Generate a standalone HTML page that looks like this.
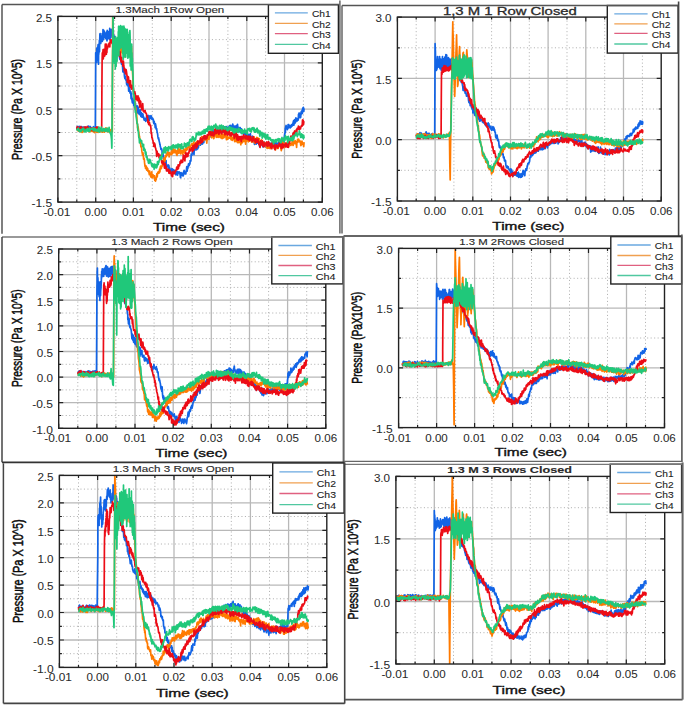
<!DOCTYPE html><html><head><meta charset="utf-8"><style>html,body{margin:0;padding:0;background:#fff;}svg{display:block;}</style></head><body>
<svg width="685" height="706" viewBox="0 0 685 706">
<rect width="685" height="706" fill="#fff"/>
<line x1="76.8" y1="16.4" x2="76.8" y2="202.1" stroke="#b4b4b4" stroke-width="1" stroke-dasharray="1.1,2.4"/><line x1="95.7" y1="16.4" x2="95.7" y2="202.1" stroke="#b8b8b8" stroke-width="1.3"/><line x1="114.6" y1="16.4" x2="114.6" y2="202.1" stroke="#b4b4b4" stroke-width="1" stroke-dasharray="1.1,2.4"/><line x1="133.4" y1="16.4" x2="133.4" y2="202.1" stroke="#b8b8b8" stroke-width="1.3"/><line x1="152.3" y1="16.4" x2="152.3" y2="202.1" stroke="#b4b4b4" stroke-width="1" stroke-dasharray="1.1,2.4"/><line x1="171.2" y1="16.4" x2="171.2" y2="202.1" stroke="#b8b8b8" stroke-width="1.3"/><line x1="190.1" y1="16.4" x2="190.1" y2="202.1" stroke="#b4b4b4" stroke-width="1" stroke-dasharray="1.1,2.4"/><line x1="209.0" y1="16.4" x2="209.0" y2="202.1" stroke="#b8b8b8" stroke-width="1.3"/><line x1="227.9" y1="16.4" x2="227.9" y2="202.1" stroke="#b4b4b4" stroke-width="1" stroke-dasharray="1.1,2.4"/><line x1="246.8" y1="16.4" x2="246.8" y2="202.1" stroke="#b8b8b8" stroke-width="1.3"/><line x1="265.6" y1="16.4" x2="265.6" y2="202.1" stroke="#b4b4b4" stroke-width="1" stroke-dasharray="1.1,2.4"/><line x1="284.5" y1="16.4" x2="284.5" y2="202.1" stroke="#b8b8b8" stroke-width="1.3"/><line x1="303.4" y1="16.4" x2="303.4" y2="202.1" stroke="#b4b4b4" stroke-width="1" stroke-dasharray="1.1,2.4"/><line x1="57.9" y1="178.9" x2="322.3" y2="178.9" stroke="#b4b4b4" stroke-width="1" stroke-dasharray="1.1,2.4"/><line x1="57.9" y1="155.7" x2="322.3" y2="155.7" stroke="#b8b8b8" stroke-width="1.3"/><line x1="57.9" y1="132.5" x2="322.3" y2="132.5" stroke="#b4b4b4" stroke-width="1" stroke-dasharray="1.1,2.4"/><line x1="57.9" y1="109.2" x2="322.3" y2="109.2" stroke="#b8b8b8" stroke-width="1.3"/><line x1="57.9" y1="86.0" x2="322.3" y2="86.0" stroke="#b4b4b4" stroke-width="1" stroke-dasharray="1.1,2.4"/><line x1="57.9" y1="62.8" x2="322.3" y2="62.8" stroke="#b8b8b8" stroke-width="1.3"/><line x1="57.9" y1="39.6" x2="322.3" y2="39.6" stroke="#b4b4b4" stroke-width="1" stroke-dasharray="1.1,2.4"/>
<clipPath id="cTL"><rect x="57.9" y="16.9" width="264.4" height="185.2"/></clipPath>
<g fill="none" stroke-width="1.7" stroke-linejoin="round" clip-path="url(#cTL)">
<path d="M76.8,127.6 77.1,128.7 77.5,126.6 77.8,126.8 78.1,126.5 78.5,127.7 78.8,128.1 79.2,127.0 79.5,130.1 79.8,126.4 80.2,127.7 80.5,127.9 80.9,126.9 81.2,127.4 81.5,126.7 81.9,129.0 82.2,127.4 82.6,128.7 82.9,127.1 83.2,130.1 83.6,127.5 83.9,127.3 84.3,127.1 84.6,129.3 84.9,127.8 85.3,127.7 85.6,127.7 86.0,129.0 86.3,127.6 86.6,128.2 87.0,127.5 87.3,127.9 87.7,126.5 88.0,127.6 88.3,127.8 88.7,126.0 89.0,127.8 89.4,127.8 89.7,129.3 90.0,128.4 90.4,126.7 90.7,128.3 91.1,128.0 91.4,128.2 91.7,130.7 92.1,129.6 92.4,128.1 92.8,128.7 93.1,127.5 93.4,126.7 93.8,129.5 94.1,128.9 94.5,128.7 94.8,127.4 95.1,127.0 95.3,129.5 95.5,92.7 95.7,52.8 95.8,59.0 96.0,57.3 96.1,54.7 96.2,55.6 96.4,54.8 96.5,59.8 96.6,62.5 96.7,48.5 96.8,48.2 96.9,57.9 97.0,48.0 97.1,55.4 97.3,53.7 97.4,50.0 97.5,60.5 97.7,54.9 97.8,54.4 97.9,46.7 98.1,44.6 98.2,50.7 98.3,45.1 98.5,64.2 98.6,52.3 98.7,52.1 98.7,54.7 98.9,52.1 99.0,51.6 99.1,46.3 99.3,42.8 99.4,40.3 99.5,51.8 99.7,40.0 99.8,38.1 99.9,34.1 100.1,33.6 100.2,38.1 100.2,35.4 100.3,40.7 100.4,42.7 100.6,40.8 100.7,43.5 100.8,43.1 101.0,40.0 101.1,39.0 101.2,41.2 101.4,38.3 101.5,38.7 101.6,37.6 101.8,35.8 101.9,41.0 102.0,37.8 102.2,33.6 102.3,41.4 102.4,38.2 102.6,33.5 102.7,34.6 102.8,37.8 103.0,29.5 103.1,31.5 103.2,33.2 103.4,34.9 103.5,39.7 103.6,33.8 103.8,30.4 103.9,37.0 104.0,32.0 104.2,31.2 104.3,31.4 104.4,36.1 104.5,35.8 104.7,35.1 104.8,37.5 104.9,36.7 105.1,37.6 105.2,35.3 105.3,33.6 105.5,36.7 105.6,34.6 105.7,38.4 105.9,32.8 106.0,35.4 106.1,35.1 106.3,39.3 106.4,35.6 106.5,31.9 106.7,40.1 106.8,37.8 106.9,38.1 107.0,40.9 107.1,40.0 107.2,30.4 107.3,35.8 107.5,39.0 107.6,33.7 107.7,32.4 107.9,37.2 108.0,35.6 108.1,37.7 108.2,38.4 108.4,36.9 108.5,31.6 108.6,34.0 108.8,35.5 108.9,32.3 109.0,35.0 109.2,31.5 109.3,38.9 109.4,35.3 109.6,39.1 109.7,28.4 109.8,36.1 110.0,32.4 110.1,39.7 110.2,31.3 110.4,37.8 110.5,36.5 110.6,34.3 110.8,36.2 110.9,29.7 111.0,37.4 111.2,32.6 111.3,30.1 111.4,30.8 111.6,34.2 111.7,34.1 111.8,29.4 112.0,32.5 112.1,32.1 112.2,34.7 112.3,33.0 112.5,35.5 112.6,35.9 112.7,30.4 112.7,36.0 112.9,34.4 113.0,35.8 113.1,39.5 113.3,31.6 113.4,35.3 113.5,38.4 113.7,40.4 113.8,38.7 113.9,42.8 114.1,43.5 114.2,39.8 114.3,40.5 114.5,36.2 114.6,40.4 114.7,41.0 114.9,43.0 115.0,43.1 115.1,39.0 115.3,42.7 115.4,46.0 115.5,47.6 115.7,48.5 115.8,42.6 115.9,43.8 116.0,44.7 116.2,45.8 116.3,45.4 116.4,46.3 116.8,47.0 117.1,49.1 117.5,48.8 117.8,51.4 118.1,50.7 118.5,48.7 118.8,50.1 119.2,54.6 119.5,57.2 119.8,59.2 120.2,59.6 120.2,58.5 120.5,55.8 120.9,59.8 121.2,60.6 121.5,64.2 121.9,62.9 122.2,62.7 122.6,67.2 122.9,71.9 123.2,67.7 123.6,72.1 123.9,71.2 124.3,73.4 124.4,75.7 124.6,77.1 124.9,78.7 125.3,76.2 125.6,78.2 126.0,80.3 126.3,79.9 126.6,84.3 127.0,83.6 127.3,85.7 127.7,83.0 128.0,82.1 128.3,83.7 128.7,91.2 128.9,88.5 129.0,90.4 129.4,85.0 129.7,87.0 130.0,93.0 130.4,93.2 130.7,91.6 131.1,98.8 131.4,93.1 131.7,97.6 132.1,100.8 132.4,102.8 132.7,102.3 132.8,98.6 133.1,102.6 133.4,99.7 133.8,105.4 134.1,100.3 134.5,105.3 134.8,107.6 135.1,103.3 135.3,104.1 135.5,103.3 135.8,109.7 136.2,107.7 136.5,109.1 136.8,111.9 137.2,105.8 137.5,106.6 137.9,113.2 138.2,107.1 138.5,110.1 138.9,110.9 139.2,114.4 139.6,113.3 139.9,111.0 140.2,109.8 140.6,115.6 140.9,116.5 141.0,116.5 141.3,112.6 141.6,113.5 141.9,117.1 142.3,114.6 142.6,113.8 143.0,114.3 143.3,117.6 143.6,116.9 144.0,119.4 144.3,120.1 144.7,119.6 145.0,118.4 145.3,119.3 145.7,121.4 146.0,118.9 146.4,119.0 146.7,115.7 146.7,116.6 147.0,116.1 147.4,120.6 147.7,119.4 148.1,115.3 148.4,116.9 148.7,120.1 149.1,119.2 149.4,120.1 149.8,115.9 150.1,116.4 150.4,118.1 150.8,116.7 151.1,115.7 151.5,118.0 151.6,116.8 151.8,119.2 152.1,119.5 152.5,118.0 152.8,118.9 153.2,119.0 153.5,120.8 153.8,123.7 154.2,121.4 154.5,123.3 154.9,123.9 155.2,127.7 155.5,123.9 155.9,126.2 156.1,127.9 156.2,129.2 156.6,128.4 156.9,130.6 157.2,132.3 157.6,134.0 157.9,136.7 158.3,138.8 158.6,137.7 158.9,140.0 159.3,141.6 159.6,142.7 159.9,145.0 160.0,144.0 160.3,146.5 160.6,147.1 161.0,149.5 161.3,149.1 161.7,148.9 162.0,150.4 162.3,156.4 162.7,156.4 163.0,153.5 163.4,158.6 163.7,156.9 164.0,161.9 164.4,159.8 164.7,159.8 165.1,160.5 165.4,160.8 165.7,163.7 166.1,160.6 166.4,167.1 166.8,165.8 167.1,165.5 167.4,166.4 167.8,166.8 168.1,164.9 168.5,168.3 168.8,165.3 169.1,167.2 169.5,171.9 169.7,170.2 169.8,168.0 170.2,170.3 170.5,172.7 170.8,171.0 171.2,171.6 171.5,171.0 171.9,168.7 172.2,171.9 172.5,173.6 172.9,169.3 173.2,169.9 173.6,169.8 173.9,173.5 174.2,171.7 174.6,171.3 174.9,170.4 175.3,171.8 175.6,172.2 175.7,173.0 175.9,174.9 176.3,171.8 176.6,171.3 177.0,172.5 177.3,171.5 177.6,175.2 178.0,172.5 178.3,172.9 178.7,172.0 179.0,172.6 179.3,172.0 179.7,173.7 180.0,173.5 180.4,177.5 180.7,177.7 181.0,172.5 181.4,174.9 181.7,173.7 182.1,173.2 182.4,175.4 182.7,175.7 183.1,175.9 183.4,175.1 183.7,171.6 183.8,171.8 184.1,170.4 184.4,171.8 184.8,173.8 185.1,173.9 185.5,173.2 185.8,173.9 186.1,171.4 186.5,169.2 186.7,167.2 186.8,166.6 187.2,171.1 187.5,167.4 187.8,168.6 188.2,166.0 188.5,163.8 188.9,164.1 189.2,165.6 189.5,163.2 189.9,164.0 190.2,160.7 190.6,161.4 190.9,160.7 191.2,154.6 191.6,154.1 191.6,154.5 191.9,155.2 192.3,152.6 192.6,150.9 192.9,152.6 193.3,152.7 193.6,152.2 194.0,154.6 194.3,148.8 194.6,148.4 195.0,147.6 195.3,148.0 195.7,149.9 196.0,148.9 196.3,148.4 196.7,149.7 197.0,148.7 197.4,146.4 197.7,144.8 197.7,148.9 198.0,144.3 198.4,147.7 198.7,144.2 199.1,144.5 199.4,144.2 199.7,142.7 200.1,144.3 200.4,145.1 200.8,140.2 201.1,143.6 201.4,144.1 201.8,143.5 202.1,143.1 202.5,144.0 202.8,138.0 203.1,138.5 203.5,139.1 203.8,142.6 204.2,137.1 204.5,136.8 204.8,136.2 205.2,137.9 205.2,138.9 205.5,136.4 205.9,136.8 206.2,140.0 206.5,140.8 206.9,138.8 207.2,139.4 207.6,139.0 207.9,136.8 208.2,135.3 208.6,135.6 208.9,135.1 209.3,135.6 209.6,136.2 209.9,133.7 210.3,135.8 210.6,136.7 210.9,132.4 211.3,135.6 211.6,135.6 212.0,132.7 212.3,132.9 212.6,132.7 213.0,130.5 213.3,131.9 213.7,131.3 214.0,132.0 214.3,132.5 214.7,131.7 215.0,134.2 215.4,134.6 215.4,131.4 215.7,134.5 216.0,129.9 216.4,132.1 216.7,130.4 217.1,132.2 217.4,134.2 217.7,134.9 218.1,134.2 218.4,131.4 218.8,133.2 219.1,130.1 219.4,132.5 219.8,131.3 220.1,131.9 220.5,127.5 220.8,131.6 221.1,132.5 221.5,132.5 221.8,128.2 222.2,129.5 222.5,127.3 222.8,132.3 223.2,130.0 223.5,126.6 223.9,128.7 224.2,129.3 224.5,126.9 224.9,131.5 225.2,127.1 225.6,129.2 225.9,129.0 226.2,129.1 226.6,126.5 226.9,129.0 227.3,127.4 227.6,130.1 227.9,129.2 228.3,127.5 228.6,128.2 229.0,126.6 229.3,128.8 229.6,125.5 230.0,129.6 230.3,129.9 230.7,125.3 231.0,126.6 231.3,129.7 231.7,128.6 232.0,126.1 232.4,128.9 232.7,124.0 233.0,125.2 233.4,127.5 233.7,126.0 234.1,127.9 234.4,129.8 234.7,126.5 235.1,125.9 235.4,130.4 235.8,130.5 236.1,129.9 236.4,130.1 236.8,125.4 237.1,129.2 237.5,124.3 237.8,127.3 238.1,130.2 238.1,127.0 238.5,131.5 238.8,129.9 239.2,127.7 239.5,128.7 239.8,131.8 240.2,127.7 240.5,130.2 240.9,131.7 241.2,132.9 241.5,128.8 241.9,131.4 242.2,131.7 242.6,132.8 242.9,130.9 243.2,134.1 243.6,134.0 243.9,134.2 244.3,130.9 244.6,133.7 244.9,133.7 245.3,133.9 245.6,134.5 246.0,132.2 246.3,136.7 246.6,133.6 247.0,138.1 247.3,135.4 247.5,133.4 247.7,137.4 248.0,135.1 248.3,137.3 248.7,137.6 249.0,134.7 249.4,137.5 249.7,136.5 250.0,135.4 250.4,133.7 250.7,139.7 251.1,138.3 251.4,140.6 251.7,140.9 252.1,137.0 252.4,136.2 252.8,138.7 253.1,138.1 253.4,141.6 253.8,141.9 254.1,141.3 254.5,144.4 254.8,142.9 255.1,142.4 255.5,140.0 255.8,141.5 256.2,144.1 256.5,142.0 256.8,142.9 257.0,143.2 257.2,143.2 257.5,142.9 257.9,141.8 258.2,143.4 258.5,142.6 258.9,144.5 259.2,143.0 259.6,146.6 259.9,142.5 260.2,141.9 260.6,142.5 260.9,143.0 261.3,144.2 261.6,142.7 261.9,143.5 262.3,145.6 262.6,145.2 263.0,147.0 263.3,146.2 263.6,146.1 264.0,141.9 264.3,145.8 264.7,143.3 265.0,146.0 265.3,146.7 265.7,144.7 266.0,143.0 266.4,147.4 266.4,147.0 266.7,143.8 267.0,145.6 267.4,147.5 267.7,144.3 268.1,147.8 268.4,147.7 268.7,147.9 269.1,143.6 269.4,143.3 269.8,142.9 270.1,144.3 270.4,143.6 270.8,144.0 271.1,143.6 271.5,143.6 271.8,146.1 272.1,143.7 272.5,144.5 272.8,145.9 273.2,146.5 273.5,143.0 273.8,142.8 274.2,145.2 274.5,142.4 274.9,144.3 275.2,144.3 275.5,142.5 275.8,141.9 275.9,145.7 276.2,141.3 276.6,143.5 276.9,143.3 277.2,144.7 277.6,143.7 277.9,145.6 278.3,143.5 278.6,142.1 278.9,140.6 279.3,140.6 279.6,141.5 280.0,142.3 280.3,140.9 280.6,144.3 281.0,142.2 281.3,140.2 281.7,142.8 282.0,139.5 282.3,141.1 282.7,142.8 283.0,143.9 283.4,144.5 283.7,142.1 284.0,144.5 284.2,140.0 284.4,136.4 284.7,134.3 285.1,132.5 285.3,128.0 285.4,132.3 285.7,126.6 286.1,125.5 286.4,127.8 286.8,127.3 287.1,127.3 287.4,129.6 287.8,128.2 288.1,124.6 288.5,128.0 288.8,124.6 289.1,127.0 289.5,125.8 289.8,127.5 290.2,127.9 290.5,125.6 290.8,126.6 291.2,127.0 291.5,124.8 291.9,125.2 292.2,126.0 292.5,123.8 292.8,125.3 292.9,123.8 293.2,122.2 293.6,120.7 293.9,125.1 294.2,121.4 294.6,119.6 294.9,123.4 295.3,121.3 295.6,122.2 295.9,117.8 296.3,119.7 296.6,120.4 297.0,121.0 297.3,120.0 297.6,118.7 298.0,120.3 298.3,119.3 298.5,114.4 298.7,116.5 299.0,113.2 299.3,116.0 299.7,113.4 300.0,117.8 300.4,115.7 300.7,117.3 301.0,113.0 301.4,111.3 301.7,113.8 302.1,110.0 302.4,113.3 302.7,108.1 303.1,108.6 303.4,107.3 303.8,111.5 304.1,108.5" stroke="#1264e6"/>
<path d="M76.8,130.3 77.1,130.1 77.5,129.9 77.8,128.8 78.1,130.9 78.5,131.1 78.8,130.2 79.2,129.6 79.5,127.8 79.8,129.3 80.2,130.1 80.5,129.7 80.9,132.0 81.2,129.8 81.5,128.8 81.9,131.3 82.2,132.5 82.6,131.6 82.9,130.2 83.2,131.5 83.6,129.6 83.9,129.1 84.3,128.5 84.6,130.0 84.9,130.4 85.3,128.5 85.6,128.9 86.0,129.3 86.3,129.4 86.6,128.6 87.0,129.0 87.3,129.0 87.7,129.8 88.0,129.3 88.3,130.1 88.7,129.4 89.0,131.8 89.4,131.2 89.7,131.6 90.0,129.9 90.4,131.4 90.7,129.2 91.1,129.4 91.4,128.8 91.7,131.5 92.1,131.5 92.4,128.9 92.8,128.4 93.1,128.4 93.4,131.7 93.8,130.5 94.1,128.2 94.5,132.7 94.8,130.1 95.1,131.7 95.5,130.9 95.8,131.0 96.2,130.1 96.5,132.1 96.8,132.2 97.2,130.5 97.5,129.4 97.9,132.4 98.2,131.6 98.5,131.8 98.9,129.1 99.2,129.7 99.6,130.9 99.9,128.6 100.2,129.3 100.6,131.2 100.9,130.3 101.3,130.2 101.6,132.0 101.9,130.1 102.3,131.7 102.6,132.2 103.0,130.1 103.3,129.7 103.6,129.4 104.0,130.3 104.3,132.2 104.7,130.4 105.0,128.8 105.3,128.7 105.7,128.0 106.0,130.0 106.4,131.4 106.7,129.4 107.0,128.4 107.4,129.2 107.7,130.8 108.1,131.1 108.4,131.8 108.7,131.5 109.1,131.0 109.4,130.6 109.8,132.1 110.1,129.6 110.4,131.3 110.8,131.8 111.1,130.9 111.5,131.9 111.8,128.9 112.1,131.2 112.3,131.7 112.5,73.4 112.7,14.9 112.8,26.4 113.0,33.1 113.1,25.8 113.2,31.4 113.3,37.9 113.5,38.0 113.6,50.0 113.7,54.8 113.8,45.3 113.9,51.3 114.0,50.1 114.1,51.0 114.3,44.2 114.4,55.3 114.5,47.5 114.7,51.7 114.8,44.7 114.9,53.2 115.1,41.6 115.2,49.5 115.3,48.0 115.5,42.1 115.6,42.2 115.7,44.4 115.9,41.7 116.0,48.7 116.1,49.4 116.3,50.0 116.4,45.5 116.5,45.2 116.7,44.8 116.8,46.6 116.9,49.2 117.1,47.0 117.2,42.4 117.3,54.2 117.4,51.1 117.6,43.7 117.7,40.1 117.8,47.4 118.0,41.5 118.1,53.1 118.2,51.9 118.3,44.4 118.4,45.8 118.5,48.0 118.6,43.9 118.8,40.5 118.9,38.6 119.0,49.2 119.2,45.7 119.3,53.5 119.4,51.8 119.6,51.5 119.7,53.6 119.8,52.7 120.0,43.5 120.1,42.2 120.2,50.6 120.4,52.3 120.5,50.9 120.6,55.9 120.8,52.9 120.9,49.0 121.0,44.4 121.1,44.1 121.3,50.9 121.4,52.1 121.5,49.6 121.7,47.6 121.8,51.0 121.9,41.0 122.1,40.3 122.2,46.7 122.3,43.2 122.5,43.7 122.6,39.6 122.7,40.4 122.9,50.7 123.0,51.0 123.1,49.2 123.3,50.9 123.4,51.2 123.5,52.2 123.7,41.2 123.8,39.8 123.9,41.9 124.0,47.2 124.1,47.0 124.2,55.0 124.3,45.4 124.5,54.0 124.6,46.2 124.7,50.6 124.8,45.7 125.0,56.8 125.1,43.2 125.2,50.5 125.4,43.1 125.5,50.1 125.6,48.6 125.8,51.7 125.9,41.9 126.0,51.5 126.2,44.5 126.3,49.7 126.4,48.0 126.6,48.0 126.7,52.8 126.8,47.5 127.0,45.0 127.1,42.8 127.2,43.2 127.4,44.2 127.5,50.2 127.6,49.2 127.8,54.3 127.9,52.4 128.0,46.6 128.2,46.1 128.3,47.2 128.4,44.7 128.6,50.5 128.7,45.7 128.8,46.2 128.9,51.6 129.1,54.3 129.2,51.0 129.3,43.3 129.5,44.8 129.6,52.5 129.7,44.7 129.7,52.6 129.9,55.2 130.0,49.8 130.1,56.0 130.3,53.9 130.4,57.2 130.5,55.8 130.7,58.3 130.8,48.8 130.9,53.2 131.1,52.5 131.2,48.9 131.3,55.3 131.5,46.3 131.6,62.2 131.6,48.0 131.7,57.5 131.9,52.7 132.0,62.8 132.1,67.3 132.3,70.8 132.4,70.3 132.7,75.3 133.1,87.5 133.4,89.0 133.7,93.3 134.1,94.6 134.4,99.2 134.8,98.9 135.1,105.2 135.4,109.1 135.8,107.8 136.1,113.6 136.5,113.3 136.8,116.7 137.1,123.9 137.5,124.0 137.6,127.9 137.8,125.9 138.2,127.6 138.5,130.0 138.8,132.5 139.2,135.4 139.5,136.2 139.9,140.1 140.2,141.7 140.5,142.3 140.9,146.8 141.2,146.1 141.6,148.1 141.8,150.8 141.9,151.4 142.2,152.7 142.6,155.3 142.9,152.7 143.3,155.1 143.6,159.2 143.9,158.1 144.3,159.2 144.6,162.9 145.0,166.5 145.3,165.4 145.5,168.1 145.6,168.5 146.0,166.6 146.3,166.2 146.7,170.1 147.0,167.5 147.3,170.4 147.7,168.7 148.0,171.5 148.4,170.6 148.7,170.9 149.0,172.8 149.4,174.7 149.7,171.0 150.1,174.9 150.4,173.8 150.7,176.9 151.1,173.0 151.4,177.1 151.6,177.0 151.8,171.9 152.1,177.9 152.4,175.0 152.8,176.0 153.1,174.8 153.5,175.6 153.8,176.1 154.1,178.1 154.5,175.9 154.8,180.5 155.2,178.0 155.4,180.2 155.5,181.1 155.8,177.9 156.2,179.7 156.5,176.6 156.9,173.7 157.2,177.0 157.5,174.3 157.9,172.1 158.2,172.4 158.6,173.0 158.9,171.4 159.1,173.0 159.2,172.8 159.6,169.1 159.9,171.8 160.3,167.3 160.6,166.3 160.9,166.0 161.3,168.7 161.6,166.6 162.0,166.4 162.3,165.8 162.6,161.2 163.0,164.4 163.3,161.2 163.3,163.3 163.7,161.0 164.0,157.9 164.3,158.8 164.7,160.5 165.0,161.1 165.4,156.1 165.7,155.5 166.0,156.9 166.4,156.1 166.7,153.3 167.1,155.4 167.4,151.9 167.4,153.9 167.7,153.5 168.1,154.2 168.4,153.7 168.8,152.4 169.1,156.9 169.4,153.8 169.8,153.0 170.1,153.6 170.5,154.3 170.8,154.4 171.1,154.8 171.5,150.9 171.8,151.8 172.2,153.8 172.5,150.6 172.8,149.5 173.1,152.4 173.2,148.5 173.5,151.2 173.9,152.9 174.2,152.3 174.5,151.0 174.9,149.7 175.2,152.3 175.6,150.2 175.9,150.6 176.2,153.8 176.6,151.2 176.9,155.5 177.3,153.0 177.6,151.1 177.9,149.7 178.3,150.4 178.6,147.5 178.8,153.4 179.0,150.5 179.3,151.3 179.6,150.6 180.0,149.4 180.3,149.7 180.7,154.0 181.0,152.4 181.3,152.2 181.7,151.5 182.0,150.5 182.4,151.6 182.7,154.2 183.0,150.6 183.4,152.4 183.7,148.7 184.1,150.4 184.4,150.1 184.7,153.1 184.8,152.4 185.1,149.7 185.4,151.9 185.8,150.4 186.1,147.7 186.4,150.2 186.8,148.6 187.1,149.6 187.5,149.6 187.8,147.1 188.1,147.5 188.5,146.6 188.8,143.2 189.2,147.7 189.5,146.7 189.8,146.6 190.1,150.2 190.2,148.1 190.5,146.2 190.9,145.9 191.2,144.5 191.5,144.4 191.9,143.6 192.2,143.7 192.6,145.9 192.9,144.3 193.2,143.5 193.6,144.7 193.9,141.9 194.3,145.8 194.6,144.4 194.9,144.1 195.3,143.7 195.6,144.2 196.0,142.9 196.3,145.5 196.6,141.5 197.0,142.6 197.3,142.0 197.7,144.0 198.0,142.5 198.3,141.8 198.7,142.5 199.0,144.5 199.4,143.7 199.7,142.9 200.0,143.9 200.4,142.0 200.7,140.5 201.1,140.0 201.4,139.3 201.7,136.5 202.1,140.8 202.4,141.0 202.8,141.1 203.1,137.4 203.4,138.6 203.8,139.9 204.1,139.9 204.5,139.4 204.8,139.8 205.1,137.5 205.5,138.0 205.8,138.9 206.2,137.0 206.5,139.2 206.8,143.1 207.2,135.5 207.5,139.4 207.9,136.1 208.2,137.4 208.5,138.6 208.9,136.1 209.0,139.5 209.2,137.5 209.6,135.1 209.9,136.0 210.2,135.1 210.6,134.9 210.9,135.0 211.3,134.2 211.6,137.8 211.9,133.7 212.3,134.6 212.6,135.7 213.0,133.8 213.3,136.8 213.6,138.6 214.0,138.2 214.3,133.6 214.7,133.3 215.0,134.9 215.3,133.8 215.7,134.9 216.0,136.4 216.4,137.3 216.7,134.2 217.0,137.0 217.4,133.9 217.7,135.2 218.1,137.4 218.4,135.1 218.7,135.3 219.1,137.0 219.2,136.2 219.4,133.4 219.8,134.7 220.1,134.8 220.4,137.7 220.8,135.0 221.1,137.8 221.5,134.5 221.8,134.5 222.1,138.6 222.5,135.1 222.8,136.1 223.2,134.2 223.5,138.0 223.8,136.4 224.2,137.4 224.5,136.2 224.8,136.6 225.2,133.7 225.5,136.5 225.9,134.8 226.2,138.3 226.5,139.7 226.9,135.5 227.2,135.8 227.6,139.4 227.9,137.4 227.9,138.5 228.2,138.0 228.6,138.4 228.9,137.2 229.3,138.2 229.6,138.1 229.9,137.4 230.3,135.9 230.6,134.9 231.0,139.6 231.3,137.0 231.6,140.0 232.0,137.2 232.3,140.3 232.7,138.7 233.0,138.1 233.3,139.4 233.7,136.7 234.0,136.9 234.4,140.0 234.7,141.7 235.0,138.9 235.4,137.9 235.7,141.3 236.1,139.9 236.4,140.8 236.7,139.0 237.1,141.8 237.4,142.4 237.8,141.2 238.1,139.9 238.1,142.7 238.4,141.5 238.8,138.6 239.1,139.8 239.5,142.5 239.8,138.6 240.1,139.5 240.5,141.3 240.8,144.8 241.2,140.8 241.5,139.9 241.8,143.2 242.2,140.8 242.5,142.3 242.9,140.3 243.2,139.2 243.5,139.5 243.9,141.3 244.2,140.4 244.6,138.7 244.9,141.7 245.2,137.7 245.6,144.1 245.9,140.5 246.3,141.2 246.6,137.8 246.8,137.2 246.9,140.6 247.3,136.9 247.6,139.6 248.0,137.8 248.3,141.8 248.6,140.0 249.0,139.3 249.3,141.2 249.7,138.2 250.0,137.4 250.3,140.7 250.7,139.0 251.0,137.3 251.4,139.1 251.7,142.1 252.0,141.9 252.4,140.8 252.7,139.1 253.1,139.0 253.4,141.9 253.7,139.4 254.1,136.9 254.4,138.9 254.8,139.3 255.1,143.5 255.4,142.0 255.8,139.1 256.1,140.4 256.5,140.0 256.8,137.3 257.1,140.7 257.5,139.3 257.8,137.9 258.1,139.5 258.2,142.2 258.5,142.5 258.8,140.9 259.2,138.5 259.5,142.1 259.9,141.4 260.2,144.6 260.5,142.5 260.9,142.4 261.2,141.3 261.6,139.9 261.9,142.6 262.2,141.2 262.6,144.7 262.9,143.0 263.3,144.5 263.6,142.1 263.9,145.3 264.3,143.1 264.6,144.8 265.0,142.5 265.3,143.2 265.6,143.8 266.0,144.4 266.3,147.8 266.4,144.3 266.7,146.3 267.0,147.0 267.3,145.4 267.7,148.3 268.0,145.8 268.4,144.2 268.7,144.2 269.0,146.9 269.4,148.4 269.7,144.5 270.1,144.7 270.4,144.5 270.7,148.6 271.1,146.1 271.4,146.0 271.8,146.1 272.1,146.8 272.4,145.2 272.8,145.3 273.1,146.4 273.5,147.9 273.8,146.7 274.1,147.5 274.5,145.0 274.8,147.0 275.2,147.1 275.5,149.9 275.8,146.9 276.2,146.1 276.5,145.9 276.9,147.7 277.2,146.8 277.5,148.5 277.9,146.7 278.2,148.4 278.6,144.5 278.9,146.3 279.2,144.7 279.6,146.0 279.9,146.4 280.3,144.3 280.6,147.0 280.9,148.8 281.3,150.6 281.6,147.1 282.0,147.1 282.3,146.0 282.6,143.3 283.0,141.7 283.3,147.1 283.7,147.4 284.0,143.1 284.3,147.6 284.5,144.2 284.7,144.6 285.0,144.9 285.4,144.2 285.7,143.2 286.0,146.4 286.4,145.4 286.7,143.4 287.1,142.9 287.4,145.3 287.7,144.8 288.1,143.6 288.4,147.2 288.8,146.6 289.1,142.4 289.4,143.8 289.8,143.3 290.1,144.5 290.5,143.9 290.8,145.5 291.1,145.1 291.5,143.0 291.8,144.5 292.2,141.2 292.5,144.8 292.8,142.9 293.2,145.5 293.5,141.6 293.9,141.2 294.0,143.2 294.2,143.4 294.5,141.3 294.9,143.7 295.2,140.7 295.6,141.4 295.9,142.7 296.2,142.9 296.6,147.5 296.9,142.4 297.3,140.8 297.6,139.4 297.9,142.1 298.3,139.0 298.6,139.0 299.0,140.6 299.3,140.3 299.6,141.9 300.0,141.5 300.3,141.1 300.7,145.0 301.0,145.6 301.3,144.0 301.7,141.5 302.0,141.2 302.4,143.7 302.7,144.3 303.0,143.9 303.4,145.0 303.4,143.9 303.7,146.6 304.1,142.1" stroke="#ff7a00"/>
<path d="M76.8,129.3 77.1,126.8 77.5,129.4 77.8,128.7 78.1,128.1 78.5,127.2 78.8,129.0 79.2,130.3 79.5,129.5 79.8,129.5 80.2,127.5 80.5,128.2 80.9,126.6 81.2,128.2 81.5,128.6 81.9,129.1 82.2,129.3 82.6,129.3 82.9,127.5 83.2,129.5 83.6,129.2 83.9,127.3 84.3,129.2 84.6,127.3 84.9,127.3 85.3,126.8 85.6,127.5 86.0,128.6 86.3,129.9 86.6,129.1 87.0,127.2 87.3,126.5 87.7,128.2 88.0,128.4 88.3,129.3 88.7,127.6 89.0,129.0 89.4,130.3 89.7,130.0 90.0,129.1 90.4,128.2 90.7,129.5 91.1,129.9 91.4,128.2 91.7,128.9 92.1,129.8 92.4,130.3 92.8,128.5 93.1,129.5 93.4,130.6 93.8,130.8 94.1,129.1 94.5,128.6 94.8,129.5 95.1,129.0 95.5,127.9 95.8,129.3 96.2,127.7 96.5,129.2 96.8,126.9 97.2,127.4 97.5,127.6 97.9,127.2 98.2,127.7 98.5,129.9 98.9,127.5 99.2,129.9 99.6,129.9 99.9,128.7 100.2,129.1 100.6,129.1 100.9,129.6 101.3,128.3 101.6,127.5 101.7,126.8 101.9,87.9 102.1,61.4 102.3,52.9 102.4,58.4 102.5,57.9 102.7,54.8 102.8,58.5 102.9,51.8 103.1,49.5 103.2,57.9 103.2,53.1 103.3,59.0 103.5,51.2 103.6,50.9 103.7,52.4 103.9,51.4 104.0,49.3 104.1,52.6 104.3,56.3 104.4,52.9 104.5,51.7 104.7,50.5 104.8,56.0 104.9,55.0 105.1,53.5 105.2,46.3 105.3,44.0 105.5,47.2 105.6,51.3 105.7,53.6 105.9,46.8 106.0,46.3 106.1,49.4 106.2,44.0 106.4,54.3 106.5,48.7 106.6,51.6 106.8,46.0 106.9,52.4 107.0,47.3 107.0,48.9 107.4,48.8 107.7,46.4 108.1,46.4 108.4,44.2 108.7,46.6 109.1,44.2 109.4,42.8 109.8,46.9 110.1,42.4 110.4,39.9 110.8,40.4 111.1,40.2 111.5,41.7 111.8,42.4 112.1,43.4 112.5,39.3 112.8,44.3 113.2,42.5 113.5,41.8 113.8,45.6 114.2,41.4 114.5,41.1 114.6,43.6 114.9,46.0 115.2,41.0 115.5,45.0 115.9,44.6 116.2,46.1 116.6,42.7 116.9,46.6 117.2,50.4 117.6,49.6 117.9,47.4 118.3,53.8 118.3,48.7 118.6,52.4 118.9,52.7 119.3,53.6 119.6,56.7 120.0,51.9 120.3,55.2 120.6,57.6 121.0,61.5 121.3,62.0 121.7,57.7 122.0,62.5 122.3,61.2 122.7,63.2 122.9,66.2 123.0,62.3 123.4,61.1 123.7,65.5 124.0,67.1 124.4,71.0 124.7,68.4 125.1,70.3 125.4,73.7 125.7,74.0 126.1,69.6 126.4,71.2 126.8,73.9 127.0,76.4 127.1,75.7 127.4,82.4 127.8,80.6 128.1,76.7 128.5,77.1 128.8,82.5 129.1,83.6 129.5,80.6 129.8,86.3 130.2,81.8 130.5,80.7 130.8,87.5 131.2,85.0 131.5,89.2 131.9,87.1 132.2,86.5 132.3,85.7 132.5,86.0 132.9,88.5 133.2,87.1 133.6,91.8 133.9,91.4 134.2,92.4 134.6,94.0 134.9,91.9 135.3,96.7 135.3,93.7 135.6,99.2 135.9,96.8 136.3,96.0 136.6,96.0 137.0,99.8 137.3,100.7 137.6,98.1 138.0,95.8 138.3,100.4 138.7,97.4 139.0,103.2 139.3,98.8 139.7,107.1 140.0,105.8 140.2,100.9 140.4,104.1 140.7,101.4 141.0,106.9 141.4,105.6 141.7,109.9 142.1,108.3 142.4,108.9 142.7,103.6 143.1,110.1 143.4,111.3 143.8,110.7 144.1,112.0 144.4,111.6 144.8,110.6 145.1,110.4 145.5,113.0 145.8,113.0 146.1,113.1 146.5,114.1 146.8,116.4 147.2,117.5 147.5,116.4 147.8,122.4 148.2,119.7 148.5,123.8 148.9,124.7 149.2,122.0 149.5,122.6 149.7,124.8 149.9,124.2 150.2,125.8 150.6,125.4 150.9,128.1 151.2,133.6 151.6,133.1 151.9,137.9 152.3,137.9 152.6,140.0 152.9,140.3 153.3,143.3 153.6,142.5 153.8,146.5 154.0,145.4 154.3,145.2 154.6,143.4 155.0,144.7 155.3,147.5 155.7,148.3 156.0,150.2 156.3,150.6 156.7,156.4 157.0,151.0 157.4,152.8 157.6,154.3 157.7,155.3 158.0,155.0 158.4,155.6 158.7,153.9 159.1,157.8 159.4,157.4 159.7,158.6 160.1,155.0 160.4,158.7 160.8,158.7 161.1,157.5 161.4,159.4 161.8,162.8 162.1,162.1 162.5,162.3 162.8,161.2 163.1,164.5 163.5,163.0 163.7,162.9 163.8,162.3 164.2,166.2 164.5,168.1 164.8,166.9 165.2,163.5 165.5,167.0 165.9,168.7 166.2,166.7 166.5,170.9 166.9,170.6 167.2,171.1 167.6,169.1 167.9,169.7 168.2,170.6 168.6,169.5 168.9,173.2 169.3,172.8 169.6,172.6 169.7,173.5 169.9,170.4 170.3,172.6 170.6,172.1 170.9,171.8 171.3,174.7 171.6,175.9 172.0,173.3 172.3,173.8 172.6,176.7 172.7,175.5 173.0,171.3 173.3,173.8 173.7,172.5 174.0,173.5 174.3,173.4 174.7,173.7 175.0,171.2 175.4,170.6 175.7,171.4 176.0,170.0 176.4,169.5 176.7,167.1 177.1,168.2 177.4,169.5 177.6,168.2 177.7,169.2 178.1,164.9 178.4,168.6 178.8,165.2 179.1,165.5 179.4,165.9 179.8,164.6 180.1,161.7 180.5,163.1 180.8,161.8 181.1,160.0 181.5,160.9 181.8,162.7 182.2,161.8 182.5,162.3 182.8,161.7 183.2,156.1 183.5,155.0 183.7,158.4 183.9,155.3 184.2,159.2 184.5,158.5 184.9,160.9 185.2,156.3 185.6,155.4 185.9,152.6 186.2,154.6 186.6,156.9 186.9,153.8 187.3,155.7 187.6,153.4 187.9,156.3 188.3,152.5 188.6,153.8 189.0,152.6 189.3,150.2 189.3,150.3 189.6,149.1 190.0,149.7 190.3,150.9 190.7,149.4 191.0,149.1 191.3,149.5 191.7,147.5 192.0,148.8 192.4,151.7 192.7,148.2 193.0,145.7 193.4,147.4 193.7,150.2 194.1,148.1 194.4,144.8 194.7,145.5 195.1,146.1 195.4,144.4 195.8,143.0 196.1,148.3 196.4,144.0 196.8,143.6 197.1,146.9 197.5,146.3 197.7,142.2 197.8,140.9 198.1,141.4 198.5,143.6 198.8,141.2 199.2,142.7 199.5,141.9 199.8,142.4 200.2,139.1 200.5,137.9 200.9,143.2 201.2,138.7 201.5,139.2 201.9,141.7 202.2,142.2 202.6,141.2 202.9,138.5 203.2,136.6 203.6,138.1 203.9,137.6 204.3,135.6 204.6,136.0 204.9,139.2 205.3,135.8 205.6,139.0 206.0,136.7 206.3,138.9 206.6,138.2 207.0,138.2 207.3,134.5 207.7,135.1 208.0,135.4 208.3,135.1 208.7,133.7 209.0,131.7 209.0,131.8 209.4,132.6 209.7,133.7 210.0,134.7 210.4,131.3 210.7,134.8 211.1,135.3 211.4,132.1 211.7,133.1 212.1,130.2 212.4,135.4 212.8,132.1 213.1,133.9 213.4,133.7 213.8,136.0 214.1,134.6 214.5,134.1 214.8,129.4 215.1,130.1 215.5,133.7 215.8,126.8 216.2,130.6 216.5,130.0 216.8,133.4 217.2,131.1 217.5,130.4 217.9,129.4 218.2,132.0 218.5,131.3 218.9,134.5 219.2,131.5 219.2,131.2 219.6,129.9 219.9,132.8 220.2,130.2 220.6,132.8 220.9,128.9 221.3,133.2 221.6,133.1 221.9,134.0 222.3,127.8 222.6,130.3 223.0,131.5 223.3,128.3 223.6,130.2 224.0,132.5 224.3,129.6 224.7,133.3 225.0,134.8 225.3,129.3 225.7,133.7 226.0,133.5 226.4,127.9 226.7,129.9 227.0,134.4 227.4,133.0 227.7,135.1 227.9,131.2 228.1,132.8 228.4,133.2 228.7,134.5 229.1,130.6 229.4,131.0 229.8,135.0 230.1,135.5 230.4,134.8 230.8,133.1 231.1,136.0 231.5,135.2 231.8,132.7 232.1,134.7 232.5,133.8 232.8,134.4 233.2,134.9 233.5,132.4 233.8,132.0 234.2,138.3 234.5,133.4 234.9,132.6 235.2,132.7 235.5,134.5 235.9,136.8 236.2,131.9 236.6,138.6 236.9,138.3 237.2,140.0 237.6,134.8 237.9,139.7 238.1,137.0 238.3,140.1 238.6,136.5 238.9,139.9 239.3,137.1 239.6,136.7 240.0,139.2 240.3,136.7 240.6,137.7 241.0,140.2 241.3,141.7 241.7,136.3 242.0,136.6 242.3,136.4 242.7,137.0 243.0,138.9 243.4,137.0 243.7,134.8 244.0,136.8 244.4,136.6 244.7,136.2 245.1,138.6 245.4,138.3 245.7,136.6 246.1,135.6 246.4,138.9 246.8,138.4 247.1,136.3 247.4,136.3 247.8,139.5 248.1,137.1 248.5,137.6 248.8,136.1 249.1,140.0 249.5,140.6 249.8,140.1 250.2,139.8 250.5,136.3 250.8,137.2 251.2,139.8 251.5,138.1 251.9,140.0 252.2,141.7 252.5,140.7 252.9,139.3 253.2,136.5 253.6,138.4 253.9,139.6 254.2,140.8 254.6,139.2 254.9,139.7 255.3,142.4 255.6,142.7 255.9,138.5 256.3,140.2 256.6,140.8 257.0,142.5 257.3,142.0 257.6,139.5 258.0,138.8 258.3,142.7 258.7,143.1 259.0,144.6 259.3,142.1 259.7,144.5 260.0,147.5 260.4,145.3 260.7,140.7 261.0,144.5 261.4,142.1 261.7,143.4 262.1,145.0 262.4,140.8 262.7,146.0 263.1,142.4 263.4,144.1 263.8,146.9 264.1,142.7 264.4,146.2 264.8,143.5 265.1,144.4 265.5,143.6 265.8,144.2 266.1,144.5 266.4,145.5 266.5,142.2 266.8,142.0 267.2,146.1 267.5,145.6 267.8,146.3 268.2,142.1 268.5,141.6 268.9,142.5 269.2,145.3 269.5,144.5 269.9,144.1 270.2,145.2 270.6,147.6 270.9,145.2 271.2,143.3 271.6,143.4 271.9,148.8 272.3,142.4 272.6,145.8 272.9,146.5 273.3,145.0 273.6,144.5 274.0,144.2 274.3,146.3 274.6,148.8 275.0,149.7 275.3,149.2 275.7,146.3 275.8,147.7 276.0,145.2 276.3,144.9 276.7,146.0 277.0,145.3 277.4,145.7 277.7,147.8 278.0,147.1 278.4,146.1 278.7,145.4 279.1,144.1 279.4,143.1 279.7,142.4 280.1,146.1 280.4,145.5 280.8,144.7 281.1,148.1 281.4,147.1 281.8,148.6 282.1,143.6 282.5,146.8 282.8,145.4 283.1,147.7 283.5,144.4 283.8,144.7 284.2,144.3 284.5,144.9 284.8,146.0 285.2,144.2 285.5,147.0 285.9,143.2 286.2,145.3 286.5,143.6 286.9,144.1 287.2,147.2 287.6,144.1 287.9,145.9 288.2,146.0 288.3,147.5 288.6,145.1 288.9,142.2 289.2,141.5 289.6,143.5 289.9,138.8 290.3,138.3 290.6,140.4 290.9,136.2 291.3,136.4 291.6,139.5 292.0,136.2 292.3,135.8 292.6,138.1 293.0,133.4 293.3,137.7 293.7,132.5 294.0,134.5 294.0,135.7 294.3,131.6 294.7,130.9 295.0,134.7 295.4,132.3 295.7,131.7 296.0,132.2 296.4,129.6 296.7,133.1 297.1,128.3 297.4,128.8 297.7,128.9 298.1,129.0 298.4,126.0 298.8,129.4 299.1,126.7 299.4,129.3 299.6,128.9 299.8,128.2 300.1,127.7 300.5,128.9 300.8,127.0 301.1,126.4 301.5,125.5 301.8,126.3 302.2,125.9 302.5,120.1 302.8,119.8 303.2,120.4 303.4,122.5 303.5,124.7 303.9,121.1" stroke="#ec0c16"/>
<path d="M76.8,130.6 77.1,129.2 77.5,129.0 77.8,129.8 78.1,129.4 78.5,128.2 78.8,130.9 79.2,131.1 79.5,131.3 79.8,130.5 80.2,130.3 80.5,129.8 80.9,131.6 81.2,130.9 81.5,130.9 81.9,129.0 82.2,129.7 82.6,128.5 82.9,128.8 83.2,128.2 83.6,129.7 83.9,128.9 84.3,131.8 84.6,130.0 84.9,131.6 85.3,130.3 85.6,131.9 86.0,129.5 86.3,130.8 86.6,130.1 87.0,130.9 87.3,128.5 87.7,130.3 88.0,129.5 88.3,131.4 88.7,128.8 89.0,129.3 89.4,128.1 89.7,131.5 90.0,130.5 90.4,129.6 90.7,129.1 91.1,129.4 91.4,129.2 91.7,129.0 92.1,128.4 92.4,128.3 92.8,129.7 93.1,129.0 93.4,130.7 93.8,128.9 94.1,128.3 94.5,129.6 94.8,128.7 95.1,131.0 95.5,130.4 95.8,129.0 96.2,129.6 96.5,130.6 96.8,130.5 97.2,131.4 97.5,130.5 97.9,129.1 98.2,131.4 98.5,131.7 98.9,127.2 99.2,128.7 99.6,132.1 99.9,130.7 100.2,129.7 100.6,129.4 100.9,129.3 101.3,127.2 101.6,129.3 101.9,130.9 102.3,131.4 102.6,129.0 103.0,130.3 103.3,130.0 103.6,128.6 104.0,128.5 104.3,131.1 104.7,131.0 105.0,130.6 105.3,128.9 105.7,131.3 106.0,129.8 106.4,129.6 106.7,129.7 107.0,130.5 107.0,128.0 107.4,131.2 107.7,131.2 108.1,131.6 108.4,131.5 108.7,129.7 109.1,127.3 109.4,131.6 109.8,131.5 110.1,133.2 110.4,133.1 110.8,134.6 111.1,135.8 111.5,139.4 111.8,148.2 111.9,145.3 112.1,110.1 112.5,63.5 112.7,49.7 112.8,50.7 113.0,14.2 113.1,26.9 113.2,45.7 113.3,37.7 113.5,46.4 113.6,55.6 113.7,46.2 113.9,53.7 114.0,45.7 114.1,40.5 114.2,62.0 114.3,39.4 114.4,63.5 114.5,62.6 114.7,41.2 114.8,60.6 114.9,63.6 115.1,47.6 115.2,44.3 115.3,68.9 115.5,36.5 115.6,46.6 115.7,40.7 115.9,63.9 116.0,57.3 116.1,66.2 116.1,56.7 116.3,61.2 116.4,60.8 116.5,42.9 116.7,59.0 116.8,57.1 116.9,55.7 117.1,61.4 117.2,38.2 117.3,46.7 117.4,37.7 117.6,53.5 117.7,42.1 117.8,37.3 118.0,44.5 118.1,45.1 118.2,44.3 118.3,31.7 118.4,55.3 118.5,54.2 118.6,26.4 118.8,33.6 118.9,55.5 119.0,26.3 119.2,46.7 119.3,32.0 119.4,29.2 119.6,49.1 119.7,43.8 119.8,40.7 120.0,29.5 120.1,44.4 120.2,41.7 120.4,47.3 120.5,43.2 120.6,25.7 120.8,47.8 120.9,26.3 121.0,29.9 121.1,32.9 121.3,29.0 121.4,45.5 121.5,45.8 121.7,30.2 121.8,46.4 121.9,46.0 122.1,39.4 122.2,28.3 122.3,26.3 122.5,33.4 122.6,53.0 122.7,53.5 122.9,42.2 123.0,41.5 123.1,57.4 123.3,59.3 123.4,38.8 123.5,48.0 123.7,53.4 123.8,31.1 123.9,26.0 124.0,43.9 124.1,30.1 124.2,29.5 124.3,27.7 124.5,29.1 124.6,50.8 124.7,56.0 124.8,31.9 125.0,56.6 125.1,57.1 125.2,29.8 125.4,30.7 125.5,54.4 125.6,29.1 125.8,56.9 125.9,47.1 126.0,49.8 126.2,40.8 126.3,43.3 126.4,49.6 126.6,30.9 126.7,40.0 126.8,35.1 127.0,53.2 127.1,35.8 127.2,29.3 127.4,41.2 127.5,51.3 127.6,47.6 127.8,45.7 127.9,58.2 128.0,55.1 128.2,56.9 128.3,34.9 128.4,45.7 128.6,46.0 128.7,42.0 128.8,35.2 128.9,42.5 129.1,57.0 129.2,37.2 129.3,32.5 129.5,37.8 129.6,31.3 129.7,45.9 129.7,31.1 129.9,30.5 130.0,32.7 130.1,36.8 130.3,66.0 130.4,49.3 130.5,54.7 130.7,52.0 130.8,59.0 130.9,58.7 131.1,69.9 131.2,52.9 131.3,62.9 131.5,56.5 131.6,45.9 131.7,44.2 131.9,67.2 132.0,52.9 132.1,59.4 132.3,58.4 132.3,61.2 132.4,62.6 132.7,69.4 133.1,78.1 133.4,89.4 133.4,94.1 133.7,94.6 134.1,95.0 134.4,100.1 134.8,101.2 135.1,109.0 135.4,112.4 135.8,111.1 136.1,116.4 136.5,118.8 136.8,121.5 137.1,123.6 137.5,123.9 137.8,130.2 138.2,130.8 138.5,133.3 138.8,137.3 139.2,138.6 139.5,143.0 139.5,138.6 139.9,139.1 140.2,139.9 140.5,140.6 140.9,140.2 141.2,141.3 141.6,140.7 141.9,143.7 142.2,143.7 142.6,146.4 142.9,144.4 143.3,147.4 143.6,144.4 143.6,149.7 143.9,150.4 144.3,148.1 144.6,150.6 145.0,149.5 145.3,153.7 145.6,154.2 146.0,152.2 146.3,157.3 146.7,157.3 147.0,156.3 147.3,159.9 147.7,158.6 147.8,159.6 148.0,159.8 148.4,162.8 148.7,163.3 149.0,163.4 149.4,161.5 149.7,159.3 150.1,161.9 150.4,160.0 150.7,162.6 151.1,162.8 151.4,164.4 151.8,166.1 152.1,163.6 152.4,166.7 152.8,166.5 153.1,166.2 153.5,164.3 153.8,167.7 153.8,165.1 154.1,169.3 154.5,164.0 154.8,167.3 155.2,167.7 155.5,166.5 155.8,164.5 156.2,165.5 156.5,167.8 156.9,167.0 157.2,165.6 157.5,161.5 157.6,165.0 157.9,162.5 158.2,164.5 158.6,161.9 158.9,162.5 159.2,160.2 159.6,160.0 159.9,158.3 160.3,156.7 160.6,156.6 160.9,156.4 161.3,159.3 161.6,158.2 162.0,154.4 162.3,153.4 162.6,153.0 163.0,153.1 163.3,151.1 163.7,151.4 164.0,147.8 164.3,151.1 164.7,152.7 165.0,148.8 165.4,146.9 165.7,152.9 166.0,147.8 166.4,150.2 166.7,148.2 167.1,149.4 167.4,147.7 167.7,150.5 168.1,147.9 168.4,151.0 168.8,146.7 169.1,148.8 169.4,147.8 169.7,148.4 169.8,147.9 170.1,147.8 170.5,147.0 170.8,146.9 171.1,149.3 171.5,146.2 171.8,149.5 172.2,145.8 172.5,145.4 172.8,145.2 173.2,147.6 173.5,144.9 173.9,147.7 174.2,146.8 174.5,146.0 174.9,148.0 175.2,145.5 175.6,148.0 175.9,145.6 176.2,145.0 176.6,147.2 176.9,146.5 177.3,146.5 177.6,145.3 177.6,148.7 177.9,144.2 178.3,146.8 178.6,144.3 179.0,145.8 179.3,145.7 179.6,146.8 180.0,144.5 180.3,147.6 180.7,148.3 181.0,144.6 181.3,148.8 181.7,143.8 182.0,145.9 182.4,147.7 182.7,147.8 183.0,148.7 183.4,147.6 183.7,146.9 184.1,145.7 184.4,143.0 184.7,146.0 185.1,144.6 185.4,143.9 185.6,146.8 185.8,147.1 186.1,144.6 186.4,143.9 186.8,146.4 187.1,143.1 187.5,144.9 187.8,142.8 188.1,143.9 188.5,144.2 188.8,145.6 189.2,141.7 189.5,142.9 189.8,139.5 190.2,140.3 190.5,139.2 190.9,140.4 191.2,139.9 191.5,141.3 191.9,141.7 192.2,137.1 192.6,139.6 192.9,136.7 193.2,136.9 193.5,138.7 193.6,138.5 193.9,138.0 194.3,140.9 194.6,140.9 194.9,139.1 195.3,139.3 195.6,139.7 196.0,136.5 196.3,133.0 196.6,135.8 197.0,133.6 197.3,133.7 197.7,134.2 198.0,133.2 198.3,132.1 198.7,134.8 199.0,132.5 199.4,132.5 199.5,132.3 199.7,134.0 200.0,134.8 200.4,132.9 200.7,132.5 201.1,134.6 201.4,132.5 201.7,132.2 202.1,132.4 202.4,131.0 202.8,133.8 203.1,133.6 203.4,131.7 203.8,133.4 204.1,129.6 204.5,130.3 204.8,130.5 205.1,133.4 205.5,129.5 205.8,131.5 206.2,130.2 206.5,128.8 206.8,128.9 207.2,129.1 207.5,131.3 207.9,127.7 208.2,126.4 208.5,126.6 208.9,129.5 209.0,128.7 209.2,126.2 209.6,128.0 209.9,127.4 210.2,129.8 210.6,126.8 210.9,130.0 211.3,126.1 211.6,127.0 211.9,130.7 212.3,127.2 212.6,128.0 213.0,126.5 213.3,129.4 213.6,125.9 214.0,125.3 214.3,125.9 214.7,126.6 215.0,126.2 215.3,127.7 215.7,124.2 216.0,127.4 216.4,125.4 216.7,128.9 217.0,127.1 217.4,126.7 217.7,127.8 218.1,128.8 218.4,128.6 218.7,127.1 219.1,128.9 219.2,128.4 219.4,125.7 219.8,125.3 220.1,126.4 220.4,127.0 220.8,128.4 221.1,127.9 221.5,125.0 221.8,129.7 222.1,127.1 222.5,126.6 222.8,128.0 223.2,125.8 223.5,126.7 223.8,127.5 224.2,129.1 224.5,129.1 224.8,127.2 225.2,126.7 225.5,127.2 225.9,128.1 226.2,127.3 226.5,129.9 226.9,128.5 227.2,128.2 227.6,129.8 227.9,130.7 227.9,130.1 228.2,129.7 228.6,129.0 228.9,127.8 229.3,126.7 229.6,126.8 229.9,129.5 230.3,130.1 230.6,128.0 231.0,127.5 231.3,130.3 231.6,128.0 232.0,130.1 232.3,128.9 232.7,131.5 233.0,128.1 233.3,129.8 233.7,132.9 234.0,132.6 234.4,131.1 234.7,128.8 235.0,132.7 235.4,129.0 235.7,131.5 236.1,129.4 236.4,130.1 236.7,129.1 237.1,132.2 237.4,131.8 237.8,132.5 238.1,132.4 238.1,130.3 238.4,129.1 238.8,128.2 239.1,129.2 239.5,130.3 239.8,129.3 240.1,131.7 240.5,130.5 240.8,130.0 241.2,132.1 241.5,133.6 241.8,133.4 242.2,129.6 242.5,132.8 242.9,131.6 243.2,132.5 243.5,133.0 243.9,130.7 244.2,130.7 244.6,129.1 244.9,132.5 245.2,130.3 245.6,132.0 245.9,131.2 246.3,133.3 246.6,131.2 246.8,130.4 246.9,130.5 247.3,134.1 247.6,129.9 248.0,128.6 248.3,129.0 248.6,129.0 249.0,129.4 249.3,130.0 249.7,128.3 250.0,131.4 250.3,130.3 250.7,129.5 251.0,129.3 251.4,131.8 251.7,128.2 252.0,128.1 252.4,127.8 252.7,129.2 253.1,127.6 253.4,128.7 253.7,130.3 254.1,131.0 254.3,128.0 254.4,131.9 254.8,132.1 255.1,129.6 255.4,131.7 255.8,132.2 256.1,130.1 256.5,130.8 256.8,128.7 257.1,128.2 257.5,131.6 257.8,132.9 258.2,130.1 258.5,130.3 258.8,130.8 259.2,131.5 259.5,133.8 259.9,136.1 260.2,131.0 260.5,133.9 260.9,134.5 261.2,132.8 261.6,135.2 261.9,132.7 261.9,132.4 262.2,138.1 262.6,135.3 262.9,134.4 263.3,133.2 263.6,136.6 263.9,136.5 264.3,134.4 264.6,133.9 265.0,137.8 265.3,136.9 265.6,134.2 266.0,139.2 266.3,135.4 266.7,135.3 267.0,136.4 267.3,137.6 267.7,134.5 268.0,139.2 268.4,137.3 268.7,139.6 269.0,137.5 269.4,137.6 269.4,138.7 269.7,137.6 270.1,137.9 270.4,138.1 270.7,140.5 271.1,140.4 271.4,140.6 271.8,139.8 272.1,142.0 272.4,139.9 272.8,140.3 273.1,139.7 273.5,143.8 273.8,141.5 274.1,140.8 274.5,142.1 274.8,140.1 275.2,141.5 275.5,139.7 275.8,140.3 276.2,142.1 276.5,140.5 276.9,141.0 277.0,139.3 277.2,140.4 277.5,139.7 277.9,140.1 278.2,138.6 278.6,140.3 278.9,141.3 279.2,140.3 279.6,138.9 279.9,141.6 280.3,141.3 280.6,142.6 280.9,142.4 281.3,142.2 281.6,138.4 282.0,137.5 282.3,139.9 282.6,138.7 283.0,140.0 283.3,141.0 283.7,138.0 284.0,141.7 284.3,140.1 284.5,140.0 284.7,138.9 285.0,140.3 285.4,135.5 285.7,138.2 286.0,138.7 286.4,138.1 286.7,138.9 287.1,136.8 287.4,140.5 287.7,142.6 288.1,141.1 288.4,136.4 288.8,138.8 289.1,139.4 289.4,140.4 289.8,139.3 290.1,140.0 290.5,137.9 290.8,139.4 291.1,140.5 291.5,140.1 291.8,139.9 292.1,136.8 292.2,139.9 292.5,140.6 292.8,136.1 293.2,140.0 293.5,139.5 293.9,138.7 294.2,135.1 294.5,136.6 294.9,135.6 295.2,135.4 295.6,134.3 295.9,133.0 296.2,134.8 296.6,132.7 296.9,134.7 297.3,136.6 297.6,134.7 297.9,134.6 298.3,134.3 298.6,133.8 299.0,134.7 299.3,130.9 299.6,131.7 300.0,133.2 300.3,134.1 300.7,137.5 301.0,135.6 301.3,133.8 301.7,134.3 302.0,134.4 302.4,137.6 302.7,134.8 303.0,137.1 303.4,138.6 303.4,136.7 303.7,135.3 304.1,138.4" stroke="#20c87a"/>
</g>
<path d="M57.9,202.1v-4.5M57.9,16.4v4.5M76.8,202.1v-2.5M76.8,16.4v2.5M95.7,202.1v-4.5M95.7,16.4v4.5M114.6,202.1v-2.5M114.6,16.4v2.5M133.4,202.1v-4.5M133.4,16.4v4.5M152.3,202.1v-2.5M152.3,16.4v2.5M171.2,202.1v-4.5M171.2,16.4v4.5M190.1,202.1v-2.5M190.1,16.4v2.5M209.0,202.1v-4.5M209.0,16.4v4.5M227.9,202.1v-2.5M227.9,16.4v2.5M246.8,202.1v-4.5M246.8,16.4v4.5M265.6,202.1v-2.5M265.6,16.4v2.5M284.5,202.1v-4.5M284.5,16.4v4.5M303.4,202.1v-2.5M303.4,16.4v2.5M322.3,202.1v-4.5M322.3,16.4v4.5M57.9,202.1h4.5M322.3,202.1h-4.5M57.9,178.9h2.5M322.3,178.9h-2.5M57.9,155.7h4.5M322.3,155.7h-4.5M57.9,132.5h2.5M322.3,132.5h-2.5M57.9,109.2h4.5M322.3,109.2h-4.5M57.9,86.0h2.5M322.3,86.0h-2.5M57.9,62.8h4.5M322.3,62.8h-4.5M57.9,39.6h2.5M322.3,39.6h-2.5M57.9,16.4h4.5M322.3,16.4h-4.5" stroke="#222" stroke-width="1.2" fill="none"/>
<rect x="57.9" y="16.4" width="264.4" height="185.7" fill="none" stroke="#222" stroke-width="1.4"/>
<g font-family='"Liberation Sans", sans-serif' font-size="10.2" fill="#2a2a2a" stroke="#2a2a2a" stroke-width="0.05"><text x="35.9" y="21.7" textLength="16.2" lengthAdjust="spacingAndGlyphs">2.5</text><text x="35.9" y="68.1" textLength="16.2" lengthAdjust="spacingAndGlyphs">1.5</text><text x="35.9" y="114.5" textLength="16.2" lengthAdjust="spacingAndGlyphs">0.5</text><text x="31.4" y="161.0" textLength="20.7" lengthAdjust="spacingAndGlyphs">-0.5</text><text x="31.4" y="207.4" textLength="20.7" lengthAdjust="spacingAndGlyphs">-1.5</text><text x="43.4" y="216.1" textLength="27.0" lengthAdjust="spacingAndGlyphs">-0.01</text><text x="84.4" y="216.1" textLength="22.5" lengthAdjust="spacingAndGlyphs">0.00</text><text x="122.2" y="216.1" textLength="22.5" lengthAdjust="spacingAndGlyphs">0.01</text><text x="160.0" y="216.1" textLength="22.5" lengthAdjust="spacingAndGlyphs">0.02</text><text x="197.7" y="216.1" textLength="22.5" lengthAdjust="spacingAndGlyphs">0.03</text><text x="235.5" y="216.1" textLength="22.5" lengthAdjust="spacingAndGlyphs">0.04</text><text x="273.3" y="216.1" textLength="22.5" lengthAdjust="spacingAndGlyphs">0.05</text><text x="311.1" y="216.1" textLength="22.5" lengthAdjust="spacingAndGlyphs">0.06</text></g>
<text x="115.6" y="12.7" font-family='"Liberation Sans", sans-serif' font-size="8.4"  fill="#2a2a2a" stroke="#2a2a2a" stroke-width="0.12" textLength="108.7" lengthAdjust="spacingAndGlyphs">1.3Mach 1Row Open</text>
<text transform="translate(21.9,109.4) rotate(-90)" x="-50.5" y="0" font-family='"Liberation Sans", sans-serif' font-size="14.5" fill="#0a0a0a" stroke="#0a0a0a" stroke-width="0.5" textLength="101.0" lengthAdjust="spacingAndGlyphs">Pressure (Pa X 10^5)</text>
<text x="152.9" y="230.8" font-family='"Liberation Sans", sans-serif' font-size="10.8" fill="#111" stroke="#111" stroke-width="0.35" textLength="72.1" lengthAdjust="spacingAndGlyphs">Time (sec)</text>
<rect x="268.4" y="4.7" width="70.0" height="48.6" fill="#fff" stroke="#222" stroke-width="1.4"/>
<line x1="274.9" y1="12.8" x2="307.8" y2="12.8" stroke="#6aa8e0" stroke-width="1.3"/>
<text x="311.9" y="17.2" font-family='"Liberation Sans", sans-serif' font-size="9.6" fill="#222" stroke="#222" stroke-width="0.1" textLength="18.8" lengthAdjust="spacingAndGlyphs">Ch1</text>
<line x1="274.9" y1="23.3" x2="307.8" y2="23.3" stroke="#f0a050" stroke-width="1.3"/>
<text x="311.9" y="27.7" font-family='"Liberation Sans", sans-serif' font-size="9.6" fill="#222" stroke="#222" stroke-width="0.1" textLength="18.8" lengthAdjust="spacingAndGlyphs">Ch2</text>
<line x1="274.9" y1="33.7" x2="307.8" y2="33.7" stroke="#e06080" stroke-width="1.3"/>
<text x="311.9" y="38.1" font-family='"Liberation Sans", sans-serif' font-size="9.6" fill="#222" stroke="#222" stroke-width="0.1" textLength="18.8" lengthAdjust="spacingAndGlyphs">Ch3</text>
<line x1="274.9" y1="44.3" x2="307.8" y2="44.3" stroke="#50c8a0" stroke-width="1.3"/>
<text x="311.9" y="48.7" font-family='"Liberation Sans", sans-serif' font-size="9.6" fill="#222" stroke="#222" stroke-width="0.1" textLength="18.8" lengthAdjust="spacingAndGlyphs">Ch4</text>
<line x1="416.2" y1="17.1" x2="416.2" y2="201.0" stroke="#b4b4b4" stroke-width="1" stroke-dasharray="1.1,2.4"/><line x1="435.1" y1="17.1" x2="435.1" y2="201.0" stroke="#b8b8b8" stroke-width="1.3"/><line x1="453.9" y1="17.1" x2="453.9" y2="201.0" stroke="#b4b4b4" stroke-width="1" stroke-dasharray="1.1,2.4"/><line x1="472.8" y1="17.1" x2="472.8" y2="201.0" stroke="#b8b8b8" stroke-width="1.3"/><line x1="491.6" y1="17.1" x2="491.6" y2="201.0" stroke="#b4b4b4" stroke-width="1" stroke-dasharray="1.1,2.4"/><line x1="510.5" y1="17.1" x2="510.5" y2="201.0" stroke="#b8b8b8" stroke-width="1.3"/><line x1="529.3" y1="17.1" x2="529.3" y2="201.0" stroke="#b4b4b4" stroke-width="1" stroke-dasharray="1.1,2.4"/><line x1="548.1" y1="17.1" x2="548.1" y2="201.0" stroke="#b8b8b8" stroke-width="1.3"/><line x1="567.0" y1="17.1" x2="567.0" y2="201.0" stroke="#b4b4b4" stroke-width="1" stroke-dasharray="1.1,2.4"/><line x1="585.8" y1="17.1" x2="585.8" y2="201.0" stroke="#b8b8b8" stroke-width="1.3"/><line x1="604.7" y1="17.1" x2="604.7" y2="201.0" stroke="#b4b4b4" stroke-width="1" stroke-dasharray="1.1,2.4"/><line x1="623.5" y1="17.1" x2="623.5" y2="201.0" stroke="#b8b8b8" stroke-width="1.3"/><line x1="642.4" y1="17.1" x2="642.4" y2="201.0" stroke="#b4b4b4" stroke-width="1" stroke-dasharray="1.1,2.4"/><line x1="397.4" y1="170.3" x2="661.2" y2="170.3" stroke="#b4b4b4" stroke-width="1" stroke-dasharray="1.1,2.4"/><line x1="397.4" y1="139.7" x2="661.2" y2="139.7" stroke="#b8b8b8" stroke-width="1.3"/><line x1="397.4" y1="109.0" x2="661.2" y2="109.0" stroke="#b4b4b4" stroke-width="1" stroke-dasharray="1.1,2.4"/><line x1="397.4" y1="78.4" x2="661.2" y2="78.4" stroke="#b8b8b8" stroke-width="1.3"/><line x1="397.4" y1="47.8" x2="661.2" y2="47.8" stroke="#b4b4b4" stroke-width="1" stroke-dasharray="1.1,2.4"/>
<clipPath id="cTR"><rect x="397.4" y="17.6" width="263.8" height="183.4"/></clipPath>
<g fill="none" stroke-width="1.7" stroke-linejoin="round" clip-path="url(#cTR)">
<path d="M416.2,135.7 416.6,134.6 416.9,136.6 417.3,134.9 417.6,134.2 417.9,133.9 418.3,134.5 418.6,136.0 419.0,135.1 419.3,133.5 419.6,134.9 420.0,132.7 420.3,133.7 420.7,134.7 421.0,134.6 421.3,133.1 421.7,134.2 422.0,135.9 422.3,135.4 422.7,135.1 423.0,136.2 423.4,136.5 423.7,134.1 424.0,135.1 424.4,135.2 424.7,134.1 425.1,133.6 425.4,135.0 425.7,132.8 426.1,131.8 426.4,134.7 426.8,133.3 427.1,133.6 427.4,133.7 427.8,135.2 428.1,133.4 428.5,135.4 428.8,133.9 429.1,133.3 429.5,134.5 429.8,135.8 430.1,134.7 430.5,135.5 430.8,135.3 431.2,134.2 431.5,134.2 431.8,135.7 432.2,135.2 432.5,133.6 432.9,136.0 433.2,134.8 433.5,136.6 433.9,134.9 434.2,136.7 434.6,133.5 434.7,136.2 434.9,90.6 435.1,43.7 435.2,47.4 435.4,50.8 435.5,55.7 435.6,58.3 435.8,61.7 435.9,60.3 436.0,67.9 436.2,70.4 436.2,68.5 436.3,69.9 436.4,70.5 436.6,66.4 436.7,65.2 436.8,69.6 437.0,66.8 437.1,63.3 437.2,68.3 437.3,61.5 437.5,56.6 437.6,65.9 437.7,65.6 437.9,64.4 438.0,64.8 438.1,65.2 438.3,62.2 438.4,59.6 438.5,65.4 438.7,67.0 438.8,67.1 438.9,62.3 438.9,60.2 439.1,62.6 439.2,59.8 439.3,65.1 439.5,56.5 439.6,56.7 439.7,62.9 439.9,64.9 440.0,68.8 440.1,65.5 440.2,63.5 440.4,58.8 440.5,59.6 440.6,62.7 440.8,64.7 440.9,62.5 441.0,66.0 441.2,63.2 441.3,70.6 441.4,59.7 441.6,61.5 441.7,62.7 441.8,64.5 442.0,63.7 442.1,65.9 442.2,64.5 442.4,58.7 442.5,56.6 442.6,64.0 442.8,58.4 442.9,67.7 443.0,60.5 443.2,63.7 443.3,69.8 443.4,62.9 443.5,60.7 443.7,59.6 443.8,66.3 443.9,62.5 444.1,58.6 444.2,64.7 444.3,64.0 444.5,65.7 444.6,61.0 444.7,59.7 444.9,57.1 445.0,61.3 445.1,63.9 445.3,64.4 445.4,56.5 445.5,66.5 445.7,66.0 445.8,58.8 445.9,54.5 446.1,62.0 446.2,65.5 446.3,59.4 446.4,55.5 446.6,60.2 446.7,55.1 446.8,67.2 447.0,60.0 447.1,60.2 447.2,68.1 447.4,58.6 447.5,67.1 447.6,67.8 447.8,67.5 447.9,60.1 448.0,64.5 448.2,66.3 448.3,65.5 448.4,57.5 448.6,58.6 448.7,62.4 448.8,62.5 449.0,66.3 449.1,61.8 449.2,60.9 449.3,63.6 449.5,64.3 449.6,59.2 449.7,63.6 449.9,60.3 450.0,59.9 450.1,60.0 450.3,62.4 450.4,61.1 450.5,68.6 450.7,62.4 450.8,65.2 450.9,61.9 451.1,59.0 451.2,59.5 451.3,66.6 451.5,60.2 451.6,60.1 451.7,58.6 451.9,59.4 452.0,64.2 452.1,58.8 452.3,59.0 452.4,63.6 452.5,66.8 452.6,66.3 452.8,70.1 452.8,65.0 452.9,64.2 453.3,60.8 453.6,64.5 453.9,61.5 454.3,64.6 454.6,65.6 454.9,64.1 455.3,66.3 455.6,65.1 456.0,67.4 456.3,69.0 456.6,70.0 457.0,67.9 457.3,68.0 457.7,70.7 458.0,72.6 458.3,74.6 458.7,72.1 459.0,73.4 459.2,77.7 459.4,73.4 459.7,79.1 460.0,80.7 460.4,77.1 460.7,80.3 461.1,81.5 461.4,82.4 461.7,82.3 462.1,81.8 462.4,84.7 462.7,86.0 463.1,90.3 463.4,89.0 463.8,88.3 464.1,90.6 464.4,86.3 464.8,89.8 465.1,93.2 465.2,89.4 465.5,93.5 465.8,92.3 466.1,93.5 466.5,96.2 466.8,95.0 467.2,95.3 467.5,94.9 467.8,95.5 468.2,96.1 468.5,100.0 468.9,102.4 469.2,101.3 469.5,103.0 469.9,99.7 470.2,105.7 470.5,99.8 470.9,103.9 471.2,105.0 471.6,108.0 471.9,106.4 472.2,109.2 472.6,108.6 472.8,110.9 472.9,112.9 473.3,106.4 473.6,108.7 473.9,111.3 474.3,111.3 474.6,115.0 475.0,115.5 475.3,111.5 475.6,110.5 476.0,112.2 476.3,113.3 476.7,117.0 477.0,115.9 477.3,114.0 477.7,119.2 478.0,116.0 478.3,114.3 478.7,117.8 479.0,117.8 479.4,120.3 479.7,121.2 480.0,121.1 480.3,120.7 480.4,120.4 480.7,118.8 481.1,120.0 481.4,120.1 481.7,120.3 482.1,119.5 482.4,122.0 482.8,122.1 483.1,120.0 483.4,122.9 483.8,120.2 484.1,121.9 484.5,123.1 484.8,123.4 485.1,124.6 485.5,124.8 485.8,125.8 486.1,124.8 486.5,125.3 486.8,123.7 487.2,124.7 487.5,125.2 487.8,126.2 488.2,122.9 488.2,126.1 488.5,123.8 488.9,123.9 489.2,127.3 489.5,126.1 489.9,126.1 490.2,127.4 490.6,128.9 490.9,126.4 491.2,128.7 491.6,130.4 491.9,128.9 492.3,130.0 492.6,129.7 492.9,126.6 493.3,127.6 493.6,127.2 493.9,130.3 494.0,128.0 494.3,129.7 494.6,129.7 495.0,132.4 495.3,132.2 495.6,136.8 496.0,137.6 496.3,138.2 496.7,137.3 497.0,135.0 497.3,136.9 497.7,140.6 498.0,139.2 498.4,140.7 498.7,141.4 499.0,144.8 499.4,147.4 499.7,145.7 500.1,147.7 500.4,148.2 500.7,147.6 501.1,150.8 501.4,152.0 501.8,153.6 501.8,151.9 502.1,154.4 502.4,153.2 502.8,154.6 503.1,154.1 503.4,157.8 503.8,157.8 504.1,157.0 504.5,160.9 504.8,161.1 505.1,160.1 505.5,160.5 505.8,164.7 506.2,166.4 506.5,167.5 506.8,167.0 507.2,167.9 507.4,166.0 507.5,166.9 507.9,167.8 508.2,166.7 508.5,169.0 508.9,168.9 509.2,170.0 509.6,169.3 509.9,169.8 510.2,171.5 510.6,173.0 510.9,168.9 511.2,172.8 511.6,169.7 511.9,170.7 512.3,172.6 512.6,172.0 512.9,173.8 513.3,175.8 513.5,172.7 513.6,175.1 514.0,174.6 514.3,175.2 514.6,174.5 515.0,174.4 515.3,174.0 515.7,172.9 516.0,175.3 516.3,174.3 516.7,172.5 517.0,176.2 517.4,176.3 517.7,175.4 518.0,173.7 518.4,172.2 518.7,177.4 519.0,174.9 519.4,176.5 519.7,175.8 520.1,173.9 520.4,177.5 520.7,177.5 521.0,175.4 521.1,176.0 521.4,177.2 521.8,173.8 522.1,173.3 522.4,176.4 522.8,172.0 523.1,170.3 523.5,171.4 523.8,173.1 524.1,174.7 524.5,173.5 524.8,173.8 524.8,175.7 525.2,170.7 525.5,171.0 525.8,168.8 526.2,170.5 526.5,169.5 526.9,169.0 527.2,165.8 527.5,165.9 527.9,163.3 528.2,163.9 528.5,162.9 528.9,163.1 529.2,162.5 529.6,161.3 529.9,157.8 530.2,156.5 530.6,155.5 530.8,157.4 530.9,156.3 531.3,154.3 531.6,153.8 531.9,154.5 532.3,155.6 532.6,154.1 533.0,154.8 533.3,153.3 533.6,152.2 534.0,152.8 534.3,151.9 534.7,153.3 535.0,153.1 535.3,152.5 535.7,150.3 536.0,152.6 536.3,151.0 536.7,151.3 537.0,150.5 537.4,148.5 537.7,148.3 538.0,150.6 538.4,151.1 538.7,150.2 539.1,149.0 539.4,148.3 539.7,147.0 540.1,147.9 540.4,149.6 540.6,148.2 540.8,148.4 541.1,148.8 541.4,148.2 541.8,146.4 542.1,149.9 542.5,147.3 542.8,148.6 543.1,149.5 543.5,148.1 543.8,148.5 544.1,148.7 544.5,148.4 544.8,145.9 545.2,148.6 545.5,145.3 545.8,145.8 546.2,145.0 546.5,144.2 546.9,146.5 547.2,145.7 547.5,147.8 547.9,145.2 548.2,144.3 548.6,144.0 548.9,144.7 549.2,145.1 549.6,142.9 549.9,144.6 550.3,143.9 550.6,141.9 550.9,141.8 551.3,141.1 551.6,140.7 551.9,143.6 551.9,141.2 552.3,139.7 552.6,141.8 553.0,143.0 553.3,140.7 553.6,141.6 554.0,143.5 554.3,143.0 554.7,140.3 555.0,140.6 555.3,142.0 555.7,143.1 556.0,139.6 556.4,139.4 556.7,140.0 557.0,139.2 557.4,139.4 557.7,139.5 558.1,143.9 558.4,141.5 558.7,141.7 559.1,142.0 559.4,142.3 559.8,139.8 560.1,141.0 560.4,139.5 560.8,137.5 561.1,138.3 561.4,137.6 561.8,140.3 562.1,138.5 562.5,137.4 562.8,137.3 563.1,136.6 563.5,138.3 563.8,137.6 564.2,138.5 564.5,136.0 564.8,137.1 565.2,137.6 565.5,138.9 565.9,134.8 566.2,133.7 566.5,138.1 566.9,137.0 567.2,136.9 567.4,137.8 567.6,137.9 567.9,137.1 568.2,137.2 568.6,139.3 568.9,138.3 569.2,136.4 569.6,139.5 569.9,135.6 570.3,140.1 570.6,139.3 570.9,137.6 571.3,139.3 571.6,137.5 572.0,137.8 572.3,139.2 572.6,140.8 573.0,139.5 573.3,138.3 573.7,138.2 574.0,140.0 574.3,137.1 574.7,140.4 575.0,139.2 575.4,140.8 575.7,141.9 576.0,139.9 576.4,140.7 576.7,140.0 577.0,139.9 577.4,142.3 577.7,140.5 578.1,139.7 578.4,141.0 578.7,141.2 579.0,140.8 579.1,141.6 579.4,141.0 579.8,142.6 580.1,141.1 580.4,140.0 580.8,143.0 581.1,142.0 581.5,138.6 581.8,140.4 582.1,143.1 582.5,143.2 582.8,144.9 583.2,144.8 583.5,143.7 583.8,146.1 584.2,142.4 584.5,143.2 584.8,143.1 585.2,142.5 585.5,142.9 585.9,146.1 586.2,143.8 586.5,146.7 586.9,146.2 587.2,144.6 587.6,148.4 587.9,145.0 588.2,146.6 588.6,148.0 588.9,147.5 589.3,146.7 589.6,146.3 589.9,145.7 590.3,149.1 590.6,150.1 590.7,152.2 591.0,146.4 591.3,146.8 591.6,148.4 592.0,151.2 592.3,149.3 592.6,149.3 593.0,147.4 593.3,149.8 593.7,148.3 594.0,151.1 594.3,149.3 594.7,150.9 595.0,150.5 595.4,151.3 595.7,150.5 596.0,149.0 596.4,147.5 596.7,148.5 597.1,148.6 597.4,148.6 597.7,152.2 598.1,146.8 598.4,150.2 598.8,153.3 599.1,152.2 599.4,151.6 599.8,152.8 600.1,151.6 600.5,147.1 600.8,152.5 601.1,151.1 601.5,149.6 601.8,151.4 602.1,153.3 602.5,153.9 602.8,150.3 603.2,151.8 603.5,153.9 603.8,151.2 604.2,151.1 604.5,153.1 604.9,153.5 605.2,154.7 605.5,152.7 605.9,151.2 606.2,151.8 606.2,154.0 606.6,154.3 606.9,151.3 607.2,153.3 607.6,150.5 607.9,153.5 608.3,153.9 608.6,152.9 608.9,150.9 609.3,155.0 609.6,149.4 609.9,152.6 610.3,153.4 610.6,152.0 611.0,150.3 611.3,149.9 611.6,151.9 612.0,151.5 612.3,149.9 612.7,152.0 613.0,149.7 613.3,150.8 613.7,150.0 614.0,150.5 614.4,150.1 614.7,152.6 615.0,151.2 615.4,148.0 615.7,151.8 616.1,149.5 616.4,149.7 616.7,148.2 617.1,147.1 617.4,147.2 617.7,148.7 618.1,151.0 618.4,149.7 618.8,146.3 619.1,149.5 619.4,150.7 619.7,147.9 619.8,148.3 620.1,146.4 620.5,146.4 620.8,148.8 621.1,148.7 621.5,144.0 621.8,145.9 622.2,143.8 622.5,145.5 622.8,143.6 623.2,145.5 623.5,143.6 623.9,142.8 624.2,142.2 624.5,139.0 624.9,141.9 625.2,142.1 625.4,142.7 625.5,139.3 625.9,137.9 626.2,136.5 626.6,137.5 626.9,138.4 627.2,135.7 627.6,135.7 627.9,136.6 628.3,135.9 628.6,135.6 628.9,136.1 629.3,135.4 629.6,136.5 630.0,134.4 630.3,133.7 630.6,134.2 631.0,133.3 631.3,135.4 631.7,135.2 632.0,133.3 632.3,133.4 632.7,133.0 633.0,132.3 633.3,129.4 633.4,131.4 633.7,131.4 634.0,131.8 634.4,129.7 634.7,128.4 635.0,129.4 635.4,129.5 635.7,127.2 636.1,128.9 636.4,128.4 636.7,128.1 637.1,127.2 637.4,127.4 637.8,128.3 638.1,124.4 638.4,125.2 638.8,126.4 639.1,122.7 639.5,122.6 639.8,125.0 640.1,120.9 640.5,121.9 640.8,122.1 641.2,121.5 641.5,124.1 641.6,121.7 641.8,122.1 642.2,121.4 642.5,124.2 642.8,121.3" stroke="#1264e6"/>
<path d="M416.2,136.0 416.6,134.5 416.9,135.7 417.3,133.9 417.6,134.2 417.9,134.0 418.3,136.5 418.6,134.4 419.0,134.6 419.3,134.6 419.6,136.7 420.0,135.0 420.3,133.9 420.7,136.0 421.0,136.8 421.3,136.0 421.7,135.4 422.0,136.6 422.3,134.9 422.7,136.8 423.0,133.8 423.4,135.5 423.7,136.3 424.0,135.8 424.4,134.4 424.7,135.3 425.1,133.5 425.4,136.7 425.7,136.4 426.1,135.9 426.4,136.7 426.8,135.9 427.1,134.6 427.4,137.3 427.8,135.2 428.1,135.9 428.5,135.3 428.8,136.8 429.1,137.2 429.5,134.5 429.8,137.0 430.1,135.9 430.5,135.7 430.8,137.4 431.2,138.4 431.5,136.4 431.8,135.2 432.2,137.5 432.5,133.7 432.9,134.6 433.2,134.7 433.5,135.6 433.9,134.4 434.2,135.9 434.6,136.9 434.9,134.4 435.2,136.4 435.6,135.0 435.9,134.2 436.3,136.7 436.6,135.6 436.9,135.5 437.3,136.9 437.6,135.7 437.9,136.3 438.3,134.7 438.6,133.8 439.0,136.2 439.3,134.1 439.6,135.6 440.0,134.0 440.3,134.7 440.7,136.4 441.0,135.1 441.3,137.0 441.7,135.6 442.0,136.7 442.4,136.5 442.7,136.6 443.0,135.9 443.4,137.8 443.7,135.3 444.1,134.7 444.4,134.8 444.7,135.5 445.1,136.6 445.4,136.2 445.8,136.9 446.1,136.5 446.4,134.7 446.8,135.0 447.1,135.2 447.4,134.3 447.8,134.3 448.1,135.9 448.5,133.8 448.8,135.3 449.1,133.4 449.4,132.4 449.5,138.6 449.8,163.6 450.2,180.0 450.5,151.8 450.8,128.6 450.9,119.1 451.2,107.9 451.5,86.0 451.9,73.3 452.2,55.1 452.5,37.8 452.8,21.8 452.9,30.8 453.2,37.1 453.6,56.6 453.9,65.3 454.2,80.7 454.6,95.1 454.7,96.5 454.9,91.5 455.2,79.7 455.6,67.9 455.9,55.2 456.3,44.8 456.6,34.8 456.6,37.0 456.9,48.9 457.3,68.8 457.6,86.4 457.7,85.9 458.0,84.0 458.3,74.3 458.6,65.2 459.0,59.4 459.3,51.4 459.6,46.5 459.7,50.1 460.0,58.3 460.3,67.5 460.7,80.5 460.7,79.1 461.0,74.9 461.4,69.7 461.7,71.6 462.0,69.7 462.4,59.2 462.7,59.7 463.0,53.2 463.4,52.3 463.4,54.8 463.7,55.6 464.1,61.6 464.4,63.5 464.7,70.5 465.1,74.0 465.2,71.2 465.4,71.9 465.8,64.3 466.1,60.9 466.4,57.5 466.7,51.9 466.8,49.8 467.1,54.3 467.5,58.0 467.8,65.1 468.1,69.4 468.5,73.5 468.6,77.4 468.8,73.6 469.2,74.0 469.5,71.7 469.8,68.9 470.2,67.0 470.5,63.2 470.8,65.2 471.2,60.0 471.5,60.2 471.6,61.7 471.9,62.5 472.2,66.7 472.5,73.3 472.9,76.5 473.2,81.9 473.6,86.6 473.9,92.0 474.2,94.8 474.6,102.4 474.7,101.3 474.9,103.6 475.3,105.1 475.6,109.7 475.9,109.7 476.3,113.0 476.6,117.3 477.0,118.9 477.3,120.3 477.6,122.5 478.0,127.3 478.3,125.6 478.4,128.2 478.7,130.6 479.0,132.3 479.3,134.3 479.7,136.0 480.0,139.9 480.3,141.6 480.7,144.3 481.0,144.1 481.4,145.6 481.7,147.8 482.0,151.3 482.4,154.3 482.6,155.9 482.7,154.2 483.1,154.5 483.4,153.5 483.7,153.2 484.1,158.1 484.4,155.3 484.8,157.3 485.1,157.8 485.4,158.1 485.8,162.1 486.1,160.1 486.5,160.5 486.8,162.6 487.1,163.2 487.5,163.6 487.8,162.8 488.1,164.6 488.2,167.7 488.5,165.2 488.8,168.6 489.2,165.7 489.5,169.4 489.8,167.5 490.2,168.5 490.5,168.0 490.9,170.5 491.2,170.0 491.5,173.9 491.9,172.9 492.0,171.0 492.2,172.9 492.6,169.6 492.9,171.0 493.2,172.0 493.6,168.7 493.9,168.3 494.3,166.7 494.6,164.9 494.9,165.6 495.3,164.6 495.4,165.1 495.6,162.8 495.9,162.6 496.3,163.1 496.6,162.0 497.0,162.6 497.3,163.8 497.6,163.4 498.0,159.2 498.3,161.0 498.7,158.1 499.0,159.4 499.3,156.7 499.7,156.7 500.0,156.1 500.4,154.4 500.7,155.5 501.0,154.6 501.4,151.6 501.7,152.4 501.8,152.7 502.1,152.1 502.4,150.2 502.7,149.6 503.1,152.0 503.4,148.4 503.7,149.6 504.1,149.1 504.4,149.3 504.8,148.4 505.1,145.6 505.4,143.6 505.6,145.7 505.8,145.0 506.1,146.2 506.5,144.2 506.8,143.9 507.1,146.1 507.5,144.1 507.8,147.0 508.2,144.9 508.5,145.3 508.8,146.7 509.2,148.0 509.5,147.3 509.9,147.5 510.2,145.5 510.5,147.6 510.9,146.1 511.2,148.9 511.6,148.1 511.9,146.2 512.2,145.0 512.6,148.5 512.9,148.9 513.2,145.4 513.6,146.3 513.9,146.4 514.3,146.5 514.6,147.9 514.9,146.6 515.3,147.4 515.6,145.9 516.0,148.2 516.3,147.0 516.6,148.5 517.0,146.5 517.3,148.6 517.7,145.9 518.0,146.1 518.3,147.9 518.7,145.1 519.0,147.1 519.4,147.8 519.7,145.9 520.0,147.4 520.4,145.0 520.7,144.2 521.0,146.2 521.4,149.0 521.7,148.3 522.1,146.7 522.4,146.4 522.7,145.7 523.1,145.0 523.4,147.3 523.8,146.4 524.1,147.9 524.4,143.9 524.8,145.0 525.1,145.1 525.5,146.0 525.8,145.7 526.1,146.0 526.5,148.0 526.8,146.2 527.2,146.2 527.5,147.6 527.8,146.5 528.2,147.1 528.5,145.4 528.8,147.0 529.2,146.5 529.5,148.1 529.9,145.9 530.2,146.3 530.5,145.5 530.8,146.6 530.9,145.5 531.2,144.3 531.6,146.3 531.9,145.6 532.2,146.5 532.6,144.7 532.9,146.6 533.3,145.3 533.6,146.7 533.9,144.3 534.3,144.8 534.6,144.6 535.0,143.6 535.3,140.1 535.6,142.2 536.0,141.6 536.3,140.6 536.6,136.9 537.0,141.2 537.3,137.8 537.7,138.3 538.0,141.8 538.3,138.7 538.7,139.4 539.0,140.2 539.4,137.6 539.7,137.0 540.0,136.7 540.4,139.3 540.7,137.8 541.0,137.0 541.1,137.2 541.4,137.3 541.7,136.9 542.1,135.6 542.4,136.0 542.8,137.1 543.1,135.7 543.4,135.1 543.8,134.3 544.1,135.7 544.4,136.1 544.8,135.6 545.1,135.2 545.5,134.1 545.8,135.8 546.1,133.8 546.5,136.7 546.8,135.9 547.2,133.9 547.5,135.8 547.8,137.5 548.2,135.4 548.5,137.2 548.9,134.6 549.2,135.7 549.5,132.1 549.9,132.1 550.2,135.1 550.6,135.8 550.9,134.8 551.2,132.9 551.6,136.0 551.9,131.7 552.3,133.6 552.6,136.7 552.9,132.8 553.3,132.9 553.6,135.3 553.9,134.6 554.3,136.2 554.6,134.7 555.0,133.4 555.3,135.5 555.6,134.0 556.0,132.3 556.3,134.8 556.7,132.9 557.0,136.2 557.3,135.6 557.7,135.9 558.0,134.9 558.4,134.0 558.7,132.5 559.0,133.9 559.4,131.7 559.7,131.8 560.1,134.2 560.4,132.8 560.7,133.8 561.1,133.2 561.4,135.2 561.7,133.2 562.1,133.6 562.4,134.7 562.8,136.9 563.1,134.6 563.4,134.8 563.8,133.6 564.1,133.6 564.5,135.6 564.8,139.1 565.1,137.0 565.5,134.2 565.8,134.8 566.2,134.4 566.5,136.4 566.8,136.0 567.2,136.7 567.4,136.1 567.5,136.7 567.9,135.3 568.2,137.6 568.5,134.8 568.9,134.8 569.2,136.6 569.5,137.7 569.9,134.6 570.2,138.9 570.6,137.7 570.9,134.4 571.2,136.2 571.6,135.7 571.9,135.2 572.3,138.3 572.6,135.6 572.9,134.6 573.3,135.8 573.6,134.4 574.0,135.2 574.3,137.9 574.6,135.2 575.0,133.7 575.3,135.4 575.7,134.1 576.0,137.4 576.3,137.1 576.7,137.0 577.0,135.6 577.3,139.5 577.7,135.6 578.0,135.4 578.4,136.4 578.7,136.1 579.0,135.0 579.4,138.1 579.7,135.0 580.1,137.7 580.4,139.6 580.7,135.3 581.1,134.7 581.4,136.2 581.8,139.5 582.1,139.1 582.4,135.3 582.8,134.6 582.8,136.0 583.1,138.1 583.5,136.9 583.8,138.1 584.1,139.1 584.5,134.4 584.8,137.4 585.2,135.8 585.5,137.4 585.8,139.2 586.2,136.2 586.5,137.6 586.8,138.0 587.2,140.1 587.5,136.9 587.9,137.5 588.2,138.1 588.5,139.7 588.9,138.3 589.2,138.5 589.6,136.6 589.9,138.4 590.2,139.6 590.6,140.0 590.9,137.6 591.3,138.7 591.6,139.6 591.9,137.3 592.3,141.2 592.6,138.9 593.0,140.1 593.3,138.3 593.6,138.4 594.0,140.7 594.3,141.7 594.6,142.4 595.0,141.5 595.3,142.7 595.7,143.3 596.0,139.3 596.3,142.5 596.7,142.3 597.0,139.1 597.4,139.1 597.7,139.6 598.0,140.5 598.3,141.6 598.4,142.4 598.7,139.2 599.1,141.1 599.4,139.1 599.7,142.2 600.1,142.9 600.4,143.4 600.8,140.5 601.1,140.7 601.4,142.1 601.8,144.7 602.1,142.2 602.4,142.1 602.8,143.4 603.1,141.2 603.5,143.0 603.8,142.5 604.1,144.3 604.5,141.2 604.8,140.3 605.2,143.2 605.5,140.8 605.8,142.6 606.2,144.3 606.5,142.2 606.9,141.2 607.2,140.6 607.5,139.4 607.9,144.3 608.2,142.0 608.6,141.9 608.9,141.1 609.2,144.7 609.6,141.4 609.9,143.0 610.2,140.6 610.6,143.9 610.9,142.9 611.3,142.4 611.6,145.1 611.9,142.3 612.3,141.5 612.6,144.1 613.0,143.3 613.3,145.2 613.6,145.7 613.7,143.3 614.0,143.7 614.3,146.0 614.7,145.1 615.0,143.6 615.3,142.4 615.7,143.5 616.0,144.0 616.4,145.5 616.7,143.7 617.0,146.5 617.4,143.7 617.7,145.3 618.0,146.7 618.4,143.4 618.7,143.8 619.1,143.8 619.4,146.8 619.7,142.4 620.1,142.3 620.4,141.7 620.8,144.8 621.1,141.6 621.4,142.7 621.8,145.8 622.1,146.4 622.5,143.6 622.8,145.1 623.1,142.9 623.5,140.6 623.8,141.4 624.2,145.2 624.5,144.8 624.8,144.4 625.2,142.2 625.5,143.3 625.9,145.0 626.2,143.0 626.5,142.7 626.9,141.4 627.2,142.2 627.5,141.5 627.9,142.1 628.2,143.8 628.6,143.4 628.9,141.1 629.2,142.5 629.2,143.0 629.6,141.1 629.9,140.8 630.3,142.3 630.6,141.1 630.9,143.1 631.3,143.6 631.6,144.4 632.0,143.9 632.3,142.8 632.6,141.7 633.0,140.2 633.3,143.5 633.7,143.8 634.0,139.9 634.3,142.4 634.7,141.1 635.0,143.7 635.3,143.1 635.7,142.6 636.0,142.3 636.4,144.3 636.7,144.1 637.0,141.9 637.4,140.6 637.7,143.1 638.1,141.2 638.4,142.8 638.7,142.8 639.1,141.2 639.4,141.8 639.8,141.5 640.1,142.4 640.4,141.2 640.8,142.2 641.1,142.7 641.5,142.8 641.8,141.1 642.1,140.6 642.4,141.2 642.5,139.0 642.8,141.4" stroke="#ff7a00"/>
<path d="M416.2,135.3 416.6,136.5 416.9,137.0 417.3,138.5 417.6,138.5 417.9,138.5 418.3,137.8 418.6,138.3 419.0,138.3 419.3,138.0 419.6,138.5 420.0,138.6 420.3,137.9 420.7,135.3 421.0,137.7 421.3,136.2 421.7,136.3 422.0,136.3 422.3,136.7 422.7,135.7 423.0,136.6 423.4,138.5 423.7,135.8 424.0,136.9 424.4,136.2 424.7,136.4 425.1,135.6 425.4,136.0 425.7,136.6 426.1,136.8 426.4,137.8 426.8,137.6 427.1,138.3 427.4,136.1 427.8,137.0 428.1,137.3 428.5,138.5 428.8,135.9 429.1,136.0 429.5,136.6 429.8,137.3 430.1,135.5 430.5,135.7 430.8,136.7 431.2,137.1 431.5,135.7 431.8,136.0 432.2,135.7 432.5,135.7 432.9,138.1 433.2,138.3 433.5,136.8 433.9,137.7 434.2,135.9 434.6,137.1 434.9,135.9 435.2,135.5 435.6,137.3 435.9,137.5 436.3,136.1 436.6,136.3 436.9,134.7 437.3,135.6 437.6,135.8 437.9,137.4 438.3,135.8 438.6,138.3 439.0,135.6 439.3,138.3 439.6,137.2 440.0,138.2 440.3,138.1 440.7,136.5 441.0,135.4 441.1,135.2 441.3,98.2 441.5,72.0 441.7,74.0 442.0,74.2 442.4,67.9 442.7,68.7 443.0,68.5 443.4,72.1 443.7,68.2 444.1,65.6 444.4,71.4 444.7,70.2 445.1,71.2 445.4,66.5 445.8,66.0 446.1,67.0 446.4,70.6 446.8,70.3 447.1,70.4 447.4,68.1 447.8,67.6 448.1,70.6 448.5,70.9 448.8,70.1 449.1,67.1 449.5,70.5 449.8,69.7 450.2,66.3 450.5,68.6 450.8,65.8 451.2,66.7 451.5,69.1 451.9,66.8 452.0,69.7 452.2,63.8 452.5,64.7 452.9,66.2 453.2,68.9 453.6,66.1 453.9,64.2 454.2,68.8 454.6,68.1 454.9,68.1 455.2,67.2 455.6,68.1 455.9,70.8 456.3,71.3 456.6,74.0 456.9,69.2 457.3,71.5 457.3,73.6 457.6,73.5 458.0,72.2 458.3,70.6 458.6,72.5 459.0,75.6 459.3,77.0 459.7,75.6 460.0,75.6 460.3,76.3 460.7,75.8 461.0,79.6 461.4,77.5 461.7,82.3 462.0,79.8 462.4,80.2 462.7,82.3 463.0,82.5 463.0,82.4 463.4,82.4 463.7,83.9 464.1,82.9 464.4,88.2 464.7,84.7 465.1,90.4 465.4,88.2 465.8,88.3 466.1,90.3 466.4,90.5 466.8,89.6 467.1,90.5 467.5,90.3 467.8,93.7 468.1,92.1 468.5,96.5 468.8,93.9 469.2,97.2 469.5,100.4 469.8,98.9 470.2,98.4 470.5,99.1 470.8,103.6 470.9,100.8 471.2,103.2 471.5,99.8 471.9,105.1 472.2,105.7 472.5,107.5 472.9,104.5 473.2,107.0 473.6,107.4 473.9,106.2 474.2,109.5 474.6,108.7 474.9,109.4 475.3,108.7 475.6,111.6 475.9,111.6 476.3,108.0 476.6,112.6 477.0,112.2 477.3,113.6 477.6,109.7 478.0,110.8 478.3,110.1 478.4,115.6 478.7,111.4 479.0,111.2 479.3,113.5 479.7,117.3 480.0,118.4 480.3,115.9 480.7,115.4 481.0,115.4 481.4,117.7 481.7,117.0 482.0,117.1 482.4,118.9 482.7,120.6 483.1,118.5 483.4,119.9 483.7,120.9 484.1,118.5 484.4,122.2 484.5,121.6 484.8,118.6 485.1,123.8 485.4,124.8 485.8,124.3 486.1,123.1 486.5,124.9 486.8,126.0 487.1,127.3 487.5,127.7 487.8,126.8 488.1,130.1 488.2,131.6 488.5,128.6 488.8,131.1 489.2,131.4 489.5,133.9 489.8,135.0 490.2,138.0 490.5,137.3 490.9,140.5 491.2,141.4 491.5,142.9 491.9,142.5 492.0,144.1 492.2,147.4 492.6,148.1 492.9,146.6 493.2,150.5 493.6,152.0 493.9,153.2 494.3,152.4 494.6,150.9 494.9,153.3 495.3,153.9 495.6,157.3 495.9,156.3 496.3,157.7 496.6,159.4 497.0,162.1 497.3,160.6 497.6,163.2 498.0,162.4 498.0,164.0 498.3,165.3 498.7,162.8 499.0,163.9 499.3,163.8 499.7,166.1 500.0,166.4 500.4,163.3 500.7,164.1 501.0,164.3 501.4,168.4 501.7,168.8 502.1,170.1 502.4,170.1 502.7,169.2 503.1,166.9 503.4,166.0 503.7,168.9 504.1,171.6 504.4,169.4 504.8,170.3 505.1,169.4 505.4,172.8 505.6,173.7 505.8,174.4 506.1,173.1 506.5,173.3 506.8,170.3 507.1,171.3 507.5,171.4 507.8,171.3 508.2,174.4 508.5,172.7 508.8,175.8 509.2,175.3 509.5,173.8 509.9,176.7 510.2,176.1 510.5,175.0 510.9,175.2 511.2,175.1 511.6,173.6 511.9,175.2 512.2,173.4 512.6,175.4 512.7,176.6 512.9,174.2 513.2,173.5 513.6,172.7 513.9,172.6 514.3,173.5 514.6,172.0 514.9,172.9 515.3,174.5 515.6,172.0 516.0,173.1 516.3,169.9 516.6,169.5 517.0,168.0 517.2,170.2 517.3,169.9 517.7,168.7 518.0,167.2 518.3,166.8 518.7,167.3 519.0,164.6 519.4,163.8 519.7,167.5 520.0,165.8 520.4,165.7 520.7,163.1 521.0,164.6 521.4,165.4 521.7,163.8 522.1,160.5 522.4,161.6 522.7,159.4 523.1,161.8 523.4,162.0 523.8,161.8 524.1,160.2 524.4,158.9 524.8,159.2 525.1,159.4 525.5,156.8 525.8,157.4 526.1,158.6 526.5,156.7 526.8,157.0 527.2,156.1 527.5,154.7 527.8,157.2 528.2,156.2 528.5,153.9 528.8,153.1 529.2,152.5 529.5,151.7 529.9,153.8 530.2,152.6 530.5,152.7 530.9,154.3 531.2,152.6 531.6,153.2 531.9,151.9 532.2,150.9 532.6,153.2 532.9,150.7 533.3,152.0 533.6,152.3 533.9,149.2 534.3,148.4 534.6,149.0 535.0,151.3 535.3,149.7 535.6,150.9 536.0,151.0 536.3,150.8 536.5,147.8 536.6,148.1 537.0,149.8 537.3,148.2 537.7,150.6 538.0,147.9 538.3,147.5 538.7,149.1 539.0,149.0 539.4,146.9 539.7,148.5 540.0,145.7 540.4,145.3 540.7,144.3 541.1,144.7 541.4,145.1 541.7,146.2 542.1,147.0 542.4,146.9 542.8,146.6 543.1,143.2 543.4,142.4 543.8,145.7 544.1,146.6 544.4,144.0 544.8,148.2 545.1,146.6 545.5,142.8 545.8,142.7 546.1,143.7 546.5,142.2 546.8,144.9 547.2,145.3 547.5,145.0 547.8,145.2 548.2,143.4 548.5,144.2 548.9,142.6 549.2,142.7 549.5,142.3 549.9,141.9 550.2,143.4 550.6,142.7 550.9,140.8 551.2,142.6 551.6,141.2 551.9,139.1 552.3,141.4 552.6,141.2 552.9,140.1 553.3,140.9 553.6,142.2 553.9,139.4 554.3,142.8 554.6,139.7 555.0,140.3 555.3,141.6 555.6,139.8 556.0,142.1 556.3,140.0 556.7,139.0 557.0,140.9 557.3,138.9 557.7,140.8 558.0,139.2 558.4,140.2 558.7,141.4 559.0,142.0 559.4,140.6 559.7,140.6 560.1,141.2 560.4,141.1 560.7,141.0 561.1,141.4 561.4,140.2 561.7,137.1 562.1,142.0 562.4,140.8 562.8,142.5 563.1,141.0 563.4,141.7 563.8,139.0 564.1,141.5 564.5,142.1 564.8,141.9 565.1,138.7 565.5,140.3 565.8,138.7 566.2,139.3 566.5,139.1 566.8,142.3 567.0,142.2 567.2,142.1 567.5,140.7 567.9,139.2 568.2,138.5 568.5,142.8 568.9,141.1 569.2,138.9 569.5,140.7 569.9,138.7 570.2,139.5 570.6,139.6 570.9,139.5 571.2,140.9 571.6,139.4 571.9,140.5 572.3,140.4 572.6,140.2 572.9,142.1 573.3,141.3 573.6,140.7 574.0,142.5 574.3,145.3 574.6,143.9 575.0,142.1 575.3,141.7 575.7,143.7 576.0,141.9 576.3,142.1 576.7,141.3 577.0,144.3 577.3,144.5 577.7,144.4 578.0,144.7 578.4,145.9 578.7,143.4 579.0,144.3 579.4,142.9 579.7,143.0 580.1,143.9 580.4,145.9 580.7,145.7 581.1,146.3 581.4,146.0 581.8,143.1 582.1,145.9 582.4,145.5 582.8,145.3 582.8,144.8 583.1,146.5 583.5,143.3 583.8,143.7 584.1,145.3 584.5,143.1 584.8,144.4 585.2,144.3 585.5,144.8 585.8,145.4 586.2,144.1 586.5,144.0 586.8,145.8 587.2,147.5 587.5,146.8 587.9,148.0 588.2,148.9 588.5,145.5 588.9,146.3 589.2,147.5 589.6,146.0 589.9,146.5 590.2,146.9 590.6,148.0 590.9,148.8 591.3,147.5 591.6,149.3 591.9,148.0 592.3,146.0 592.6,149.3 593.0,148.2 593.3,147.9 593.6,146.1 594.0,146.7 594.3,149.9 594.6,147.8 595.0,147.0 595.3,150.7 595.7,150.4 596.0,148.1 596.3,150.7 596.7,147.4 597.0,150.0 597.4,150.6 597.7,151.7 598.0,151.1 598.3,148.8 598.4,150.8 598.7,152.1 599.1,152.6 599.4,150.2 599.7,150.4 600.1,150.3 600.4,151.0 600.8,150.7 601.1,149.1 601.4,149.9 601.8,150.9 602.1,149.2 602.4,153.4 602.8,153.4 603.1,153.0 603.5,154.0 603.8,149.9 604.1,152.6 604.5,151.9 604.8,151.9 605.2,150.4 605.5,148.7 605.8,149.6 606.2,150.3 606.5,152.5 606.9,153.1 607.2,154.8 607.5,149.9 607.9,150.5 608.2,151.8 608.6,153.3 608.9,152.0 609.2,152.6 609.6,152.7 609.9,153.2 610.2,153.2 610.6,153.4 610.9,150.4 611.3,149.9 611.6,150.4 611.9,153.0 612.2,153.5 612.3,153.0 612.6,154.4 613.0,149.9 613.3,151.8 613.6,151.0 614.0,151.0 614.3,152.3 614.7,151.0 615.0,153.1 615.3,152.9 615.7,152.6 616.0,151.9 616.4,149.2 616.7,151.0 617.0,152.5 617.4,148.4 617.7,149.4 618.0,152.9 618.4,151.0 618.7,151.3 619.1,151.0 619.4,152.7 619.7,152.1 620.1,151.4 620.4,149.0 620.8,148.5 621.1,149.7 621.4,149.1 621.8,150.9 622.1,151.0 622.5,151.2 622.8,151.0 623.1,152.0 623.5,150.7 623.8,148.5 624.2,149.8 624.5,150.7 624.8,149.5 625.2,150.3 625.5,149.4 625.9,150.9 626.2,150.2 626.5,150.4 626.9,150.9 627.2,150.8 627.5,151.2 627.9,149.7 628.2,149.8 628.6,149.7 628.9,152.0 629.2,149.3 629.2,147.7 629.6,147.1 629.9,149.7 630.3,146.6 630.6,147.9 630.9,148.0 631.3,149.3 631.6,146.2 632.0,142.2 632.3,145.9 632.6,141.4 633.0,140.7 633.3,139.5 633.7,139.2 634.0,138.9 634.3,137.5 634.7,137.1 634.8,135.6 635.0,138.3 635.3,135.3 635.7,135.6 636.0,135.3 636.4,137.2 636.7,136.9 637.0,136.7 637.4,133.1 637.7,132.6 638.1,136.7 638.4,136.5 638.7,133.2 639.1,133.7 639.4,132.7 639.8,131.1 640.1,132.6 640.4,132.1 640.8,131.9 641.1,130.7 641.5,130.0 641.8,130.8 642.1,132.2 642.4,130.1 642.5,132.7 642.8,130.4" stroke="#ec0c16"/>
<path d="M416.2,138.5 416.6,137.1 416.9,135.7 417.3,135.9 417.6,135.1 417.9,136.4 418.3,135.0 418.6,137.0 419.0,136.5 419.3,137.0 419.6,135.3 420.0,137.0 420.3,135.9 420.7,137.6 421.0,134.3 421.3,136.5 421.7,135.8 422.0,137.0 422.3,134.8 422.7,137.3 423.0,137.7 423.4,135.7 423.7,135.9 424.0,137.2 424.4,138.2 424.7,137.9 425.1,136.9 425.4,136.7 425.7,138.4 426.1,136.7 426.4,137.6 426.8,137.8 427.1,137.6 427.4,137.2 427.8,137.8 428.1,135.9 428.5,136.8 428.8,135.6 429.1,136.8 429.5,137.7 429.8,136.5 430.1,136.3 430.5,135.0 430.8,135.6 431.2,136.9 431.5,136.1 431.8,136.4 432.2,136.6 432.5,137.4 432.9,137.6 433.2,137.2 433.5,135.8 433.9,137.6 434.2,135.8 434.6,136.2 434.9,134.7 435.2,136.9 435.6,135.5 435.9,135.5 436.3,136.7 436.6,136.7 436.9,135.6 437.3,137.0 437.6,135.8 437.9,134.7 438.3,135.1 438.6,134.7 439.0,135.2 439.3,136.9 439.6,137.4 440.0,135.8 440.3,137.1 440.7,135.3 441.0,137.0 441.3,136.3 441.7,135.5 442.0,137.9 442.4,137.0 442.7,135.5 443.0,136.1 443.4,134.5 443.7,136.8 444.1,135.0 444.4,135.7 444.7,136.3 445.1,136.4 445.4,137.3 445.8,135.7 446.1,135.9 446.4,134.4 446.8,136.9 447.1,135.5 447.4,134.8 447.8,136.2 448.1,135.6 448.5,135.1 448.8,136.2 449.1,135.1 449.4,134.8 449.5,136.1 449.8,132.7 450.2,134.0 450.5,132.9 450.8,131.1 450.9,130.5 451.2,115.2 451.5,96.1 451.9,76.7 452.0,73.2 452.2,71.5 452.3,61.6 452.5,69.0 452.6,57.9 452.7,70.4 452.9,72.7 453.0,67.6 453.1,78.0 453.3,62.3 453.4,73.0 453.5,74.6 453.6,59.0 453.8,70.9 453.9,74.5 454.0,69.9 454.2,76.1 454.3,75.7 454.4,79.2 454.6,67.0 454.7,79.1 454.8,61.6 455.0,67.7 455.1,59.6 455.2,78.5 455.4,62.1 455.5,74.6 455.6,75.4 455.8,67.0 455.9,58.4 456.0,72.6 456.2,64.9 456.3,73.5 456.4,70.9 456.5,57.1 456.7,69.3 456.8,71.6 456.9,62.6 457.1,76.1 457.2,69.9 457.3,71.7 457.5,63.0 457.6,60.7 457.7,62.3 457.9,71.2 458.0,62.8 458.1,62.3 458.3,75.1 458.4,67.8 458.5,73.1 458.7,75.6 458.8,69.0 458.9,62.7 459.1,78.7 459.2,62.3 459.3,55.4 459.4,61.7 459.6,55.0 459.7,64.6 459.8,68.4 460.0,71.4 460.1,63.0 460.2,74.4 460.4,76.6 460.5,60.8 460.6,79.0 460.8,64.1 460.9,59.1 461.0,72.7 461.2,74.4 461.3,68.0 461.4,72.6 461.6,63.2 461.7,59.6 461.8,78.9 462.0,66.6 462.1,67.7 462.2,62.3 462.4,61.2 462.5,76.2 462.6,75.9 462.7,63.6 462.9,59.2 463.0,72.2 463.1,58.6 463.3,56.7 463.4,67.0 463.5,77.4 463.7,70.4 463.8,67.8 463.9,61.3 464.1,54.9 464.2,68.3 464.3,75.9 464.5,60.1 464.6,74.1 464.7,74.3 464.9,66.7 465.0,64.2 465.1,73.1 465.3,67.0 465.4,66.1 465.5,60.7 465.6,61.9 465.8,71.1 465.9,69.4 466.0,56.2 466.2,62.8 466.3,74.3 466.4,73.6 466.6,77.7 466.7,59.4 466.8,63.6 467.0,67.2 467.1,69.5 467.2,72.9 467.4,67.5 467.5,65.4 467.6,76.8 467.8,77.1 467.9,66.8 468.0,68.8 468.2,71.8 468.3,58.0 468.4,66.3 468.6,62.8 468.7,64.3 468.8,63.3 468.9,62.0 469.1,64.0 469.2,62.9 469.3,70.2 469.5,62.6 469.6,74.2 469.7,77.8 469.9,57.9 470.0,68.9 470.1,68.2 470.3,74.6 470.4,73.0 470.5,63.6 470.7,73.4 470.8,64.8 470.9,57.6 471.1,59.2 471.2,68.6 471.3,78.7 471.5,77.0 471.6,59.4 471.7,68.7 472.0,67.5 472.1,67.5 472.4,74.5 472.7,77.9 473.1,82.5 473.4,87.4 473.8,94.0 474.1,98.7 474.4,104.7 474.7,106.1 474.8,105.9 475.1,110.2 475.4,111.7 475.8,113.4 476.1,114.8 476.5,118.9 476.8,122.3 477.1,123.6 477.5,126.2 477.8,125.5 478.2,130.6 478.4,131.6 478.5,131.9 478.8,131.7 479.2,138.1 479.5,139.9 479.9,142.4 480.2,142.4 480.5,141.3 480.9,144.4 481.2,146.2 481.6,146.7 481.9,147.2 482.2,150.2 482.6,151.4 482.9,152.3 483.2,154.4 483.6,154.0 483.9,154.1 484.3,154.4 484.6,157.5 484.9,158.3 485.3,156.7 485.6,159.8 486.0,158.3 486.3,158.6 486.6,158.7 487.0,160.1 487.3,162.8 487.7,162.0 488.0,161.2 488.2,162.3 488.3,166.0 488.7,165.6 489.0,167.6 489.4,167.2 489.7,166.1 490.0,167.4 490.4,167.0 490.7,165.9 491.0,167.5 491.4,167.3 491.7,169.7 492.0,171.3 492.1,170.1 492.4,169.6 492.7,166.7 493.1,169.0 493.4,166.3 493.8,165.6 494.1,163.6 494.4,163.5 494.8,163.4 495.1,163.7 495.5,161.0 495.8,161.2 496.1,161.8 496.5,161.7 496.8,157.9 496.9,160.4 497.2,157.7 497.5,157.7 497.8,158.3 498.2,156.8 498.5,155.5 498.8,153.7 499.2,156.7 499.5,155.9 499.9,154.9 500.2,151.7 500.5,152.0 500.9,148.6 501.2,150.0 501.6,149.5 501.8,149.0 501.9,146.9 502.2,146.3 502.6,147.7 502.9,146.4 503.3,145.1 503.6,146.4 503.9,146.5 504.3,147.5 504.6,144.9 505.0,146.4 505.3,144.3 505.6,143.4 505.6,146.9 506.0,144.1 506.3,143.5 506.7,143.0 507.0,143.7 507.3,145.8 507.7,143.6 508.0,146.5 508.3,143.6 508.7,147.7 509.0,146.2 509.4,144.0 509.7,146.9 510.0,147.3 510.4,143.8 510.7,145.2 511.1,146.6 511.4,145.0 511.7,145.2 512.1,146.2 512.4,143.3 512.8,142.6 513.1,146.8 513.4,146.8 513.8,144.7 514.1,142.7 514.5,145.3 514.8,146.5 515.1,145.9 515.5,146.8 515.8,145.3 516.1,143.7 516.5,144.4 516.8,145.8 517.2,144.3 517.5,145.3 517.8,145.9 518.2,144.2 518.5,143.6 518.9,145.7 519.2,144.7 519.5,143.9 519.9,146.6 520.2,146.3 520.6,143.4 520.9,143.0 521.2,144.7 521.6,146.5 521.9,145.4 522.3,143.9 522.6,143.9 522.9,145.9 523.3,146.1 523.6,145.7 523.9,146.6 524.3,145.3 524.6,146.1 525.0,145.7 525.3,142.3 525.6,143.3 526.0,145.2 526.3,147.6 526.7,147.5 527.0,147.5 527.3,147.6 527.7,144.9 528.0,144.1 528.4,144.7 528.7,147.2 529.0,145.2 529.4,144.3 529.7,143.5 530.1,145.5 530.4,144.6 530.7,146.5 530.8,145.4 531.1,148.1 531.4,146.3 531.7,144.9 532.1,143.3 532.4,145.8 532.8,142.2 533.1,142.7 533.4,144.6 533.8,142.5 534.1,142.9 534.5,142.4 534.8,142.7 535.1,140.1 535.5,141.7 535.8,139.3 536.2,142.1 536.5,141.6 536.8,139.6 537.2,137.9 537.5,137.4 537.9,137.0 538.2,139.5 538.5,135.8 538.9,136.2 539.2,135.5 539.6,136.6 539.9,136.7 540.2,134.0 540.6,137.7 540.9,133.9 541.0,134.5 541.2,134.3 541.6,135.5 541.9,135.4 542.3,133.6 542.6,135.8 542.9,134.3 543.3,136.6 543.6,136.4 544.0,136.6 544.3,135.1 544.6,135.1 545.0,134.1 545.3,136.0 545.7,133.9 546.0,132.1 546.3,134.4 546.7,133.5 547.0,134.6 547.4,131.8 547.7,133.2 548.0,134.9 548.4,130.6 548.7,130.5 549.0,131.7 549.4,132.3 549.7,131.7 550.1,135.5 550.4,133.8 550.7,133.8 551.1,130.5 551.4,133.0 551.8,133.4 551.9,135.8 552.1,132.5 552.4,133.7 552.8,133.3 553.1,134.0 553.5,133.1 553.8,132.3 554.1,133.9 554.5,131.9 554.8,135.4 555.2,132.2 555.5,132.1 555.8,132.8 556.2,133.7 556.5,133.2 556.8,133.5 557.2,131.9 557.5,132.8 557.9,132.8 558.2,135.8 558.5,132.5 558.9,132.5 559.2,135.2 559.6,135.9 559.9,133.1 560.2,134.5 560.6,134.1 560.9,134.0 561.3,133.8 561.6,132.3 561.9,133.9 562.3,133.4 562.6,136.3 563.0,133.1 563.3,132.6 563.6,133.2 564.0,135.1 564.3,136.9 564.6,136.3 565.0,135.2 565.3,136.9 565.7,135.4 566.0,134.3 566.3,134.0 566.7,135.2 567.0,134.8 567.4,135.9 567.7,133.8 568.0,134.8 568.4,135.5 568.7,136.3 569.1,135.1 569.4,135.8 569.7,134.3 570.1,137.1 570.4,135.4 570.8,136.2 571.1,134.3 571.4,137.1 571.8,137.1 572.1,135.5 572.5,134.0 572.8,136.2 573.1,135.3 573.5,137.9 573.8,135.8 574.1,138.5 574.5,133.7 574.8,136.5 575.2,137.2 575.5,134.8 575.8,135.3 576.2,136.6 576.5,135.7 576.9,134.6 577.2,138.2 577.5,137.2 577.9,134.7 578.2,137.8 578.6,136.9 578.9,135.8 579.2,135.2 579.6,135.2 579.9,135.1 580.3,136.3 580.6,137.8 580.9,137.3 581.3,137.5 581.6,134.9 581.9,136.2 582.3,135.9 582.6,138.2 582.8,137.2 583.0,136.6 583.3,138.4 583.6,137.9 584.0,136.1 584.3,138.7 584.7,137.4 585.0,135.1 585.3,135.3 585.7,135.1 586.0,137.0 586.4,137.7 586.7,137.9 587.0,134.6 587.4,136.4 587.7,138.8 588.1,138.4 588.4,137.6 588.7,139.5 589.1,138.7 589.4,137.7 589.7,136.3 590.1,136.5 590.4,137.6 590.8,137.3 591.1,138.2 591.4,139.9 591.8,136.6 592.1,138.4 592.5,139.5 592.8,139.6 593.1,137.4 593.5,139.8 593.8,137.0 594.2,137.7 594.5,139.6 594.8,140.8 595.2,138.8 595.5,137.9 595.9,137.6 596.2,136.5 596.5,139.0 596.9,139.7 597.2,137.5 597.5,137.5 597.9,140.3 598.2,137.9 598.3,136.8 598.6,139.3 598.9,140.5 599.2,139.2 599.6,138.9 599.9,138.3 600.3,139.2 600.6,140.5 600.9,137.8 601.3,141.4 601.6,140.7 602.0,137.7 602.3,138.0 602.6,138.4 603.0,141.3 603.3,141.6 603.7,142.3 604.0,141.9 604.3,141.3 604.7,139.1 605.0,141.7 605.3,141.2 605.7,138.5 606.0,138.5 606.4,138.5 606.7,141.7 607.0,138.5 607.4,141.4 607.7,139.1 608.1,140.0 608.4,138.8 608.7,140.9 609.1,142.3 609.4,142.3 609.8,140.9 610.1,140.6 610.4,140.2 610.8,142.3 611.1,138.7 611.5,143.0 611.8,144.0 612.1,140.0 612.5,144.8 612.8,144.5 613.2,144.5 613.5,144.4 613.7,140.5 613.8,141.4 614.2,141.6 614.5,144.0 614.8,143.1 615.2,142.8 615.5,145.3 615.9,141.7 616.2,139.6 616.5,143.0 616.9,143.2 617.2,141.7 617.6,145.2 617.9,144.3 618.2,141.3 618.6,139.6 618.9,142.9 619.3,141.8 619.6,145.2 619.9,142.4 620.3,141.2 620.6,140.8 621.0,142.7 621.3,144.3 621.6,142.8 622.0,143.3 622.3,144.8 622.6,145.5 623.0,143.8 623.3,141.9 623.7,144.0 624.0,143.6 624.3,141.1 624.7,143.5 625.0,142.3 625.4,143.9 625.7,143.0 626.0,141.3 626.4,144.8 626.7,142.2 627.1,142.8 627.4,144.8 627.7,146.0 628.1,144.2 628.4,142.3 628.8,143.2 629.1,143.0 629.2,144.0 629.4,144.2 629.8,141.5 630.1,143.4 630.4,140.6 630.8,140.6 631.1,144.2 631.5,143.5 631.8,144.3 632.1,141.7 632.5,141.0 632.8,141.0 633.2,142.7 633.5,144.6 633.8,141.4 634.2,142.2 634.5,141.1 634.9,141.5 635.2,144.1 635.5,142.5 635.9,140.5 636.2,140.7 636.6,140.8 636.9,140.6 637.2,139.8 637.6,142.4 637.9,141.9 638.2,143.4 638.6,141.3 638.9,141.4 639.3,139.0 639.6,141.1 639.9,140.5 640.3,144.0 640.6,143.0 641.0,140.2 641.3,143.4 641.6,143.6 642.0,142.4 642.3,143.0 642.4,142.8 642.7,141.8 643.0,141.9" stroke="#20c87a"/>
</g>
<path d="M397.4,201.0v-4.5M397.4,17.1v4.5M416.2,201.0v-2.5M416.2,17.1v2.5M435.1,201.0v-4.5M435.1,17.1v4.5M453.9,201.0v-2.5M453.9,17.1v2.5M472.8,201.0v-4.5M472.8,17.1v4.5M491.6,201.0v-2.5M491.6,17.1v2.5M510.5,201.0v-4.5M510.5,17.1v4.5M529.3,201.0v-2.5M529.3,17.1v2.5M548.1,201.0v-4.5M548.1,17.1v4.5M567.0,201.0v-2.5M567.0,17.1v2.5M585.8,201.0v-4.5M585.8,17.1v4.5M604.7,201.0v-2.5M604.7,17.1v2.5M623.5,201.0v-4.5M623.5,17.1v4.5M642.4,201.0v-2.5M642.4,17.1v2.5M661.2,201.0v-4.5M661.2,17.1v4.5M397.4,201.0h4.5M661.2,201.0h-4.5M397.4,170.3h2.5M661.2,170.3h-2.5M397.4,139.7h4.5M661.2,139.7h-4.5M397.4,109.0h2.5M661.2,109.0h-2.5M397.4,78.4h4.5M661.2,78.4h-4.5M397.4,47.8h2.5M661.2,47.8h-2.5M397.4,17.1h4.5M661.2,17.1h-4.5" stroke="#222" stroke-width="1.2" fill="none"/>
<rect x="397.4" y="17.1" width="263.8" height="183.9" fill="none" stroke="#222" stroke-width="1.4"/>
<g font-family='"Liberation Sans", sans-serif' font-size="10.2" fill="#2a2a2a" stroke="#2a2a2a" stroke-width="0.05"><text x="375.4" y="22.4" textLength="16.2" lengthAdjust="spacingAndGlyphs">3.0</text><text x="375.4" y="83.7" textLength="16.2" lengthAdjust="spacingAndGlyphs">1.5</text><text x="375.4" y="145.0" textLength="16.2" lengthAdjust="spacingAndGlyphs">0.0</text><text x="370.9" y="206.3" textLength="20.7" lengthAdjust="spacingAndGlyphs">-1.5</text><text x="382.9" y="215.0" textLength="27.0" lengthAdjust="spacingAndGlyphs">-0.01</text><text x="423.8" y="215.0" textLength="22.5" lengthAdjust="spacingAndGlyphs">0.00</text><text x="461.5" y="215.0" textLength="22.5" lengthAdjust="spacingAndGlyphs">0.01</text><text x="499.2" y="215.0" textLength="22.5" lengthAdjust="spacingAndGlyphs">0.02</text><text x="536.9" y="215.0" textLength="22.5" lengthAdjust="spacingAndGlyphs">0.03</text><text x="574.6" y="215.0" textLength="22.5" lengthAdjust="spacingAndGlyphs">0.04</text><text x="612.3" y="215.0" textLength="22.5" lengthAdjust="spacingAndGlyphs">0.05</text><text x="650.0" y="215.0" textLength="22.5" lengthAdjust="spacingAndGlyphs">0.06</text></g>
<text x="442.9" y="15.4" font-family='"Liberation Sans", sans-serif' font-size="11.2"  fill="#2a2a2a" stroke="#2a2a2a" stroke-width="0.30" textLength="134.0" lengthAdjust="spacingAndGlyphs">1,3 M 1 Row Closed</text>
<text transform="translate(361.7,109.0) rotate(-90)" x="-49.8" y="0" font-family='"Liberation Sans", sans-serif' font-size="14.5" fill="#0a0a0a" stroke="#0a0a0a" stroke-width="0.5" textLength="99.5" lengthAdjust="spacingAndGlyphs">Pressure (Pa X 10^5)</text>
<text x="492.3" y="229.9" font-family='"Liberation Sans", sans-serif' font-size="10.8" fill="#111" stroke="#111" stroke-width="0.35" textLength="72.2" lengthAdjust="spacingAndGlyphs">Time (sec)</text>
<rect x="607.3" y="5.5" width="70.8" height="47.6" fill="#fff" stroke="#222" stroke-width="1.4"/>
<line x1="614.3" y1="13.8" x2="647.6" y2="13.8" stroke="#6aa8e0" stroke-width="1.3"/>
<text x="651.7" y="18.2" font-family='"Liberation Sans", sans-serif' font-size="9.6" fill="#222" stroke="#222" stroke-width="0.1" textLength="18.8" lengthAdjust="spacingAndGlyphs">Ch1</text>
<line x1="614.3" y1="23.9" x2="647.6" y2="23.9" stroke="#f0a050" stroke-width="1.3"/>
<text x="651.7" y="28.3" font-family='"Liberation Sans", sans-serif' font-size="9.6" fill="#222" stroke="#222" stroke-width="0.1" textLength="18.8" lengthAdjust="spacingAndGlyphs">Ch2</text>
<line x1="614.3" y1="33.4" x2="647.6" y2="33.4" stroke="#e06080" stroke-width="1.3"/>
<text x="651.7" y="37.8" font-family='"Liberation Sans", sans-serif' font-size="9.6" fill="#222" stroke="#222" stroke-width="0.1" textLength="18.8" lengthAdjust="spacingAndGlyphs">Ch3</text>
<line x1="614.3" y1="44.0" x2="647.6" y2="44.0" stroke="#50c8a0" stroke-width="1.3"/>
<text x="651.7" y="48.4" font-family='"Liberation Sans", sans-serif' font-size="9.6" fill="#222" stroke="#222" stroke-width="0.1" textLength="18.8" lengthAdjust="spacingAndGlyphs">Ch4</text>
<line x1="77.8" y1="249.0" x2="77.8" y2="428.3" stroke="#b4b4b4" stroke-width="1" stroke-dasharray="1.1,2.4"/><line x1="96.9" y1="249.0" x2="96.9" y2="428.3" stroke="#b8b8b8" stroke-width="1.3"/><line x1="115.9" y1="249.0" x2="115.9" y2="428.3" stroke="#b4b4b4" stroke-width="1" stroke-dasharray="1.1,2.4"/><line x1="135.0" y1="249.0" x2="135.0" y2="428.3" stroke="#b8b8b8" stroke-width="1.3"/><line x1="154.1" y1="249.0" x2="154.1" y2="428.3" stroke="#b4b4b4" stroke-width="1" stroke-dasharray="1.1,2.4"/><line x1="173.2" y1="249.0" x2="173.2" y2="428.3" stroke="#b8b8b8" stroke-width="1.3"/><line x1="192.2" y1="249.0" x2="192.2" y2="428.3" stroke="#b4b4b4" stroke-width="1" stroke-dasharray="1.1,2.4"/><line x1="211.3" y1="249.0" x2="211.3" y2="428.3" stroke="#b8b8b8" stroke-width="1.3"/><line x1="230.4" y1="249.0" x2="230.4" y2="428.3" stroke="#b4b4b4" stroke-width="1" stroke-dasharray="1.1,2.4"/><line x1="249.5" y1="249.0" x2="249.5" y2="428.3" stroke="#b8b8b8" stroke-width="1.3"/><line x1="268.6" y1="249.0" x2="268.6" y2="428.3" stroke="#b4b4b4" stroke-width="1" stroke-dasharray="1.1,2.4"/><line x1="287.6" y1="249.0" x2="287.6" y2="428.3" stroke="#b8b8b8" stroke-width="1.3"/><line x1="306.7" y1="249.0" x2="306.7" y2="428.3" stroke="#b4b4b4" stroke-width="1" stroke-dasharray="1.1,2.4"/><line x1="58.7" y1="415.5" x2="325.8" y2="415.5" stroke="#b4b4b4" stroke-width="1" stroke-dasharray="1.1,2.4"/><line x1="58.7" y1="402.7" x2="325.8" y2="402.7" stroke="#b8b8b8" stroke-width="1.3"/><line x1="58.7" y1="389.9" x2="325.8" y2="389.9" stroke="#b4b4b4" stroke-width="1" stroke-dasharray="1.1,2.4"/><line x1="58.7" y1="377.1" x2="325.8" y2="377.1" stroke="#b8b8b8" stroke-width="1.3"/><line x1="58.7" y1="364.3" x2="325.8" y2="364.3" stroke="#b4b4b4" stroke-width="1" stroke-dasharray="1.1,2.4"/><line x1="58.7" y1="351.5" x2="325.8" y2="351.5" stroke="#b8b8b8" stroke-width="1.3"/><line x1="58.7" y1="338.6" x2="325.8" y2="338.6" stroke="#b4b4b4" stroke-width="1" stroke-dasharray="1.1,2.4"/><line x1="58.7" y1="325.8" x2="325.8" y2="325.8" stroke="#b8b8b8" stroke-width="1.3"/><line x1="58.7" y1="313.0" x2="325.8" y2="313.0" stroke="#b4b4b4" stroke-width="1" stroke-dasharray="1.1,2.4"/><line x1="58.7" y1="300.2" x2="325.8" y2="300.2" stroke="#b8b8b8" stroke-width="1.3"/><line x1="58.7" y1="287.4" x2="325.8" y2="287.4" stroke="#b4b4b4" stroke-width="1" stroke-dasharray="1.1,2.4"/><line x1="58.7" y1="274.6" x2="325.8" y2="274.6" stroke="#b8b8b8" stroke-width="1.3"/><line x1="58.7" y1="261.8" x2="325.8" y2="261.8" stroke="#b4b4b4" stroke-width="1" stroke-dasharray="1.1,2.4"/>
<clipPath id="cML"><rect x="58.7" y="249.5" width="267.1" height="178.8"/></clipPath>
<g fill="none" stroke-width="1.7" stroke-linejoin="round" clip-path="url(#cML)">
<path d="M77.8,371.3 78.1,371.6 78.5,373.0 78.8,374.1 79.2,370.8 79.5,372.9 79.8,373.4 80.2,370.9 80.5,373.5 80.9,373.2 81.2,372.3 81.6,373.9 81.9,371.4 82.2,372.2 82.6,372.4 82.9,372.5 83.3,373.0 83.6,374.6 84.0,374.4 84.3,373.3 84.6,373.9 85.0,371.7 85.3,372.3 85.7,372.6 86.0,372.3 86.4,373.4 86.7,373.5 87.1,372.1 87.4,371.4 87.7,371.6 88.1,373.4 88.4,370.9 88.8,373.7 89.1,371.6 89.5,371.2 89.8,371.8 90.1,371.5 90.5,372.7 90.8,374.1 91.2,372.8 91.5,371.8 91.9,373.5 92.2,372.8 92.5,373.3 92.9,371.0 93.2,372.5 93.6,373.1 93.9,371.6 94.3,371.1 94.6,371.0 94.9,371.4 95.3,370.9 95.6,372.7 96.0,373.0 96.3,370.9 96.5,372.8 96.7,334.5 96.9,297.0 97.0,285.7 97.1,284.0 97.2,270.9 97.3,277.5 97.4,268.0 97.5,278.0 97.7,277.9 97.8,281.4 97.9,277.7 98.1,284.2 98.2,287.9 98.3,286.8 98.4,281.8 98.5,286.8 98.6,294.6 98.7,289.8 98.9,286.8 99.0,287.5 99.1,296.2 99.3,287.0 99.4,292.8 99.5,296.9 99.7,297.0 99.8,296.6 99.9,300.5 99.9,299.6 100.1,281.8 100.2,286.1 100.3,294.5 100.5,295.6 100.6,294.8 100.7,291.1 100.9,288.6 101.0,288.2 101.1,285.7 101.3,282.5 101.4,275.4 101.6,278.2 101.7,271.3 101.8,276.1 102.0,277.0 102.1,276.3 102.2,268.9 102.4,272.6 102.5,270.3 102.6,273.0 102.8,270.5 102.9,271.0 103.0,269.0 103.2,270.1 103.3,270.4 103.4,275.6 103.6,274.4 103.7,276.5 103.8,272.3 104.0,272.3 104.1,271.8 104.2,271.7 104.4,270.1 104.5,268.3 104.6,273.2 104.8,274.2 104.9,269.1 105.0,270.1 105.2,268.7 105.3,270.7 105.4,269.4 105.6,266.7 105.7,272.0 105.8,266.5 106.0,265.5 106.1,273.3 106.2,273.5 106.4,268.7 106.5,276.0 106.6,270.6 106.8,276.2 106.9,270.4 107.0,266.6 107.2,273.7 107.3,268.6 107.4,268.4 107.6,272.9 107.7,267.1 107.8,273.8 108.0,268.6 108.1,271.1 108.2,276.3 108.4,276.9 108.5,273.0 108.6,271.2 108.8,268.8 108.9,271.9 109.0,270.3 109.2,276.5 109.3,271.3 109.4,270.8 109.6,275.6 109.7,268.4 109.8,268.5 110.0,275.4 110.1,272.9 110.2,276.3 110.4,273.5 110.5,274.7 110.6,271.9 110.8,267.2 110.9,269.5 111.0,275.1 111.2,271.7 111.3,269.6 111.4,266.7 111.6,270.6 111.7,269.6 111.8,270.1 112.0,267.7 112.1,273.3 112.2,273.7 112.4,267.2 112.5,267.1 112.6,273.0 112.8,266.4 112.9,274.8 113.0,268.7 113.2,272.4 113.3,270.7 113.4,267.3 113.6,268.8 113.7,267.4 113.8,275.0 114.0,275.1 114.1,274.0 114.2,265.8 114.4,269.9 114.4,267.3 114.5,270.5 114.6,274.4 114.8,276.2 114.9,271.4 115.0,274.7 115.2,275.4 115.3,269.9 115.4,276.0 115.6,270.1 115.7,277.2 115.8,276.7 116.0,275.8 116.1,277.8 116.2,274.6 116.4,274.1 116.5,277.5 116.6,280.0 116.8,277.0 116.9,282.0 117.0,278.1 117.2,282.1 117.3,281.3 117.4,275.3 117.6,278.0 117.7,275.0 117.8,281.1 118.2,282.0 118.5,284.3 118.9,284.7 119.2,284.4 119.6,283.6 119.9,286.7 120.2,286.3 120.6,291.4 120.9,293.1 121.3,288.6 121.6,293.6 122.0,290.5 122.3,295.1 122.7,292.7 122.8,290.3 123.0,296.6 123.3,293.1 123.7,293.8 124.0,297.2 124.4,298.4 124.7,303.1 125.1,300.5 125.4,304.1 125.7,304.2 126.1,307.2 126.4,306.4 126.8,308.1 127.1,309.7 127.5,313.9 127.8,314.6 127.8,319.6 128.1,317.5 128.5,323.9 128.8,322.7 129.2,318.9 129.5,325.1 129.9,327.3 130.2,326.0 130.5,328.3 130.9,329.0 131.2,330.2 131.6,334.2 131.9,338.8 132.0,336.3 132.3,334.1 132.6,337.0 133.0,340.3 133.3,335.3 133.6,342.1 134.0,338.2 134.3,337.7 134.7,343.6 135.0,341.8 135.4,344.3 135.7,342.4 135.8,338.1 136.0,339.3 136.4,346.2 136.7,340.9 137.1,347.3 137.4,343.3 137.8,347.4 138.1,345.5 138.4,346.6 138.8,347.0 139.1,350.1 139.5,351.7 139.8,347.1 140.0,356.2 140.2,348.2 140.5,349.5 140.9,354.1 141.2,351.5 141.5,350.9 141.9,350.6 142.2,356.0 142.6,356.9 142.9,355.7 143.3,355.5 143.6,357.2 143.9,355.3 144.3,359.9 144.6,360.9 145.0,359.4 145.3,357.6 145.7,360.7 145.7,360.4 146.0,359.3 146.3,358.5 146.7,359.2 147.0,361.0 147.4,360.1 147.7,363.5 148.1,359.0 148.4,363.0 148.8,360.0 149.1,361.7 149.4,362.5 149.8,362.0 150.1,363.0 150.5,364.5 150.8,367.1 151.2,365.5 151.5,367.7 151.8,366.6 151.8,369.9 152.2,370.8 152.5,369.8 152.9,369.6 153.2,366.7 153.6,367.5 153.9,364.3 154.2,366.4 154.6,368.0 154.9,368.1 155.3,369.0 155.6,369.4 156.0,368.0 156.3,366.6 156.6,369.7 156.8,369.5 157.0,368.8 157.3,372.4 157.7,372.2 158.0,371.9 158.4,376.6 158.7,378.1 159.1,380.7 159.4,378.8 159.4,379.8 159.7,380.2 160.1,382.6 160.4,383.8 160.8,387.7 161.1,389.0 161.5,386.6 161.8,391.5 162.1,386.8 162.5,393.8 162.8,397.2 163.2,398.6 163.5,399.5 163.6,396.0 163.9,399.1 164.2,397.9 164.5,402.6 164.9,402.7 165.2,399.8 165.6,403.5 165.9,401.2 166.3,402.9 166.6,403.1 167.0,402.3 167.3,406.8 167.6,408.4 168.0,408.0 168.3,406.5 168.7,408.7 169.0,412.0 169.4,411.0 169.7,414.0 170.0,412.9 170.4,413.9 170.7,411.5 171.1,415.0 171.4,414.1 171.8,412.8 172.1,414.1 172.4,414.9 172.8,415.6 173.1,416.2 173.5,414.6 173.8,415.6 174.2,413.9 174.5,415.4 174.9,417.2 175.2,419.1 175.5,420.1 175.5,419.1 175.9,417.1 176.2,416.7 176.6,420.6 176.9,416.3 177.3,419.4 177.6,421.6 177.9,420.6 178.3,419.1 178.6,420.5 179.0,422.4 179.3,419.0 179.7,417.6 180.0,418.0 180.3,418.5 180.7,420.3 181.0,421.4 181.4,420.3 181.6,423.4 181.7,420.0 182.1,422.5 182.4,419.2 182.7,419.4 183.1,420.7 183.4,420.3 183.8,423.4 184.1,419.1 184.5,420.1 184.8,419.1 185.2,422.0 185.5,420.2 185.8,421.3 186.2,420.3 186.5,423.7 186.9,421.2 187.2,417.7 187.6,416.4 187.9,414.1 188.2,412.1 188.6,416.6 188.9,415.1 189.3,412.5 189.6,410.1 190.0,409.7 190.3,411.4 190.6,409.8 191.0,407.5 191.1,406.8 191.3,407.1 191.7,405.4 192.0,408.3 192.4,406.5 192.7,405.0 193.1,402.3 193.4,401.6 193.7,401.6 194.1,399.0 194.4,397.7 194.8,397.7 195.1,400.1 195.5,395.3 195.8,397.8 196.1,396.9 196.5,392.6 196.8,392.9 197.2,395.1 197.2,390.7 197.5,392.8 197.9,390.7 198.2,391.2 198.5,389.7 198.9,390.1 199.2,388.8 199.6,390.5 199.9,389.7 199.9,393.5 200.3,390.8 200.6,387.3 200.9,385.9 201.3,386.3 201.6,388.4 202.0,387.6 202.3,384.3 202.7,383.4 203.0,386.2 203.4,386.9 203.7,382.5 204.0,385.6 204.4,382.5 204.7,385.6 205.1,383.3 205.4,383.8 205.8,381.9 206.1,380.8 206.4,382.3 206.8,379.2 207.1,379.2 207.5,379.0 207.8,381.4 208.2,376.6 208.5,378.6 208.8,379.2 209.2,378.9 209.5,379.8 209.9,375.2 210.2,378.4 210.6,378.3 210.9,375.5 211.3,373.4 211.3,373.2 211.6,376.5 211.9,375.1 212.3,376.5 212.6,378.0 213.0,376.0 213.3,376.1 213.7,376.9 214.0,372.8 214.3,375.7 214.7,376.1 215.0,377.8 215.4,375.8 215.7,376.9 216.1,374.7 216.4,376.3 216.7,375.6 217.1,372.8 217.4,371.2 217.8,372.4 218.1,373.7 218.5,372.2 218.8,374.3 219.2,373.7 219.5,371.6 219.8,372.6 220.2,372.3 220.5,375.5 220.9,375.7 221.2,374.0 221.6,372.7 221.9,373.4 222.2,372.3 222.6,371.9 222.9,372.6 223.3,371.8 223.6,373.8 224.0,372.0 224.3,370.9 224.6,375.1 225.0,376.2 225.3,371.0 225.7,372.0 226.0,373.6 226.4,369.9 226.7,370.9 227.0,370.5 227.4,371.2 227.7,369.6 228.1,373.4 228.4,369.3 228.5,371.7 228.8,373.8 229.1,368.0 229.5,368.3 229.8,371.7 230.1,371.4 230.5,368.7 230.8,371.2 231.2,372.8 231.5,369.8 231.9,370.8 232.2,373.3 232.5,372.8 232.9,371.4 233.2,372.6 233.6,368.7 233.9,368.4 234.3,366.0 234.6,370.3 234.9,369.5 235.3,372.1 235.6,372.9 236.0,371.7 236.3,371.1 236.7,373.2 237.0,370.1 237.4,369.5 237.7,370.7 238.0,369.4 238.4,373.8 238.7,373.2 239.1,369.1 239.4,373.7 239.8,370.3 240.1,373.0 240.4,369.6 240.8,370.5 241.1,374.5 241.5,371.0 241.8,375.3 242.2,373.6 242.5,376.4 242.8,376.4 243.2,372.0 243.5,376.6 243.8,376.0 243.9,373.3 244.2,372.1 244.6,374.8 244.9,373.1 245.3,374.7 245.6,376.4 245.9,374.2 246.3,378.5 246.6,377.6 247.0,378.7 247.3,379.5 247.7,377.6 248.0,378.2 248.3,376.0 248.7,379.1 249.0,376.8 249.4,383.2 249.7,379.4 250.1,380.0 250.4,378.4 250.7,380.3 251.1,381.8 251.4,379.7 251.8,383.4 252.1,384.4 252.5,381.8 252.8,383.0 253.1,380.4 253.3,382.1 253.5,381.7 253.8,384.7 254.2,382.3 254.5,385.7 254.9,382.4 255.2,384.4 255.6,384.1 255.9,389.8 256.2,385.5 256.6,390.2 256.9,388.5 257.3,388.8 257.6,386.9 258.0,386.0 258.3,386.9 258.6,389.1 259.0,389.0 259.3,387.8 259.7,390.4 260.0,391.2 260.4,391.4 260.7,392.8 261.0,391.7 261.4,392.8 261.7,393.5 262.1,394.9 262.4,390.7 262.5,388.3 262.8,390.9 263.1,391.9 263.5,395.7 263.8,393.7 264.1,394.2 264.5,391.5 264.8,390.9 265.2,390.7 265.5,391.4 265.9,393.7 266.2,390.4 266.5,392.1 266.9,393.7 267.2,392.8 267.6,389.6 267.9,388.7 268.3,392.5 268.6,392.9 268.9,390.5 269.3,390.5 269.6,392.4 270.0,389.3 270.3,392.4 270.7,389.5 271.0,392.0 271.3,389.4 271.7,391.4 272.0,391.7 272.0,389.4 272.4,388.3 272.7,391.9 273.1,391.5 273.4,388.3 273.8,390.3 274.1,388.4 274.4,387.9 274.8,390.4 275.1,386.5 275.5,388.3 275.8,389.2 276.2,387.3 276.5,390.0 276.8,386.9 277.2,386.1 277.5,388.8 277.9,387.1 278.2,389.5 278.6,387.1 278.9,387.5 279.2,386.4 279.6,388.9 279.9,390.5 280.3,386.6 280.6,389.4 281.0,385.1 281.3,390.6 281.5,385.8 281.7,384.8 282.0,386.1 282.3,389.9 282.7,387.8 283.0,389.1 283.4,386.5 283.7,387.4 284.1,388.8 284.4,388.9 284.7,388.3 285.1,383.9 285.4,388.2 285.8,384.8 286.1,387.3 286.5,383.5 286.8,388.2 287.1,384.8 287.3,385.2 287.5,380.1 287.8,378.3 288.0,373.2 288.2,376.0 288.5,377.2 288.9,371.9 289.2,373.3 289.6,375.3 289.9,374.2 290.2,372.2 290.6,372.2 290.9,368.1 291.3,372.6 291.6,369.6 292.0,372.0 292.3,369.1 292.6,370.5 293.0,370.3 293.3,367.4 293.7,368.2 294.0,369.2 294.4,366.2 294.7,365.5 294.9,366.3 295.0,365.7 295.4,366.7 295.7,363.9 296.1,367.4 296.4,366.4 296.8,365.2 297.1,362.7 297.4,363.8 297.8,364.1 298.1,362.8 298.5,363.1 298.8,361.2 299.2,359.8 299.5,359.5 299.9,362.0 300.2,361.1 300.5,358.5 300.6,358.2 300.9,361.6 301.2,358.7 301.6,356.9 301.9,360.4 302.3,359.6 302.6,357.2 302.9,357.3 303.3,359.4 303.6,358.1 304.0,357.8 304.3,357.2 304.7,358.2 305.0,354.1 305.3,354.7 305.7,353.7 306.0,353.8 306.0,352.4 306.4,353.7 306.7,354.6 307.1,356.8 307.4,351.1" stroke="#1264e6"/>
<path d="M77.8,372.8 78.1,373.1 78.5,375.0 78.8,375.0 79.2,374.3 79.5,372.5 79.8,374.8 80.2,374.4 80.5,373.6 80.9,376.1 81.2,373.5 81.6,373.3 81.9,375.6 82.2,376.0 82.6,373.6 82.9,374.4 83.3,376.1 83.6,376.9 84.0,373.8 84.3,375.5 84.6,376.0 85.0,373.3 85.3,375.5 85.7,374.5 86.0,375.6 86.4,372.9 86.7,373.0 87.1,375.5 87.4,375.3 87.7,374.6 88.1,372.6 88.4,374.9 88.8,373.7 89.1,374.0 89.5,374.0 89.8,373.0 90.1,374.4 90.5,374.9 90.8,373.6 91.2,375.1 91.5,374.8 91.9,374.2 92.2,375.0 92.5,375.1 92.9,375.4 93.2,373.0 93.6,373.9 93.9,373.4 94.3,376.4 94.6,375.9 94.9,375.4 95.3,375.4 95.6,373.1 96.0,373.9 96.3,373.2 96.7,374.1 97.0,372.2 97.4,373.4 97.7,372.1 98.0,373.5 98.4,373.9 98.7,374.5 99.1,373.6 99.4,373.3 99.8,375.9 100.1,375.7 100.4,375.0 100.8,373.9 101.1,375.2 101.5,375.1 101.8,376.6 102.2,374.6 102.5,372.8 102.8,373.7 103.2,372.0 103.5,374.2 103.9,375.0 104.2,375.4 104.6,373.0 104.9,374.3 105.3,373.6 105.6,375.1 105.9,374.9 106.3,375.2 106.6,375.3 107.0,374.6 107.3,373.2 107.7,376.0 108.0,373.7 108.3,374.7 108.7,374.5 109.0,373.5 109.4,375.7 109.7,373.2 110.1,375.3 110.4,372.7 110.7,374.1 111.1,374.3 111.4,373.9 111.8,375.5 112.1,375.1 112.5,375.1 112.8,374.3 113.2,375.5 113.5,377.0 113.6,375.2 113.8,315.1 114.0,262.7 114.2,255.9 114.3,266.7 114.4,269.4 114.6,266.4 114.7,263.4 114.8,273.3 115.0,272.1 115.1,272.4 115.2,277.1 115.2,282.9 115.4,274.1 115.5,273.9 115.6,285.6 115.8,278.5 115.9,271.4 116.1,284.3 116.2,278.5 116.3,283.4 116.5,280.0 116.6,277.7 116.7,281.2 116.9,275.9 117.0,275.8 117.1,281.5 117.3,279.9 117.4,281.6 117.5,287.7 117.7,280.2 117.8,293.1 117.9,279.4 118.1,282.6 118.2,284.1 118.3,283.0 118.5,277.5 118.6,290.5 118.7,289.2 118.9,277.7 119.0,284.4 119.1,282.8 119.3,273.8 119.4,282.7 119.5,281.1 119.7,281.8 119.8,284.7 119.9,279.1 120.1,286.1 120.2,280.2 120.3,285.7 120.5,281.7 120.6,286.6 120.7,277.9 120.9,277.4 121.0,275.5 121.1,285.6 121.3,283.8 121.4,276.1 121.5,288.8 121.7,279.7 121.8,280.1 121.9,289.0 122.1,292.1 122.2,277.6 122.3,286.1 122.5,288.5 122.6,279.9 122.7,288.6 122.9,283.2 123.0,277.9 123.1,289.4 123.3,288.1 123.4,285.2 123.5,278.7 123.7,284.0 123.8,289.1 123.9,279.5 124.1,282.1 124.2,278.7 124.3,289.0 124.5,293.7 124.6,282.4 124.7,287.3 124.9,284.3 125.0,289.8 125.1,283.4 125.3,287.3 125.4,282.7 125.5,283.6 125.7,277.7 125.8,281.6 125.9,284.6 126.1,279.1 126.2,281.5 126.3,278.5 126.5,285.6 126.6,290.9 126.7,289.3 126.9,285.6 127.0,277.8 127.1,287.0 127.3,283.9 127.4,282.6 127.5,277.4 127.7,288.3 127.8,286.3 127.9,287.9 128.1,278.8 128.2,285.5 128.3,287.5 128.5,274.7 128.6,286.5 128.7,281.7 128.9,280.8 129.0,279.8 129.1,282.1 129.3,286.0 129.4,282.6 129.5,286.9 129.7,286.9 129.8,288.9 129.9,283.3 130.1,290.3 130.2,279.6 130.3,280.1 130.5,292.0 130.6,280.7 130.7,282.6 130.9,280.0 131.0,283.1 131.1,283.8 131.3,280.7 131.4,287.8 131.5,287.0 131.7,290.4 131.8,285.7 131.9,284.2 132.1,289.9 132.2,289.4 132.3,289.2 132.5,291.8 132.6,288.8 132.7,280.6 132.9,289.7 133.0,291.1 133.1,284.5 133.3,289.3 133.4,297.7 133.5,290.3 133.7,291.9 133.8,284.3 133.9,286.5 133.9,286.5 134.3,296.5 134.6,301.0 135.0,305.8 135.3,314.3 135.7,316.6 136.0,325.3 136.3,330.8 136.7,334.8 137.0,338.7 137.4,346.5 137.7,351.1 137.7,350.3 138.1,351.4 138.4,358.4 138.8,360.6 139.1,363.5 139.4,369.8 139.8,371.4 140.1,373.0 140.5,374.8 140.7,375.9 140.8,380.8 141.2,382.2 141.5,380.9 141.8,383.4 142.2,382.8 142.5,389.4 142.9,390.0 143.2,389.5 143.6,391.2 143.9,393.3 144.2,393.4 144.6,399.7 144.6,399.8 144.9,396.4 145.3,399.4 145.6,399.3 146.0,402.1 146.3,403.2 146.7,406.1 147.0,403.2 147.3,406.3 147.7,412.0 148.0,409.6 148.4,411.2 148.7,414.4 148.8,410.0 149.1,411.0 149.4,411.8 149.7,411.5 150.1,415.0 150.4,412.0 150.8,414.4 151.1,414.1 151.5,412.2 151.8,415.5 152.1,412.8 152.5,417.4 152.6,412.9 152.8,415.8 153.2,414.5 153.5,415.2 153.9,415.7 154.2,417.9 154.6,416.2 154.9,420.8 155.2,420.4 155.6,416.3 155.9,417.5 156.3,421.1 156.6,418.4 156.8,419.7 157.0,417.4 157.3,417.7 157.6,418.5 158.0,418.9 158.3,416.4 158.7,418.2 159.0,418.3 159.4,417.6 159.7,414.6 160.0,413.1 160.4,416.3 160.6,412.2 160.7,415.7 161.1,414.6 161.4,413.7 161.8,414.0 162.1,410.5 162.4,411.7 162.8,413.2 163.1,413.4 163.5,409.8 163.8,409.9 164.2,409.9 164.5,408.0 164.9,405.9 165.2,407.0 165.5,405.8 165.9,405.5 166.2,400.2 166.6,403.6 166.9,405.6 167.3,404.1 167.6,402.9 167.9,398.1 168.3,400.5 168.6,403.2 169.0,401.7 169.3,399.1 169.7,402.6 170.0,398.2 170.3,402.7 170.7,398.8 171.0,397.3 171.4,400.2 171.7,399.1 172.1,400.0 172.4,396.6 172.8,397.9 173.1,396.7 173.4,395.2 173.6,396.4 173.8,397.4 174.1,395.2 174.5,394.4 174.8,398.3 175.2,394.4 175.5,394.7 175.8,396.2 176.2,396.9 176.5,397.2 176.9,393.7 177.2,394.3 177.6,394.7 177.9,394.9 178.2,392.2 178.6,392.4 178.9,392.9 179.3,394.4 179.6,392.1 180.0,393.9 180.3,392.8 180.7,393.8 181.0,389.2 181.3,391.1 181.6,392.2 181.7,389.0 182.0,392.0 182.4,392.4 182.7,389.2 183.1,392.6 183.4,390.2 183.7,392.1 184.1,390.2 184.4,389.8 184.8,389.2 185.1,391.8 185.5,392.1 185.8,390.2 186.1,390.7 186.5,388.6 186.8,392.2 187.2,388.3 187.5,389.1 187.9,391.2 188.2,389.2 188.5,389.4 188.9,387.6 189.2,387.1 189.6,387.1 189.9,390.4 190.3,390.1 190.6,389.1 191.0,387.1 191.3,388.2 191.6,391.1 192.0,390.4 192.3,389.1 192.7,388.9 193.0,386.2 193.4,387.8 193.4,390.0 193.7,389.4 194.0,386.7 194.4,385.7 194.7,388.2 195.1,383.9 195.4,386.9 195.8,387.1 196.1,385.1 196.4,387.0 196.8,382.0 197.1,380.9 197.5,383.1 197.8,380.7 198.2,383.2 198.5,384.9 198.9,384.0 199.2,380.8 199.5,382.3 199.9,380.1 200.2,382.0 200.6,381.3 200.9,383.5 201.3,380.7 201.6,381.8 201.9,379.2 202.3,382.2 202.6,380.1 203.0,380.7 203.3,379.9 203.7,381.7 204.0,382.4 204.3,377.9 204.7,378.1 205.0,375.5 205.4,376.7 205.7,375.7 206.1,375.2 206.4,377.8 206.7,376.8 207.1,376.6 207.4,373.5 207.8,378.9 208.1,374.2 208.5,377.5 208.8,375.8 209.2,375.0 209.5,374.7 209.8,377.8 210.2,373.4 210.5,375.9 210.9,376.6 211.2,375.9 211.3,373.6 211.6,374.2 211.9,373.9 212.2,377.5 212.6,374.7 212.9,376.1 213.3,377.4 213.6,376.0 214.0,373.9 214.3,378.0 214.6,375.6 215.0,375.0 215.3,374.4 215.7,377.1 216.0,377.4 216.4,373.4 216.7,375.9 217.1,373.0 217.4,374.1 217.7,372.9 218.1,373.4 218.4,375.1 218.8,374.4 219.1,372.8 219.5,375.3 219.8,372.5 220.1,376.2 220.5,373.1 220.8,371.7 221.2,376.4 221.5,375.5 221.9,371.6 222.2,375.0 222.5,372.2 222.9,373.5 223.2,375.7 223.6,373.8 223.9,376.0 224.3,371.9 224.6,372.9 225.0,372.1 225.3,372.8 225.6,373.7 226.0,376.0 226.3,373.5 226.7,374.2 227.0,372.9 227.4,373.2 227.7,372.2 228.0,374.7 228.4,374.4 228.5,371.0 228.7,374.2 229.1,373.8 229.4,374.4 229.8,376.3 230.1,373.7 230.4,374.0 230.8,373.9 231.1,373.7 231.5,377.5 231.8,374.7 232.2,373.8 232.5,374.6 232.8,378.5 233.2,375.9 233.5,374.4 233.9,377.4 234.2,375.9 234.6,378.7 234.9,376.7 235.3,377.6 235.6,375.9 235.9,377.8 236.3,376.6 236.6,376.2 237.0,379.7 237.3,378.1 237.7,379.0 238.0,379.1 238.0,377.3 238.3,376.3 238.7,378.8 239.0,376.9 239.4,379.2 239.7,378.9 240.1,379.3 240.4,378.0 240.7,377.8 241.1,376.5 241.4,381.1 241.8,381.2 242.1,377.2 242.5,376.5 242.8,376.9 243.2,380.6 243.5,378.6 243.8,380.5 244.2,379.3 244.5,377.7 244.9,381.6 245.2,379.3 245.6,378.1 245.9,380.6 246.2,382.7 246.6,382.6 246.9,378.9 247.3,380.1 247.6,378.4 247.6,377.2 248.0,381.1 248.3,377.5 248.6,377.9 249.0,379.5 249.3,381.4 249.7,379.1 250.0,381.6 250.4,380.6 250.7,379.5 251.1,378.0 251.4,382.0 251.7,382.0 252.1,382.0 252.4,380.7 252.8,383.3 253.1,378.5 253.5,380.7 253.8,379.6 254.1,378.5 254.5,382.4 254.8,380.1 255.2,380.1 255.5,383.4 255.9,383.2 256.2,382.5 256.5,382.8 256.7,382.6 256.9,382.1 257.2,385.1 257.6,383.5 257.9,384.5 258.3,384.6 258.6,383.9 258.9,384.2 259.3,383.2 259.6,383.7 260.0,384.9 260.3,384.4 260.7,382.6 261.0,385.8 261.4,382.8 261.7,383.2 262.0,384.5 262.4,382.8 262.7,381.3 263.1,382.3 263.4,382.9 263.8,383.9 264.1,380.9 264.4,381.9 264.8,385.3 265.1,383.7 265.5,387.0 265.8,383.4 266.2,385.7 266.3,387.0 266.5,385.0 266.8,385.1 267.2,382.2 267.5,388.4 267.9,383.9 268.2,385.8 268.6,384.7 268.9,383.6 269.3,387.4 269.6,385.1 269.9,387.1 270.3,385.6 270.6,388.5 271.0,386.4 271.3,383.4 271.7,384.7 272.0,383.3 272.3,385.4 272.7,384.2 273.0,383.2 273.4,388.4 273.7,384.0 274.1,385.8 274.4,387.2 274.7,385.0 275.1,387.3 275.4,388.9 275.8,388.1 275.8,386.1 276.1,388.9 276.5,389.1 276.8,390.0 277.1,387.3 277.5,386.9 277.8,387.0 278.2,388.8 278.5,388.1 278.9,387.5 279.2,388.3 279.6,389.1 279.9,385.1 280.2,387.6 280.6,389.1 280.9,387.0 281.3,387.8 281.6,387.1 282.0,387.6 282.3,389.3 282.6,389.2 283.0,385.8 283.3,388.0 283.7,390.2 284.0,386.4 284.4,385.7 284.7,390.2 285.0,386.9 285.4,389.4 285.4,387.7 285.7,388.8 286.1,390.0 286.4,386.1 286.8,389.1 287.1,385.3 287.5,388.3 287.8,386.5 288.1,386.1 288.5,386.3 288.8,386.4 289.2,386.4 289.5,385.9 289.9,384.6 290.2,387.4 290.5,385.8 290.9,387.2 291.2,386.2 291.6,386.9 291.9,384.9 292.3,385.2 292.6,388.7 292.9,389.3 293.3,386.4 293.6,385.1 294.0,387.1 294.3,385.8 294.7,384.9 294.9,385.2 295.0,387.8 295.4,383.0 295.7,387.9 296.0,387.1 296.4,384.0 296.7,386.8 297.1,385.6 297.4,387.5 297.8,382.9 298.1,386.2 298.4,387.3 298.8,384.7 299.1,383.9 299.5,382.0 299.8,381.8 300.2,382.1 300.5,385.6 300.8,383.9 301.2,385.7 301.5,383.3 301.9,383.3 302.2,381.0 302.6,385.1 302.9,384.2 303.2,380.3 303.6,380.5 303.9,381.4 304.3,383.6 304.6,380.9 305.0,383.2 305.3,382.4 305.7,384.6 306.0,383.5 306.0,385.0 306.3,380.7 306.7,382.3 307.0,381.8 307.4,384.7" stroke="#ff7a00"/>
<path d="M77.8,372.2 78.1,373.5 78.5,373.2 78.8,374.8 79.2,371.5 79.5,371.3 79.8,374.5 80.2,371.7 80.5,372.3 80.9,370.6 81.2,372.0 81.6,372.4 81.9,374.0 82.2,374.2 82.6,372.8 82.9,373.6 83.3,375.0 83.6,371.6 84.0,372.5 84.3,372.0 84.6,374.9 85.0,373.7 85.3,374.4 85.7,373.0 86.0,372.9 86.4,374.2 86.7,372.7 87.1,371.8 87.4,375.1 87.7,375.0 88.1,371.9 88.4,372.7 88.8,375.0 89.1,373.9 89.5,373.5 89.8,375.0 90.1,374.4 90.5,374.2 90.8,372.4 91.2,372.6 91.5,375.8 91.9,372.9 92.2,372.0 92.5,375.0 92.9,372.2 93.2,374.0 93.6,375.3 93.9,372.8 94.3,372.4 94.6,372.8 94.9,374.4 95.3,374.0 95.6,373.1 96.0,372.0 96.3,372.0 96.7,372.1 97.0,374.6 97.4,371.7 97.7,373.1 98.0,374.0 98.4,374.4 98.7,374.6 99.1,372.3 99.4,372.0 99.8,374.0 100.1,374.9 100.4,373.3 100.8,374.3 101.1,374.2 101.5,374.7 101.8,372.5 102.2,374.1 102.5,374.0 102.8,373.2 103.2,373.2 103.3,373.1 103.5,331.7 103.7,297.3 103.7,284.8 103.8,288.6 103.9,288.0 104.1,282.9 104.2,290.2 104.3,287.8 104.5,286.9 104.6,290.9 104.7,293.3 104.9,286.1 105.0,290.1 105.1,294.1 105.3,288.6 105.3,294.7 105.4,291.7 105.5,294.6 105.7,289.0 105.8,294.0 105.9,291.8 106.1,293.3 106.2,295.6 106.3,295.1 106.5,302.2 106.6,303.4 106.7,295.2 106.8,297.3 106.9,293.1 107.0,293.2 107.1,301.2 107.3,289.7 107.4,295.2 107.5,286.6 107.7,286.0 107.8,289.7 107.9,282.2 108.1,292.1 108.2,285.0 108.3,285.8 108.3,287.5 108.7,287.3 109.0,284.7 109.4,287.0 109.7,287.1 110.1,280.5 110.4,280.3 110.7,285.6 111.1,284.0 111.4,276.9 111.8,279.3 112.1,279.1 112.5,280.6 112.8,279.0 112.9,274.5 113.2,276.6 113.5,276.9 113.8,274.7 114.2,281.2 114.5,279.5 114.9,279.1 115.2,282.0 115.6,283.5 115.9,284.7 116.2,286.5 116.6,281.9 116.9,286.6 117.3,282.4 117.6,281.8 117.8,288.5 118.0,284.5 118.3,287.0 118.6,286.5 119.0,288.9 119.3,287.3 119.7,286.3 120.0,284.9 120.4,287.9 120.7,291.8 121.0,293.3 121.4,292.0 121.7,296.0 122.1,294.5 122.4,295.6 122.8,295.0 123.1,294.2 123.2,296.6 123.5,294.7 123.8,294.0 124.1,295.4 124.5,293.7 124.8,298.2 125.2,303.3 125.5,301.5 125.9,304.7 126.2,305.6 126.5,306.6 126.9,309.1 127.2,307.1 127.6,307.7 127.9,309.9 128.3,309.1 128.6,306.3 128.9,307.9 129.3,307.8 129.6,311.9 129.7,314.9 130.0,313.4 130.3,317.2 130.7,318.6 131.0,317.4 131.4,318.3 131.7,316.9 132.0,318.3 132.4,324.0 132.7,319.7 133.1,326.0 133.4,328.7 133.8,330.5 134.1,330.5 134.4,330.4 134.8,329.9 135.1,334.3 135.5,334.4 135.8,331.6 135.8,336.2 136.2,336.2 136.5,334.8 136.8,331.2 137.2,337.2 137.5,339.0 137.9,336.2 138.2,338.8 138.6,336.4 138.9,334.0 139.2,336.9 139.6,339.8 139.9,338.5 140.3,340.8 140.6,345.3 141.0,338.8 141.3,343.8 141.7,345.2 141.9,347.5 142.0,344.3 142.3,343.8 142.7,342.1 143.0,343.1 143.4,348.9 143.7,347.0 144.1,349.1 144.4,347.4 144.7,347.9 145.1,351.7 145.4,349.5 145.8,353.2 146.1,354.2 146.5,351.4 146.8,352.2 147.1,353.9 147.5,352.5 147.6,351.3 147.8,354.4 148.2,356.3 148.5,355.6 148.9,359.5 149.2,357.1 149.6,357.5 149.9,361.9 150.2,364.0 150.6,366.6 150.9,363.5 151.3,365.5 151.6,369.9 151.8,369.8 152.0,370.9 152.3,370.3 152.6,372.8 153.0,374.4 153.3,376.0 153.7,374.7 154.0,377.7 154.4,378.5 154.7,382.5 155.0,380.3 155.4,386.3 155.6,383.0 155.7,385.9 156.1,387.4 156.4,389.3 156.8,391.9 157.1,392.8 157.5,394.4 157.8,397.2 158.1,399.3 158.5,397.1 158.8,404.2 159.2,401.6 159.4,404.4 159.5,406.6 159.9,406.0 160.2,405.5 160.5,408.5 160.9,408.6 161.2,405.4 161.6,404.1 161.9,409.5 162.3,410.9 162.6,408.3 162.9,407.5 163.3,409.2 163.6,411.8 164.0,407.2 164.3,411.8 164.7,411.9 165.0,410.6 165.3,412.3 165.5,413.5 165.7,413.9 166.0,411.6 166.4,411.4 166.7,412.2 167.1,414.9 167.4,412.0 167.8,412.7 168.1,414.4 168.4,415.9 168.8,416.0 169.1,419.7 169.5,418.8 169.8,414.9 170.2,416.9 170.5,417.7 170.8,416.9 171.2,416.1 171.5,418.5 171.6,423.0 171.9,421.8 172.2,419.3 172.6,420.9 172.9,423.3 173.2,420.0 173.6,420.7 173.9,425.0 174.3,421.8 174.6,424.8 175.0,421.2 175.3,422.8 175.5,422.6 175.7,421.3 176.0,425.0 176.3,422.9 176.7,419.8 177.0,423.4 177.4,419.8 177.7,420.1 178.1,420.2 178.4,417.5 178.7,420.5 179.1,415.7 179.4,414.1 179.8,417.3 180.1,414.7 180.5,411.6 180.8,415.7 181.1,411.1 181.5,412.9 181.6,410.3 181.8,410.4 182.2,413.5 182.5,411.6 182.9,407.7 183.2,408.2 183.6,409.0 183.9,408.4 184.2,406.7 184.6,405.1 184.9,405.1 185.3,408.6 185.6,403.0 186.0,403.1 186.3,402.1 186.6,406.0 187.0,402.3 187.3,405.3 187.3,405.1 187.7,401.8 188.0,399.4 188.4,399.1 188.7,403.3 189.0,402.4 189.4,400.6 189.7,400.6 190.1,401.4 190.4,400.7 190.8,395.8 191.1,399.2 191.4,401.3 191.8,398.1 192.1,396.7 192.5,400.1 192.8,397.0 193.2,394.5 193.4,396.1 193.5,396.1 193.9,396.6 194.2,392.4 194.5,395.0 194.9,394.3 195.2,392.7 195.6,391.7 195.9,395.1 196.3,394.9 196.6,390.3 196.9,390.0 197.3,392.1 197.6,387.9 198.0,388.6 198.3,388.8 198.7,385.7 199.0,390.6 199.3,387.4 199.7,385.0 199.9,388.3 200.0,386.0 200.4,389.5 200.7,387.8 201.1,387.8 201.4,386.4 201.8,384.9 202.1,383.9 202.4,383.3 202.8,388.6 203.1,385.4 203.5,383.3 203.8,382.3 204.2,387.1 204.5,384.2 204.8,387.0 205.2,385.0 205.5,384.3 205.9,382.7 206.2,385.7 206.6,382.6 206.9,385.0 207.2,379.8 207.6,384.0 207.9,379.8 208.3,381.2 208.6,382.2 209.0,384.2 209.3,379.1 209.6,378.4 210.0,380.5 210.3,380.5 210.7,379.7 211.0,377.8 211.3,380.3 211.4,380.9 211.7,377.4 212.1,379.5 212.4,377.5 212.7,381.1 213.1,377.0 213.4,375.8 213.8,379.3 214.1,378.8 214.5,379.8 214.8,378.4 215.1,379.9 215.5,380.0 215.8,377.6 216.2,375.9 216.5,376.2 216.9,378.4 217.2,375.3 217.5,376.8 217.9,373.8 218.2,378.7 218.6,380.3 218.9,377.1 219.3,376.2 219.6,379.5 220.0,378.9 220.3,376.3 220.6,378.6 221.0,378.4 221.3,377.2 221.7,378.1 222.0,375.2 222.4,374.9 222.7,377.2 223.0,379.3 223.4,380.0 223.7,375.6 224.1,375.9 224.4,375.3 224.8,377.2 225.1,376.8 225.4,380.3 225.8,377.4 226.1,378.1 226.5,375.6 226.8,375.4 227.2,377.2 227.5,379.8 227.9,379.6 228.2,378.0 228.5,378.9 228.5,375.7 228.9,381.0 229.2,379.2 229.6,377.8 229.9,379.3 230.3,376.1 230.6,377.2 230.9,380.4 231.3,376.6 231.6,375.4 232.0,379.7 232.3,375.7 232.7,378.9 233.0,378.3 233.3,376.8 233.7,379.0 234.0,380.9 234.4,380.7 234.7,377.5 235.1,379.1 235.4,383.2 235.7,380.8 236.1,377.4 236.4,379.2 236.8,376.5 237.1,379.5 237.5,380.3 237.8,380.6 238.0,376.7 238.2,378.2 238.5,380.5 238.8,376.9 239.2,380.7 239.5,377.4 239.9,375.8 240.2,376.1 240.6,377.5 240.9,378.0 241.2,380.6 241.6,380.2 241.9,382.9 242.3,379.2 242.6,378.4 243.0,377.8 243.3,382.6 243.6,379.8 244.0,381.7 244.3,379.6 244.7,383.1 245.0,379.9 245.4,383.1 245.7,383.5 246.1,383.0 246.4,381.6 246.7,379.5 247.1,383.7 247.4,383.1 247.6,385.6 247.8,384.1 248.1,380.8 248.5,383.8 248.8,386.4 249.1,383.4 249.5,383.2 249.8,382.3 250.2,384.1 250.5,382.2 250.9,383.1 251.2,385.3 251.5,381.4 251.9,385.1 252.2,381.9 252.6,384.7 252.9,382.6 253.3,386.2 253.6,385.1 254.0,387.1 254.3,385.9 254.6,386.8 255.0,388.8 255.3,386.8 255.7,388.8 256.0,388.7 256.4,390.5 256.7,387.6 256.7,386.0 257.0,386.6 257.4,387.0 257.7,388.4 258.1,386.1 258.4,389.7 258.8,386.0 259.1,386.1 259.4,388.8 259.8,390.9 260.1,387.9 260.5,390.0 260.8,389.2 261.2,392.0 261.5,387.8 261.8,390.2 262.2,390.1 262.5,389.5 262.9,393.1 263.2,388.5 263.6,392.0 263.9,393.1 264.3,388.8 264.6,391.8 264.9,391.0 265.3,392.7 265.6,393.7 266.0,391.5 266.3,390.3 266.3,391.4 266.7,390.2 267.0,388.7 267.3,390.0 267.7,392.2 268.0,388.8 268.4,392.3 268.7,393.1 269.1,392.1 269.4,390.8 269.7,391.7 270.1,393.3 270.4,391.3 270.8,391.7 271.1,391.0 271.5,391.5 271.8,392.0 272.2,393.9 272.5,392.0 272.8,390.0 273.2,390.2 273.5,392.4 273.9,392.0 274.2,391.9 274.6,392.0 274.9,392.3 275.2,389.8 275.6,390.8 275.8,392.8 275.9,394.4 276.3,390.4 276.6,393.3 277.0,389.9 277.3,391.0 277.6,390.9 278.0,394.6 278.3,393.5 278.7,395.2 279.0,391.9 279.4,393.3 279.7,392.8 280.0,392.5 280.4,392.5 280.7,392.5 281.1,390.2 281.4,390.2 281.8,390.5 282.1,393.0 282.5,392.7 282.8,392.3 283.1,391.3 283.5,394.5 283.8,391.5 284.2,393.2 284.5,393.8 284.9,394.2 285.2,392.5 285.4,392.1 285.5,391.5 285.9,394.6 286.2,393.1 286.6,395.4 286.9,390.9 287.3,394.2 287.6,389.6 287.9,394.4 288.3,391.1 288.6,394.0 289.0,389.7 289.3,393.1 289.7,389.5 290.0,393.0 290.4,390.6 290.7,388.1 291.0,389.4 291.4,392.0 291.7,390.6 292.1,388.1 292.4,392.3 292.8,388.6 293.0,392.8 293.1,390.4 293.4,390.3 293.8,391.3 294.1,388.1 294.5,389.1 294.8,385.0 295.2,388.7 295.5,384.9 295.7,383.2 295.8,383.0 296.2,385.1 296.5,379.1 296.9,380.8 297.2,375.7 297.6,376.1 297.9,373.7 298.3,376.6 298.6,372.6 298.7,369.8 298.9,374.4 299.3,371.7 299.6,369.4 300.0,370.7 300.3,370.3 300.7,373.1 301.0,370.4 301.3,369.2 301.7,366.7 302.0,367.8 302.4,366.1 302.7,368.1 303.1,368.1 303.4,365.9 303.7,365.1 304.1,368.2 304.4,362.6 304.8,366.5 305.1,363.0 305.5,365.6 305.8,360.3 306.0,365.2 306.1,362.9 306.5,360.2 306.8,360.6 307.2,359.9" stroke="#ec0c16"/>
<path d="M77.8,375.5 78.1,375.4 78.5,374.2 78.8,375.3 79.2,375.1 79.5,374.6 79.8,373.7 80.2,375.1 80.5,375.9 80.9,373.7 81.2,374.0 81.6,373.9 81.9,373.7 82.2,374.3 82.6,372.5 82.9,375.9 83.3,373.6 83.6,373.2 84.0,373.5 84.3,374.5 84.6,375.7 85.0,374.4 85.3,373.4 85.7,374.6 86.0,375.7 86.4,374.2 86.7,372.6 87.1,374.3 87.4,373.7 87.7,374.9 88.1,376.0 88.4,373.6 88.8,374.1 89.1,376.6 89.5,376.1 89.8,376.2 90.1,376.4 90.5,374.5 90.8,375.4 91.2,373.8 91.5,376.0 91.9,376.4 92.2,375.9 92.5,375.9 92.9,372.9 93.2,373.9 93.6,375.8 93.9,376.7 94.3,372.6 94.6,376.0 94.9,374.6 95.3,375.0 95.6,373.8 96.0,374.2 96.3,375.0 96.7,373.5 97.0,374.1 97.4,373.9 97.7,374.1 98.0,375.0 98.4,372.9 98.7,372.8 99.1,375.9 99.4,373.2 99.8,375.1 100.1,376.2 100.4,374.0 100.8,375.1 101.1,375.9 101.5,374.3 101.8,376.6 102.2,374.0 102.5,373.4 102.8,374.3 103.2,374.3 103.5,373.1 103.9,376.2 104.2,375.8 104.6,375.0 104.9,376.0 105.3,375.0 105.6,375.2 105.9,376.4 106.3,374.1 106.6,375.8 107.0,376.1 107.3,376.1 107.7,376.4 108.0,372.8 108.3,375.0 108.7,375.6 109.0,374.8 109.4,374.5 109.7,377.7 110.1,374.0 110.4,379.0 110.7,374.3 111.1,368.6 111.4,377.0 111.8,378.7 112.1,373.1 112.5,381.0 112.8,384.8 113.2,383.8 113.3,385.4 113.5,354.2 113.8,308.5 114.0,274.3 114.2,272.0 114.3,269.7 114.4,265.9 114.6,273.9 114.7,277.1 114.8,295.8 115.0,269.3 115.1,297.7 115.2,281.0 115.4,288.5 115.5,300.3 115.6,296.0 115.8,285.0 115.9,303.7 116.1,290.6 116.2,302.8 116.3,294.8 116.5,287.0 116.6,324.8 116.7,314.4 116.7,334.9 116.9,307.7 117.0,280.3 117.1,288.8 117.1,297.3 117.3,290.1 117.4,285.6 117.5,278.1 117.7,274.6 117.8,265.1 117.9,260.6 118.1,262.4 118.2,275.6 118.3,277.8 118.5,267.8 118.6,292.9 118.7,283.5 118.9,302.6 119.0,285.3 119.1,277.5 119.3,277.9 119.4,277.2 119.5,303.3 119.7,275.6 119.8,289.9 119.9,292.4 120.1,291.9 120.2,296.9 120.3,300.6 120.5,274.5 120.6,308.8 120.7,281.1 120.9,304.2 121.0,291.8 121.1,306.9 121.3,294.1 121.4,277.6 121.5,276.4 121.7,280.0 121.8,283.4 121.9,279.9 122.1,291.8 122.2,295.9 122.3,287.3 122.5,278.2 122.6,286.0 122.7,273.7 122.9,297.5 123.0,301.5 123.1,270.7 123.3,293.2 123.4,290.9 123.5,280.0 123.7,278.9 123.8,295.2 123.9,292.5 124.1,281.4 124.2,294.6 124.3,265.1 124.5,288.5 124.6,274.8 124.7,297.3 124.9,268.4 125.0,268.6 125.1,274.3 125.3,274.1 125.4,297.1 125.5,276.2 125.7,282.8 125.8,294.3 125.9,303.8 126.1,307.5 126.2,307.3 126.3,293.3 126.5,294.5 126.6,299.5 126.7,297.3 126.9,277.2 127.0,280.6 127.1,275.3 127.3,297.2 127.4,290.4 127.5,294.4 127.7,272.7 127.8,284.9 127.9,276.8 128.1,284.6 128.2,256.6 128.3,273.1 128.5,298.0 128.6,273.2 128.7,270.1 128.9,291.1 129.0,281.4 129.1,278.5 129.3,297.7 129.4,298.2 129.5,273.6 129.7,288.6 129.8,292.6 129.9,279.8 130.1,280.2 130.2,277.2 130.3,304.2 130.5,304.8 130.6,307.8 130.7,286.7 130.9,282.4 131.0,272.5 131.1,269.6 131.3,297.3 131.4,308.2 131.5,290.8 131.7,300.1 131.8,307.7 131.9,292.1 132.1,289.5 132.2,287.0 132.3,301.8 132.5,293.1 132.6,284.5 132.7,290.8 132.9,294.3 133.0,287.5 133.1,281.9 133.3,288.8 133.4,289.5 133.5,288.3 133.7,297.5 133.8,291.3 133.9,285.0 133.9,284.0 134.3,290.1 134.6,293.7 135.0,302.7 135.3,304.4 135.7,312.5 136.0,316.3 136.3,317.1 136.7,324.7 137.0,330.2 137.4,335.7 137.7,340.1 138.1,343.7 138.4,348.3 138.8,352.5 138.8,353.1 139.1,356.1 139.4,357.4 139.8,362.0 140.1,366.7 140.5,366.3 140.8,368.3 141.2,375.0 141.5,376.4 141.8,379.7 142.2,381.3 142.5,383.1 142.6,381.5 142.9,383.1 143.2,385.8 143.6,387.9 143.9,389.9 144.2,387.8 144.6,390.6 144.9,392.9 145.3,393.7 145.6,394.6 146.0,399.5 146.3,397.6 146.7,399.4 146.8,400.5 147.0,402.4 147.3,399.2 147.7,402.9 148.0,401.5 148.4,399.7 148.7,406.4 149.1,402.8 149.4,403.2 149.7,407.7 150.1,407.7 150.4,408.7 150.8,405.9 151.1,408.6 151.5,410.3 151.8,408.1 152.1,410.0 152.5,408.2 152.8,411.6 153.2,412.8 153.5,412.7 153.9,409.5 154.2,413.3 154.6,413.0 154.9,411.1 155.2,414.8 155.6,413.8 155.6,413.2 155.9,414.6 156.3,413.0 156.6,414.5 157.0,409.2 157.3,413.1 157.6,410.0 158.0,410.6 158.3,411.9 158.7,405.8 159.0,409.3 159.4,407.9 159.4,410.2 159.7,411.1 160.0,409.4 160.4,408.3 160.7,406.2 161.1,407.2 161.4,408.3 161.8,403.3 162.1,404.9 162.4,402.8 162.8,404.4 163.1,402.3 163.5,404.0 163.6,403.0 163.8,401.1 164.2,402.2 164.5,400.2 164.9,401.9 165.2,400.0 165.5,401.5 165.9,397.5 166.2,398.2 166.6,398.2 166.9,400.0 167.3,397.5 167.6,396.3 167.9,399.1 168.3,397.2 168.6,397.2 169.0,397.6 169.3,394.7 169.4,397.2 169.7,395.5 170.0,393.3 170.3,395.3 170.7,392.5 171.0,393.1 171.4,394.9 171.7,395.7 172.1,393.0 172.4,391.9 172.8,394.0 173.1,391.7 173.4,393.6 173.8,389.6 174.1,392.6 174.5,391.8 174.8,391.8 175.2,391.8 175.5,390.1 175.8,392.8 176.2,390.1 176.5,394.0 176.9,391.4 177.2,390.8 177.4,392.5 177.6,393.4 177.9,392.9 178.2,388.1 178.6,388.9 178.9,391.2 179.3,390.9 179.6,389.7 180.0,387.9 180.3,390.9 180.7,386.8 181.0,391.4 181.3,388.8 181.7,386.9 182.0,387.2 182.4,390.8 182.7,390.1 183.1,386.0 183.4,388.0 183.7,390.4 184.1,387.6 184.4,389.5 184.8,388.1 185.1,387.9 185.5,388.7 185.8,389.3 186.1,387.2 186.5,386.0 186.8,387.5 187.2,385.0 187.5,387.5 187.9,384.9 188.2,385.0 188.5,385.1 188.9,383.5 189.2,385.4 189.6,384.9 189.9,387.5 190.3,382.3 190.6,383.4 191.0,386.7 191.3,382.9 191.6,383.2 192.0,382.0 192.3,385.1 192.7,384.8 193.0,381.2 193.4,385.7 193.7,384.7 194.0,383.1 194.4,384.0 194.7,384.1 195.1,382.6 195.4,378.5 195.8,382.8 196.1,380.7 196.4,382.0 196.8,378.2 197.1,380.3 197.5,381.1 197.8,379.4 198.2,377.2 198.5,382.0 198.9,381.3 199.2,377.0 199.5,378.4 199.9,378.0 200.2,376.1 200.6,375.6 200.9,377.9 201.3,379.1 201.6,376.3 201.9,374.4 202.3,375.8 202.6,375.2 203.0,377.9 203.3,377.5 203.7,379.3 204.0,375.9 204.3,374.9 204.7,377.1 205.0,374.5 205.4,376.5 205.7,377.9 206.1,376.7 206.4,372.7 206.7,375.0 207.1,375.7 207.4,376.6 207.8,376.8 208.1,371.7 208.5,373.4 208.8,374.5 209.2,372.3 209.5,375.9 209.8,373.4 210.2,374.8 210.5,375.3 210.9,374.6 211.2,373.2 211.3,372.7 211.6,372.2 211.9,374.3 212.2,372.7 212.6,375.1 212.9,374.2 213.3,371.3 213.6,371.0 214.0,375.9 214.3,375.4 214.6,374.0 215.0,375.2 215.3,373.9 215.7,373.7 216.0,374.7 216.4,370.4 216.7,374.7 217.1,374.5 217.4,373.6 217.7,376.9 218.1,371.2 218.4,371.7 218.8,375.5 219.1,374.5 219.5,372.2 219.8,374.9 220.1,376.2 220.5,371.4 220.8,374.8 221.2,374.7 221.5,376.1 221.9,371.6 222.2,373.2 222.5,372.8 222.9,375.7 223.2,374.4 223.6,375.2 223.9,372.0 224.3,374.2 224.6,374.6 225.0,374.8 225.3,371.7 225.6,371.8 226.0,373.4 226.3,374.2 226.7,374.6 227.0,373.4 227.4,371.0 227.7,372.1 228.0,370.6 228.4,372.3 228.5,372.8 228.7,371.6 229.1,373.7 229.4,373.1 229.8,375.2 230.1,375.4 230.4,373.8 230.8,375.8 231.1,373.5 231.5,371.8 231.8,376.6 232.2,375.0 232.5,374.2 232.8,374.2 233.2,378.7 233.5,376.3 233.9,376.1 234.2,375.3 234.6,376.7 234.9,374.1 235.3,373.5 235.6,377.2 235.9,377.0 236.3,375.2 236.6,375.5 237.0,376.4 237.3,375.9 237.7,376.7 238.0,374.9 238.0,376.9 238.3,374.6 238.7,375.9 239.0,377.7 239.4,375.4 239.7,377.3 240.1,373.6 240.4,376.0 240.7,375.0 241.1,377.7 241.4,376.2 241.8,374.6 242.1,375.3 242.5,373.7 242.8,373.2 243.2,376.5 243.5,372.7 243.8,374.9 244.2,377.5 244.5,374.6 244.9,376.9 245.2,377.6 245.6,375.6 245.9,375.7 246.2,378.2 246.6,376.9 246.9,376.3 247.3,373.5 247.6,375.2 247.6,375.4 248.0,376.9 248.3,373.9 248.6,374.0 249.0,374.9 249.3,374.2 249.7,374.2 250.0,376.2 250.4,377.5 250.7,374.9 251.1,376.5 251.4,377.0 251.7,374.0 252.1,372.9 252.4,374.5 252.8,377.0 253.1,372.7 253.5,374.5 253.8,375.5 254.1,372.6 254.5,375.2 254.8,374.9 255.2,374.1 255.5,377.1 255.9,374.8 256.2,374.9 256.5,372.3 256.7,375.4 256.9,375.5 257.2,376.3 257.6,377.1 257.9,375.7 258.3,375.0 258.6,378.5 258.9,377.4 259.3,374.7 259.6,375.0 260.0,378.5 260.3,377.6 260.7,376.5 261.0,377.2 261.4,381.0 261.7,378.6 262.0,378.4 262.4,380.1 262.7,377.3 263.1,380.5 263.4,381.9 263.8,384.0 264.1,380.4 264.4,379.0 264.8,379.0 265.1,379.0 265.5,383.8 265.8,379.8 266.2,384.0 266.3,383.8 266.5,382.2 266.8,380.4 267.2,379.6 267.5,383.6 267.9,381.9 268.2,379.8 268.6,383.4 268.9,382.8 269.3,385.5 269.6,385.0 269.9,382.2 270.3,386.0 270.6,383.6 271.0,384.4 271.3,382.2 271.7,385.3 272.0,383.2 272.3,386.7 272.7,382.7 273.0,384.5 273.4,383.2 273.7,385.7 274.1,386.2 274.4,385.1 274.7,385.5 275.1,383.3 275.4,383.9 275.8,384.2 275.8,383.5 276.1,386.5 276.5,383.4 276.8,383.2 277.1,383.4 277.5,383.4 277.8,383.7 278.2,385.9 278.5,383.1 278.9,385.4 279.2,383.4 279.6,381.5 279.9,385.7 280.2,383.9 280.6,387.1 280.9,387.8 281.3,388.4 281.6,388.0 282.0,384.9 282.3,385.1 282.6,384.5 283.0,384.8 283.3,387.3 283.7,386.6 284.0,384.8 284.4,387.5 284.7,387.0 285.0,386.7 285.4,388.4 285.4,389.4 285.7,384.7 286.1,384.8 286.4,387.9 286.8,386.5 287.1,385.3 287.5,387.4 287.8,384.7 288.1,386.3 288.5,384.8 288.8,388.7 289.2,385.7 289.5,384.1 289.9,384.6 290.2,386.2 290.5,388.3 290.9,386.7 291.2,384.9 291.6,388.1 291.9,388.1 292.3,386.4 292.6,383.7 292.9,385.1 293.3,386.1 293.6,386.6 294.0,388.6 294.3,385.9 294.7,384.9 294.9,385.6 295.0,388.8 295.4,387.2 295.7,383.7 296.0,384.0 296.4,387.0 296.7,383.7 297.1,387.8 297.4,385.1 297.8,383.6 298.1,384.6 298.4,383.2 298.8,384.8 299.1,382.6 299.5,383.8 299.8,384.8 300.2,383.7 300.5,384.0 300.6,385.1 300.8,386.4 301.2,384.1 301.5,385.4 301.9,383.6 302.2,382.1 302.6,382.2 302.9,384.6 303.2,383.7 303.6,381.8 303.9,381.4 304.3,382.3 304.6,377.9 305.0,380.4 305.3,381.7 305.7,381.6 306.0,382.4 306.0,381.3 306.3,381.0 306.7,379.0 307.0,380.9 307.4,378.0" stroke="#20c87a"/>
</g>
<path d="M58.7,428.3v-4.5M58.7,249.0v4.5M77.8,428.3v-2.5M77.8,249.0v2.5M96.9,428.3v-4.5M96.9,249.0v4.5M115.9,428.3v-2.5M115.9,249.0v2.5M135.0,428.3v-4.5M135.0,249.0v4.5M154.1,428.3v-2.5M154.1,249.0v2.5M173.2,428.3v-4.5M173.2,249.0v4.5M192.2,428.3v-2.5M192.2,249.0v2.5M211.3,428.3v-4.5M211.3,249.0v4.5M230.4,428.3v-2.5M230.4,249.0v2.5M249.5,428.3v-4.5M249.5,249.0v4.5M268.6,428.3v-2.5M268.6,249.0v2.5M287.6,428.3v-4.5M287.6,249.0v4.5M306.7,428.3v-2.5M306.7,249.0v2.5M325.8,428.3v-4.5M325.8,249.0v4.5M58.7,428.3h4.5M325.8,428.3h-4.5M58.7,415.5h2.5M325.8,415.5h-2.5M58.7,402.7h4.5M325.8,402.7h-4.5M58.7,389.9h2.5M325.8,389.9h-2.5M58.7,377.1h4.5M325.8,377.1h-4.5M58.7,364.3h2.5M325.8,364.3h-2.5M58.7,351.5h4.5M325.8,351.5h-4.5M58.7,338.6h2.5M325.8,338.6h-2.5M58.7,325.8h4.5M325.8,325.8h-4.5M58.7,313.0h2.5M325.8,313.0h-2.5M58.7,300.2h4.5M325.8,300.2h-4.5M58.7,287.4h2.5M325.8,287.4h-2.5M58.7,274.6h4.5M325.8,274.6h-4.5M58.7,261.8h2.5M325.8,261.8h-2.5M58.7,249.0h4.5M325.8,249.0h-4.5" stroke="#222" stroke-width="1.2" fill="none"/>
<rect x="58.7" y="249.0" width="267.1" height="179.3" fill="none" stroke="#222" stroke-width="1.4"/>
<g font-family='"Liberation Sans", sans-serif' font-size="10.2" fill="#2a2a2a" stroke="#2a2a2a" stroke-width="0.05"><text x="36.7" y="254.3" textLength="16.2" lengthAdjust="spacingAndGlyphs">2.5</text><text x="36.7" y="279.9" textLength="16.2" lengthAdjust="spacingAndGlyphs">2.0</text><text x="36.7" y="305.5" textLength="16.2" lengthAdjust="spacingAndGlyphs">1.5</text><text x="36.7" y="331.1" textLength="16.2" lengthAdjust="spacingAndGlyphs">1.0</text><text x="36.7" y="356.8" textLength="16.2" lengthAdjust="spacingAndGlyphs">0.5</text><text x="36.7" y="382.4" textLength="16.2" lengthAdjust="spacingAndGlyphs">0.0</text><text x="32.2" y="408.0" textLength="20.7" lengthAdjust="spacingAndGlyphs">-0.5</text><text x="32.2" y="433.6" textLength="20.7" lengthAdjust="spacingAndGlyphs">-1.0</text><text x="44.2" y="442.3" textLength="27.0" lengthAdjust="spacingAndGlyphs">-0.01</text><text x="85.6" y="442.3" textLength="22.5" lengthAdjust="spacingAndGlyphs">0.00</text><text x="123.8" y="442.3" textLength="22.5" lengthAdjust="spacingAndGlyphs">0.01</text><text x="161.9" y="442.3" textLength="22.5" lengthAdjust="spacingAndGlyphs">0.02</text><text x="200.1" y="442.3" textLength="22.5" lengthAdjust="spacingAndGlyphs">0.03</text><text x="238.2" y="442.3" textLength="22.5" lengthAdjust="spacingAndGlyphs">0.04</text><text x="276.4" y="442.3" textLength="22.5" lengthAdjust="spacingAndGlyphs">0.05</text><text x="314.6" y="442.3" textLength="22.5" lengthAdjust="spacingAndGlyphs">0.06</text></g>
<text x="111.3" y="244.7" font-family='"Liberation Sans", sans-serif' font-size="8.4"  fill="#2a2a2a" stroke="#2a2a2a" stroke-width="0.12" textLength="121.4" lengthAdjust="spacingAndGlyphs">1.3 Mach 2 Rows Open</text>
<text transform="translate(21.5,338.2) rotate(-90)" x="-48.9" y="0" font-family='"Liberation Sans", sans-serif' font-size="14.5" fill="#0a0a0a" stroke="#0a0a0a" stroke-width="0.5" textLength="97.8" lengthAdjust="spacingAndGlyphs">Pressure (Pa X 10^5)</text>
<text x="155.3" y="456.5" font-family='"Liberation Sans", sans-serif' font-size="10.8" fill="#111" stroke="#111" stroke-width="0.35" textLength="72.2" lengthAdjust="spacingAndGlyphs">Time (sec)</text>
<rect x="271.8" y="236.8" width="71.2" height="47.1" fill="#fff" stroke="#222" stroke-width="1.4"/>
<line x1="278.4" y1="245.5" x2="311.9" y2="245.5" stroke="#6aa8e0" stroke-width="1.3"/>
<text x="315.8" y="249.9" font-family='"Liberation Sans", sans-serif' font-size="9.6" fill="#222" stroke="#222" stroke-width="0.1" textLength="19.8" lengthAdjust="spacingAndGlyphs">Ch1</text>
<line x1="278.4" y1="255.4" x2="311.9" y2="255.4" stroke="#f0a050" stroke-width="1.3"/>
<text x="315.8" y="259.8" font-family='"Liberation Sans", sans-serif' font-size="9.6" fill="#222" stroke="#222" stroke-width="0.1" textLength="19.8" lengthAdjust="spacingAndGlyphs">Ch2</text>
<line x1="278.4" y1="265.5" x2="311.9" y2="265.5" stroke="#e06080" stroke-width="1.3"/>
<text x="315.8" y="269.9" font-family='"Liberation Sans", sans-serif' font-size="9.6" fill="#222" stroke="#222" stroke-width="0.1" textLength="19.8" lengthAdjust="spacingAndGlyphs">Ch3</text>
<line x1="278.4" y1="275.7" x2="311.9" y2="275.7" stroke="#50c8a0" stroke-width="1.3"/>
<text x="315.8" y="280.1" font-family='"Liberation Sans", sans-serif' font-size="9.6" fill="#222" stroke="#222" stroke-width="0.1" textLength="19.8" lengthAdjust="spacingAndGlyphs">Ch4</text>
<line x1="417.6" y1="248.4" x2="417.6" y2="427.6" stroke="#b4b4b4" stroke-width="1" stroke-dasharray="1.1,2.4"/><line x1="436.6" y1="248.4" x2="436.6" y2="427.6" stroke="#b8b8b8" stroke-width="1.3"/><line x1="455.6" y1="248.4" x2="455.6" y2="427.6" stroke="#b4b4b4" stroke-width="1" stroke-dasharray="1.1,2.4"/><line x1="474.6" y1="248.4" x2="474.6" y2="427.6" stroke="#b8b8b8" stroke-width="1.3"/><line x1="493.6" y1="248.4" x2="493.6" y2="427.6" stroke="#b4b4b4" stroke-width="1" stroke-dasharray="1.1,2.4"/><line x1="512.6" y1="248.4" x2="512.6" y2="427.6" stroke="#b8b8b8" stroke-width="1.3"/><line x1="531.5" y1="248.4" x2="531.5" y2="427.6" stroke="#b4b4b4" stroke-width="1" stroke-dasharray="1.1,2.4"/><line x1="550.5" y1="248.4" x2="550.5" y2="427.6" stroke="#b8b8b8" stroke-width="1.3"/><line x1="569.5" y1="248.4" x2="569.5" y2="427.6" stroke="#b4b4b4" stroke-width="1" stroke-dasharray="1.1,2.4"/><line x1="588.5" y1="248.4" x2="588.5" y2="427.6" stroke="#b8b8b8" stroke-width="1.3"/><line x1="607.5" y1="248.4" x2="607.5" y2="427.6" stroke="#b4b4b4" stroke-width="1" stroke-dasharray="1.1,2.4"/><line x1="626.5" y1="248.4" x2="626.5" y2="427.6" stroke="#b8b8b8" stroke-width="1.3"/><line x1="645.5" y1="248.4" x2="645.5" y2="427.6" stroke="#b4b4b4" stroke-width="1" stroke-dasharray="1.1,2.4"/><line x1="398.6" y1="397.7" x2="664.5" y2="397.7" stroke="#b4b4b4" stroke-width="1" stroke-dasharray="1.1,2.4"/><line x1="398.6" y1="367.9" x2="664.5" y2="367.9" stroke="#b8b8b8" stroke-width="1.3"/><line x1="398.6" y1="338.0" x2="664.5" y2="338.0" stroke="#b4b4b4" stroke-width="1" stroke-dasharray="1.1,2.4"/><line x1="398.6" y1="308.1" x2="664.5" y2="308.1" stroke="#b8b8b8" stroke-width="1.3"/><line x1="398.6" y1="278.3" x2="664.5" y2="278.3" stroke="#b4b4b4" stroke-width="1" stroke-dasharray="1.1,2.4"/>
<clipPath id="cMR"><rect x="398.6" y="248.9" width="265.9" height="178.7"/></clipPath>
<g fill="none" stroke-width="1.7" stroke-linejoin="round" clip-path="url(#cMR)">
<path d="M402.4,365.0 402.7,364.3 403.1,362.2 403.4,361.3 403.8,363.0 404.1,364.0 404.4,361.6 404.8,362.6 405.1,361.7 405.5,362.7 405.8,361.9 406.2,363.9 406.5,364.5 406.8,361.9 407.2,363.5 407.5,362.1 407.9,362.0 408.2,363.0 408.6,363.4 408.9,361.2 409.2,362.8 409.6,362.1 409.9,361.5 410.3,364.6 410.6,362.6 410.9,364.3 411.3,364.9 411.6,364.1 412.0,362.9 412.3,362.2 412.7,365.5 413.0,364.0 413.3,362.6 413.7,363.0 414.0,364.0 414.4,362.7 414.7,361.7 415.0,361.8 415.4,362.1 415.7,363.7 416.1,364.4 416.4,363.1 416.8,363.8 417.1,363.0 417.4,361.4 417.8,364.7 418.1,362.5 418.5,363.4 418.8,364.8 419.2,362.5 419.5,362.3 419.8,363.9 420.2,363.1 420.5,363.8 420.9,362.6 421.2,362.1 421.5,361.6 421.9,361.0 422.2,361.7 422.6,361.3 422.9,362.7 423.3,361.6 423.6,362.2 423.9,362.8 424.3,362.6 424.6,363.0 425.0,362.7 425.3,360.4 425.6,363.1 426.0,363.5 426.3,363.1 426.7,361.9 427.0,362.2 427.4,364.1 427.7,361.9 428.0,364.4 428.4,363.3 428.7,361.3 429.1,361.8 429.4,362.6 429.7,363.1 430.1,364.1 430.4,362.2 430.8,363.7 431.1,363.5 431.5,362.6 431.8,363.2 432.1,362.2 432.5,362.2 432.8,364.2 433.2,362.1 433.5,360.9 433.9,362.9 434.2,364.2 434.5,364.1 434.9,362.2 435.2,361.4 435.6,361.6 435.9,364.3 436.2,363.9 436.2,356.5 436.6,283.7 436.9,288.3 437.1,289.0 437.2,289.0 437.3,287.5 437.5,294.8 437.6,290.3 437.7,296.5 437.9,290.6 438.0,296.0 438.1,290.3 438.3,293.6 438.4,288.5 438.5,294.2 438.7,291.7 438.8,295.3 438.9,290.9 438.9,295.7 439.1,293.7 439.2,292.9 439.3,295.0 439.5,292.3 439.6,299.3 439.7,292.7 439.9,292.9 440.0,296.5 440.1,291.1 440.3,294.6 440.4,296.8 440.5,297.8 440.7,293.1 440.8,295.6 440.9,295.0 441.0,292.6 441.2,294.5 441.3,291.8 441.4,291.3 441.6,296.3 441.7,292.7 441.8,294.2 442.0,297.4 442.1,291.7 442.2,296.2 442.4,299.1 442.5,292.9 442.6,298.9 442.8,289.7 442.9,293.9 443.0,289.3 443.2,297.8 443.3,294.7 443.4,293.6 443.6,298.5 443.7,290.6 443.8,290.6 444.0,299.3 444.1,295.9 444.2,295.2 444.4,296.5 444.5,294.8 444.6,293.2 444.8,289.7 444.9,296.1 445.0,289.3 445.2,294.8 445.3,292.0 445.4,290.0 445.6,291.8 445.7,294.8 445.8,294.9 446.0,298.5 446.1,296.7 446.2,296.1 446.4,294.4 446.5,292.9 446.6,298.4 446.8,293.8 446.9,296.3 447.0,296.5 447.2,295.1 447.3,294.5 447.4,297.5 447.6,296.7 447.7,297.8 447.8,295.7 448.0,298.2 448.1,294.1 448.2,298.0 448.4,298.4 448.5,295.4 448.6,295.9 448.8,296.4 448.9,292.4 449.0,296.3 449.2,289.7 449.3,295.9 449.4,292.7 449.6,289.7 449.7,292.5 449.8,294.3 450.0,294.4 450.1,300.4 450.2,299.0 450.4,295.7 450.5,291.6 450.6,298.7 450.8,293.5 450.9,296.0 451.0,298.1 451.2,295.8 451.3,298.7 451.4,293.2 451.6,291.5 451.7,295.5 451.8,297.5 452.0,296.0 452.1,291.2 452.2,296.5 452.3,295.2 452.5,291.4 452.6,289.2 452.7,295.8 452.9,296.1 453.0,297.6 453.1,296.8 453.3,298.8 453.4,294.9 453.5,299.3 453.7,300.3 453.8,290.3 453.9,290.6 454.1,297.3 454.2,292.3 454.3,297.4 454.4,295.8 454.5,295.4 454.8,291.3 455.2,295.4 455.5,295.1 455.8,297.4 456.2,294.6 456.5,295.4 456.9,303.1 457.2,299.0 457.6,301.5 457.9,297.8 458.2,299.4 458.6,301.1 458.9,298.5 459.3,300.0 459.6,300.8 459.9,304.0 460.3,305.8 460.6,304.4 460.9,306.2 461.0,303.9 461.3,302.7 461.7,308.0 462.0,306.5 462.3,306.3 462.7,308.4 463.0,310.3 463.4,313.1 463.7,313.3 464.0,313.5 464.4,311.5 464.7,315.8 465.1,315.0 465.4,317.3 465.8,315.5 466.1,319.1 466.4,317.1 466.8,320.9 467.0,319.9 467.1,320.0 467.5,320.6 467.8,320.7 468.2,325.3 468.5,322.5 468.8,321.8 469.2,324.6 469.5,327.0 469.9,326.0 470.2,326.2 470.5,327.9 470.9,332.3 471.2,330.8 471.6,334.0 471.9,332.9 472.3,330.0 472.6,333.2 472.9,333.5 473.3,332.5 473.6,336.6 474.0,338.6 474.3,337.3 474.6,337.5 474.6,338.4 475.0,340.1 475.3,339.4 475.7,342.0 476.0,341.1 476.4,338.6 476.7,342.8 477.0,340.9 477.4,341.0 477.7,345.8 478.1,341.7 478.4,343.1 478.7,343.0 479.1,341.2 479.4,345.9 479.8,345.7 480.1,342.8 480.5,344.3 480.8,344.4 481.1,348.0 481.5,345.3 481.8,345.5 482.2,347.0 482.5,347.9 482.9,347.7 483.2,348.8 483.5,349.1 483.9,348.6 484.2,348.8 484.6,347.7 484.9,347.8 485.2,351.5 485.6,348.7 485.9,350.2 486.3,349.7 486.6,350.8 487.0,349.5 487.3,349.7 487.6,350.3 488.0,354.3 488.3,352.0 488.7,354.5 489.0,354.2 489.3,356.0 489.7,355.3 490.0,355.5 490.1,352.4 490.4,356.1 490.7,351.5 491.1,353.3 491.4,354.3 491.7,355.5 492.1,354.0 492.4,350.8 492.8,354.3 493.1,356.1 493.5,352.8 493.8,356.7 494.1,353.6 494.5,355.9 494.8,357.2 495.2,357.9 495.5,358.4 495.8,356.7 496.2,359.1 496.5,356.6 496.9,360.8 497.2,361.3 497.6,362.9 497.9,362.0 498.2,364.3 498.6,365.7 498.9,365.1 499.3,366.3 499.6,369.6 499.9,367.1 500.0,370.2 500.3,371.6 500.6,370.9 501.0,371.1 501.3,373.5 501.7,375.8 502.0,374.4 502.3,376.4 502.7,379.4 503.0,376.3 503.4,379.2 503.7,380.9 503.8,378.5 504.0,379.7 504.4,382.4 504.7,384.2 505.1,382.4 505.4,384.1 505.8,387.1 506.1,385.1 506.4,387.0 506.8,389.0 507.1,387.6 507.5,387.5 507.8,391.1 508.2,392.9 508.5,392.8 508.8,392.7 509.2,393.9 509.5,396.8 509.9,394.5 510.2,395.2 510.5,396.5 510.9,396.6 511.2,395.7 511.6,394.1 511.9,398.0 512.3,399.5 512.6,398.5 512.9,399.9 513.3,397.7 513.6,399.6 514.0,400.7 514.3,399.4 514.6,397.8 515.0,400.3 515.3,402.9 515.6,400.8 515.7,401.0 516.0,401.0 516.4,403.4 516.7,402.8 517.0,403.0 517.4,401.3 517.7,400.7 518.1,400.1 518.4,400.4 518.7,399.2 519.1,400.7 519.4,401.4 519.8,403.6 520.1,401.5 520.5,401.3 520.8,403.4 521.1,402.8 521.5,401.5 521.8,402.5 522.2,402.4 522.5,404.2 522.9,402.3 523.2,401.9 523.5,401.6 523.9,403.8 524.2,401.6 524.6,402.9 524.9,401.1 525.2,403.2 525.6,400.6 525.9,403.5 526.3,401.4 526.6,400.9 527.0,398.7 527.0,400.6 527.3,402.4 527.6,402.4 528.0,399.4 528.3,398.2 528.7,394.3 529.0,396.4 529.3,396.2 529.7,392.1 530.0,391.5 530.4,391.0 530.7,389.0 531.1,387.7 531.4,389.2 531.7,385.6 532.1,385.2 532.4,383.3 532.8,385.0 533.1,382.1 533.1,384.6 533.4,384.6 533.8,383.7 534.1,383.5 534.5,381.4 534.8,381.7 535.2,383.5 535.5,383.2 535.8,383.5 536.2,383.4 536.5,383.1 536.9,379.8 537.2,380.9 537.6,380.0 537.9,381.3 538.2,381.5 538.6,378.2 538.9,380.8 539.3,377.9 539.6,379.5 539.9,377.7 540.3,376.3 540.6,376.0 541.0,378.7 541.3,376.8 541.7,377.8 542.0,378.7 542.3,377.4 542.7,378.2 542.9,374.6 543.0,376.8 543.4,374.6 543.7,373.9 544.0,375.9 544.4,374.0 544.7,377.5 545.1,374.6 545.4,375.4 545.8,375.5 546.1,377.1 546.4,374.5 546.8,374.0 547.1,378.8 547.5,372.7 547.8,373.3 548.1,372.1 548.5,372.3 548.8,375.2 549.2,373.5 549.5,373.2 549.9,374.4 550.2,370.2 550.5,374.9 550.9,370.5 551.2,370.9 551.6,373.0 551.9,369.8 552.3,372.0 552.6,370.8 552.9,373.1 553.3,371.0 553.6,373.3 554.0,373.1 554.3,369.2 554.3,369.9 554.6,369.8 555.0,369.2 555.3,373.4 555.7,370.9 556.0,371.0 556.4,370.1 556.7,368.9 557.0,370.2 557.4,369.8 557.7,371.8 558.1,367.7 558.4,368.8 558.7,368.9 559.1,369.3 559.4,369.4 559.8,370.1 560.1,366.7 560.5,368.2 560.8,369.3 561.1,369.8 561.5,367.7 561.8,366.9 562.2,367.4 562.5,366.3 562.9,368.3 563.2,369.0 563.5,369.1 563.9,365.8 564.2,368.2 564.6,368.7 564.9,367.5 565.2,368.6 565.6,366.7 565.9,366.9 566.3,367.4 566.6,368.1 567.0,368.0 567.3,368.1 567.6,365.4 568.0,370.0 568.3,364.9 568.7,364.4 569.0,363.9 569.3,363.1 569.7,363.1 569.9,365.7 570.0,366.0 570.4,365.7 570.7,367.6 571.1,365.5 571.4,365.0 571.7,367.1 572.1,366.7 572.4,367.2 572.8,365.7 573.1,368.0 573.4,365.0 573.8,366.9 574.1,366.0 574.5,368.8 574.8,367.3 575.2,366.5 575.5,369.1 575.8,366.5 576.2,365.4 576.5,365.3 576.9,367.1 577.2,369.3 577.6,367.9 577.9,370.7 578.2,369.4 578.6,366.8 578.9,368.2 579.3,368.6 579.6,368.0 579.9,369.7 580.3,366.9 580.6,369.4 581.0,366.9 581.3,368.1 581.7,370.7 581.7,370.1 582.0,368.7 582.3,368.2 582.7,369.7 583.0,369.2 583.4,371.6 583.7,369.9 584.0,369.1 584.4,370.8 584.7,372.8 585.1,372.0 585.4,371.1 585.8,371.1 586.1,372.2 586.4,369.7 586.8,374.2 587.1,373.6 587.5,371.7 587.8,372.4 588.1,374.9 588.5,375.7 588.8,372.9 589.2,375.5 589.5,374.2 589.9,373.1 590.2,374.3 590.5,376.3 590.9,373.4 591.2,376.7 591.6,375.7 591.9,377.3 592.3,373.8 592.6,377.6 592.9,375.5 593.3,377.8 593.5,375.2 593.6,378.5 594.0,378.1 594.3,379.6 594.6,378.0 595.0,377.2 595.3,377.2 595.7,375.1 596.0,379.3 596.4,379.3 596.7,378.7 597.0,376.5 597.4,376.1 597.7,378.6 598.1,376.2 598.4,379.9 598.7,379.9 599.1,378.2 599.4,378.8 599.8,380.0 600.1,376.7 600.5,379.4 600.8,376.6 601.1,377.1 601.5,378.6 601.8,379.7 602.2,377.6 602.5,378.9 602.8,380.0 603.2,379.6 603.5,378.3 603.9,377.2 604.2,381.0 604.6,379.0 604.9,381.2 605.2,378.0 605.6,379.0 605.9,377.7 606.3,378.5 606.6,380.4 607.0,378.8 607.3,380.1 607.6,377.5 608.0,381.6 608.3,379.4 608.7,380.7 609.0,381.3 609.0,380.0 609.3,381.5 609.7,378.3 610.0,379.9 610.4,380.7 610.7,381.1 611.1,380.9 611.4,377.3 611.7,379.4 612.1,377.5 612.4,379.3 612.8,380.5 613.1,379.0 613.4,377.1 613.8,381.4 614.1,378.7 614.5,379.6 614.8,379.8 615.2,376.4 615.5,377.8 615.8,378.6 616.2,377.7 616.5,377.2 616.9,376.4 617.2,377.1 617.5,377.2 617.9,378.7 618.2,377.3 618.6,376.5 618.9,375.4 619.3,376.9 619.6,377.8 619.9,379.0 620.3,376.1 620.6,379.5 621.0,379.3 621.3,378.9 621.7,375.6 622.0,379.2 622.3,377.4 622.7,374.8 622.7,379.0 623.0,375.7 623.4,376.4 623.7,375.3 624.0,374.6 624.4,376.7 624.7,372.9 625.1,375.5 625.4,371.7 625.8,371.1 626.1,372.2 626.4,372.2 626.8,371.3 627.1,367.5 627.5,372.0 627.8,367.9 628.1,370.5 628.4,368.4 628.5,369.5 628.8,368.6 629.2,369.0 629.5,368.2 629.9,365.9 630.2,368.0 630.5,363.9 630.9,364.3 631.2,363.6 631.6,363.8 631.9,362.0 632.3,364.7 632.6,364.6 632.9,363.3 633.3,362.5 633.6,362.3 634.0,360.9 634.3,363.5 634.6,359.6 635.0,358.4 635.3,357.5 635.7,358.3 636.0,358.4 636.4,358.8 636.4,359.1 636.7,358.1 637.0,359.8 637.4,359.4 637.7,358.9 638.1,355.4 638.4,358.5 638.7,359.3 639.1,355.7 639.4,356.3 639.8,355.7 640.1,357.9 640.5,353.9 640.8,352.6 641.1,352.3 641.5,352.4 641.8,353.6 642.2,353.8 642.5,350.9 642.8,352.5 643.2,351.1 643.5,351.8 643.9,353.2 644.2,352.2 644.6,350.0 644.7,348.5 644.9,351.6 645.2,349.8 645.6,349.6 645.9,348.6 646.3,350.0" stroke="#1264e6"/>
<path d="M402.4,363.0 402.7,364.4 403.1,363.7 403.4,365.0 403.8,364.1 404.1,364.7 404.4,364.7 404.8,362.8 405.1,363.5 405.5,363.3 405.8,365.3 406.2,363.0 406.5,364.7 406.8,365.6 407.2,364.7 407.5,364.2 407.9,362.7 408.2,363.8 408.6,365.2 408.9,362.0 409.2,364.6 409.6,362.6 409.9,364.7 410.3,364.1 410.6,365.5 410.9,364.7 411.3,363.7 411.6,362.8 412.0,364.8 412.3,363.6 412.7,364.8 413.0,362.4 413.3,362.6 413.7,362.9 414.0,364.3 414.4,364.5 414.7,364.1 415.0,366.0 415.4,365.7 415.7,364.7 416.1,365.2 416.4,364.6 416.8,365.6 417.1,363.0 417.4,365.1 417.8,364.2 418.1,364.7 418.5,364.4 418.8,363.7 419.2,365.2 419.5,364.5 419.8,362.3 420.2,364.5 420.5,362.5 420.9,364.5 421.2,363.7 421.5,364.0 421.9,363.7 422.2,362.0 422.6,363.8 422.9,364.1 423.3,363.2 423.6,364.7 423.9,362.6 424.3,364.5 424.6,364.5 425.0,362.7 425.3,365.0 425.6,362.3 426.0,364.8 426.3,362.9 426.7,365.3 427.0,365.7 427.4,365.2 427.7,363.0 428.0,364.0 428.4,363.2 428.7,363.2 429.1,363.4 429.4,364.4 429.7,363.7 430.1,363.8 430.4,366.2 430.8,364.6 431.1,364.4 431.5,364.0 431.8,365.0 432.1,363.3 432.5,363.4 432.8,365.2 433.2,365.3 433.5,363.8 433.9,365.4 434.2,365.3 434.5,366.0 434.9,364.9 435.2,363.3 435.6,364.8 435.9,365.9 436.2,364.2 436.6,365.7 436.9,364.6 437.3,363.9 437.6,364.0 438.0,363.3 438.3,365.2 438.6,363.6 439.0,365.9 439.3,363.6 439.7,364.2 440.0,365.5 440.3,363.0 440.7,365.4 441.0,365.2 441.4,363.5 441.7,362.7 442.1,363.3 442.4,363.2 442.7,362.8 443.1,363.2 443.4,365.5 443.8,363.5 444.1,363.3 444.4,363.3 444.8,365.0 445.1,364.5 445.5,364.6 445.8,362.8 446.2,362.8 446.5,363.4 446.8,364.6 447.2,364.2 447.5,363.2 447.9,363.2 448.2,364.1 448.6,362.8 448.9,362.0 449.2,363.4 449.6,364.4 449.9,364.7 450.3,364.6 450.6,362.2 450.9,364.4 451.3,362.2 451.6,361.3 452.0,359.8 452.3,361.8 452.7,364.4 453.0,363.9 453.3,366.3 453.3,366.1 453.7,389.7 454.0,419.7 454.1,424.8 454.4,367.3 454.4,361.4 454.7,317.1 455.0,273.5 455.2,248.8 455.4,260.1 455.7,270.5 456.1,284.7 456.4,300.5 456.8,311.1 457.1,327.6 457.4,319.8 457.8,311.7 458.1,297.1 458.5,287.6 458.8,273.1 459.1,263.8 459.4,257.3 459.5,260.7 459.8,281.4 460.2,294.4 460.5,308.3 460.9,317.6 460.9,324.7 461.2,316.7 461.5,303.2 461.9,294.0 462.2,287.8 462.6,279.9 462.8,277.3 462.9,281.0 463.3,292.9 463.6,304.2 463.9,315.0 464.3,326.7 464.3,325.2 464.6,317.5 465.0,311.0 465.3,307.8 465.6,300.0 466.0,291.7 466.2,286.1 466.3,290.1 466.7,292.0 467.0,303.5 467.4,310.2 467.7,316.1 467.7,313.8 468.0,313.0 468.4,305.6 468.7,304.5 469.1,297.9 469.4,297.8 469.6,293.6 469.7,291.0 470.1,300.8 470.4,303.2 470.8,309.5 471.1,311.9 471.2,313.6 471.5,306.5 471.8,299.9 472.1,299.3 472.5,295.1 472.7,289.6 472.8,291.3 473.2,294.6 473.5,299.2 473.8,303.1 474.2,308.5 474.5,311.2 474.9,317.9 475.2,318.8 475.6,320.9 475.9,325.3 476.2,328.0 476.5,329.6 476.6,330.1 476.9,335.4 477.3,338.0 477.6,340.5 478.0,339.9 478.3,345.2 478.6,344.8 479.0,349.6 479.3,350.5 479.7,354.2 480.0,357.3 480.3,358.6 480.3,358.7 480.7,359.5 481.0,360.8 481.4,364.6 481.7,363.1 482.1,368.8 482.4,367.1 482.7,372.2 483.1,370.6 483.4,374.0 483.8,376.1 484.1,378.3 484.4,381.9 484.8,380.0 485.1,381.0 485.5,381.4 485.8,381.4 486.2,384.9 486.5,383.4 486.8,385.0 487.2,385.7 487.5,388.0 487.9,388.9 488.2,388.3 488.6,391.9 488.9,391.2 489.2,391.8 489.6,393.1 489.9,391.9 490.1,393.5 490.3,391.3 490.6,391.7 490.9,392.4 491.3,396.0 491.6,395.2 492.0,396.0 492.3,399.5 492.7,401.4 493.0,399.0 493.3,400.8 493.7,403.1 493.9,403.3 494.0,402.3 494.4,399.2 494.7,400.3 495.0,398.8 495.4,398.8 495.7,399.3 496.1,397.8 496.4,398.8 496.8,395.0 497.1,395.9 497.4,395.1 497.4,397.3 497.8,396.8 498.1,393.4 498.5,393.6 498.8,390.8 499.1,393.1 499.5,389.3 499.8,389.0 500.2,386.9 500.5,387.2 500.9,386.7 501.2,388.2 501.5,385.7 501.9,382.7 502.2,382.1 502.6,381.2 502.9,381.7 503.3,384.0 503.6,380.3 503.8,381.4 503.9,379.8 504.3,379.1 504.6,377.9 505.0,377.6 505.3,379.4 505.6,378.0 506.0,376.2 506.3,377.3 506.7,375.4 507.0,374.5 507.4,376.1 507.6,375.4 507.7,373.6 508.0,375.0 508.4,374.9 508.7,375.3 509.1,373.3 509.4,373.3 509.7,374.9 510.1,375.6 510.4,379.3 510.8,375.7 511.1,374.4 511.5,377.5 511.8,373.6 512.1,376.6 512.5,372.8 512.8,373.6 513.2,375.6 513.5,373.1 513.8,375.5 514.2,374.7 514.5,374.9 514.9,373.5 515.2,373.5 515.6,374.4 515.9,375.9 516.2,375.7 516.6,376.8 516.9,377.4 517.3,376.2 517.6,374.7 518.0,374.1 518.3,372.5 518.6,372.0 519.0,373.1 519.3,374.1 519.7,373.6 520.0,375.3 520.3,376.4 520.7,373.9 521.0,373.7 521.4,377.1 521.7,374.9 522.1,375.9 522.4,375.7 522.7,374.5 523.1,374.0 523.4,376.0 523.8,373.9 524.1,375.6 524.4,375.2 524.8,375.3 525.1,373.5 525.5,372.9 525.8,375.2 526.2,376.5 526.5,373.4 526.8,376.2 527.2,373.6 527.5,376.0 527.9,375.7 528.2,373.5 528.5,373.8 528.9,377.3 529.2,372.9 529.6,375.0 529.9,375.9 530.3,372.3 530.6,374.7 530.9,372.0 531.3,372.5 531.6,373.1 532.0,372.4 532.3,374.5 532.7,375.3 533.0,371.8 533.1,372.2 533.3,374.8 533.7,373.2 534.0,371.6 534.4,372.4 534.7,373.2 535.0,373.5 535.4,372.6 535.7,370.6 536.1,372.9 536.4,373.0 536.8,369.0 537.1,369.4 537.4,370.1 537.8,371.8 538.1,366.1 538.5,367.3 538.8,368.2 539.1,366.7 539.5,366.9 539.8,367.3 540.2,367.3 540.5,366.3 540.9,368.4 541.2,367.6 541.5,368.7 541.9,364.8 542.2,364.5 542.6,363.5 542.9,365.6 543.2,366.5 543.3,363.2 543.6,361.9 543.9,362.9 544.3,365.4 544.6,364.1 545.0,363.3 545.3,365.1 545.6,365.5 546.0,362.7 546.3,362.4 546.7,364.0 547.0,365.6 547.4,364.5 547.7,362.4 548.0,365.8 548.4,364.0 548.7,363.4 549.1,364.3 549.4,362.6 549.7,361.7 550.1,365.8 550.4,362.8 550.8,365.7 551.1,364.5 551.5,362.6 551.8,364.2 552.1,360.6 552.5,362.9 552.8,364.7 553.2,364.6 553.5,360.5 553.8,363.2 554.2,364.6 554.3,362.6 554.5,361.0 554.9,361.9 555.2,361.8 555.6,363.6 555.9,362.2 556.2,363.9 556.6,363.5 556.9,364.3 557.3,361.6 557.6,363.1 558.0,365.6 558.3,363.0 558.6,360.6 559.0,361.1 559.3,360.1 559.7,363.2 560.0,360.4 560.3,363.0 560.7,360.8 561.0,361.9 561.4,362.3 561.7,361.3 562.1,363.6 562.4,364.5 562.7,365.0 563.1,364.3 563.4,363.4 563.8,362.0 564.1,364.4 564.4,364.0 564.8,363.4 565.1,365.2 565.5,361.9 565.8,363.2 566.2,362.1 566.5,363.0 566.8,361.4 567.2,362.2 567.5,360.8 567.9,363.8 568.2,364.5 568.5,361.7 568.9,363.5 569.2,363.4 569.6,363.6 569.9,364.5 570.3,364.8 570.6,365.2 570.9,363.0 571.3,362.5 571.6,365.5 572.0,364.6 572.3,362.2 572.7,364.8 573.0,363.0 573.3,361.4 573.7,364.2 574.0,362.4 574.4,361.8 574.7,365.0 575.0,366.2 575.4,365.2 575.7,363.0 576.1,361.9 576.4,365.4 576.8,367.3 577.1,362.9 577.4,362.6 577.8,363.0 578.1,362.7 578.5,364.8 578.8,364.4 579.1,363.1 579.5,364.0 579.8,364.7 580.2,365.9 580.5,363.8 580.9,363.0 581.2,363.4 581.5,365.4 581.9,365.1 582.2,364.0 582.6,364.3 582.9,365.1 583.2,365.1 583.6,365.2 583.9,366.9 584.3,362.4 584.6,366.8 585.0,363.3 585.3,364.5 585.5,364.9 585.6,366.4 586.0,367.3 586.3,366.8 586.7,364.2 587.0,364.9 587.4,366.2 587.7,364.7 588.0,363.1 588.4,365.7 588.7,365.0 589.1,363.7 589.4,367.8 589.7,367.0 590.1,365.9 590.4,366.8 590.8,365.3 591.1,364.9 591.5,365.3 591.8,366.0 592.1,368.4 592.5,367.3 592.8,366.2 593.2,367.3 593.5,366.3 593.8,368.8 594.2,366.6 594.5,366.5 594.9,368.1 595.2,368.2 595.6,366.5 595.9,366.8 596.2,368.0 596.6,369.5 596.9,369.8 597.3,367.8 597.6,369.3 597.9,370.1 598.3,369.8 598.6,366.4 599.0,369.8 599.3,367.5 599.7,367.9 600.0,367.6 600.3,369.9 600.7,366.7 601.0,369.4 601.1,369.8 601.4,369.9 601.7,368.6 602.1,371.3 602.4,365.4 602.7,371.0 603.1,370.2 603.4,369.5 603.8,369.5 604.1,367.8 604.4,372.0 604.8,369.6 605.1,368.2 605.5,368.7 605.8,371.2 606.2,369.6 606.5,368.8 606.8,372.1 607.2,369.6 607.5,369.5 607.9,369.7 608.2,369.4 608.5,370.4 608.9,371.3 609.2,370.5 609.6,371.6 609.9,370.2 610.3,370.3 610.6,368.9 610.9,370.0 611.3,370.9 611.6,372.2 612.0,369.7 612.3,372.1 612.6,370.1 613.0,371.8 613.3,369.4 613.7,372.7 614.0,371.0 614.4,371.5 614.7,372.3 615.0,371.0 615.4,372.5 615.7,371.5 616.1,370.1 616.4,370.4 616.6,374.2 616.8,369.9 617.1,371.8 617.4,369.9 617.8,372.4 618.1,372.5 618.5,370.4 618.8,374.5 619.1,374.0 619.5,374.6 619.8,373.5 620.2,372.8 620.5,374.0 620.9,373.5 621.2,372.1 621.5,372.5 621.9,372.3 622.2,370.5 622.6,371.1 622.9,370.4 623.2,372.2 623.6,374.0 623.9,374.6 624.3,373.8 624.6,374.0 625.0,371.6 625.3,371.7 625.6,372.8 626.0,370.7 626.3,372.9 626.7,372.0 627.0,373.2 627.3,373.0 627.7,373.5 628.0,369.5 628.4,372.6 628.7,371.1 629.1,369.7 629.4,369.4 629.7,369.4 630.1,373.3 630.4,372.6 630.8,369.8 631.1,370.0 631.5,370.9 631.8,372.5 632.1,370.5 632.2,373.0 632.5,372.7 632.8,371.3 633.2,369.5 633.5,369.7 633.8,371.5 634.2,370.1 634.5,370.6 634.9,371.2 635.2,370.4 635.6,372.1 635.9,371.4 636.2,368.9 636.6,368.5 636.9,368.4 637.3,371.5 637.6,370.1 637.9,371.8 638.3,370.4 638.6,370.2 639.0,368.6 639.3,370.4 639.7,371.5 640.0,367.7 640.3,368.1 640.7,371.5 641.0,372.0 641.4,368.2 641.7,370.0 642.1,370.5 642.4,367.8 642.7,368.4 643.1,366.4 643.4,368.4 643.8,371.2 644.1,368.3 644.4,369.1 644.8,370.2 645.1,368.7 645.5,370.8 645.5,371.6 645.8,367.1 646.2,370.8" stroke="#ff7a00"/>
<path d="M402.4,363.7 402.7,365.7 403.1,364.0 403.4,364.0 403.8,363.7 404.1,363.9 404.4,363.5 404.8,364.7 405.1,365.0 405.5,366.2 405.8,366.0 406.2,365.2 406.5,366.1 406.8,366.7 407.2,364.7 407.5,363.9 407.9,364.8 408.2,364.3 408.6,365.4 408.9,364.2 409.2,366.0 409.6,366.7 409.9,363.9 410.3,364.2 410.6,364.8 410.9,366.5 411.3,364.3 411.6,365.1 412.0,364.0 412.3,362.8 412.7,365.0 413.0,363.3 413.3,365.2 413.7,363.9 414.0,365.6 414.4,364.3 414.7,366.7 415.0,365.1 415.4,366.6 415.7,365.8 416.1,365.7 416.4,364.0 416.8,366.4 417.1,364.3 417.4,366.9 417.8,364.1 418.1,364.4 418.5,364.8 418.8,364.5 419.2,364.6 419.5,366.2 419.8,364.5 420.2,365.7 420.5,363.8 420.9,366.2 421.2,363.8 421.5,363.4 421.9,364.6 422.2,364.0 422.6,364.7 422.9,365.7 423.3,364.5 423.6,364.4 423.9,364.9 424.3,366.2 424.6,365.5 425.0,366.6 425.3,366.8 425.6,364.7 426.0,364.8 426.3,365.9 426.7,366.4 427.0,365.7 427.4,366.3 427.7,366.2 428.0,365.0 428.4,366.2 428.7,364.9 429.1,363.4 429.4,364.7 429.7,364.8 430.1,364.0 430.4,364.5 430.8,364.1 431.1,364.3 431.5,363.6 431.8,366.1 432.1,364.7 432.5,366.0 432.8,366.5 433.2,365.2 433.5,364.8 433.9,365.7 434.2,366.1 434.5,364.8 434.9,366.8 435.2,364.4 435.6,366.1 435.9,365.9 436.2,363.9 436.6,365.6 436.9,364.4 437.3,366.5 437.6,366.7 438.0,364.0 438.3,365.2 438.6,366.5 439.0,366.4 439.3,365.8 439.7,366.3 440.0,364.8 440.3,366.3 440.7,365.9 441.0,365.7 441.4,363.6 441.7,366.3 442.1,364.7 442.4,366.4 442.7,364.4 442.7,351.2 443.0,300.2 443.1,300.6 443.4,303.2 443.8,301.6 444.1,302.6 444.4,301.5 444.8,302.3 444.9,298.3 445.1,298.2 445.5,302.6 445.8,301.1 446.2,297.0 446.5,300.8 446.8,299.8 447.2,302.8 447.5,296.8 447.9,298.8 448.2,301.6 448.6,296.6 448.9,302.3 449.2,300.7 449.6,300.1 449.9,297.1 450.3,298.1 450.6,303.3 450.9,297.7 451.3,301.6 451.6,301.1 452.0,301.8 452.3,303.1 452.7,303.0 453.0,299.0 453.3,301.2 453.7,297.6 454.0,298.9 454.4,297.8 454.7,297.8 455.0,299.8 455.4,302.5 455.7,302.5 456.1,297.8 456.4,302.8 456.8,302.1 457.1,299.4 457.4,298.3 457.8,300.6 458.1,299.0 458.5,299.9 458.8,300.8 459.0,297.7 459.1,299.3 459.5,302.4 459.8,297.7 460.2,305.2 460.5,305.1 460.9,307.1 461.2,302.9 461.5,306.2 461.9,308.3 462.2,309.0 462.6,311.3 462.9,307.7 463.3,309.5 463.6,311.1 463.9,311.8 464.3,309.2 464.6,311.6 464.7,312.4 465.0,315.2 465.3,315.5 465.6,315.3 466.0,315.7 466.3,317.4 466.7,317.1 467.0,317.1 467.4,319.3 467.7,317.5 468.0,318.8 468.4,323.0 468.7,318.8 469.1,323.1 469.4,324.2 469.7,325.6 470.1,325.6 470.4,325.4 470.8,327.7 471.1,326.3 471.5,326.2 471.8,330.2 472.1,329.2 472.5,331.0 472.7,329.1 472.8,328.0 473.2,333.6 473.5,330.0 473.8,334.6 474.2,332.8 474.5,335.5 474.9,333.7 475.2,332.5 475.6,334.4 475.9,337.0 476.2,335.0 476.6,336.6 476.9,337.0 477.3,339.9 477.6,337.0 478.0,336.9 478.3,338.3 478.6,337.5 479.0,339.7 479.3,342.7 479.7,344.1 480.0,343.1 480.3,340.7 480.3,344.1 480.7,340.8 481.0,345.9 481.4,340.0 481.7,343.3 482.1,346.6 482.4,346.7 482.7,343.8 483.1,346.0 483.4,345.6 483.8,347.3 484.1,346.8 484.4,347.5 484.8,350.2 485.1,348.5 485.5,350.9 485.8,351.4 486.2,349.4 486.3,351.0 486.5,349.2 486.8,351.3 487.2,353.7 487.5,350.7 487.9,351.1 488.2,353.8 488.6,354.9 488.9,354.5 489.2,355.5 489.6,358.8 489.9,359.5 490.1,358.1 490.3,360.1 490.6,360.1 490.9,359.5 491.3,362.4 491.6,362.7 492.0,365.3 492.3,364.7 492.7,369.4 493.0,370.8 493.3,368.7 493.7,373.6 493.9,373.1 494.0,373.0 494.4,373.7 494.7,375.5 495.0,377.5 495.4,376.0 495.7,380.7 496.1,379.0 496.4,381.0 496.8,381.0 497.1,382.2 497.4,383.2 497.8,381.4 498.1,385.3 498.5,386.2 498.8,387.2 499.1,385.5 499.5,388.5 499.8,387.1 500.0,389.4 500.2,388.3 500.5,389.1 500.9,390.2 501.2,390.1 501.5,390.6 501.9,393.9 502.2,392.6 502.6,394.1 502.9,393.7 503.3,394.6 503.6,395.0 503.9,394.1 504.3,396.3 504.6,396.5 505.0,395.6 505.3,397.7 505.6,397.5 506.0,398.0 506.3,399.0 506.7,399.5 507.0,400.8 507.4,401.1 507.6,399.1 507.7,399.8 508.0,398.3 508.4,401.1 508.7,398.1 509.1,402.2 509.4,398.9 509.7,400.3 510.1,399.3 510.4,402.1 510.8,402.1 511.1,399.4 511.5,404.4 511.8,400.9 512.1,400.0 512.5,403.9 512.8,400.6 513.2,402.3 513.5,403.4 513.8,402.0 514.2,401.3 514.5,401.7 514.8,401.4 514.9,403.9 515.2,400.6 515.6,398.1 515.9,400.3 516.2,398.8 516.6,401.4 516.9,400.3 517.3,403.0 517.6,401.2 518.0,402.4 518.3,398.1 518.6,399.8 519.0,397.9 519.3,397.1 519.4,398.5 519.7,396.5 520.0,397.3 520.3,396.6 520.7,393.9 521.0,394.2 521.4,394.7 521.7,396.2 522.1,391.3 522.4,394.1 522.7,392.6 523.1,390.8 523.4,392.7 523.8,391.5 524.1,389.3 524.4,388.0 524.8,390.1 525.1,390.3 525.5,389.1 525.8,389.3 526.2,385.4 526.5,385.0 526.8,386.3 527.0,386.4 527.2,384.4 527.5,384.7 527.9,385.5 528.2,383.1 528.5,383.5 528.9,384.0 529.2,382.6 529.6,384.5 529.9,381.7 530.3,381.3 530.6,381.3 530.9,380.3 531.3,381.4 531.6,383.2 532.0,383.8 532.3,382.3 532.7,380.9 533.0,377.6 533.3,381.4 533.7,382.1 534.0,379.4 534.4,379.7 534.7,379.0 535.0,377.8 535.4,379.0 535.7,380.9 536.1,377.6 536.4,379.5 536.8,378.7 537.1,378.4 537.4,378.9 537.8,378.8 538.1,377.2 538.5,375.0 538.8,376.1 538.8,375.0 539.1,377.4 539.5,376.9 539.8,376.6 540.2,375.9 540.5,374.1 540.9,375.5 541.2,374.5 541.5,375.3 541.9,374.5 542.2,374.1 542.6,376.0 542.9,375.1 543.2,375.1 543.6,373.9 543.9,373.4 544.3,373.6 544.6,373.5 545.0,375.7 545.3,375.4 545.6,374.7 546.0,373.0 546.3,374.9 546.7,371.0 547.0,371.1 547.4,375.7 547.7,373.6 548.0,370.7 548.4,373.6 548.7,371.6 549.1,371.3 549.4,371.4 549.7,372.5 550.1,370.9 550.4,371.5 550.8,371.4 551.1,372.6 551.5,371.4 551.8,368.9 552.1,369.8 552.5,371.9 552.8,371.8 553.2,368.6 553.5,369.1 553.8,368.6 554.2,371.1 554.3,368.3 554.5,370.8 554.9,369.6 555.2,368.3 555.6,370.3 555.9,367.9 556.2,368.1 556.6,366.8 556.9,366.6 557.3,366.9 557.6,367.5 558.0,367.1 558.3,368.5 558.6,369.2 559.0,369.4 559.3,366.5 559.7,369.5 560.0,369.8 560.3,368.5 560.7,369.2 561.0,368.9 561.4,369.2 561.7,366.0 562.1,369.4 562.4,368.4 562.7,367.3 563.1,370.4 563.4,367.8 563.8,370.3 564.1,369.1 564.4,369.5 564.8,367.6 565.1,369.7 565.5,369.6 565.8,368.6 566.2,366.7 566.5,370.6 566.8,370.8 567.2,368.3 567.5,370.9 567.9,371.0 568.2,369.6 568.5,368.5 568.9,370.3 569.2,368.9 569.5,369.1 569.6,369.0 569.9,368.3 570.3,367.7 570.6,369.7 570.9,369.3 571.3,368.2 571.6,370.3 572.0,366.9 572.3,370.8 572.7,370.3 573.0,368.1 573.3,371.4 573.7,368.9 574.0,370.1 574.4,371.6 574.7,370.8 575.0,371.3 575.4,370.2 575.7,371.2 576.1,371.8 576.4,368.4 576.8,368.6 577.1,369.7 577.4,372.3 577.8,371.2 578.1,371.0 578.5,372.4 578.8,371.8 579.1,371.5 579.5,368.9 579.8,371.7 580.2,371.6 580.5,370.4 580.9,372.7 581.2,368.2 581.5,371.3 581.9,370.8 582.2,373.5 582.6,371.1 582.9,371.4 583.2,369.8 583.6,372.1 583.9,370.7 584.3,371.5 584.6,372.5 585.0,370.3 585.3,374.4 585.5,370.5 585.6,373.5 586.0,374.5 586.3,374.4 586.7,372.9 587.0,373.3 587.4,374.4 587.7,374.6 588.0,373.9 588.4,376.0 588.7,373.9 589.1,372.0 589.4,373.5 589.7,373.2 590.1,375.8 590.4,373.1 590.8,375.0 591.1,374.0 591.5,375.6 591.8,376.8 592.1,377.4 592.5,376.1 592.8,374.4 593.2,377.4 593.5,374.2 593.8,373.7 594.2,376.3 594.5,377.7 594.9,374.4 595.2,375.3 595.6,375.4 595.9,376.1 596.2,378.0 596.6,377.7 596.9,377.3 597.3,376.7 597.6,378.1 597.9,379.0 598.3,375.4 598.6,379.1 599.0,379.0 599.3,378.5 599.7,376.6 600.0,377.6 600.3,376.3 600.7,377.0 601.0,379.2 601.1,379.1 601.4,376.4 601.7,378.5 602.1,379.1 602.4,378.8 602.7,378.0 603.1,380.6 603.4,378.5 603.8,381.1 604.1,379.1 604.4,381.3 604.8,379.2 605.1,378.5 605.5,379.4 605.8,379.5 606.2,377.7 606.5,377.6 606.8,379.6 607.2,380.5 607.5,379.4 607.9,378.2 608.2,378.3 608.5,380.2 608.9,380.6 609.2,380.6 609.6,378.1 609.9,380.8 610.3,377.4 610.6,379.5 610.9,377.3 611.3,378.7 611.6,379.4 612.0,378.0 612.3,377.9 612.6,378.1 613.0,379.7 613.3,378.2 613.7,378.2 614.0,378.3 614.4,380.2 614.7,378.4 615.0,381.6 615.1,381.9 615.4,379.1 615.7,383.8 616.1,379.0 616.4,382.2 616.8,380.6 617.1,382.2 617.4,381.1 617.8,380.9 618.1,380.0 618.5,378.0 618.8,378.6 619.1,379.7 619.5,378.6 619.8,380.7 620.2,379.7 620.5,378.2 620.9,377.7 621.2,377.9 621.5,378.5 621.9,378.0 622.2,380.9 622.6,379.7 622.9,378.3 623.2,378.1 623.6,380.7 623.9,379.8 624.3,381.2 624.6,380.5 625.0,377.7 625.3,379.2 625.6,379.9 626.0,379.7 626.3,377.8 626.7,379.5 627.0,377.5 627.3,377.8 627.7,380.4 628.0,380.0 628.4,380.5 628.7,377.2 629.1,378.0 629.4,378.2 629.7,380.6 630.1,378.5 630.4,377.7 630.8,376.9 631.1,379.9 631.5,377.9 631.8,376.5 632.1,378.8 632.2,377.3 632.5,377.8 632.8,376.1 633.2,377.4 633.5,376.8 633.8,374.8 634.2,375.1 634.5,374.2 634.9,373.3 635.2,370.5 635.6,370.3 635.9,370.4 636.2,368.8 636.6,366.1 636.9,370.6 637.3,367.5 637.6,364.6 637.9,363.8 637.9,364.4 638.3,364.6 638.6,364.0 639.0,365.8 639.3,363.3 639.7,361.4 640.0,363.9 640.3,364.1 640.7,363.3 641.0,364.1 641.4,360.4 641.7,364.2 642.1,363.6 642.4,362.4 642.7,361.5 643.1,360.2 643.4,362.6 643.8,359.4 644.1,360.9 644.4,359.9 644.8,360.9 645.1,361.4 645.5,361.1 645.5,360.8 645.8,359.9 646.2,360.7" stroke="#ec0c16"/>
<path d="M402.4,365.3 402.7,365.3 403.1,364.8 403.4,364.4 403.8,365.7 404.1,365.7 404.4,363.4 404.8,365.5 405.1,365.0 405.5,363.1 405.8,364.2 406.2,363.6 406.5,366.3 406.8,365.0 407.2,364.5 407.5,364.1 407.9,363.9 408.2,364.2 408.6,365.6 408.9,366.2 409.2,364.0 409.6,364.1 409.9,365.5 410.3,364.0 410.6,362.6 410.9,366.8 411.3,366.9 411.6,365.0 412.0,366.7 412.3,366.6 412.7,364.3 413.0,365.4 413.3,364.8 413.7,365.2 414.0,364.3 414.4,366.8 414.7,364.7 415.0,364.8 415.4,364.7 415.7,364.7 416.1,365.8 416.4,365.2 416.8,365.4 417.1,364.9 417.4,363.5 417.8,363.8 418.1,362.9 418.5,362.8 418.8,364.8 419.2,363.1 419.5,363.3 419.8,364.7 420.2,363.8 420.5,365.7 420.9,365.6 421.2,364.7 421.5,365.8 421.9,365.3 422.2,365.6 422.6,365.9 422.9,365.4 423.3,364.2 423.6,364.2 423.9,364.0 424.3,364.5 424.6,365.6 425.0,365.7 425.3,364.3 425.6,364.8 426.0,363.2 426.3,363.5 426.7,365.0 427.0,364.2 427.4,364.2 427.7,366.3 428.0,365.9 428.4,364.2 428.7,364.6 429.1,364.7 429.4,363.6 429.7,365.7 430.1,363.9 430.4,365.0 430.8,364.6 431.1,363.4 431.5,364.0 431.8,365.7 432.1,364.6 432.5,365.8 432.8,365.7 433.2,363.4 433.5,364.9 433.9,363.6 434.2,365.4 434.5,365.2 434.9,365.5 435.2,364.6 435.6,365.3 435.9,364.9 436.2,363.9 436.6,363.3 436.9,363.7 437.3,363.7 437.6,364.9 438.0,362.3 438.3,363.4 438.6,363.0 439.0,363.7 439.3,364.6 439.7,364.8 440.0,363.2 440.3,362.6 440.7,363.4 441.0,363.4 441.4,362.7 441.7,363.1 442.1,364.6 442.4,363.0 442.7,362.3 443.1,365.1 443.4,362.9 443.8,363.3 444.1,363.2 444.4,364.4 444.8,364.2 445.1,364.8 445.5,363.5 445.8,364.3 446.2,362.9 446.5,363.4 446.8,364.0 447.2,364.1 447.5,362.6 447.9,363.0 448.2,365.5 448.6,363.4 448.9,364.7 449.2,363.4 449.6,362.3 449.9,364.0 450.3,363.3 450.6,363.5 450.9,364.7 451.0,362.6 451.3,361.8 451.6,361.2 452.0,360.7 452.3,360.8 452.5,360.2 452.7,354.5 453.0,334.9 453.3,315.8 453.7,300.5 454.0,300.7 454.2,300.2 454.3,288.8 454.4,294.9 454.6,285.3 454.7,283.8 454.8,293.5 455.0,290.3 455.1,277.9 455.2,298.1 455.4,302.6 455.5,301.2 455.6,293.1 455.7,300.3 455.9,305.8 456.0,306.4 456.1,302.6 456.3,297.3 456.4,301.5 456.5,291.3 456.7,303.3 456.8,298.4 456.9,305.6 457.1,285.9 457.2,294.7 457.3,287.8 457.5,295.7 457.6,299.3 457.7,290.1 457.9,303.6 458.0,298.8 458.1,305.9 458.3,305.5 458.4,289.2 458.5,295.4 458.7,295.6 458.8,284.8 458.9,301.1 459.1,290.9 459.2,291.8 459.3,290.2 459.5,288.7 459.6,294.7 459.7,298.5 459.9,287.0 460.0,301.5 460.1,292.6 460.3,294.2 460.4,289.6 460.5,297.8 460.7,296.3 460.8,296.1 460.9,303.9 461.1,294.0 461.2,295.5 461.3,294.5 461.5,290.5 461.6,304.1 461.7,300.9 461.9,305.2 462.0,298.1 462.1,304.9 462.3,283.7 462.4,304.7 462.5,302.6 462.7,284.1 462.8,301.9 462.9,301.1 463.1,306.4 463.2,290.1 463.3,296.1 463.5,292.9 463.6,287.0 463.7,297.1 463.9,305.8 464.0,287.8 464.1,294.6 464.3,303.6 464.4,293.2 464.5,301.3 464.7,292.9 464.8,306.8 464.9,301.1 465.1,286.8 465.2,296.2 465.3,297.8 465.5,288.1 465.6,285.2 465.7,287.7 465.9,301.4 466.0,278.9 466.1,291.4 466.3,304.8 466.4,301.2 466.5,301.6 466.7,307.9 466.8,309.6 466.9,309.0 467.1,294.9 467.2,305.2 467.3,282.6 467.4,301.3 467.6,290.5 467.7,293.7 467.8,294.5 468.0,306.5 468.1,301.7 468.2,302.7 468.4,305.9 468.5,295.5 468.6,305.1 468.8,291.4 468.9,290.4 469.0,288.0 469.2,300.4 469.3,297.6 469.4,291.4 469.6,309.5 469.7,302.1 469.8,289.8 470.0,303.6 470.1,288.6 470.2,303.9 470.4,299.2 470.5,295.0 470.6,289.9 470.8,299.3 470.9,292.1 471.0,284.7 471.2,291.7 471.3,301.3 471.4,295.6 471.6,292.5 471.7,306.7 471.8,292.7 472.0,303.6 472.1,308.6 472.2,307.8 472.4,299.1 472.5,292.8 472.6,287.7 472.8,295.8 472.9,302.9 473.0,301.4 473.2,297.1 473.3,297.2 473.4,298.3 473.8,299.6 473.8,295.6 474.1,303.4 474.5,307.8 474.8,311.6 475.1,318.1 475.5,322.0 475.8,326.5 476.2,328.6 476.5,332.5 476.5,336.6 476.9,339.1 477.2,338.2 477.5,343.7 477.9,343.2 478.2,345.7 478.6,351.1 478.9,350.6 479.2,355.3 479.6,354.9 479.9,360.4 480.3,360.2 480.6,364.9 481.0,363.9 481.3,364.6 481.6,368.4 482.0,368.9 482.3,371.9 482.7,371.8 483.0,373.8 483.3,375.2 483.7,376.3 484.0,379.8 484.4,383.2 484.4,382.2 484.7,379.1 485.1,382.8 485.4,381.7 485.7,382.5 486.1,382.5 486.4,383.4 486.8,385.3 487.1,384.2 487.4,383.7 487.8,386.4 488.1,388.8 488.5,388.0 488.8,389.3 489.2,390.7 489.5,390.8 489.8,387.6 490.1,390.1 490.2,391.9 490.5,391.5 490.9,391.2 491.2,393.2 491.6,393.5 491.9,393.6 492.2,395.4 492.6,393.2 492.9,394.5 493.3,396.4 493.6,396.2 493.9,395.0 494.3,394.5 494.6,393.7 495.0,393.9 495.3,395.1 495.7,394.5 496.0,390.5 496.3,392.3 496.7,391.4 497.0,391.7 497.4,392.0 497.7,387.5 498.0,387.4 498.4,389.1 498.7,385.7 498.9,385.8 499.1,386.0 499.4,387.7 499.8,385.0 500.1,383.0 500.4,382.7 500.8,382.6 501.1,381.8 501.5,382.1 501.8,381.8 502.1,380.1 502.5,380.2 502.8,380.0 503.2,380.1 503.5,376.5 503.8,375.0 503.9,376.4 504.2,376.6 504.5,378.0 504.9,377.7 505.2,377.0 505.6,375.4 505.9,375.3 506.3,374.2 506.6,373.3 506.9,373.2 507.3,372.8 507.6,372.4 508.0,372.0 508.3,372.5 508.6,374.5 509.0,373.6 509.3,373.8 509.7,375.6 510.0,374.4 510.4,373.6 510.7,374.3 511.0,374.4 511.4,373.5 511.7,372.4 512.1,375.3 512.4,374.9 512.7,372.3 513.1,373.9 513.4,374.9 513.8,372.7 514.1,373.5 514.5,375.7 514.8,374.8 515.1,373.3 515.5,371.7 515.8,375.5 516.2,375.6 516.5,374.2 516.8,375.9 517.2,376.0 517.5,376.4 517.9,373.5 518.2,374.1 518.6,375.0 518.9,373.9 519.2,374.2 519.6,375.5 519.9,375.5 520.3,372.1 520.6,372.1 521.0,371.7 521.3,375.0 521.6,376.0 522.0,376.4 522.3,375.7 522.7,375.7 523.0,373.3 523.3,370.2 523.7,375.0 524.0,373.2 524.4,375.0 524.7,372.9 525.1,376.4 525.4,374.5 525.7,372.7 526.1,375.0 526.4,374.2 526.8,372.3 527.1,372.6 527.4,373.8 527.8,371.2 528.1,372.2 528.5,371.2 528.8,372.3 529.2,374.6 529.5,371.8 529.8,374.9 530.2,373.2 530.5,372.8 530.9,373.1 531.2,375.1 531.5,375.1 531.9,374.6 532.2,373.0 532.6,372.8 532.9,373.2 533.1,372.8 533.3,373.6 533.6,372.1 533.9,371.9 534.3,372.5 534.6,370.8 535.0,372.4 535.3,370.6 535.7,372.9 536.0,370.3 536.3,371.5 536.7,369.6 537.0,367.6 537.4,370.4 537.7,367.2 538.0,368.1 538.4,368.0 538.7,367.4 539.1,367.1 539.4,367.9 539.8,367.6 540.1,367.5 540.4,365.4 540.8,366.7 541.1,364.1 541.5,366.5 541.8,365.0 542.1,365.9 542.5,367.0 542.8,362.7 543.2,362.5 543.3,364.8 543.5,362.0 543.9,361.6 544.2,365.6 544.5,362.4 544.9,362.3 545.2,363.0 545.6,364.2 545.9,363.0 546.3,361.5 546.6,365.2 546.9,364.5 547.3,364.9 547.6,364.9 548.0,364.9 548.3,360.9 548.6,360.3 549.0,361.5 549.3,360.7 549.7,362.0 550.0,361.0 550.4,362.8 550.7,360.8 551.0,362.1 551.4,362.2 551.7,360.4 552.1,363.7 552.4,362.3 552.7,362.7 553.1,359.6 553.4,360.5 553.8,362.4 554.1,362.2 554.3,362.3 554.5,361.4 554.8,361.0 555.1,362.9 555.5,362.3 555.8,363.3 556.2,361.7 556.5,359.8 556.8,360.9 557.2,360.7 557.5,363.1 557.9,363.2 558.2,362.2 558.6,361.0 558.9,362.7 559.2,361.8 559.6,361.3 559.9,360.1 560.3,362.6 560.6,359.8 561.0,361.2 561.3,364.1 561.6,361.7 562.0,360.3 562.3,360.8 562.7,364.5 563.0,362.4 563.3,362.0 563.7,361.0 564.0,362.5 564.4,364.3 564.7,364.0 565.1,363.5 565.4,363.5 565.7,363.6 566.1,360.9 566.4,364.7 566.8,364.0 567.1,361.4 567.4,364.6 567.8,363.1 568.1,363.1 568.5,360.7 568.8,359.7 569.2,363.7 569.5,363.1 569.8,362.6 569.9,365.3 570.2,362.6 570.5,365.5 570.9,363.3 571.2,365.2 571.5,363.9 571.9,364.0 572.2,362.2 572.6,362.0 572.9,362.3 573.3,365.0 573.6,362.2 573.9,362.3 574.3,364.2 574.6,364.0 575.0,364.7 575.3,362.9 575.7,366.6 576.0,362.9 576.3,364.9 576.7,362.0 577.0,362.4 577.4,363.1 577.7,363.9 578.0,365.6 578.4,364.5 578.7,365.9 579.1,362.7 579.4,364.4 579.8,366.2 580.1,363.9 580.4,362.8 580.8,364.5 581.1,365.0 581.5,362.4 581.8,364.2 582.1,364.1 582.5,365.7 582.8,363.4 583.2,367.1 583.5,365.2 583.9,365.9 584.2,363.8 584.5,364.9 584.9,364.2 585.2,366.2 585.5,366.3 585.6,364.6 585.9,366.1 586.2,366.7 586.6,364.6 586.9,367.0 587.3,366.9 587.6,365.3 588.0,364.5 588.3,366.4 588.6,367.0 589.0,365.5 589.3,365.5 589.7,363.6 590.0,366.5 590.4,365.6 590.7,365.1 591.0,366.4 591.4,366.3 591.7,365.8 592.1,364.7 592.4,367.4 592.7,365.1 593.1,365.9 593.4,365.9 593.8,367.7 594.1,365.0 594.5,366.2 594.8,365.1 595.1,368.6 595.5,366.1 595.8,367.9 596.2,368.7 596.5,367.3 596.8,367.3 597.2,366.2 597.5,366.0 597.9,368.5 598.2,367.9 598.6,367.3 598.9,367.2 599.2,365.4 599.6,366.2 599.9,364.6 600.3,365.0 600.6,365.0 600.9,366.6 601.1,365.8 601.3,366.4 601.6,367.7 602.0,368.7 602.3,366.4 602.7,369.3 603.0,368.5 603.3,366.8 603.7,366.9 604.0,367.4 604.4,370.2 604.7,367.1 605.1,369.4 605.4,370.0 605.7,368.8 606.1,367.8 606.4,369.5 606.8,366.1 607.1,368.0 607.4,366.8 607.8,368.3 608.1,367.4 608.5,371.5 608.8,371.3 609.2,370.8 609.5,371.3 609.8,367.9 610.2,369.6 610.5,369.0 610.9,367.9 611.2,368.1 611.5,370.0 611.9,371.7 612.2,367.8 612.6,371.8 612.9,371.8 613.3,371.9 613.6,371.9 613.9,368.0 614.3,368.8 614.6,369.3 615.0,371.8 615.3,369.4 615.7,372.6 616.0,371.1 616.3,370.2 616.6,368.4 616.7,369.8 617.0,369.7 617.4,371.7 617.7,370.1 618.0,369.6 618.4,368.4 618.7,370.9 619.1,369.1 619.4,371.2 619.8,369.4 620.1,372.0 620.4,370.4 620.8,371.2 621.1,369.4 621.5,371.7 621.8,371.2 622.1,372.2 622.5,371.4 622.8,371.1 623.2,371.9 623.5,373.0 623.9,370.2 624.2,371.6 624.5,371.0 624.9,370.6 625.2,370.2 625.6,369.7 625.9,369.8 626.2,369.3 626.6,371.5 626.9,372.4 627.3,372.9 627.6,370.7 628.0,371.2 628.3,369.7 628.6,370.3 629.0,371.8 629.3,372.3 629.7,372.6 630.0,370.4 630.4,373.0 630.7,369.3 631.0,372.2 631.4,368.8 631.7,369.4 632.1,370.8 632.2,370.5 632.4,371.7 632.7,369.3 633.1,372.8 633.4,370.0 633.8,372.2 634.1,369.1 634.5,369.7 634.8,370.1 635.1,373.0 635.5,370.3 635.8,369.8 636.2,369.2 636.5,372.8 636.8,372.1 637.2,372.6 637.5,371.3 637.9,371.2 638.2,371.8 638.6,369.8 638.9,371.9 639.2,369.0 639.6,371.3 639.9,370.5 640.3,371.9 640.6,370.6 640.9,370.8 641.3,369.1 641.6,373.5 642.0,369.5 642.3,371.7 642.7,371.3 643.0,371.6 643.3,369.9 643.7,370.6 644.0,370.5 644.4,370.2 644.7,369.5 645.1,367.8 645.4,371.0 645.5,371.3 645.7,370.0 646.1,368.3" stroke="#20c87a"/>
</g>
<path d="M398.6,427.6v-4.5M398.6,248.4v4.5M417.6,427.6v-2.5M417.6,248.4v2.5M436.6,427.6v-4.5M436.6,248.4v4.5M455.6,427.6v-2.5M455.6,248.4v2.5M474.6,427.6v-4.5M474.6,248.4v4.5M493.6,427.6v-2.5M493.6,248.4v2.5M512.6,427.6v-4.5M512.6,248.4v4.5M531.5,427.6v-2.5M531.5,248.4v2.5M550.5,427.6v-4.5M550.5,248.4v4.5M569.5,427.6v-2.5M569.5,248.4v2.5M588.5,427.6v-4.5M588.5,248.4v4.5M607.5,427.6v-2.5M607.5,248.4v2.5M626.5,427.6v-4.5M626.5,248.4v4.5M645.5,427.6v-2.5M645.5,248.4v2.5M664.5,427.6v-4.5M664.5,248.4v4.5M398.6,427.6h4.5M664.5,427.6h-4.5M398.6,397.7h2.5M664.5,397.7h-2.5M398.6,367.9h4.5M664.5,367.9h-4.5M398.6,338.0h2.5M664.5,338.0h-2.5M398.6,308.1h4.5M664.5,308.1h-4.5M398.6,278.3h2.5M664.5,278.3h-2.5M398.6,248.4h4.5M664.5,248.4h-4.5" stroke="#222" stroke-width="1.2" fill="none"/>
<rect x="398.6" y="248.4" width="265.9" height="179.2" fill="none" stroke="#222" stroke-width="1.4"/>
<g font-family='"Liberation Sans", sans-serif' font-size="10.2" fill="#2a2a2a" stroke="#2a2a2a" stroke-width="0.05"><text x="376.6" y="253.7" textLength="16.2" lengthAdjust="spacingAndGlyphs">3.0</text><text x="376.6" y="313.4" textLength="16.2" lengthAdjust="spacingAndGlyphs">1.5</text><text x="376.6" y="373.2" textLength="16.2" lengthAdjust="spacingAndGlyphs">0.0</text><text x="372.1" y="432.9" textLength="20.7" lengthAdjust="spacingAndGlyphs">-1.5</text><text x="384.1" y="441.6" textLength="27.0" lengthAdjust="spacingAndGlyphs">-0.01</text><text x="425.3" y="441.6" textLength="22.5" lengthAdjust="spacingAndGlyphs">0.00</text><text x="463.3" y="441.6" textLength="22.5" lengthAdjust="spacingAndGlyphs">0.01</text><text x="501.3" y="441.6" textLength="22.5" lengthAdjust="spacingAndGlyphs">0.02</text><text x="539.3" y="441.6" textLength="22.5" lengthAdjust="spacingAndGlyphs">0.03</text><text x="577.3" y="441.6" textLength="22.5" lengthAdjust="spacingAndGlyphs">0.04</text><text x="615.3" y="441.6" textLength="22.5" lengthAdjust="spacingAndGlyphs">0.05</text><text x="653.3" y="441.6" textLength="22.5" lengthAdjust="spacingAndGlyphs">0.06</text></g>
<text x="459.3" y="244.7" font-family='"Liberation Sans", sans-serif' font-size="8.4"  fill="#2a2a2a" stroke="#2a2a2a" stroke-width="0.12" textLength="104.7" lengthAdjust="spacingAndGlyphs">1.3 M 2Rows Closed</text>
<text transform="translate(362.0,337.8) rotate(-90)" x="-45.9" y="0" font-family='"Liberation Sans", sans-serif' font-size="14.5" fill="#0a0a0a" stroke="#0a0a0a" stroke-width="0.5" textLength="91.8" lengthAdjust="spacingAndGlyphs">Pressure (PaX10^5)</text>
<text x="494.6" y="456.0" font-family='"Liberation Sans", sans-serif' font-size="10.8" fill="#111" stroke="#111" stroke-width="0.35" textLength="72.3" lengthAdjust="spacingAndGlyphs">Time (sec)</text>
<rect x="610.8" y="236.6" width="70.8" height="47.4" fill="#fff" stroke="#222" stroke-width="1.4"/>
<line x1="617.4" y1="245.0" x2="650.7" y2="245.0" stroke="#6aa8e0" stroke-width="1.3"/>
<text x="654.8" y="249.4" font-family='"Liberation Sans", sans-serif' font-size="9.6" fill="#222" stroke="#222" stroke-width="0.1" textLength="18.5" lengthAdjust="spacingAndGlyphs">Ch1</text>
<line x1="617.4" y1="255.5" x2="650.7" y2="255.5" stroke="#f0a050" stroke-width="1.3"/>
<text x="654.8" y="259.9" font-family='"Liberation Sans", sans-serif' font-size="9.6" fill="#222" stroke="#222" stroke-width="0.1" textLength="18.5" lengthAdjust="spacingAndGlyphs">Ch2</text>
<line x1="617.4" y1="265.3" x2="650.7" y2="265.3" stroke="#e06080" stroke-width="1.3"/>
<text x="654.8" y="269.7" font-family='"Liberation Sans", sans-serif' font-size="9.6" fill="#222" stroke="#222" stroke-width="0.1" textLength="18.5" lengthAdjust="spacingAndGlyphs">Ch3</text>
<line x1="617.4" y1="275.5" x2="650.7" y2="275.5" stroke="#50c8a0" stroke-width="1.3"/>
<text x="654.8" y="279.9" font-family='"Liberation Sans", sans-serif' font-size="9.6" fill="#222" stroke="#222" stroke-width="0.1" textLength="18.5" lengthAdjust="spacingAndGlyphs">Ch4</text>
<line x1="78.5" y1="475.4" x2="78.5" y2="667.4" stroke="#b4b4b4" stroke-width="1" stroke-dasharray="1.1,2.4"/><line x1="97.6" y1="475.4" x2="97.6" y2="667.4" stroke="#b8b8b8" stroke-width="1.3"/><line x1="116.7" y1="475.4" x2="116.7" y2="667.4" stroke="#b4b4b4" stroke-width="1" stroke-dasharray="1.1,2.4"/><line x1="135.8" y1="475.4" x2="135.8" y2="667.4" stroke="#b8b8b8" stroke-width="1.3"/><line x1="154.9" y1="475.4" x2="154.9" y2="667.4" stroke="#b4b4b4" stroke-width="1" stroke-dasharray="1.1,2.4"/><line x1="174.0" y1="475.4" x2="174.0" y2="667.4" stroke="#b8b8b8" stroke-width="1.3"/><line x1="193.1" y1="475.4" x2="193.1" y2="667.4" stroke="#b4b4b4" stroke-width="1" stroke-dasharray="1.1,2.4"/><line x1="212.2" y1="475.4" x2="212.2" y2="667.4" stroke="#b8b8b8" stroke-width="1.3"/><line x1="231.3" y1="475.4" x2="231.3" y2="667.4" stroke="#b4b4b4" stroke-width="1" stroke-dasharray="1.1,2.4"/><line x1="250.4" y1="475.4" x2="250.4" y2="667.4" stroke="#b8b8b8" stroke-width="1.3"/><line x1="269.5" y1="475.4" x2="269.5" y2="667.4" stroke="#b4b4b4" stroke-width="1" stroke-dasharray="1.1,2.4"/><line x1="288.6" y1="475.4" x2="288.6" y2="667.4" stroke="#b8b8b8" stroke-width="1.3"/><line x1="307.7" y1="475.4" x2="307.7" y2="667.4" stroke="#b4b4b4" stroke-width="1" stroke-dasharray="1.1,2.4"/><line x1="59.4" y1="653.7" x2="326.8" y2="653.7" stroke="#b4b4b4" stroke-width="1" stroke-dasharray="1.1,2.4"/><line x1="59.4" y1="640.0" x2="326.8" y2="640.0" stroke="#b8b8b8" stroke-width="1.3"/><line x1="59.4" y1="626.3" x2="326.8" y2="626.3" stroke="#b4b4b4" stroke-width="1" stroke-dasharray="1.1,2.4"/><line x1="59.4" y1="612.5" x2="326.8" y2="612.5" stroke="#b8b8b8" stroke-width="1.3"/><line x1="59.4" y1="598.8" x2="326.8" y2="598.8" stroke="#b4b4b4" stroke-width="1" stroke-dasharray="1.1,2.4"/><line x1="59.4" y1="585.1" x2="326.8" y2="585.1" stroke="#b8b8b8" stroke-width="1.3"/><line x1="59.4" y1="571.4" x2="326.8" y2="571.4" stroke="#b4b4b4" stroke-width="1" stroke-dasharray="1.1,2.4"/><line x1="59.4" y1="557.7" x2="326.8" y2="557.7" stroke="#b8b8b8" stroke-width="1.3"/><line x1="59.4" y1="544.0" x2="326.8" y2="544.0" stroke="#b4b4b4" stroke-width="1" stroke-dasharray="1.1,2.4"/><line x1="59.4" y1="530.3" x2="326.8" y2="530.3" stroke="#b8b8b8" stroke-width="1.3"/><line x1="59.4" y1="516.5" x2="326.8" y2="516.5" stroke="#b4b4b4" stroke-width="1" stroke-dasharray="1.1,2.4"/><line x1="59.4" y1="502.8" x2="326.8" y2="502.8" stroke="#b8b8b8" stroke-width="1.3"/><line x1="59.4" y1="489.1" x2="326.8" y2="489.1" stroke="#b4b4b4" stroke-width="1" stroke-dasharray="1.1,2.4"/>
<clipPath id="cBL"><rect x="59.4" y="475.9" width="267.4" height="191.5"/></clipPath>
<g fill="none" stroke-width="1.7" stroke-linejoin="round" clip-path="url(#cBL)">
<path d="M78.5,606.3 78.8,606.8 79.2,605.9 79.5,605.1 79.9,606.2 80.2,606.7 80.6,607.8 80.9,608.3 81.3,608.2 81.6,606.6 81.9,606.1 82.3,607.9 82.6,606.0 83.0,607.4 83.3,608.4 83.7,607.5 84.0,608.8 84.3,607.7 84.7,607.5 85.0,607.2 85.4,608.5 85.7,606.6 86.1,605.9 86.4,605.3 86.8,605.9 87.1,607.7 87.4,608.5 87.8,606.8 88.1,606.7 88.5,605.9 88.8,606.8 89.2,606.4 89.5,605.0 89.8,605.0 90.2,609.2 90.5,605.8 90.9,608.3 91.2,606.9 91.6,605.3 91.9,606.6 92.3,606.9 92.6,605.6 92.9,607.9 93.3,605.9 93.6,606.1 94.0,606.1 94.3,607.6 94.7,608.3 95.0,605.7 95.3,605.6 95.7,605.2 96.0,608.3 96.4,607.5 96.7,607.9 97.1,608.9 97.2,606.1 97.4,586.6 97.8,554.5 97.9,521.9 98.0,516.1 98.0,522.4 98.2,518.5 98.3,515.4 98.4,521.2 98.6,519.2 98.7,514.7 98.8,521.4 99.0,525.2 99.1,525.5 99.1,518.2 99.2,519.7 99.4,517.9 99.5,508.3 99.6,511.1 99.8,508.6 99.9,503.1 100.0,513.3 100.2,507.7 100.3,501.1 100.4,502.2 100.6,497.1 100.7,505.4 100.7,503.6 100.8,506.9 101.0,514.9 101.1,506.3 101.2,518.9 101.4,515.8 101.5,514.7 101.6,515.0 101.8,526.9 101.9,522.9 102.0,523.6 102.2,518.1 102.3,523.1 102.4,523.4 102.6,524.2 102.7,523.4 102.8,517.3 103.0,518.3 103.1,520.0 103.2,512.1 103.4,511.3 103.5,507.5 103.6,508.2 103.8,509.8 103.9,507.0 104.0,504.3 104.1,501.9 104.2,500.1 104.3,503.8 104.4,506.6 104.6,500.3 104.7,501.5 104.8,499.5 105.0,507.6 105.1,509.2 105.2,502.8 105.4,504.6 105.5,509.0 105.6,510.8 105.6,506.0 105.8,510.0 105.9,508.8 106.0,506.1 106.2,505.2 106.3,506.4 106.4,499.1 106.6,500.0 106.7,496.4 106.8,496.9 107.0,495.8 107.1,499.4 107.2,493.7 107.4,489.5 107.5,492.3 107.6,492.3 107.8,495.0 107.9,490.7 108.0,490.7 108.2,488.0 108.3,492.0 108.4,490.9 108.6,490.6 108.7,491.8 108.8,491.2 109.0,495.7 109.1,496.7 109.3,493.3 109.4,495.4 109.5,495.4 109.7,494.7 109.8,494.2 109.9,497.5 110.1,497.0 110.2,489.9 110.3,494.1 110.5,499.1 110.6,499.7 110.7,498.3 110.9,498.6 111.0,502.8 111.1,498.2 111.3,501.4 111.4,501.5 111.5,501.5 111.7,497.5 111.8,499.4 111.9,497.9 112.1,497.6 112.2,493.5 112.3,496.9 112.5,500.7 112.6,497.9 112.7,492.8 112.9,495.3 113.0,496.6 113.1,484.9 113.3,490.4 113.4,488.6 113.5,493.8 113.6,493.3 113.7,496.7 113.8,490.7 113.9,494.7 114.1,497.3 114.2,490.5 114.3,499.3 114.5,491.5 114.6,492.4 114.7,501.1 114.9,500.2 115.0,497.9 115.1,501.7 115.2,496.2 115.3,493.0 115.4,502.5 115.5,497.0 115.7,495.1 115.8,498.0 115.9,497.0 116.1,503.1 116.2,496.7 116.3,496.1 116.5,504.6 116.6,503.5 116.7,498.1 116.9,502.0 117.0,507.5 117.1,502.7 117.3,501.7 117.4,506.6 117.5,503.4 117.7,504.9 117.8,506.6 117.9,504.9 118.1,508.0 118.2,506.7 118.3,510.6 118.5,502.9 118.6,507.2 119.0,506.3 119.3,513.9 119.6,517.1 120.0,517.4 120.3,517.8 120.7,519.2 121.0,518.4 121.4,522.4 121.7,525.2 122.0,521.2 122.4,524.6 122.4,531.3 122.7,530.3 123.1,529.5 123.4,530.3 123.8,537.5 124.1,533.9 124.5,539.7 124.8,535.4 125.1,540.7 125.5,537.3 125.8,540.1 126.2,541.4 126.5,545.7 126.9,545.8 127.2,543.8 127.5,551.8 127.9,548.0 128.2,554.1 128.6,550.9 128.9,556.4 129.3,555.2 129.6,557.6 130.0,560.5 130.3,563.6 130.6,563.3 130.8,562.2 131.0,560.6 131.3,560.2 131.7,564.5 132.0,566.4 132.4,566.1 132.7,569.8 133.0,570.5 133.4,571.9 133.7,571.9 134.1,570.1 134.4,572.8 134.8,568.9 135.1,573.7 135.5,571.1 135.8,571.9 136.1,574.4 136.5,574.3 136.8,578.5 137.2,573.7 137.3,578.8 137.5,579.7 137.9,576.0 138.2,581.7 138.6,583.0 138.9,584.1 139.2,585.0 139.6,585.7 139.9,581.3 140.3,585.8 140.6,588.1 141.0,585.8 141.3,588.0 141.6,588.5 142.0,589.3 142.3,588.2 142.7,591.9 143.0,589.3 143.4,591.2 143.4,592.8 143.7,593.2 144.1,593.4 144.4,594.4 144.7,591.7 145.1,593.9 145.4,596.6 145.8,592.6 146.1,591.5 146.5,592.7 146.8,596.4 147.1,597.6 147.5,596.1 147.8,593.4 148.2,597.1 148.5,597.3 148.9,591.6 149.2,594.0 149.6,595.6 149.9,596.4 150.2,594.0 150.6,597.0 150.9,595.2 151.3,596.5 151.6,597.0 151.8,598.5 152.0,598.6 152.3,601.6 152.6,600.3 153.0,598.0 153.3,601.7 153.7,600.6 154.0,601.3 154.4,602.4 154.7,599.2 155.1,600.3 155.4,600.5 155.7,603.8 156.1,602.0 156.4,603.7 156.8,602.7 157.1,602.7 157.5,603.4 157.8,604.6 158.1,605.9 158.3,606.7 158.5,606.5 158.8,605.3 159.2,610.1 159.5,608.6 159.9,608.2 160.2,609.8 160.6,611.6 160.9,616.7 161.2,615.3 161.6,616.2 161.9,618.0 162.3,616.9 162.5,619.5 162.6,619.7 163.0,620.6 163.3,620.1 163.6,626.4 164.0,626.8 164.3,629.0 164.7,627.3 165.0,633.0 165.4,632.9 165.7,633.2 166.1,632.7 166.4,636.4 166.7,640.7 167.1,637.3 167.4,638.6 167.8,642.7 168.1,640.9 168.5,640.6 168.8,642.0 169.1,644.0 169.5,643.5 169.8,646.5 170.2,647.4 170.5,646.3 170.9,647.9 171.2,646.8 171.6,645.8 171.9,651.4 172.2,647.3 172.6,652.0 172.9,652.4 172.9,654.1 173.3,650.8 173.6,653.0 174.0,654.2 174.3,656.0 174.6,653.8 175.0,654.5 175.3,656.7 175.7,658.2 176.0,658.5 176.4,655.7 176.7,658.7 177.1,658.0 177.4,658.4 177.7,657.3 178.1,660.0 178.4,657.7 178.8,661.0 179.1,658.3 179.3,657.4 179.5,662.0 179.8,661.0 180.2,659.2 180.5,658.4 180.8,656.3 181.2,660.6 181.5,657.4 181.9,656.1 182.2,656.9 182.6,656.7 182.9,656.4 183.2,660.0 183.6,656.5 183.9,657.0 184.3,657.1 184.6,656.4 185.0,660.7 185.3,658.8 185.7,660.3 186.0,658.2 186.3,658.7 186.7,657.9 187.0,658.1 187.4,656.6 187.7,656.2 187.8,658.8 188.1,658.8 188.4,655.8 188.7,654.4 189.1,652.5 189.4,654.4 189.8,654.9 190.1,654.7 190.5,653.2 190.8,653.0 191.2,650.8 191.5,648.1 191.8,645.8 192.0,646.8 192.2,650.6 192.5,648.1 192.9,644.2 193.2,644.8 193.6,644.5 193.9,644.9 194.2,643.8 194.6,645.1 194.9,639.2 195.3,641.4 195.6,639.1 196.0,636.3 196.3,635.3 196.7,638.1 197.0,633.5 197.3,638.1 197.7,632.0 198.0,633.4 198.1,633.6 198.4,632.0 198.7,631.6 199.1,630.4 199.4,629.4 199.7,629.2 200.1,630.3 200.4,629.6 200.8,625.8 201.1,627.3 201.5,628.3 201.8,626.8 202.2,625.8 202.5,624.7 202.8,626.1 203.2,626.1 203.5,624.5 203.9,623.6 204.2,626.8 204.6,621.4 204.9,620.8 205.2,626.1 205.6,621.1 205.9,622.6 206.3,622.0 206.6,620.3 207.0,618.1 207.3,618.9 207.7,621.5 208.0,618.7 208.3,619.3 208.4,618.7 208.7,619.5 209.0,616.0 209.4,617.9 209.7,616.0 210.1,619.5 210.4,617.1 210.7,615.6 211.1,614.7 211.4,618.8 211.8,615.9 212.1,618.3 212.5,614.4 212.8,616.8 213.2,617.7 213.5,612.1 213.8,613.9 214.2,614.4 214.5,615.4 214.9,613.4 215.2,614.4 215.6,615.2 215.9,609.9 216.2,611.6 216.6,610.2 216.9,609.4 217.3,614.5 217.6,610.6 218.0,610.3 218.3,612.6 218.7,611.1 219.0,613.7 219.3,612.6 219.7,611.6 220.0,612.3 220.4,611.0 220.7,610.1 221.1,610.3 221.4,610.0 221.8,609.4 222.1,607.7 222.4,606.5 222.8,607.6 223.1,608.9 223.5,609.8 223.8,606.7 224.2,605.2 224.5,608.4 224.8,607.4 224.8,607.0 225.2,608.6 225.5,608.5 225.9,604.5 226.2,605.5 226.6,606.9 226.9,605.5 227.3,607.3 227.6,604.1 227.9,604.4 228.3,604.3 228.6,606.7 229.0,604.5 229.3,607.2 229.7,605.5 230.0,607.7 230.3,607.9 230.7,603.8 231.0,605.3 231.4,606.2 231.7,603.4 232.1,603.1 232.4,604.1 232.8,603.0 233.1,601.4 233.4,606.4 233.8,607.1 234.1,604.5 234.4,604.8 234.5,606.6 234.8,603.9 235.2,603.9 235.5,604.8 235.8,606.7 236.2,607.8 236.5,607.0 236.9,609.5 237.2,605.5 237.6,605.9 237.9,604.1 238.3,603.8 238.6,611.3 238.9,607.3 239.3,608.9 239.6,609.1 240.0,604.9 240.1,608.8 240.3,609.4 240.7,609.3 241.0,608.5 241.3,606.4 241.7,609.6 242.0,610.6 242.4,611.0 242.7,610.2 243.1,609.4 243.4,611.8 243.8,613.7 244.1,614.7 244.4,615.1 244.8,611.9 245.1,615.2 245.5,612.6 245.8,612.8 246.2,611.9 246.5,618.5 246.8,613.6 247.2,614.3 247.5,617.5 247.9,616.1 248.2,617.1 248.6,619.1 248.9,615.7 249.3,619.8 249.6,620.9 249.9,619.6 250.3,617.5 250.6,618.4 251.0,620.5 251.3,618.9 251.7,621.8 252.0,622.5 252.3,622.8 252.7,624.4 253.0,620.6 253.4,620.6 253.7,624.1 254.1,623.6 254.4,624.8 254.8,626.3 255.1,624.3 255.4,625.7 255.8,625.7 256.1,624.6 256.5,625.4 256.8,627.6 257.2,625.9 257.5,626.3 257.8,623.6 258.2,625.9 258.5,627.8 258.8,627.5 258.9,627.9 259.2,628.6 259.6,625.8 259.9,627.6 260.3,626.8 260.6,629.8 260.9,628.1 261.3,625.0 261.6,627.7 262.0,627.2 262.3,627.4 262.7,629.0 263.0,627.4 263.3,629.5 263.7,630.4 264.0,631.8 264.4,631.4 264.7,630.4 265.1,629.5 265.4,629.7 265.8,627.5 266.1,628.2 266.4,632.6 266.8,630.4 267.1,629.4 267.5,629.6 267.8,630.3 268.2,629.4 268.4,633.2 268.5,627.2 268.9,635.3 269.2,630.1 269.5,633.2 269.9,630.4 270.2,629.5 270.6,628.8 270.9,633.0 271.3,631.1 271.6,629.8 271.9,630.3 272.3,629.8 272.6,630.4 273.0,627.9 273.3,632.7 273.7,630.5 274.0,631.0 274.4,627.8 274.7,631.9 275.0,630.8 275.4,631.3 275.7,629.1 276.1,633.6 276.4,626.2 276.8,627.3 277.1,629.7 277.4,626.8 277.8,630.8 277.9,630.8 278.1,627.4 278.5,630.0 278.8,628.5 279.2,629.1 279.5,627.8 279.9,626.6 280.2,629.1 280.5,627.5 280.9,628.5 281.2,624.0 281.6,629.3 281.9,629.3 282.3,625.9 282.6,624.2 282.9,628.2 283.3,627.5 283.6,623.6 284.0,625.2 284.3,624.1 284.7,628.4 285.0,626.5 285.4,628.7 285.7,627.5 286.0,628.2 286.4,626.1 286.7,624.4 287.1,625.2 287.4,624.0 287.5,629.3 287.8,621.1 288.1,609.4 288.2,608.4 288.4,610.5 288.8,605.7 289.1,607.8 289.5,609.8 289.8,607.1 290.2,605.9 290.5,605.5 290.9,605.6 291.2,604.7 291.5,603.9 291.9,606.3 292.2,603.7 292.6,602.6 292.9,603.6 293.3,602.1 293.6,601.3 293.9,603.4 294.3,606.4 294.6,600.4 295.0,602.4 295.1,601.9 295.3,603.5 295.7,598.6 296.0,600.2 296.4,600.5 296.7,600.3 297.0,598.8 297.4,600.0 297.7,599.3 298.1,599.4 298.4,596.7 298.8,599.8 299.1,595.0 299.4,597.8 299.8,593.7 300.1,596.3 300.4,594.2 300.5,594.9 300.8,593.2 301.2,593.5 301.5,596.4 301.9,591.9 302.2,595.4 302.5,594.1 302.9,589.9 303.2,592.8 303.6,594.0 303.9,587.8 304.3,591.4 304.6,593.4 304.9,591.2 305.3,592.5 305.6,587.5 306.0,588.8 306.3,588.6 306.7,589.8 306.9,587.5 307.0,588.4 307.4,585.9 307.7,588.8 308.0,589.9 308.4,586.0" stroke="#1264e6"/>
<path d="M78.5,609.6 78.8,609.0 79.2,609.9 79.5,610.5 79.9,609.8 80.2,611.8 80.6,608.8 80.9,608.9 81.3,610.8 81.6,609.0 81.9,611.1 82.3,611.9 82.6,611.5 83.0,611.7 83.3,609.4 83.7,611.0 84.0,610.0 84.3,609.5 84.7,610.4 85.0,611.1 85.4,610.9 85.7,611.4 86.1,612.4 86.4,608.9 86.8,610.5 87.1,610.7 87.4,612.4 87.8,609.8 88.1,610.3 88.5,609.8 88.8,609.7 89.2,609.5 89.5,609.8 89.8,609.7 90.2,609.2 90.5,610.8 90.9,610.6 91.2,611.5 91.6,611.0 91.9,609.9 92.3,610.0 92.6,609.4 92.9,608.3 93.3,608.9 93.6,608.7 94.0,611.0 94.3,610.7 94.7,609.4 95.0,610.2 95.3,610.9 95.7,609.7 96.0,610.4 96.4,610.0 96.7,610.1 97.1,610.7 97.4,608.5 97.8,608.6 98.1,609.8 98.4,609.0 98.8,611.4 99.1,610.3 99.5,609.9 99.8,610.6 100.2,611.7 100.5,609.3 100.8,611.0 101.2,610.9 101.5,607.8 101.9,608.0 102.2,609.0 102.6,609.4 102.9,610.1 103.3,608.7 103.6,609.2 103.9,607.2 104.3,607.8 104.6,608.8 105.0,609.7 105.3,610.7 105.7,611.3 106.0,609.4 106.3,609.5 106.7,610.6 107.0,610.0 107.4,608.5 107.7,610.8 108.1,611.1 108.4,608.6 108.8,611.7 109.1,609.3 109.4,611.0 109.8,611.5 110.1,609.4 110.5,609.3 110.8,608.5 111.2,610.1 111.5,608.9 111.8,607.8 112.2,610.6 112.5,608.5 112.9,610.2 113.2,610.7 113.6,610.1 113.9,610.2 114.3,609.7 114.4,609.8 114.6,543.2 114.8,472.9 114.9,474.6 115.1,483.2 115.2,491.8 115.3,483.6 115.5,491.5 115.6,499.7 115.7,509.2 115.9,515.8 115.9,509.3 116.0,510.3 116.1,506.1 116.3,516.2 116.4,509.5 116.5,514.6 116.7,516.1 116.8,510.6 116.9,516.9 117.1,507.6 117.2,505.3 117.3,516.7 117.5,517.2 117.6,509.1 117.8,510.1 117.9,502.7 118.0,505.0 118.2,507.4 118.3,506.8 118.4,506.2 118.6,506.9 118.7,520.1 118.8,516.1 119.0,507.0 119.1,510.9 119.2,514.8 119.4,509.3 119.5,517.1 119.6,512.1 119.8,507.7 119.9,518.5 120.0,515.5 120.2,509.2 120.3,509.5 120.4,505.9 120.5,516.2 120.6,505.4 120.7,506.8 120.8,506.7 121.0,504.2 121.1,504.0 121.2,505.0 121.4,516.8 121.5,517.3 121.6,514.9 121.8,508.3 121.9,510.2 122.0,504.5 122.2,510.3 122.3,520.4 122.4,512.5 122.6,510.1 122.7,517.6 122.8,514.3 123.0,511.8 123.1,510.8 123.2,506.1 123.4,512.0 123.5,509.3 123.6,520.7 123.8,511.4 123.9,507.9 124.0,516.2 124.2,518.7 124.3,510.9 124.4,517.9 124.6,512.6 124.7,507.8 124.8,506.2 125.0,510.1 125.1,511.5 125.2,516.0 125.4,517.2 125.5,509.0 125.6,512.7 125.8,502.9 125.9,510.4 126.0,518.3 126.2,513.6 126.2,506.5 126.3,513.4 126.4,512.0 126.6,512.2 126.7,520.0 126.8,509.7 127.0,521.5 127.1,515.9 127.2,513.9 127.4,509.1 127.5,512.4 127.6,517.7 127.8,514.3 127.9,511.9 128.0,513.6 128.2,511.9 128.3,507.7 128.4,506.4 128.6,514.6 128.7,509.5 128.8,509.5 129.0,518.8 129.1,507.8 129.2,521.4 129.4,517.4 129.5,511.8 129.6,522.4 129.8,518.4 129.9,507.9 130.1,499.4 130.2,506.8 130.3,509.8 130.5,510.6 130.6,517.9 130.7,513.9 130.9,512.8 131.0,515.3 131.1,506.7 131.3,511.6 131.4,515.3 131.5,517.0 131.7,513.7 131.8,508.7 131.9,519.5 132.0,512.2 132.1,511.0 132.2,509.8 132.3,515.1 132.5,518.8 132.6,514.5 132.7,515.0 132.9,516.5 133.0,524.9 133.1,506.3 133.3,508.8 133.4,513.8 133.5,518.0 133.7,514.4 133.8,524.3 133.9,514.4 133.9,523.3 134.1,534.0 134.2,532.9 134.3,533.2 134.5,528.3 134.6,539.4 134.7,539.4 135.1,548.2 135.4,559.4 135.8,559.9 136.1,563.4 136.4,566.0 136.8,569.2 137.1,572.3 137.5,575.6 137.8,574.8 138.2,578.7 138.5,584.6 138.9,586.2 139.2,588.3 139.5,594.0 139.9,596.0 140.2,599.2 140.6,597.5 140.9,603.3 141.3,607.1 141.5,607.8 141.6,611.3 142.0,609.9 142.3,613.8 142.6,619.3 143.0,618.1 143.3,621.1 143.7,622.5 144.0,627.2 144.4,630.4 144.6,629.3 144.7,632.7 145.0,630.9 145.4,635.6 145.7,639.5 146.1,638.1 146.4,641.3 146.8,640.8 147.1,643.1 147.5,643.1 147.6,647.3 147.8,648.7 148.1,648.9 148.5,646.8 148.8,648.1 149.2,649.4 149.5,650.1 149.9,651.4 150.2,651.1 150.5,649.8 150.9,655.4 151.2,655.6 151.6,657.3 151.8,659.2 151.9,657.0 152.3,655.0 152.6,657.3 153.0,657.7 153.3,656.6 153.6,659.9 154.0,660.2 154.3,660.9 154.7,659.5 155.0,663.7 155.4,660.6 155.7,663.4 156.0,664.4 156.4,661.9 156.7,660.9 157.1,664.5 157.2,662.9 157.4,665.3 157.8,665.2 158.1,665.6 158.5,664.4 158.8,661.2 159.1,660.8 159.5,662.6 159.8,658.9 160.2,659.9 160.5,659.9 160.9,657.0 161.2,659.5 161.4,657.3 161.5,659.3 161.9,658.0 162.2,655.4 162.6,655.9 162.9,655.3 163.3,651.1 163.6,655.0 164.0,653.9 164.3,652.5 164.6,652.1 165.0,652.6 165.3,647.5 165.7,649.1 166.0,649.1 166.4,646.5 166.7,646.3 166.7,646.8 167.0,645.2 167.4,647.0 167.7,644.6 168.1,645.6 168.4,648.8 168.8,645.1 169.1,645.5 169.5,645.8 169.8,646.4 170.1,643.3 170.5,642.4 170.8,643.6 171.2,640.6 171.5,641.1 171.9,640.9 172.2,637.8 172.5,641.0 172.9,638.0 172.9,638.3 173.2,638.8 173.6,640.5 173.9,637.5 174.3,639.2 174.6,640.9 175.0,637.0 175.3,638.7 175.6,637.0 176.0,635.2 176.3,639.0 176.7,637.5 177.0,637.0 177.4,635.4 177.7,637.7 178.0,634.2 178.4,635.1 178.7,634.2 179.1,634.4 179.4,636.2 179.8,638.3 180.1,636.9 180.5,638.5 180.8,634.9 181.1,634.6 181.3,637.3 181.5,637.9 181.8,633.0 182.2,636.2 182.5,630.5 182.9,636.4 183.2,633.9 183.6,636.2 183.9,635.6 184.2,631.1 184.6,631.9 184.9,632.0 185.3,634.3 185.6,634.7 186.0,633.1 186.3,632.6 186.6,635.2 187.0,631.4 187.3,631.0 187.7,633.7 188.0,631.7 188.4,633.6 188.7,630.0 189.1,634.6 189.4,633.4 189.7,629.9 190.1,630.0 190.4,632.8 190.8,632.4 191.1,629.5 191.5,632.7 191.8,631.7 192.1,631.8 192.5,629.1 192.8,628.9 193.2,628.7 193.5,631.6 193.9,628.6 194.2,630.3 194.6,629.6 194.9,629.1 195.2,629.5 195.6,627.2 195.9,626.8 196.3,626.8 196.6,627.2 197.0,622.8 197.3,624.2 197.6,622.1 198.0,623.9 198.3,624.6 198.7,622.4 199.0,621.6 199.2,621.4 199.4,622.8 199.7,619.5 200.1,620.9 200.4,618.4 200.7,622.3 201.1,618.1 201.4,621.3 201.8,621.2 202.1,620.5 202.5,622.3 202.8,619.3 203.1,621.6 203.5,618.4 203.8,621.1 204.2,620.4 204.5,620.2 204.9,621.5 205.2,619.9 205.6,619.8 205.9,617.9 206.2,616.1 206.6,620.7 206.9,619.8 207.3,615.7 207.6,614.9 208.0,618.9 208.3,615.7 208.4,618.4 208.6,617.9 209.0,615.7 209.3,614.3 209.7,619.0 210.0,615.1 210.4,616.8 210.7,614.9 211.1,616.9 211.4,615.1 211.7,616.3 212.1,617.0 212.4,615.8 212.8,615.7 213.1,616.2 213.5,614.6 213.8,613.4 214.1,615.3 214.5,617.9 214.8,614.8 215.2,617.3 215.5,617.3 215.9,615.2 216.2,617.2 216.6,617.1 216.9,616.9 217.2,616.7 217.6,617.8 217.9,614.2 218.3,615.6 218.6,613.5 219.0,615.6 219.3,617.2 219.6,612.9 220.0,615.0 220.3,612.7 220.7,614.8 221.0,614.9 221.4,612.3 221.7,615.5 222.1,613.9 222.4,616.5 222.7,613.1 222.9,616.2 223.1,616.1 223.4,613.1 223.8,613.3 224.1,615.1 224.5,616.7 224.8,616.8 225.1,614.0 225.5,617.9 225.8,614.7 226.2,614.0 226.5,617.8 226.9,614.0 227.2,615.3 227.6,614.7 227.9,619.0 228.2,618.3 228.6,616.1 228.9,615.5 229.3,615.9 229.6,616.0 230.0,621.2 230.3,617.2 230.7,619.6 231.0,619.6 231.3,613.4 231.7,615.7 232.0,620.9 232.4,620.4 232.7,619.9 233.1,616.7 233.4,617.8 233.7,620.0 234.1,616.0 234.4,617.5 234.4,621.2 234.8,616.9 235.1,621.7 235.5,616.4 235.8,619.4 236.2,617.2 236.5,617.3 236.8,616.8 237.2,617.6 237.5,619.4 237.9,618.6 238.2,617.6 238.6,618.0 238.9,620.9 239.2,620.6 239.6,621.2 239.9,621.9 240.3,619.7 240.6,625.9 241.0,619.8 241.3,619.9 241.7,619.5 242.0,622.0 242.3,620.3 242.7,621.1 243.0,624.0 243.4,619.9 243.7,620.0 244.1,620.4 244.4,623.0 244.7,622.1 245.1,624.3 245.4,621.5 245.8,621.0 246.1,619.1 246.5,617.7 246.8,621.5 247.2,621.7 247.5,619.0 247.8,620.9 248.2,621.6 248.5,622.4 248.9,620.7 249.2,622.0 249.6,624.0 249.9,618.3 250.2,622.9 250.6,621.4 250.9,623.7 251.3,623.7 251.6,622.3 252.0,623.0 252.3,623.6 252.7,622.3 253.0,620.7 253.3,619.7 253.7,618.7 254.0,621.1 254.4,620.3 254.7,621.1 255.1,619.4 255.4,621.4 255.7,621.6 256.1,620.1 256.4,618.5 256.8,619.1 256.9,618.4 257.1,620.8 257.5,620.6 257.8,621.3 258.2,617.8 258.5,620.3 258.8,618.3 259.2,622.1 259.5,619.7 259.9,622.6 260.2,622.7 260.6,620.8 260.9,624.1 261.2,623.3 261.6,622.6 261.9,624.4 262.3,623.9 262.6,625.1 263.0,621.7 263.3,622.1 263.7,625.5 264.0,622.8 264.3,622.1 264.7,623.3 265.0,623.3 265.4,623.9 265.7,627.5 266.1,625.7 266.4,627.5 266.4,623.1 266.7,624.8 267.1,627.0 267.4,625.1 267.8,628.6 268.1,625.8 268.5,625.9 268.8,623.6 269.2,625.6 269.5,627.3 269.8,628.0 270.2,627.3 270.5,628.2 270.9,627.5 271.2,628.3 271.6,629.2 271.9,626.2 272.3,628.9 272.6,630.0 272.9,629.8 273.3,627.0 273.6,626.0 274.0,629.8 274.3,627.6 274.7,628.4 275.0,626.5 275.3,630.5 275.7,629.4 276.0,631.0 276.0,628.7 276.4,627.7 276.7,629.6 277.1,628.2 277.4,630.1 277.8,630.0 278.1,630.6 278.4,630.0 278.8,631.5 279.1,628.3 279.5,627.7 279.8,632.2 280.2,633.3 280.5,629.3 280.8,632.8 281.2,631.3 281.5,630.1 281.9,630.4 282.2,629.4 282.6,631.0 282.9,631.3 283.3,631.0 283.6,634.1 283.6,632.0 283.9,629.6 284.3,634.2 284.6,633.1 285.0,630.3 285.3,631.3 285.7,632.8 286.0,633.1 286.3,632.5 286.7,632.0 287.0,630.2 287.4,628.2 287.7,631.1 288.1,630.3 288.4,632.1 288.8,627.9 289.1,628.5 289.4,628.1 289.8,629.7 290.1,626.7 290.5,629.9 290.8,626.4 291.2,627.9 291.3,627.2 291.5,626.4 291.8,628.6 292.2,626.4 292.5,629.1 292.9,625.4 293.2,627.9 293.6,627.7 293.9,624.2 294.3,627.2 294.6,630.4 294.9,629.7 295.3,625.2 295.6,629.7 296.0,628.9 296.3,626.7 296.7,624.2 297.0,623.0 297.3,627.1 297.7,627.0 298.0,624.7 298.4,627.3 298.5,626.6 298.7,628.0 299.1,625.8 299.4,627.4 299.8,626.5 300.1,624.2 300.4,624.2 300.8,623.5 301.1,625.6 301.5,625.5 301.8,623.7 302.2,625.8 302.4,623.7 302.5,622.2 302.8,622.8 303.2,624.0 303.5,621.8 303.9,623.7 304.2,626.7 304.6,624.9 304.9,624.1 305.3,623.5 305.6,628.6 305.9,626.3 306.3,626.1 306.6,625.4 306.9,624.5 307.0,622.7 307.3,628.7 307.7,623.9 308.0,628.0 308.3,626.7" stroke="#ff7a00"/>
<path d="M78.5,607.0 78.8,609.9 79.2,607.6 79.5,607.5 79.9,607.0 80.2,606.6 80.6,607.1 80.9,609.1 81.3,609.8 81.6,609.7 81.9,608.1 82.3,606.4 82.6,609.1 83.0,605.3 83.3,608.3 83.7,606.6 84.0,608.0 84.3,607.6 84.7,609.0 85.0,609.6 85.4,609.9 85.7,608.7 86.1,609.7 86.4,607.0 86.8,608.8 87.1,605.5 87.4,606.9 87.8,608.2 88.1,607.6 88.5,609.0 88.8,609.8 89.2,607.1 89.5,608.6 89.8,609.3 90.2,607.9 90.5,607.4 90.9,606.6 91.2,607.6 91.6,607.8 91.9,608.8 92.3,609.8 92.6,608.9 92.9,607.3 93.3,607.4 93.6,609.7 94.0,608.3 94.3,608.5 94.7,608.1 95.0,610.6 95.3,609.6 95.7,608.4 96.0,610.0 96.4,606.5 96.7,608.9 97.1,609.3 97.4,606.6 97.8,606.7 98.1,606.4 98.4,608.3 98.8,607.4 99.1,609.0 99.5,608.5 99.8,607.7 100.2,608.5 100.5,609.8 100.8,607.7 101.2,609.3 101.5,609.3 101.9,608.8 102.2,608.2 102.6,608.7 102.9,607.4 103.3,606.9 103.6,609.2 103.9,609.3 104.1,603.8 104.3,570.6 104.4,550.7 104.5,540.4 104.6,536.8 104.7,530.2 104.8,533.5 105.0,536.2 105.1,528.6 105.2,529.4 105.4,525.8 105.5,532.0 105.6,522.7 105.8,521.9 105.9,522.5 106.0,518.6 106.2,526.7 106.3,523.0 106.4,513.4 106.6,517.8 106.7,509.7 106.8,512.4 106.8,513.5 107.0,515.8 107.1,522.8 107.2,520.3 107.4,511.4 107.5,515.6 107.6,524.2 107.8,521.4 107.9,522.2 108.0,520.8 108.2,531.1 108.3,532.9 108.4,530.8 108.6,530.9 108.7,534.4 108.7,527.6 108.8,526.0 109.0,527.3 109.1,530.3 109.4,518.8 109.8,517.7 110.1,508.7 110.2,507.6 110.5,509.9 110.8,512.9 111.2,512.3 111.5,507.7 111.7,506.8 111.8,505.5 112.2,506.3 112.5,501.8 112.9,506.2 113.2,505.7 113.6,503.9 113.9,510.5 114.3,505.8 114.6,503.9 114.8,502.5 114.9,509.7 115.3,505.7 115.6,507.1 116.0,508.3 116.3,506.6 116.7,508.1 117.0,514.1 117.3,511.2 117.5,511.2 117.7,511.8 118.0,508.6 118.4,513.7 118.7,517.0 119.1,513.9 119.4,516.9 119.8,520.7 120.1,516.0 120.4,515.6 120.8,525.4 121.1,520.2 121.5,523.3 121.8,523.2 122.2,530.3 122.4,528.3 122.5,529.9 122.9,526.7 123.2,526.0 123.5,530.1 123.9,529.6 124.2,529.9 124.6,536.2 124.9,536.1 125.3,535.4 125.6,536.9 125.9,537.3 126.3,537.0 126.6,541.4 127.0,541.0 127.3,542.8 127.7,545.2 128.0,545.3 128.4,541.7 128.7,544.3 129.0,545.2 129.4,547.7 129.7,553.8 130.1,548.3 130.4,547.8 130.8,550.2 130.8,551.4 131.1,549.2 131.4,550.5 131.8,554.8 132.1,552.4 132.5,556.7 132.8,553.2 133.2,556.2 133.5,558.6 133.9,557.1 134.2,560.3 134.5,559.0 134.9,564.8 135.2,566.6 135.6,562.5 135.9,566.7 136.3,566.2 136.6,568.5 136.9,568.7 137.3,569.2 137.3,570.8 137.6,569.1 138.0,567.8 138.3,568.0 138.7,568.0 139.0,571.8 139.4,572.2 139.7,575.1 140.0,572.8 140.4,570.8 140.7,573.1 141.1,572.4 141.4,574.4 141.8,579.6 142.1,578.2 142.4,575.6 142.8,581.8 143.1,577.6 143.5,581.7 143.8,581.6 144.2,582.9 144.5,582.6 144.9,584.4 145.2,584.0 145.5,584.6 145.7,582.4 145.9,586.1 146.2,587.1 146.6,586.1 146.9,584.2 147.3,588.6 147.6,590.2 147.9,590.7 148.3,588.2 148.6,589.7 149.0,594.7 149.3,594.5 149.7,595.6 150.0,598.1 150.4,592.9 150.7,598.5 151.0,600.5 151.4,601.2 151.7,598.2 151.8,600.9 152.1,603.0 152.4,605.0 152.8,600.7 153.1,605.8 153.4,606.8 153.8,609.2 154.1,607.8 154.5,616.1 154.8,616.2 155.2,614.3 155.5,615.3 155.9,618.5 156.0,623.2 156.2,619.1 156.5,625.6 156.9,623.3 157.2,625.5 157.6,626.7 157.9,626.8 158.3,630.0 158.6,632.6 158.9,633.1 159.3,632.5 159.6,634.2 160.0,637.1 160.2,637.9 160.3,638.2 160.7,640.1 161.0,642.4 161.4,640.0 161.7,644.6 162.0,643.3 162.4,639.9 162.7,640.6 163.1,644.1 163.4,646.7 163.8,646.4 164.1,647.0 164.5,648.1 164.8,646.7 165.1,650.6 165.5,646.3 165.8,647.7 166.2,647.1 166.5,652.1 166.7,649.7 166.9,653.6 167.2,651.1 167.5,653.7 167.9,650.5 168.2,650.9 168.6,650.7 168.9,655.1 169.3,648.6 169.6,651.3 170.0,656.6 170.3,652.3 170.6,656.6 171.0,655.6 171.3,654.1 171.7,656.3 172.0,656.1 172.4,653.6 172.7,657.2 172.9,655.6 173.0,656.6 173.4,656.7 173.7,660.4 174.1,658.9 174.4,659.2 174.8,662.2 175.1,660.3 175.5,659.6 175.8,663.0 175.9,664.9 176.1,660.3 176.5,663.1 176.8,659.1 177.2,660.5 177.5,661.0 177.9,658.4 178.2,661.6 178.5,656.7 178.9,658.3 179.2,659.4 179.6,660.0 179.9,660.6 180.3,659.4 180.6,657.6 181.0,652.8 181.3,652.1 181.3,654.5 181.6,655.5 182.0,651.2 182.3,649.7 182.7,653.1 183.0,652.2 183.4,649.4 183.7,647.0 184.0,649.2 184.4,647.9 184.7,646.1 185.1,649.1 185.4,644.0 185.8,645.9 186.1,645.8 186.5,645.0 186.8,642.0 187.1,640.9 187.5,642.3 187.8,643.7 187.8,644.2 188.2,642.4 188.5,642.6 188.9,639.4 189.2,638.1 189.5,637.9 189.9,641.4 190.2,637.0 190.6,636.2 190.9,639.2 191.3,637.1 191.6,635.4 192.0,635.4 192.3,636.4 192.6,636.2 193.0,635.3 193.3,636.5 193.7,635.3 193.9,635.4 194.0,630.1 194.4,635.6 194.7,634.8 195.0,634.8 195.4,631.2 195.7,633.8 196.1,630.3 196.4,630.4 196.8,632.4 197.1,629.0 197.5,629.0 197.8,630.6 198.1,631.5 198.5,631.5 198.8,627.7 199.2,626.1 199.5,626.7 199.9,628.0 200.2,630.1 200.5,626.4 200.9,627.3 201.2,626.0 201.6,625.6 201.9,626.0 202.3,623.7 202.6,625.0 203.0,619.8 203.3,622.3 203.6,625.5 204.0,623.2 204.3,621.9 204.7,622.9 205.0,621.3 205.4,620.0 205.7,619.9 206.0,621.4 206.4,618.2 206.7,619.0 207.1,620.2 207.4,617.4 207.8,618.3 208.1,617.4 208.4,620.7 208.5,620.9 208.8,617.4 209.1,617.3 209.5,618.4 209.8,618.0 210.2,613.0 210.5,614.7 210.9,612.0 211.2,612.4 211.4,614.1 211.6,613.9 211.9,614.5 212.2,615.9 212.6,610.7 212.9,615.7 213.3,614.1 213.6,611.8 214.0,613.4 214.3,614.1 214.6,612.5 215.0,611.0 215.3,610.4 215.7,614.5 216.0,611.2 216.4,611.6 216.7,613.9 217.1,613.3 217.4,613.6 217.7,610.8 218.1,613.4 218.4,612.8 218.8,614.5 219.1,612.3 219.5,612.9 219.8,612.2 220.1,611.2 220.5,610.1 220.8,612.9 221.2,609.0 221.5,608.9 221.9,613.4 222.2,611.3 222.6,609.6 222.9,609.4 223.2,611.8 223.6,611.0 223.9,611.6 224.3,611.6 224.6,607.7 225.0,611.2 225.3,612.4 225.6,608.6 226.0,610.9 226.3,609.7 226.7,613.5 227.0,610.5 227.4,609.5 227.7,611.1 228.1,611.7 228.4,608.9 228.7,610.6 229.1,609.6 229.4,609.4 229.8,614.9 230.1,612.5 230.5,616.5 230.8,614.1 231.1,612.6 231.5,611.4 231.8,612.5 232.2,615.2 232.5,615.4 232.9,611.6 233.2,615.4 233.6,616.1 233.9,615.7 234.2,611.5 234.4,611.6 234.6,614.5 234.9,610.5 235.3,610.6 235.6,613.9 236.0,613.1 236.3,615.2 236.6,611.4 237.0,612.7 237.3,609.7 237.7,615.3 238.0,612.9 238.4,613.6 238.7,612.8 239.1,616.3 239.4,612.9 239.7,615.1 240.1,614.5 240.4,615.9 240.8,615.5 241.1,615.4 241.5,616.9 241.8,617.7 242.1,613.7 242.5,616.7 242.8,616.5 243.2,615.6 243.5,616.4 243.9,614.8 244.2,618.5 244.6,616.4 244.9,614.3 245.2,617.1 245.4,615.7 245.6,618.1 245.9,615.1 246.3,617.0 246.6,617.5 247.0,618.0 247.3,621.5 247.6,615.6 248.0,618.0 248.3,617.5 248.7,621.4 249.0,616.8 249.4,619.4 249.7,622.5 250.1,619.2 250.4,621.7 250.7,619.3 251.1,618.4 251.4,620.3 251.8,620.5 252.1,621.2 252.5,621.7 252.8,622.1 253.2,622.3 253.5,623.2 253.8,620.2 254.2,623.4 254.5,622.0 254.9,625.0 255.0,624.1 255.2,625.0 255.6,624.9 255.9,623.1 256.2,622.6 256.6,622.3 256.9,623.7 257.3,623.9 257.6,625.4 258.0,624.4 258.3,622.8 258.7,623.4 259.0,622.2 259.3,627.2 259.7,621.6 260.0,622.1 260.4,625.9 260.7,626.7 261.1,626.3 261.4,624.7 261.7,626.7 262.1,625.3 262.4,622.1 262.8,623.2 263.1,624.2 263.5,628.4 263.8,628.9 264.2,627.6 264.5,628.0 264.5,625.9 264.8,624.5 265.2,630.0 265.5,629.5 265.9,627.4 266.2,627.3 266.6,627.1 266.9,625.4 267.2,625.5 267.6,624.8 267.9,625.9 268.3,627.6 268.6,628.8 269.0,627.0 269.3,629.4 269.7,627.0 270.0,630.8 270.3,629.2 270.7,629.0 271.0,627.1 271.4,626.9 271.7,631.3 272.1,631.5 272.4,628.1 272.7,627.1 273.1,629.6 273.4,630.1 273.8,631.0 274.1,628.7 274.5,630.9 274.8,628.9 275.2,628.4 275.5,626.4 275.8,630.9 276.0,626.3 276.2,630.8 276.5,627.5 276.9,630.2 277.2,631.3 277.6,626.6 277.9,629.8 278.2,630.6 278.6,632.0 278.9,632.3 279.3,631.7 279.6,631.6 280.0,632.9 280.3,627.1 280.7,627.1 281.0,630.3 281.3,628.0 281.7,627.6 282.0,627.5 282.4,630.7 282.7,630.6 283.1,628.2 283.4,628.5 283.7,631.7 284.1,630.4 284.4,632.5 284.8,627.5 285.1,628.4 285.5,630.4 285.8,629.9 286.2,628.5 286.5,631.2 286.8,628.7 287.2,630.3 287.5,629.0 287.5,628.3 287.9,632.3 288.2,631.8 288.6,628.8 288.9,629.5 289.2,631.6 289.6,628.6 289.9,628.1 290.3,629.4 290.6,631.7 291.0,627.6 291.3,631.4 291.7,628.3 292.0,629.8 292.3,627.1 292.7,629.0 293.0,627.1 293.4,625.8 293.7,629.8 294.1,629.4 294.4,629.6 294.8,626.0 295.1,627.5 295.4,626.1 295.8,622.4 296.1,621.7 296.5,620.9 296.8,618.9 297.2,620.7 297.5,618.7 297.8,617.1 297.8,613.8 298.2,614.6 298.5,610.7 298.9,614.3 299.2,611.3 299.6,610.4 299.9,610.5 300.3,608.3 300.6,610.5 300.9,609.6 301.3,606.6 301.6,610.0 302.0,604.7 302.3,604.3 302.4,604.4 302.7,604.1 303.0,606.0 303.3,604.2 303.7,604.7 304.0,604.1 304.4,603.4 304.7,602.5 305.1,597.8 305.4,598.9 305.8,597.8 306.1,600.5 306.4,600.0 306.8,597.9 306.9,598.2 307.1,598.7 307.5,596.1 307.8,596.9 308.2,597.6" stroke="#ec0c16"/>
<path d="M78.5,611.2 78.8,611.5 79.2,611.0 79.5,608.6 79.9,609.1 80.2,609.2 80.6,608.2 80.9,609.0 81.3,608.6 81.6,610.3 81.9,608.8 82.3,609.7 82.6,609.1 83.0,607.4 83.3,611.5 83.7,609.3 84.0,609.1 84.3,608.9 84.7,610.5 85.0,611.5 85.4,609.0 85.7,609.3 86.1,609.9 86.4,608.5 86.8,610.6 87.1,608.4 87.4,608.3 87.8,609.3 88.1,610.8 88.5,610.4 88.8,608.8 89.2,609.8 89.5,610.4 89.8,610.6 90.2,608.0 90.5,610.7 90.9,609.6 91.2,610.2 91.6,611.2 91.9,609.7 92.3,608.9 92.6,608.8 92.9,610.1 93.3,609.4 93.6,610.0 94.0,609.1 94.3,610.8 94.7,611.7 95.0,609.3 95.3,610.1 95.7,610.2 96.0,610.4 96.4,608.3 96.7,609.3 97.1,609.9 97.4,610.1 97.8,610.5 98.1,609.7 98.4,608.8 98.8,609.3 99.1,609.8 99.5,611.4 99.8,609.0 100.2,609.8 100.5,611.1 100.8,609.7 101.2,609.0 101.5,609.2 101.9,608.2 102.2,608.6 102.6,611.4 102.9,608.5 103.3,610.9 103.6,609.6 103.9,610.1 104.3,607.9 104.6,608.6 105.0,609.2 105.3,609.0 105.7,609.9 106.0,609.4 106.3,609.2 106.7,610.6 107.0,611.2 107.4,611.1 107.7,607.6 108.1,609.6 108.4,611.4 108.8,608.7 109.1,611.5 109.1,608.7 109.4,610.3 109.8,608.9 110.1,611.1 110.5,609.4 110.8,612.5 111.2,613.5 111.5,615.5 111.8,611.4 112.2,611.3 112.5,612.9 112.9,612.0 113.2,613.0 113.6,617.6 113.9,625.2 114.0,627.7 114.3,587.5 114.6,535.2 114.8,501.6 114.9,501.6 115.1,506.6 115.2,495.4 115.3,500.8 115.5,502.5 115.6,515.0 115.7,527.5 115.9,507.5 116.0,531.5 116.1,519.9 116.3,532.4 116.3,538.8 116.4,509.6 116.5,529.4 116.7,515.0 116.8,544.8 116.9,549.1 117.1,522.7 117.2,532.7 117.3,535.5 117.5,525.0 117.6,518.8 117.8,530.4 117.9,505.3 118.0,517.2 118.2,504.3 118.2,515.4 118.3,510.9 118.4,525.3 118.6,528.9 118.7,501.9 118.8,512.6 119.0,508.1 119.1,514.5 119.2,511.2 119.4,501.3 119.5,509.0 119.6,510.6 119.8,492.9 119.9,497.6 120.0,496.3 120.2,499.7 120.3,495.4 120.4,511.8 120.5,520.4 120.6,497.0 120.7,512.2 120.8,520.1 121.0,503.3 121.1,521.7 121.2,519.7 121.4,491.5 121.5,510.5 121.6,515.4 121.8,525.1 121.9,502.1 122.0,519.5 122.2,518.9 122.3,508.2 122.4,518.7 122.6,498.3 122.7,524.1 122.8,492.4 123.0,523.0 123.1,509.0 123.2,502.7 123.4,514.0 123.5,485.0 123.6,512.9 123.8,502.7 123.9,490.0 124.0,513.7 124.2,491.8 124.3,502.0 124.4,495.1 124.6,494.5 124.7,518.5 124.8,507.2 125.0,505.4 125.1,505.8 125.2,504.9 125.4,518.3 125.5,512.3 125.6,490.0 125.8,504.0 125.9,504.5 126.0,503.7 126.2,504.3 126.2,504.0 126.3,520.0 126.4,517.4 126.6,503.1 126.7,526.5 126.8,522.1 127.0,494.7 127.1,511.7 127.2,518.9 127.4,505.6 127.5,517.3 127.6,498.5 127.8,510.6 127.9,505.3 128.0,500.8 128.2,509.4 128.3,508.0 128.4,517.1 128.6,517.5 128.7,510.9 128.8,509.3 129.0,507.0 129.1,488.8 129.2,510.8 129.4,519.1 129.5,506.2 129.6,513.1 129.8,516.6 129.9,499.6 130.1,501.1 130.2,526.6 130.3,522.6 130.5,498.1 130.6,505.6 130.7,511.6 130.9,526.0 131.0,513.0 131.1,517.6 131.3,511.5 131.4,491.0 131.5,507.6 131.7,520.0 131.8,523.8 131.9,514.5 132.0,527.2 132.1,513.0 132.2,501.1 132.3,532.6 132.5,526.1 132.6,507.6 132.7,535.1 132.9,533.6 133.0,504.6 133.1,507.1 133.3,521.9 133.4,504.6 133.5,525.2 133.7,526.8 133.8,538.9 133.9,536.3 134.1,537.2 134.2,536.6 134.3,516.1 134.5,534.6 134.6,522.2 134.7,525.4 134.7,529.5 135.1,537.1 135.4,551.2 135.8,564.1 135.8,561.6 136.1,566.0 136.4,569.0 136.8,572.2 137.1,569.8 137.5,572.8 137.8,575.6 138.2,579.3 138.5,583.3 138.9,586.6 139.2,588.7 139.5,588.9 139.9,594.2 140.2,596.9 140.6,597.1 140.9,598.1 141.3,604.7 141.5,601.6 141.6,601.5 142.0,606.2 142.3,609.7 142.6,613.7 143.0,612.9 143.3,616.0 143.7,616.6 144.0,619.5 144.4,625.3 144.6,626.1 144.7,622.1 145.0,623.6 145.4,627.3 145.7,622.8 146.1,624.6 146.4,628.5 146.8,625.9 147.1,624.4 147.5,627.7 147.8,627.2 148.1,629.3 148.5,627.1 148.8,630.9 148.8,629.4 149.2,631.3 149.5,634.4 149.9,633.0 150.2,636.8 150.5,635.2 150.9,636.9 151.2,641.6 151.6,640.1 151.8,641.7 151.9,643.9 152.3,639.7 152.6,642.9 153.0,641.9 153.3,643.9 153.6,642.0 154.0,644.2 154.3,644.0 154.7,645.5 155.0,646.4 155.4,646.4 155.7,645.3 156.0,645.5 156.4,648.2 156.7,649.4 157.1,647.0 157.4,647.8 157.8,650.6 158.1,648.1 158.3,650.0 158.5,647.7 158.8,649.6 159.1,650.3 159.5,651.3 159.8,649.7 160.2,651.1 160.5,651.1 160.9,646.0 161.2,649.5 161.5,646.1 161.9,647.5 162.2,645.8 162.5,647.3 162.6,643.8 162.9,645.0 163.3,641.8 163.6,642.7 164.0,640.3 164.3,639.8 164.6,640.3 165.0,636.4 165.3,637.7 165.7,636.6 166.0,633.8 166.4,634.8 166.7,631.5 166.7,632.8 167.0,634.3 167.4,634.5 167.7,634.7 168.1,635.0 168.4,635.0 168.8,633.2 169.1,633.3 169.5,629.9 169.8,632.3 170.1,633.8 170.5,631.3 170.8,631.9 171.2,631.8 171.5,631.5 171.9,632.1 172.2,627.2 172.5,628.4 172.9,631.6 172.9,631.1 173.2,628.2 173.6,626.5 173.9,627.5 174.3,629.1 174.6,630.0 175.0,626.3 175.3,632.7 175.6,627.9 176.0,626.4 176.3,629.8 176.7,626.4 177.0,624.9 177.4,628.5 177.7,629.0 178.0,625.9 178.4,624.4 178.7,627.0 179.1,623.7 179.4,624.9 179.8,626.2 180.1,622.2 180.5,625.9 180.8,623.0 181.1,624.9 181.3,622.1 181.5,624.9 181.8,626.7 182.2,623.6 182.5,627.0 182.9,626.6 183.2,626.4 183.6,625.7 183.9,623.6 184.2,626.8 184.6,622.7 184.9,626.4 185.3,625.0 185.6,627.4 186.0,623.6 186.3,622.7 186.6,625.8 187.0,621.9 187.3,621.0 187.7,624.3 188.0,623.8 188.4,624.3 188.7,621.0 189.1,625.2 189.4,621.8 189.7,622.2 189.7,625.0 190.1,622.6 190.4,620.3 190.8,621.1 191.1,619.9 191.5,620.5 191.8,621.6 192.1,622.7 192.5,621.3 192.8,619.0 193.2,620.4 193.5,622.0 193.9,617.9 194.2,621.5 194.6,621.2 194.9,620.2 195.2,617.1 195.6,619.0 195.9,619.0 196.3,615.1 196.6,615.9 197.0,615.8 197.3,613.6 197.6,613.8 198.0,615.7 198.1,613.9 198.3,617.5 198.7,613.1 199.0,612.8 199.4,616.3 199.7,612.8 200.1,613.9 200.4,613.9 200.7,614.2 201.1,613.7 201.4,614.2 201.8,614.1 202.1,612.3 202.5,611.1 202.8,615.4 203.1,615.5 203.5,612.8 203.8,610.4 204.2,612.2 204.5,610.0 204.9,611.9 205.2,613.0 205.6,609.6 205.9,613.4 206.2,612.5 206.6,609.9 206.9,611.5 207.3,612.4 207.6,610.4 208.0,612.0 208.3,610.3 208.4,613.0 208.6,609.9 209.0,610.9 209.3,613.9 209.7,608.6 210.0,612.8 210.4,612.6 210.7,608.8 211.1,610.8 211.4,609.2 211.4,611.5 211.7,609.7 212.1,607.4 212.4,609.0 212.8,606.6 213.1,610.0 213.5,610.9 213.8,606.5 214.1,608.7 214.5,610.8 214.8,610.5 215.2,609.8 215.5,606.4 215.9,608.6 216.2,606.8 216.6,611.4 216.9,607.8 217.2,607.2 217.6,606.4 217.9,606.4 218.3,609.3 218.6,607.3 219.0,610.7 219.3,606.4 219.6,609.3 220.0,608.5 220.3,607.6 220.7,609.4 221.0,607.6 221.4,606.5 221.7,609.0 222.1,608.7 222.4,606.2 222.7,609.5 223.1,610.6 223.4,609.6 223.8,607.8 224.1,605.7 224.5,609.6 224.8,607.2 225.1,608.9 225.5,608.4 225.8,604.8 226.2,606.8 226.5,604.9 226.9,606.9 227.2,607.3 227.6,605.5 227.9,609.7 228.2,606.2 228.6,609.4 228.9,609.1 229.3,610.1 229.6,608.3 230.0,608.9 230.3,608.0 230.7,607.3 231.0,608.5 231.3,610.6 231.7,610.4 232.0,608.2 232.4,609.5 232.7,608.1 233.1,603.8 233.4,606.8 233.7,606.4 234.1,605.8 234.4,609.7 234.4,608.5 234.8,610.9 235.1,608.5 235.5,609.4 235.8,609.8 236.2,606.6 236.5,607.9 236.8,610.4 237.2,611.9 237.5,607.4 237.9,606.7 238.2,611.0 238.6,608.3 238.9,608.1 239.2,611.1 239.6,611.3 239.9,608.9 240.3,607.9 240.6,607.2 241.0,607.9 241.3,611.6 241.7,608.5 242.0,611.6 242.3,611.4 242.7,609.5 243.0,609.8 243.4,607.6 243.7,610.5 244.1,609.2 244.4,611.9 244.7,608.1 245.1,611.4 245.4,608.9 245.8,608.0 246.1,610.8 246.5,607.6 246.8,612.6 247.2,609.7 247.5,608.6 247.8,609.1 248.2,609.2 248.5,608.8 248.9,608.7 249.2,608.0 249.6,610.2 249.9,611.2 250.2,607.6 250.6,611.1 250.9,609.2 251.3,609.6 251.6,610.4 252.0,610.0 252.3,610.9 252.7,609.8 253.0,607.0 253.3,608.6 253.7,607.6 254.0,608.2 254.4,608.0 254.7,609.7 255.0,606.8 255.1,608.4 255.4,608.4 255.7,611.8 256.1,607.6 256.4,609.0 256.8,607.9 257.1,611.3 257.5,611.0 257.8,613.0 258.2,609.3 258.5,610.2 258.8,608.5 259.2,613.4 259.5,611.8 259.9,609.9 260.2,609.5 260.6,611.5 260.9,613.2 261.2,609.6 261.6,612.1 261.9,610.8 262.3,610.6 262.6,610.7 263.0,614.6 263.3,613.2 263.7,611.8 264.0,611.0 264.3,613.1 264.5,613.0 264.7,614.3 265.0,614.1 265.4,612.2 265.7,616.6 266.1,611.9 266.4,616.7 266.7,616.2 267.1,615.7 267.4,615.1 267.8,611.3 268.1,614.2 268.5,616.1 268.8,614.8 269.2,615.3 269.5,614.6 269.8,615.4 270.2,615.3 270.5,616.0 270.9,619.6 271.2,619.5 271.6,615.1 271.9,616.3 272.3,620.1 272.6,616.5 272.9,618.8 273.3,619.0 273.6,617.8 274.0,617.3 274.1,617.1 274.3,618.8 274.7,619.7 275.0,618.1 275.3,617.5 275.7,621.0 276.0,621.1 276.4,621.9 276.7,622.5 277.1,618.6 277.4,622.1 277.8,618.5 278.1,622.8 278.4,620.3 278.8,620.1 279.1,622.5 279.5,621.6 279.8,622.2 280.2,621.5 280.5,624.3 280.8,620.6 281.2,621.1 281.5,623.0 281.7,625.1 281.9,620.2 282.2,623.4 282.6,621.6 282.9,620.2 283.3,622.6 283.6,620.9 283.9,625.0 284.3,624.1 284.6,620.3 285.0,624.2 285.3,621.9 285.7,623.5 286.0,624.3 286.3,624.2 286.7,624.9 287.0,620.2 287.4,624.0 287.7,620.5 288.1,622.9 288.4,622.1 288.8,622.7 289.1,623.4 289.4,621.2 289.4,622.1 289.8,621.4 290.1,621.0 290.5,619.6 290.8,621.3 291.2,620.4 291.5,620.6 291.8,624.2 292.2,623.1 292.5,620.9 292.9,620.9 293.2,621.4 293.6,621.9 293.9,619.6 294.3,618.7 294.6,622.7 294.9,620.7 295.3,621.5 295.6,621.6 296.0,619.2 296.3,622.4 296.7,622.6 297.0,620.1 297.3,618.4 297.7,619.0 298.0,619.7 298.4,618.7 298.7,618.6 299.1,619.7 299.4,615.1 299.8,618.5 300.1,618.6 300.4,617.4 300.8,615.8 301.1,614.8 301.5,612.5 301.6,617.2 301.8,613.8 302.2,612.8 302.5,615.5 302.8,614.6 303.2,617.8 303.5,615.3 303.9,616.5 304.2,614.7 304.6,614.5 304.9,618.0 305.3,614.2 305.6,617.1 305.9,616.1 306.3,616.5 306.6,618.8 306.9,620.2 307.0,618.9 307.3,621.2 307.7,620.6 308.0,621.5 308.3,619.4" stroke="#20c87a"/>
</g>
<path d="M59.4,667.4v-4.5M59.4,475.4v4.5M78.5,667.4v-2.5M78.5,475.4v2.5M97.6,667.4v-4.5M97.6,475.4v4.5M116.7,667.4v-2.5M116.7,475.4v2.5M135.8,667.4v-4.5M135.8,475.4v4.5M154.9,667.4v-2.5M154.9,475.4v2.5M174.0,667.4v-4.5M174.0,475.4v4.5M193.1,667.4v-2.5M193.1,475.4v2.5M212.2,667.4v-4.5M212.2,475.4v4.5M231.3,667.4v-2.5M231.3,475.4v2.5M250.4,667.4v-4.5M250.4,475.4v4.5M269.5,667.4v-2.5M269.5,475.4v2.5M288.6,667.4v-4.5M288.6,475.4v4.5M307.7,667.4v-2.5M307.7,475.4v2.5M326.8,667.4v-4.5M326.8,475.4v4.5M59.4,667.4h4.5M326.8,667.4h-4.5M59.4,653.7h2.5M326.8,653.7h-2.5M59.4,640.0h4.5M326.8,640.0h-4.5M59.4,626.3h2.5M326.8,626.3h-2.5M59.4,612.5h4.5M326.8,612.5h-4.5M59.4,598.8h2.5M326.8,598.8h-2.5M59.4,585.1h4.5M326.8,585.1h-4.5M59.4,571.4h2.5M326.8,571.4h-2.5M59.4,557.7h4.5M326.8,557.7h-4.5M59.4,544.0h2.5M326.8,544.0h-2.5M59.4,530.3h4.5M326.8,530.3h-4.5M59.4,516.5h2.5M326.8,516.5h-2.5M59.4,502.8h4.5M326.8,502.8h-4.5M59.4,489.1h2.5M326.8,489.1h-2.5M59.4,475.4h4.5M326.8,475.4h-4.5" stroke="#222" stroke-width="1.2" fill="none"/>
<rect x="59.4" y="475.4" width="267.4" height="192.0" fill="none" stroke="#222" stroke-width="1.4"/>
<g font-family='"Liberation Sans", sans-serif' font-size="10.2" fill="#2a2a2a" stroke="#2a2a2a" stroke-width="0.05"><text x="37.4" y="480.7" textLength="16.2" lengthAdjust="spacingAndGlyphs">2.5</text><text x="37.4" y="508.1" textLength="16.2" lengthAdjust="spacingAndGlyphs">2.0</text><text x="37.4" y="535.6" textLength="16.2" lengthAdjust="spacingAndGlyphs">1.5</text><text x="37.4" y="563.0" textLength="16.2" lengthAdjust="spacingAndGlyphs">1.0</text><text x="37.4" y="590.4" textLength="16.2" lengthAdjust="spacingAndGlyphs">0.5</text><text x="37.4" y="617.8" textLength="16.2" lengthAdjust="spacingAndGlyphs">0.0</text><text x="32.9" y="645.3" textLength="20.7" lengthAdjust="spacingAndGlyphs">-0.5</text><text x="32.9" y="672.7" textLength="20.7" lengthAdjust="spacingAndGlyphs">-1.0</text><text x="44.9" y="681.4" textLength="27.0" lengthAdjust="spacingAndGlyphs">-0.01</text><text x="86.4" y="681.4" textLength="22.5" lengthAdjust="spacingAndGlyphs">0.00</text><text x="124.6" y="681.4" textLength="22.5" lengthAdjust="spacingAndGlyphs">0.01</text><text x="162.8" y="681.4" textLength="22.5" lengthAdjust="spacingAndGlyphs">0.02</text><text x="201.0" y="681.4" textLength="22.5" lengthAdjust="spacingAndGlyphs">0.03</text><text x="239.2" y="681.4" textLength="22.5" lengthAdjust="spacingAndGlyphs">0.04</text><text x="277.4" y="681.4" textLength="22.5" lengthAdjust="spacingAndGlyphs">0.05</text><text x="315.6" y="681.4" textLength="22.5" lengthAdjust="spacingAndGlyphs">0.06</text></g>
<text x="112.7" y="472.0" font-family='"Liberation Sans", sans-serif' font-size="8.4"  fill="#2a2a2a" stroke="#2a2a2a" stroke-width="0.12" textLength="121.6" lengthAdjust="spacingAndGlyphs">1.3 Mach 3 Rows Open</text>
<text transform="translate(22.5,571.2) rotate(-90)" x="-51.9" y="0" font-family='"Liberation Sans", sans-serif' font-size="14.5" fill="#0a0a0a" stroke="#0a0a0a" stroke-width="0.5" textLength="103.7" lengthAdjust="spacingAndGlyphs">Pressure (Pa X 10^5)</text>
<text x="155.9" y="696.9" font-family='"Liberation Sans", sans-serif' font-size="10.8" fill="#111" stroke="#111" stroke-width="0.35" textLength="72.9" lengthAdjust="spacingAndGlyphs">Time (sec)</text>
<rect x="272.7" y="462.9" width="71.4" height="50.2" fill="#fff" stroke="#222" stroke-width="1.4"/>
<line x1="279.4" y1="471.8" x2="312.8" y2="471.8" stroke="#6aa8e0" stroke-width="1.3"/>
<text x="316.8" y="476.2" font-family='"Liberation Sans", sans-serif' font-size="9.6" fill="#222" stroke="#222" stroke-width="0.1" textLength="19.2" lengthAdjust="spacingAndGlyphs">Ch1</text>
<line x1="279.4" y1="482.9" x2="312.8" y2="482.9" stroke="#f0a050" stroke-width="1.3"/>
<text x="316.8" y="487.3" font-family='"Liberation Sans", sans-serif' font-size="9.6" fill="#222" stroke="#222" stroke-width="0.1" textLength="19.2" lengthAdjust="spacingAndGlyphs">Ch2</text>
<line x1="279.4" y1="493.5" x2="312.8" y2="493.5" stroke="#e06080" stroke-width="1.3"/>
<text x="316.8" y="497.9" font-family='"Liberation Sans", sans-serif' font-size="9.6" fill="#222" stroke="#222" stroke-width="0.1" textLength="19.2" lengthAdjust="spacingAndGlyphs">Ch3</text>
<line x1="279.4" y1="504.7" x2="312.8" y2="504.7" stroke="#50c8a0" stroke-width="1.3"/>
<text x="316.8" y="509.1" font-family='"Liberation Sans", sans-serif' font-size="9.6" fill="#222" stroke="#222" stroke-width="0.1" textLength="19.2" lengthAdjust="spacingAndGlyphs">Ch4</text>
<line x1="415.1" y1="476.4" x2="415.1" y2="664.0" stroke="#b4b4b4" stroke-width="1" stroke-dasharray="1.1,2.4"/><line x1="434.3" y1="476.4" x2="434.3" y2="664.0" stroke="#b8b8b8" stroke-width="1.3"/><line x1="453.5" y1="476.4" x2="453.5" y2="664.0" stroke="#b4b4b4" stroke-width="1" stroke-dasharray="1.1,2.4"/><line x1="472.7" y1="476.4" x2="472.7" y2="664.0" stroke="#b8b8b8" stroke-width="1.3"/><line x1="491.9" y1="476.4" x2="491.9" y2="664.0" stroke="#b4b4b4" stroke-width="1" stroke-dasharray="1.1,2.4"/><line x1="511.1" y1="476.4" x2="511.1" y2="664.0" stroke="#b8b8b8" stroke-width="1.3"/><line x1="530.3" y1="476.4" x2="530.3" y2="664.0" stroke="#b4b4b4" stroke-width="1" stroke-dasharray="1.1,2.4"/><line x1="549.5" y1="476.4" x2="549.5" y2="664.0" stroke="#b8b8b8" stroke-width="1.3"/><line x1="568.7" y1="476.4" x2="568.7" y2="664.0" stroke="#b4b4b4" stroke-width="1" stroke-dasharray="1.1,2.4"/><line x1="587.9" y1="476.4" x2="587.9" y2="664.0" stroke="#b8b8b8" stroke-width="1.3"/><line x1="607.1" y1="476.4" x2="607.1" y2="664.0" stroke="#b4b4b4" stroke-width="1" stroke-dasharray="1.1,2.4"/><line x1="626.3" y1="476.4" x2="626.3" y2="664.0" stroke="#b8b8b8" stroke-width="1.3"/><line x1="645.5" y1="476.4" x2="645.5" y2="664.0" stroke="#b4b4b4" stroke-width="1" stroke-dasharray="1.1,2.4"/><line x1="395.9" y1="632.7" x2="664.7" y2="632.7" stroke="#b4b4b4" stroke-width="1" stroke-dasharray="1.1,2.4"/><line x1="395.9" y1="601.5" x2="664.7" y2="601.5" stroke="#b8b8b8" stroke-width="1.3"/><line x1="395.9" y1="570.2" x2="664.7" y2="570.2" stroke="#b4b4b4" stroke-width="1" stroke-dasharray="1.1,2.4"/><line x1="395.9" y1="538.9" x2="664.7" y2="538.9" stroke="#b8b8b8" stroke-width="1.3"/><line x1="395.9" y1="507.7" x2="664.7" y2="507.7" stroke="#b4b4b4" stroke-width="1" stroke-dasharray="1.1,2.4"/>
<clipPath id="cBR"><rect x="395.9" y="476.9" width="268.8" height="187.1"/></clipPath>
<g fill="none" stroke-width="1.7" stroke-linejoin="round" clip-path="url(#cBR)">
<path d="M395.9,596.6 396.2,596.5 396.6,597.7 396.9,595.9 397.3,598.1 397.6,595.8 398.0,597.4 398.3,597.1 398.7,595.4 399.0,595.9 399.4,597.7 399.7,597.9 400.0,595.9 400.4,595.9 400.7,597.4 401.1,596.3 401.4,595.6 401.8,597.5 402.1,597.2 402.5,597.8 402.8,596.7 403.2,597.9 403.5,595.8 403.8,595.3 404.2,597.6 404.5,597.2 404.9,594.9 405.2,596.2 405.6,596.7 405.9,596.7 406.3,596.7 406.6,597.1 407.0,596.0 407.3,595.8 407.7,594.7 408.0,595.3 408.3,596.5 408.7,594.8 409.0,595.1 409.4,597.4 409.7,596.4 410.1,595.9 410.4,594.9 410.8,596.1 411.1,596.5 411.5,596.2 411.8,596.0 412.1,596.1 412.5,594.5 412.8,597.3 413.2,596.6 413.5,595.3 413.9,596.8 414.2,597.9 414.6,595.3 414.9,597.7 415.3,597.3 415.6,594.8 415.9,596.1 416.3,596.3 416.6,595.0 417.0,595.5 417.3,596.3 417.7,596.6 418.0,596.7 418.4,595.9 418.7,595.1 419.1,597.7 419.4,597.7 419.7,597.0 420.1,596.9 420.4,597.9 420.8,596.1 421.1,595.6 421.5,597.6 421.8,596.6 422.2,596.2 422.5,597.7 422.9,597.6 423.2,597.1 423.5,598.2 423.9,598.0 424.2,597.7 424.6,596.8 424.9,595.9 425.3,595.4 425.6,596.8 426.0,596.7 426.3,596.5 426.7,596.7 427.0,597.0 427.3,594.8 427.7,595.7 428.0,596.5 428.4,595.4 428.7,596.9 429.1,596.3 429.4,595.2 429.8,597.4 430.1,596.4 430.5,595.1 430.8,596.7 431.2,596.3 431.5,595.9 431.8,596.8 432.2,595.4 432.5,596.8 432.9,597.5 433.2,595.2 433.6,595.8 433.9,594.8 434.3,520.7 434.3,510.5 434.6,520.6 434.7,515.1 434.9,522.2 435.0,518.8 435.1,520.4 435.3,530.6 435.4,526.5 435.5,528.8 435.5,529.3 435.7,528.6 435.8,528.5 436.0,528.6 436.1,527.9 436.2,523.2 436.4,525.0 436.5,527.5 436.6,522.8 436.6,522.3 436.8,521.4 436.9,521.2 437.0,520.3 437.2,526.9 437.3,517.9 437.4,520.1 437.6,524.1 437.7,521.4 437.8,524.8 438.0,523.0 438.1,523.9 438.1,520.7 438.2,525.4 438.4,521.2 438.5,520.7 438.6,522.2 438.8,526.2 438.9,526.5 439.0,526.0 439.2,526.1 439.3,528.1 439.4,527.3 439.6,522.9 439.7,527.9 439.8,524.6 440.0,522.1 440.1,526.9 440.3,527.3 440.4,518.9 440.5,520.7 440.7,519.7 440.8,521.6 440.9,521.5 441.1,526.8 441.2,522.5 441.3,526.2 441.5,521.8 441.6,523.1 441.7,525.1 441.9,522.7 442.0,522.7 442.1,521.6 442.3,520.9 442.4,521.7 442.5,522.4 442.7,523.5 442.8,519.5 442.9,520.6 443.1,520.1 443.2,520.4 443.3,521.7 443.5,524.4 443.6,520.0 443.7,521.3 443.9,526.1 444.0,525.5 444.1,520.9 444.3,523.1 444.4,521.3 444.6,518.6 444.7,517.6 444.8,519.4 445.0,526.8 445.1,524.6 445.2,529.1 445.4,519.8 445.5,526.2 445.6,525.0 445.8,524.5 445.9,523.1 446.0,518.3 446.2,520.9 446.3,519.8 446.4,526.8 446.6,524.8 446.7,518.3 446.8,517.0 447.0,524.9 447.1,525.6 447.2,519.3 447.4,527.5 447.5,524.8 447.6,519.0 447.8,520.1 447.9,524.8 448.0,525.6 448.2,525.7 448.3,523.9 448.5,523.5 448.6,522.7 448.7,521.6 448.9,525.0 449.0,518.9 449.1,527.3 449.3,518.6 449.4,526.4 449.5,523.8 449.7,525.4 449.8,526.3 449.9,517.9 450.1,526.8 450.2,524.5 450.3,527.6 450.5,524.1 450.6,519.3 450.7,526.4 450.9,524.3 451.0,527.2 451.1,524.7 451.3,524.9 451.4,519.7 451.5,523.8 451.7,522.3 451.8,523.5 451.9,523.7 452.1,523.2 452.2,521.5 452.3,524.8 452.5,521.9 452.8,522.0 453.2,527.0 453.5,527.4 453.9,526.1 454.2,524.6 454.6,524.4 454.9,525.4 455.2,530.6 455.6,531.0 455.9,531.2 456.3,529.6 456.6,528.6 457.0,530.6 457.3,530.5 457.7,532.5 458.0,535.3 458.4,537.7 458.7,538.2 458.9,536.3 459.0,537.5 459.4,537.0 459.7,539.3 460.1,538.0 460.4,538.7 460.8,538.9 461.1,542.8 461.5,544.3 461.8,546.2 462.2,540.8 462.5,543.6 462.9,546.8 463.2,545.9 463.5,545.1 463.9,547.5 464.2,548.7 464.6,550.9 464.9,550.5 465.0,552.9 465.3,551.4 465.6,555.3 466.0,551.5 466.3,554.2 466.7,554.8 467.0,559.4 467.3,557.6 467.7,556.9 468.0,557.9 468.4,560.7 468.7,562.4 469.1,563.6 469.4,560.0 469.8,560.3 470.1,564.8 470.5,565.0 470.8,567.8 471.1,563.8 471.5,565.8 471.8,568.2 472.2,568.8 472.5,567.9 472.7,571.1 472.9,570.8 473.2,571.1 473.6,572.5 473.9,573.2 474.3,571.9 474.6,572.4 474.9,573.7 475.3,576.5 475.6,574.6 476.0,575.2 476.3,575.2 476.7,575.5 477.0,575.4 477.4,578.9 477.7,575.9 478.1,575.6 478.4,576.6 478.7,579.1 479.1,579.4 479.4,583.4 479.8,580.5 480.1,581.5 480.4,581.7 480.5,582.3 480.8,582.2 481.2,579.4 481.5,582.3 481.9,582.8 482.2,582.5 482.5,581.6 482.9,582.8 483.2,584.1 483.6,583.5 483.9,585.4 484.3,583.4 484.6,585.2 485.0,582.7 485.3,584.4 485.7,586.6 486.0,583.1 486.4,585.8 486.7,585.4 487.0,586.4 487.4,586.9 487.7,588.1 488.1,585.0 488.4,586.1 488.4,590.1 488.8,588.6 489.1,587.1 489.5,588.9 489.8,588.2 490.2,588.5 490.5,587.1 490.8,590.2 491.2,587.4 491.5,588.7 491.9,587.4 492.2,589.8 492.6,591.0 492.9,591.4 493.3,589.0 493.6,587.8 494.0,591.3 494.2,589.1 494.3,591.0 494.6,593.7 495.0,594.1 495.3,595.0 495.7,593.1 496.0,593.7 496.4,595.8 496.7,597.6 497.1,596.6 497.4,599.8 497.8,603.2 498.1,599.9 498.4,600.8 498.4,598.9 498.8,602.4 499.1,604.9 499.5,604.5 499.8,609.1 500.2,606.8 500.5,609.6 500.9,610.5 501.2,611.6 501.6,610.7 501.9,613.9 502.2,615.3 502.3,613.0 502.6,616.7 502.9,614.7 503.3,617.0 503.6,618.1 504.0,620.6 504.3,620.9 504.7,619.1 505.0,621.5 505.4,622.9 505.7,625.4 506.1,622.7 506.4,624.0 506.7,625.9 507.1,629.7 507.4,627.3 507.8,628.5 508.0,632.9 508.1,631.3 508.5,630.3 508.8,629.8 509.2,633.2 509.5,632.3 509.9,630.0 510.2,630.4 510.5,632.2 510.9,631.1 511.2,632.7 511.6,633.8 511.9,633.3 512.3,634.4 512.6,635.8 513.0,633.0 513.3,636.2 513.7,635.7 514.0,636.9 514.2,634.7 514.3,638.4 514.7,636.9 515.0,637.0 515.4,635.2 515.7,637.2 516.1,637.4 516.4,636.0 516.8,637.9 517.1,638.2 517.5,636.9 517.8,635.5 518.1,637.5 518.5,636.2 518.8,636.7 519.2,638.8 519.5,638.1 519.9,636.2 520.2,637.6 520.6,638.0 520.9,638.6 521.3,639.0 521.6,637.7 521.9,637.4 521.9,636.1 522.3,637.4 522.6,639.8 523.0,637.8 523.3,636.8 523.7,638.7 524.0,635.6 524.4,637.6 524.7,635.4 525.1,635.2 525.4,637.0 525.7,635.0 525.7,637.5 526.1,636.1 526.4,634.2 526.8,632.5 527.1,632.3 527.5,631.7 527.8,631.5 528.2,626.7 528.5,629.4 528.9,624.7 529.2,625.3 529.6,626.2 529.9,621.3 530.2,623.8 530.6,621.0 530.9,618.7 531.3,621.5 531.6,618.9 531.8,619.4 532.0,618.6 532.3,619.0 532.7,618.2 533.0,617.7 533.4,614.7 533.7,615.1 534.0,617.8 534.4,614.6 534.7,616.1 535.1,619.0 535.4,615.0 535.8,615.4 536.1,617.3 536.5,612.9 536.8,615.3 537.2,614.8 537.5,613.1 537.8,614.4 538.2,613.0 538.5,615.1 538.9,611.5 539.2,611.7 539.6,613.2 539.9,612.3 540.3,611.7 540.6,609.7 541.0,609.9 541.3,609.9 541.6,608.2 541.8,610.0 542.0,609.2 542.3,610.5 542.7,607.3 543.0,610.6 543.4,608.3 543.7,609.1 544.1,608.8 544.4,609.2 544.8,610.4 545.1,608.6 545.4,607.6 545.8,608.4 546.1,606.1 546.5,609.2 546.8,607.0 547.2,609.0 547.5,608.7 547.9,606.2 548.2,607.6 548.6,607.5 548.9,607.0 549.3,605.0 549.6,608.6 549.9,605.6 550.3,609.1 550.6,606.6 551.0,605.4 551.3,605.5 551.7,607.6 552.0,605.8 552.4,603.9 552.7,606.7 553.1,605.0 553.3,604.0 553.4,603.7 553.7,605.2 554.1,606.2 554.4,602.8 554.8,604.0 555.1,603.9 555.5,603.6 555.8,603.8 556.2,605.1 556.5,604.5 556.9,601.5 557.2,606.1 557.5,603.1 557.9,602.3 558.2,603.6 558.6,603.5 558.9,604.1 559.3,600.6 559.6,602.6 560.0,600.3 560.3,600.3 560.7,602.3 561.0,600.3 561.3,604.0 561.7,602.0 562.0,602.0 562.4,599.6 562.7,600.9 563.1,602.5 563.4,600.8 563.8,599.5 564.1,601.3 564.5,600.7 564.8,599.4 565.1,602.1 565.5,600.1 565.8,598.6 566.2,598.1 566.5,598.3 566.9,600.8 567.2,598.8 567.6,596.7 567.9,598.4 568.3,596.6 568.6,598.7 568.9,600.4 569.1,596.8 569.3,597.3 569.6,598.6 570.0,598.1 570.3,598.1 570.7,598.9 571.0,598.4 571.4,598.4 571.7,599.4 572.1,603.5 572.4,599.5 572.8,600.6 573.1,601.2 573.4,601.2 573.8,602.4 574.1,599.2 574.5,600.3 574.8,601.5 575.2,600.8 575.5,602.9 575.9,602.3 576.2,603.8 576.6,601.6 576.9,603.8 577.2,599.0 577.6,602.8 577.9,600.8 578.3,602.5 578.6,603.4 579.0,604.0 579.3,605.1 579.7,601.4 580.0,602.3 580.4,603.2 580.7,605.3 581.0,604.0 581.0,604.8 581.4,604.4 581.7,605.7 582.1,601.8 582.4,604.7 582.8,603.8 583.1,603.6 583.5,605.2 583.8,607.7 584.2,605.8 584.5,606.7 584.8,606.4 585.2,608.0 585.5,605.1 585.9,607.8 586.2,608.4 586.6,606.5 586.9,609.7 587.3,606.6 587.6,607.3 588.0,609.4 588.3,609.7 588.6,611.5 589.0,607.1 589.3,609.4 589.7,607.7 590.0,610.6 590.4,609.0 590.7,609.0 591.1,609.0 591.4,610.0 591.8,610.1 592.1,610.7 592.5,611.8 592.8,609.2 592.9,610.8 593.1,610.5 593.5,612.3 593.8,611.4 594.2,608.6 594.5,612.7 594.9,610.1 595.2,610.3 595.6,613.1 595.9,610.8 596.3,613.3 596.6,612.8 596.9,613.4 597.3,612.6 597.6,613.2 598.0,610.6 598.3,614.0 598.7,612.5 599.0,611.3 599.4,613.7 599.7,614.3 600.1,610.8 600.4,611.4 600.7,611.9 601.1,611.2 601.4,612.6 601.8,612.1 602.1,611.5 602.5,612.8 602.8,613.3 603.2,614.4 603.5,611.3 603.9,614.9 604.2,613.1 604.5,615.9 604.9,614.7 605.2,613.4 605.6,613.7 605.9,615.7 606.3,614.6 606.6,612.5 607.0,615.3 607.3,615.3 607.7,615.7 608.0,613.6 608.3,616.4 608.6,616.0 608.7,613.4 609.0,612.9 609.4,614.8 609.7,611.9 610.1,611.7 610.4,612.9 610.8,612.4 611.1,610.2 611.5,612.3 611.8,615.4 612.1,614.9 612.5,613.1 612.8,614.7 613.2,614.1 613.5,613.8 613.9,615.3 614.2,614.4 614.6,611.2 614.9,614.3 615.3,611.3 615.6,610.3 616.0,611.3 616.3,612.6 616.6,611.5 617.0,609.8 617.3,611.7 617.7,613.1 618.0,613.4 618.4,613.2 618.7,609.6 619.1,611.0 619.4,613.1 619.8,613.4 620.1,611.0 620.4,610.1 620.8,609.5 621.1,612.9 621.5,610.4 621.8,610.1 622.2,610.7 622.5,612.1 622.5,612.7 622.9,610.7 623.2,610.6 623.6,608.4 623.9,611.3 624.2,609.8 624.6,610.3 624.9,607.2 625.3,609.6 625.6,606.2 626.0,604.2 626.3,603.5 626.7,606.2 627.0,606.9 627.4,602.3 627.7,601.0 628.0,604.9 628.2,601.6 628.4,603.2 628.7,603.6 629.1,599.6 629.4,598.9 629.8,602.0 630.1,600.4 630.5,599.4 630.8,595.4 631.2,598.2 631.5,596.6 631.8,597.8 632.2,596.0 632.5,596.2 632.9,598.3 633.2,595.5 633.6,597.5 633.9,595.6 634.3,593.1 634.6,595.6 635.0,594.1 635.3,592.8 635.7,594.6 636.0,592.7 636.3,591.1 636.3,593.3 636.7,590.6 637.0,590.0 637.4,592.8 637.7,590.8 638.1,592.6 638.4,587.3 638.8,589.8 639.1,591.1 639.5,592.8 639.8,590.3 640.1,587.2 640.5,588.1 640.8,584.8 641.2,588.8 641.5,585.9 641.9,584.8 642.2,588.0 642.6,585.0 642.9,587.9 643.3,584.4 643.6,586.0 643.9,585.5 644.3,581.7 644.6,582.7 644.7,582.2 645.0,581.2 645.3,582.1 645.7,580.9 646.0,584.4" stroke="#1264e6"/>
<path d="M395.9,597.5 396.2,596.6 396.6,596.8 396.9,596.1 397.3,598.0 397.6,597.1 398.0,596.8 398.3,597.3 398.7,598.5 399.0,598.1 399.4,595.4 399.7,595.7 400.0,599.0 400.4,596.4 400.7,597.4 401.1,596.7 401.4,595.6 401.8,597.2 402.1,596.5 402.5,595.9 402.8,596.2 403.2,598.6 403.5,598.6 403.8,596.7 404.2,596.9 404.5,598.1 404.9,597.0 405.2,597.1 405.6,599.1 405.9,597.6 406.3,596.1 406.6,596.2 407.0,598.3 407.3,597.9 407.7,595.6 408.0,596.5 408.3,595.7 408.7,595.7 409.0,598.0 409.4,597.5 409.7,596.7 410.1,598.0 410.4,598.3 410.8,599.2 411.1,597.8 411.5,598.8 411.8,598.5 412.1,597.3 412.5,596.9 412.8,597.7 413.2,598.6 413.5,596.6 413.9,598.3 414.2,597.4 414.6,596.2 414.9,597.7 415.3,598.3 415.6,597.0 415.9,597.6 416.3,597.4 416.6,595.4 417.0,596.3 417.3,597.2 417.7,598.7 418.0,598.3 418.4,597.5 418.7,597.6 419.1,598.3 419.4,596.2 419.7,597.4 420.1,597.2 420.4,599.6 420.8,596.6 421.1,598.4 421.5,598.2 421.8,599.5 422.2,596.1 422.5,596.2 422.9,597.4 423.2,596.2 423.5,596.2 423.9,597.8 424.2,598.1 424.6,596.7 424.9,598.8 425.3,597.7 425.6,596.3 426.0,597.6 426.3,596.6 426.7,596.4 427.0,597.3 427.3,598.1 427.7,594.9 428.0,596.4 428.4,597.4 428.7,596.7 429.1,597.3 429.4,598.2 429.8,597.5 430.1,595.9 430.5,598.5 430.8,598.3 431.2,595.8 431.5,598.5 431.8,597.4 432.2,596.7 432.5,598.1 432.9,596.4 433.2,599.0 433.6,596.0 433.9,595.7 434.3,596.6 434.6,596.9 435.0,595.4 435.3,598.2 435.6,597.6 436.0,596.6 436.3,596.4 436.7,596.9 437.0,596.9 437.4,595.8 437.7,595.5 438.1,595.5 438.4,598.4 438.8,597.7 439.1,598.8 439.4,595.8 439.8,598.2 440.1,597.0 440.5,596.6 440.8,598.5 441.2,596.8 441.5,598.8 441.9,597.6 442.2,596.9 442.6,597.0 442.9,596.6 443.2,595.4 443.6,596.8 443.9,597.6 444.3,597.4 444.6,597.5 445.0,596.7 445.3,598.7 445.7,597.7 446.0,595.9 446.4,597.1 446.7,595.8 447.0,599.0 447.4,598.3 447.7,598.2 448.1,596.4 448.4,596.4 448.8,597.4 448.9,596.7 449.1,617.6 449.5,644.4 449.7,664.0 449.8,645.9 450.2,607.2 450.4,579.7 450.5,581.9 450.9,555.3 451.2,538.1 451.5,518.9 451.9,500.5 452.2,485.3 452.3,472.2 452.6,489.5 452.9,504.7 453.3,519.6 453.6,534.8 454.0,545.4 454.3,559.2 454.3,556.9 454.7,546.3 455.0,534.5 455.3,523.1 455.7,512.9 456.0,502.4 456.2,499.8 456.4,505.2 456.7,524.8 457.1,535.0 457.3,543.1 457.4,545.1 457.8,542.2 458.1,535.5 458.5,526.7 458.8,521.5 459.1,514.0 459.3,510.3 459.5,511.9 459.8,521.7 460.2,534.0 460.4,542.1 460.5,539.5 460.9,539.2 461.2,534.4 461.6,529.2 461.9,525.3 462.3,526.0 462.6,522.9 462.9,514.3 463.1,516.4 463.3,514.2 463.6,520.2 464.0,524.3 464.3,530.3 464.7,528.0 465.0,535.8 465.4,525.3 465.7,523.4 466.1,523.9 466.4,515.4 466.6,514.0 466.7,515.1 467.1,517.4 467.4,522.3 467.8,527.7 468.1,529.2 468.5,537.3 468.8,530.3 469.2,531.4 469.5,528.8 469.9,530.4 470.2,528.9 470.5,528.6 470.9,527.2 471.2,525.1 471.5,521.7 471.6,526.1 471.9,530.7 472.3,530.9 472.6,536.6 473.0,539.3 473.3,545.9 473.7,548.4 474.0,555.9 474.4,560.9 474.6,563.7 474.7,564.9 475.0,565.0 475.4,566.4 475.7,571.4 476.1,571.9 476.4,574.0 476.8,576.3 477.1,582.7 477.5,584.4 477.8,584.3 478.2,587.8 478.5,591.5 478.5,592.0 478.8,593.9 479.2,593.8 479.5,597.4 479.9,598.2 480.2,601.4 480.6,603.3 480.9,603.3 481.3,607.7 481.6,610.4 482.0,609.5 482.3,615.2 482.6,613.8 482.7,612.8 483.0,615.9 483.3,617.1 483.7,617.3 484.0,619.3 484.4,620.4 484.7,619.0 485.1,618.0 485.4,619.7 485.8,620.2 486.1,622.0 486.4,622.3 486.8,624.6 487.1,627.4 487.5,626.5 487.8,625.7 488.2,626.9 488.4,629.1 488.5,629.7 488.9,626.8 489.2,627.5 489.6,627.8 489.9,628.8 490.2,632.1 490.6,633.7 490.9,631.6 491.3,632.1 491.6,632.4 492.0,636.1 492.3,635.1 492.3,635.0 492.7,632.5 493.0,632.0 493.4,632.9 493.7,631.8 494.1,629.4 494.4,629.7 494.7,628.7 495.1,628.3 495.4,630.1 495.7,627.3 495.8,628.5 496.1,625.7 496.5,629.1 496.8,626.5 497.2,625.1 497.5,624.7 497.9,622.1 498.2,623.7 498.5,620.8 498.9,621.0 499.2,621.4 499.6,621.1 499.9,618.7 500.3,620.4 500.6,619.3 501.0,616.4 501.3,616.2 501.7,615.5 502.0,612.6 502.3,614.7 502.3,615.6 502.7,613.4 503.0,613.4 503.4,611.4 503.7,613.2 504.1,610.1 504.4,609.3 504.8,607.8 505.1,610.4 505.5,610.6 505.8,606.9 506.1,608.9 506.1,606.7 506.5,610.2 506.8,607.9 507.2,608.3 507.5,608.5 507.9,606.5 508.2,610.5 508.6,608.5 508.9,607.9 509.3,611.0 509.6,605.7 509.9,608.2 510.3,606.9 510.6,609.5 511.0,607.6 511.3,607.9 511.7,606.0 512.0,605.5 512.4,608.6 512.7,605.9 513.1,609.2 513.4,607.5 513.7,607.4 514.1,609.4 514.4,608.2 514.8,608.4 515.1,610.1 515.5,611.0 515.8,607.9 516.2,607.7 516.5,605.6 516.9,609.0 517.2,610.0 517.6,609.2 517.9,606.5 518.2,609.7 518.6,610.5 518.9,607.6 519.3,609.8 519.6,611.4 520.0,610.7 520.3,609.3 520.7,606.6 521.0,607.7 521.4,610.2 521.7,608.7 522.0,610.1 522.4,607.8 522.7,608.1 523.1,607.5 523.4,609.6 523.8,607.4 524.1,609.6 524.5,607.5 524.8,606.4 525.2,606.9 525.5,607.6 525.8,607.5 526.2,608.3 526.5,608.1 526.9,607.3 527.2,610.2 527.6,607.1 527.9,607.5 528.3,609.1 528.6,609.1 529.0,610.2 529.3,607.0 529.6,609.1 530.0,607.3 530.3,610.0 530.7,606.1 531.0,607.2 531.4,608.1 531.7,609.5 531.8,611.4 532.1,607.7 532.4,607.3 532.8,606.8 533.1,606.5 533.4,608.4 533.8,607.6 534.1,603.4 534.5,604.0 534.8,604.3 535.2,602.7 535.5,606.1 535.9,605.2 536.2,604.3 536.6,603.3 536.9,604.5 537.3,604.1 537.6,603.1 537.9,601.3 538.3,603.1 538.6,602.6 539.0,601.9 539.3,601.2 539.7,599.4 540.0,600.5 540.4,601.0 540.7,599.0 541.1,601.3 541.4,598.3 541.7,596.3 542.1,596.7 542.2,600.7 542.4,600.2 542.8,596.3 543.1,601.0 543.5,598.9 543.8,599.1 544.2,597.2 544.5,595.2 544.9,599.4 545.2,597.0 545.5,599.3 545.9,594.4 546.2,597.3 546.6,597.8 546.9,595.6 547.3,595.6 547.6,596.7 548.0,593.1 548.3,595.8 548.7,596.1 549.0,597.2 549.3,595.0 549.7,594.0 550.0,595.2 550.4,594.2 550.7,596.7 551.1,596.2 551.4,597.3 551.8,596.3 552.1,596.7 552.5,596.9 552.8,594.1 553.1,599.2 553.3,599.5 553.5,594.1 553.8,596.3 554.2,596.8 554.5,596.2 554.9,595.2 555.2,593.9 555.6,593.9 555.9,593.4 556.3,597.0 556.6,593.4 556.9,595.8 557.3,594.6 557.6,593.6 558.0,594.2 558.3,593.8 558.7,594.9 559.0,593.8 559.4,597.4 559.7,595.9 560.1,597.4 560.4,595.7 560.8,597.3 561.1,597.0 561.4,594.5 561.8,594.8 562.1,596.3 562.5,597.5 562.8,597.6 563.2,596.3 563.5,597.3 563.9,594.2 564.2,597.4 564.6,596.7 564.9,598.2 565.2,596.3 565.6,594.4 565.9,595.5 566.3,594.3 566.6,598.5 567.0,596.6 567.3,598.7 567.7,599.4 568.0,595.9 568.4,597.8 568.7,597.4 569.0,595.1 569.1,599.3 569.4,596.6 569.7,598.8 570.1,596.3 570.4,599.2 570.8,595.5 571.1,599.0 571.5,599.3 571.8,599.8 572.2,597.2 572.5,598.3 572.8,596.0 573.2,596.7 573.5,596.8 573.9,598.1 574.2,595.0 574.6,599.1 574.9,597.0 575.3,598.9 575.6,599.7 576.0,597.8 576.3,599.5 576.6,596.6 577.0,598.9 577.3,596.2 577.7,598.5 578.0,599.3 578.4,599.2 578.7,597.8 579.1,595.6 579.4,596.4 579.8,596.5 580.1,597.8 580.5,597.2 580.8,598.7 581.1,597.6 581.5,600.6 581.8,598.6 582.2,598.0 582.5,599.6 582.9,596.9 583.2,597.8 583.6,597.1 583.9,596.3 584.3,597.1 584.6,601.1 584.8,596.3 584.9,596.5 585.3,599.6 585.6,596.8 586.0,595.7 586.3,599.4 586.7,600.0 587.0,596.5 587.4,598.5 587.7,597.7 588.1,600.8 588.4,598.2 588.7,601.8 589.1,600.6 589.4,599.3 589.8,600.6 590.1,601.8 590.5,597.9 590.8,600.5 591.2,602.1 591.5,598.9 591.9,600.2 592.2,601.0 592.5,598.8 592.9,599.2 593.2,602.0 593.6,602.6 593.9,600.4 594.3,600.2 594.6,601.8 595.0,601.3 595.3,602.9 595.7,601.7 596.0,601.1 596.3,599.9 596.7,600.2 597.0,601.3 597.4,603.1 597.7,602.5 598.1,601.3 598.4,600.7 598.8,602.1 599.1,600.1 599.5,602.4 599.8,605.2 600.1,604.6 600.5,603.5 600.6,604.9 600.8,601.9 601.2,603.1 601.5,604.1 601.9,605.3 602.2,602.0 602.6,602.9 602.9,604.7 603.3,604.8 603.6,603.2 604.0,601.8 604.3,602.7 604.6,601.4 605.0,604.9 605.3,600.2 605.7,602.8 606.0,603.5 606.4,602.0 606.7,603.1 607.1,603.5 607.4,604.6 607.8,602.2 608.1,605.9 608.4,604.3 608.8,603.8 609.1,605.0 609.5,605.6 609.8,605.4 610.2,603.5 610.5,603.3 610.9,607.9 611.2,603.8 611.6,605.0 611.9,605.2 612.2,607.0 612.6,604.1 612.9,605.2 613.3,607.3 613.6,608.2 614.0,606.4 614.3,606.7 614.7,604.4 615.0,608.2 615.4,605.7 615.7,604.1 616.0,608.1 616.3,606.9 616.4,605.6 616.7,604.7 617.1,605.3 617.4,605.8 617.8,604.0 618.1,605.2 618.5,607.1 618.8,606.0 619.2,604.8 619.5,604.8 619.8,605.8 620.2,606.5 620.5,604.6 620.9,605.3 621.2,608.3 621.6,605.5 621.9,605.4 622.3,604.5 622.6,604.0 623.0,604.0 623.3,606.8 623.7,605.0 624.0,603.9 624.3,603.6 624.7,603.5 625.0,604.8 625.4,607.0 625.7,605.9 626.1,606.5 626.4,607.5 626.8,603.2 627.1,606.6 627.5,602.6 627.8,604.4 628.1,606.7 628.5,604.3 628.8,604.2 629.2,606.0 629.5,603.6 629.9,607.1 630.2,605.2 630.6,603.7 630.9,604.7 631.3,603.9 631.6,605.9 631.9,602.2 632.1,606.2 632.3,606.3 632.6,603.8 633.0,605.4 633.3,602.4 633.7,603.5 634.0,604.2 634.4,605.6 634.7,603.0 635.1,602.0 635.4,604.0 635.7,601.0 636.1,600.9 636.4,605.4 636.8,604.5 637.1,604.6 637.5,606.6 637.8,602.6 638.2,604.5 638.5,605.5 638.9,604.6 639.2,604.8 639.5,602.3 639.9,601.4 640.2,602.4 640.6,604.7 640.9,605.3 641.3,602.2 641.6,605.0 642.0,603.1 642.3,604.2 642.7,603.2 643.0,605.2 643.3,601.9 643.7,601.7 644.0,603.1 644.4,603.3 644.7,602.5 645.1,603.9 645.4,602.6 645.5,601.8 645.8,604.0 646.1,603.9" stroke="#ff7a00"/>
<path d="M395.9,597.9 396.2,598.5 396.6,598.5 396.9,600.3 397.3,598.4 397.6,598.2 398.0,597.6 398.3,598.7 398.7,598.2 399.0,600.1 399.4,598.3 399.7,597.4 400.0,598.9 400.4,597.1 400.7,600.1 401.1,598.7 401.4,598.1 401.8,598.3 402.1,598.7 402.5,598.7 402.8,597.6 403.2,598.8 403.5,598.8 403.8,600.2 404.2,600.3 404.5,598.7 404.9,600.6 405.2,598.3 405.6,600.4 405.9,599.5 406.3,596.9 406.6,597.4 407.0,596.6 407.3,598.6 407.7,599.8 408.0,599.5 408.3,597.3 408.7,598.6 409.0,598.3 409.4,598.7 409.7,596.7 410.1,596.8 410.4,597.9 410.8,598.6 411.1,599.9 411.5,599.6 411.8,599.5 412.1,597.5 412.5,597.7 412.8,599.1 413.2,598.1 413.5,599.4 413.9,598.1 414.2,598.9 414.6,597.9 414.9,598.9 415.3,597.6 415.6,600.4 415.9,599.4 416.3,598.2 416.6,598.7 417.0,597.7 417.3,597.6 417.7,598.0 418.0,599.6 418.4,596.3 418.7,599.0 419.1,597.9 419.4,599.0 419.7,599.7 420.1,597.6 420.4,597.1 420.8,598.6 421.1,597.4 421.5,598.1 421.8,599.3 422.2,598.9 422.5,597.7 422.9,597.1 423.2,598.6 423.5,597.2 423.9,598.2 424.2,596.8 424.6,596.7 424.9,598.3 425.3,598.0 425.6,598.1 426.0,597.6 426.3,599.1 426.7,597.4 427.0,598.2 427.3,598.1 427.7,599.1 428.0,599.4 428.4,599.3 428.7,599.7 429.1,599.7 429.4,597.9 429.8,598.8 430.1,599.8 430.5,597.4 430.8,600.0 431.2,599.5 431.5,596.9 431.8,599.0 432.2,598.3 432.5,597.6 432.9,598.4 433.2,598.0 433.6,598.6 433.9,598.9 434.3,597.3 434.6,596.6 435.0,597.3 435.3,597.5 435.6,598.3 436.0,600.0 436.3,597.3 436.7,598.0 437.0,597.7 437.4,597.6 437.7,597.6 438.1,597.3 438.4,598.3 438.8,598.3 439.1,599.5 439.4,600.8 439.8,597.5 440.1,599.3 440.4,596.9 440.5,592.8 440.8,534.4 441.2,531.9 441.5,529.6 441.9,529.7 442.2,535.3 442.6,531.9 442.7,532.8 442.9,532.7 443.2,529.5 443.6,527.4 443.9,527.9 444.3,529.6 444.6,530.9 445.0,531.8 445.3,530.9 445.7,526.9 446.0,531.0 446.4,526.9 446.7,531.3 447.0,529.1 447.4,531.3 447.7,533.4 448.1,530.4 448.4,527.2 448.8,530.9 449.1,527.5 449.5,526.4 449.8,527.5 450.2,529.6 450.5,529.9 450.9,529.3 451.2,529.4 451.5,528.8 451.6,528.8 451.9,525.3 452.2,531.9 452.6,528.2 452.9,530.2 453.3,530.6 453.6,529.5 454.0,527.5 454.3,533.4 454.7,526.8 455.0,527.7 455.3,529.4 455.7,531.7 456.0,531.3 456.4,529.2 456.7,531.8 457.0,533.8 457.1,533.7 457.4,531.6 457.8,531.2 458.1,531.6 458.5,535.9 458.8,536.4 459.1,534.4 459.5,534.3 459.8,538.7 460.2,535.8 460.5,537.2 460.9,537.1 461.2,541.2 461.6,538.7 461.9,543.3 462.3,539.9 462.6,543.3 462.7,544.0 462.9,545.0 463.3,544.6 463.6,545.6 464.0,547.5 464.3,546.0 464.7,548.6 465.0,551.0 465.4,548.8 465.7,551.6 466.1,551.8 466.4,551.7 466.7,554.0 467.1,556.3 467.4,554.8 467.8,554.8 468.1,559.0 468.5,556.5 468.8,559.5 469.2,557.6 469.5,561.2 469.9,562.2 470.2,563.4 470.5,561.0 470.8,560.6 470.9,564.6 471.2,561.3 471.6,561.1 471.9,566.2 472.3,564.5 472.6,562.4 473.0,564.0 473.3,568.8 473.7,564.7 474.0,569.5 474.4,570.7 474.7,568.5 475.0,567.9 475.4,569.2 475.7,572.3 476.1,572.1 476.4,570.0 476.8,571.3 477.1,571.2 477.5,571.6 477.8,575.8 478.2,573.1 478.5,577.7 478.5,573.1 478.8,573.5 479.2,573.4 479.5,578.5 479.9,578.1 480.2,576.7 480.6,575.5 480.9,576.3 481.3,577.7 481.6,579.1 482.0,581.4 482.3,580.9 482.6,582.0 483.0,583.6 483.3,578.7 483.7,583.2 484.0,583.8 484.4,582.0 484.6,584.7 484.7,583.7 485.1,583.9 485.4,586.1 485.8,585.7 486.1,589.9 486.4,587.5 486.8,589.0 487.1,588.8 487.5,592.5 487.8,591.5 488.2,589.0 488.4,592.3 488.5,591.3 488.9,592.3 489.2,592.1 489.6,596.0 489.9,598.1 490.2,599.5 490.6,598.7 490.9,599.6 491.3,604.7 491.6,606.1 492.0,605.7 492.3,607.8 492.3,607.4 492.7,609.4 493.0,611.3 493.4,612.3 493.7,610.9 494.1,610.1 494.4,611.6 494.7,613.2 495.1,612.6 495.4,613.6 495.8,616.5 496.1,619.0 496.5,617.4 496.8,620.2 497.2,621.7 497.5,623.0 497.9,621.6 498.2,625.1 498.4,625.0 498.5,623.2 498.9,623.9 499.2,626.3 499.6,624.8 499.9,626.3 500.3,628.9 500.6,625.9 501.0,629.9 501.3,630.0 501.7,629.8 502.0,630.5 502.3,628.3 502.7,631.5 503.0,628.7 503.4,631.3 503.7,629.5 504.1,632.1 504.4,630.8 504.8,634.6 505.1,630.7 505.5,634.4 505.8,634.1 506.1,633.1 506.1,634.3 506.5,633.5 506.8,635.7 507.2,632.8 507.5,633.0 507.9,635.5 508.2,635.6 508.6,633.4 508.9,635.3 509.3,637.7 509.6,638.0 509.9,638.4 510.3,638.2 510.6,634.9 511.0,637.2 511.3,638.0 511.7,636.9 512.0,635.4 512.4,638.6 512.7,638.1 513.1,636.0 513.4,639.1 513.7,638.3 514.1,635.3 514.4,636.3 514.8,636.7 515.1,634.2 515.5,637.1 515.8,635.9 516.2,632.3 516.5,631.3 516.9,635.4 517.2,633.8 517.6,634.3 517.9,630.0 518.0,630.5 518.2,632.5 518.6,629.0 518.9,629.5 519.3,630.5 519.6,627.2 520.0,631.1 520.3,629.9 520.7,626.4 521.0,627.1 521.4,628.5 521.7,628.6 522.0,627.0 522.4,627.1 522.7,626.1 523.1,623.2 523.4,623.6 523.8,623.1 524.1,624.3 524.5,620.2 524.8,622.5 525.2,622.7 525.5,621.2 525.7,622.8 525.8,619.7 526.2,621.0 526.5,619.7 526.9,619.2 527.2,619.9 527.6,621.2 527.9,618.4 528.3,620.7 528.6,616.6 529.0,618.4 529.3,616.5 529.6,617.9 530.0,615.8 530.3,616.0 530.7,618.0 531.0,618.5 531.4,615.5 531.7,616.2 532.1,614.6 532.4,613.7 532.8,613.6 533.1,613.2 533.4,613.6 533.8,612.6 534.1,615.4 534.5,609.8 534.8,612.2 535.2,615.0 535.5,616.2 535.9,614.1 536.2,611.7 536.6,613.6 536.9,609.7 537.3,608.5 537.6,612.1 537.9,610.7 538.3,608.0 538.6,607.7 539.0,608.0 539.3,612.3 539.7,611.2 540.0,610.4 540.4,607.6 540.7,609.9 541.1,607.1 541.4,607.6 541.7,607.1 542.1,609.3 542.4,605.9 542.8,606.6 543.1,606.5 543.5,609.2 543.8,608.3 544.2,608.7 544.5,604.7 544.9,608.5 545.2,608.0 545.5,607.7 545.9,606.6 546.2,607.3 546.6,606.4 546.9,604.7 547.3,606.8 547.6,607.0 548.0,605.3 548.3,605.7 548.7,607.3 549.0,604.7 549.3,604.1 549.7,607.2 550.0,603.9 550.4,605.6 550.7,603.6 551.1,603.0 551.4,605.7 551.8,605.3 552.1,605.1 552.5,603.8 552.8,604.7 553.1,601.9 553.3,602.8 553.5,602.2 553.8,604.5 554.2,602.9 554.5,601.7 554.9,602.1 555.2,600.5 555.6,602.0 555.9,601.7 556.3,601.9 556.6,601.4 556.9,600.4 557.3,599.2 557.6,602.7 558.0,600.6 558.3,601.0 558.7,600.3 559.0,600.4 559.4,601.1 559.7,603.3 560.1,601.5 560.4,599.3 560.8,602.7 561.1,601.4 561.4,598.9 561.8,600.8 562.1,603.6 562.5,602.0 562.8,603.6 563.2,601.7 563.5,602.3 563.9,605.8 564.2,602.0 564.6,600.8 564.9,601.9 565.2,600.7 565.6,603.3 565.9,603.8 566.3,603.2 566.6,603.5 567.0,601.5 567.3,600.1 567.7,602.5 568.0,601.6 568.4,603.7 568.7,603.6 569.0,601.7 569.4,601.8 569.7,602.3 570.1,602.5 570.4,600.5 570.8,602.6 571.1,599.7 571.5,602.7 571.8,602.1 572.2,603.4 572.5,602.8 572.8,603.9 573.2,601.9 573.5,601.4 573.9,603.9 574.2,601.7 574.6,601.7 574.9,602.5 575.3,605.0 575.6,603.3 576.0,603.1 576.3,603.2 576.6,603.3 577.0,603.6 577.3,605.2 577.7,603.2 578.0,603.3 578.4,603.3 578.7,604.3 579.1,605.6 579.4,603.4 579.8,605.2 580.1,604.0 580.5,602.8 580.8,603.5 581.1,606.9 581.5,604.7 581.8,602.6 582.2,607.1 582.5,605.4 582.9,608.0 583.2,607.8 583.6,607.2 583.9,605.3 584.3,605.0 584.6,605.3 584.8,605.0 584.9,607.2 585.3,605.0 585.6,605.6 586.0,607.3 586.3,607.3 586.7,606.5 587.0,607.2 587.4,606.7 587.7,606.0 588.1,607.4 588.4,610.0 588.7,609.0 589.1,608.6 589.4,607.1 589.8,606.9 590.1,610.9 590.5,607.8 590.8,611.7 591.2,608.1 591.5,607.8 591.9,610.0 592.2,608.3 592.5,609.3 592.9,611.0 593.2,608.8 593.6,608.4 593.9,609.4 594.3,610.9 594.6,611.4 595.0,609.8 595.3,608.6 595.7,611.1 596.0,611.1 596.3,610.3 596.7,609.8 597.0,612.2 597.4,611.6 597.7,610.5 598.1,611.1 598.4,613.0 598.8,612.9 599.1,613.0 599.5,610.9 599.8,611.4 600.1,611.5 600.5,611.1 600.6,612.9 600.8,612.5 601.2,612.0 601.5,611.1 601.9,612.2 602.2,614.1 602.6,610.6 602.9,613.6 603.3,611.7 603.6,615.3 604.0,612.4 604.3,613.8 604.6,611.6 605.0,612.3 605.3,614.6 605.7,614.3 606.0,611.3 606.4,612.6 606.7,615.1 607.1,615.7 607.4,613.2 607.8,613.3 608.1,615.5 608.4,612.5 608.8,615.2 609.1,612.6 609.5,612.1 609.8,611.7 610.2,612.6 610.5,612.7 610.9,615.7 611.2,612.8 611.6,614.7 611.9,614.7 612.2,616.3 612.6,614.3 612.9,616.6 613.3,615.1 613.6,617.0 614.0,616.6 614.3,616.6 614.7,615.1 614.8,613.9 615.0,613.5 615.4,615.9 615.7,613.0 616.0,612.9 616.4,613.7 616.7,615.0 617.1,614.1 617.4,614.1 617.8,613.4 618.1,613.4 618.5,616.1 618.8,616.2 619.2,612.9 619.5,614.3 619.8,615.9 620.2,613.4 620.5,615.4 620.9,613.2 621.2,613.4 621.6,614.5 621.9,616.5 622.3,615.0 622.6,615.6 623.0,613.5 623.3,614.4 623.7,614.5 624.0,613.1 624.3,612.7 624.7,610.5 625.0,613.0 625.4,612.0 625.7,610.4 626.1,615.0 626.4,613.7 626.8,612.2 627.1,614.9 627.5,611.0 627.8,615.0 628.1,611.4 628.5,613.6 628.8,612.1 629.2,613.3 629.5,612.5 629.9,612.1 630.2,612.5 630.6,613.5 630.9,613.7 631.3,611.7 631.6,614.8 631.9,612.1 632.1,610.9 632.3,613.3 632.6,609.4 633.0,608.4 633.3,608.5 633.7,606.4 634.0,608.9 634.4,605.7 634.7,605.7 635.1,606.5 635.4,605.8 635.7,602.1 636.1,603.0 636.4,599.1 636.8,600.8 637.1,599.4 637.5,600.4 637.8,599.6 638.2,596.5 638.5,599.0 638.9,597.9 639.2,597.1 639.5,594.9 639.9,599.3 640.2,595.7 640.6,596.1 640.9,595.7 641.3,595.3 641.6,597.0 642.0,596.5 642.3,595.3 642.7,593.4 643.0,592.2 643.3,594.7 643.7,595.0 644.0,594.0 644.4,592.3 644.7,594.2 645.1,594.6 645.4,592.6 645.5,593.0 645.8,595.1 646.1,592.3" stroke="#ec0c16"/>
<path d="M395.9,597.9 396.2,597.2 396.6,597.3 396.9,599.4 397.3,599.2 397.6,597.4 398.0,599.8 398.3,597.8 398.7,599.0 399.0,600.4 399.4,597.7 399.7,598.2 400.0,599.5 400.4,597.8 400.7,596.8 401.1,598.9 401.4,597.3 401.8,598.3 402.1,597.3 402.5,598.1 402.8,597.2 403.2,599.3 403.5,598.2 403.8,597.2 404.2,598.9 404.5,598.2 404.9,598.6 405.2,597.7 405.6,598.8 405.9,597.9 406.3,598.2 406.6,598.7 407.0,598.9 407.3,597.5 407.7,597.7 408.0,597.7 408.3,598.8 408.7,596.2 409.0,597.3 409.4,599.5 409.7,597.2 410.1,597.6 410.4,598.9 410.8,597.9 411.1,599.1 411.5,598.5 411.8,597.2 412.1,597.7 412.5,598.5 412.8,598.1 413.2,597.2 413.5,597.0 413.9,597.4 414.2,597.0 414.6,597.5 414.9,596.7 415.3,598.7 415.6,598.3 415.9,596.6 416.3,597.5 416.6,598.3 417.0,598.2 417.3,597.2 417.7,598.2 418.0,599.7 418.4,597.7 418.7,598.8 419.1,597.5 419.4,597.3 419.7,597.2 420.1,597.1 420.4,597.9 420.8,598.2 421.1,599.7 421.5,597.9 421.8,596.9 422.2,597.2 422.5,596.4 422.9,596.4 423.2,596.3 423.5,595.9 423.9,597.1 424.2,598.8 424.6,597.5 424.9,595.9 425.3,598.3 425.6,596.7 426.0,597.7 426.3,598.9 426.7,597.3 427.0,598.2 427.3,597.6 427.7,596.4 428.0,598.7 428.4,599.2 428.7,597.3 429.1,598.0 429.4,597.3 429.8,597.4 430.1,598.3 430.5,596.9 430.8,596.9 431.2,597.6 431.5,597.0 431.8,599.5 432.2,599.0 432.5,597.1 432.9,597.8 433.2,596.9 433.6,597.1 433.9,596.6 434.3,597.0 434.6,598.0 435.0,598.8 435.3,599.4 435.6,597.5 436.0,599.1 436.3,598.5 436.7,598.1 437.0,599.5 437.4,596.4 437.7,597.1 438.1,597.3 438.4,598.9 438.8,597.3 439.1,598.4 439.4,599.0 439.8,598.5 440.1,596.0 440.5,598.4 440.8,596.2 441.2,596.7 441.5,598.4 441.9,596.3 442.2,596.9 442.6,597.3 442.9,596.7 443.2,596.4 443.6,596.0 443.9,596.4 444.3,597.6 444.6,596.7 445.0,597.6 445.3,596.7 445.7,596.0 446.0,596.4 446.4,597.2 446.7,598.6 447.0,595.6 447.4,597.4 447.7,598.8 448.1,597.1 448.4,597.6 448.8,598.1 448.9,598.5 449.1,596.9 449.5,596.0 449.8,593.1 450.2,591.3 450.4,588.6 450.5,585.4 450.9,565.4 451.2,549.4 451.5,527.8 451.6,529.1 451.9,523.7 452.0,520.1 452.2,524.5 452.3,534.5 452.4,527.0 452.6,533.0 452.7,521.9 452.8,525.8 453.0,528.4 453.1,527.9 453.2,514.1 453.4,532.6 453.5,537.0 453.6,538.3 453.8,518.0 453.9,518.1 454.0,522.3 454.2,517.8 454.3,530.5 454.4,521.1 454.6,523.8 454.7,537.5 454.8,532.6 455.0,529.6 455.1,526.1 455.2,519.7 455.4,534.4 455.5,525.4 455.7,529.9 455.8,538.3 455.9,530.9 456.1,521.7 456.2,534.8 456.3,530.2 456.5,528.9 456.6,533.2 456.7,528.6 456.9,531.5 457.0,525.1 457.1,531.8 457.3,528.5 457.4,523.5 457.5,522.2 457.7,530.3 457.8,534.7 457.9,523.6 458.1,513.1 458.2,520.9 458.3,539.2 458.5,539.9 458.6,522.0 458.7,531.4 458.9,523.5 459.0,520.1 459.1,524.2 459.3,532.8 459.4,519.5 459.5,536.5 459.7,532.3 459.8,526.5 460.0,548.1 460.1,520.1 460.2,521.3 460.4,537.5 460.5,522.3 460.6,521.7 460.8,519.3 460.9,521.0 461.0,537.3 461.2,532.8 461.3,526.8 461.4,534.3 461.6,523.1 461.7,531.3 461.8,532.5 462.0,523.4 462.1,526.3 462.2,527.2 462.4,512.2 462.5,520.8 462.6,533.1 462.8,518.8 462.9,532.7 463.0,534.0 463.2,527.7 463.3,525.1 463.4,518.1 463.6,533.2 463.7,539.4 463.8,521.6 464.0,526.3 464.1,527.8 464.3,525.2 464.4,543.4 464.5,535.3 464.7,526.8 464.8,522.0 464.9,536.6 465.1,532.7 465.2,539.1 465.3,524.7 465.5,528.6 465.6,531.3 465.7,525.8 465.9,537.8 466.0,519.2 466.1,519.1 466.3,532.1 466.4,531.4 466.5,527.7 466.7,520.4 466.8,532.6 466.9,521.7 467.1,519.6 467.2,519.9 467.3,540.5 467.5,530.5 467.6,525.4 467.7,517.8 467.9,516.8 468.0,518.7 468.1,536.7 468.3,534.9 468.4,526.4 468.6,533.0 468.7,519.4 468.8,518.3 469.0,525.6 469.1,520.5 469.2,527.3 469.4,537.3 469.5,527.4 469.6,518.3 469.8,531.6 469.9,531.6 470.0,522.5 470.2,517.3 470.3,530.9 470.4,525.3 470.6,524.6 470.7,532.7 470.8,531.6 471.0,522.3 471.1,532.3 471.2,528.6 471.4,521.7 471.5,526.7 471.6,528.3 471.9,527.2 472.0,528.1 472.3,535.9 472.7,539.0 473.0,544.9 473.4,548.6 473.7,555.9 474.1,557.3 474.4,564.0 474.6,569.0 474.8,567.3 475.1,570.6 475.4,571.7 475.8,575.6 476.1,579.2 476.5,578.0 476.8,584.2 477.2,585.9 477.5,585.9 477.9,586.9 478.2,593.6 478.5,595.1 478.6,593.2 478.9,594.9 479.2,599.1 479.6,599.7 479.9,599.7 480.3,603.2 480.6,606.7 481.0,605.7 481.3,606.5 481.7,610.5 482.0,610.0 482.4,613.4 482.7,616.5 482.7,612.8 483.0,614.6 483.4,615.0 483.7,615.3 484.1,616.7 484.4,617.4 484.8,620.1 485.1,620.2 485.5,621.8 485.8,622.1 486.2,620.9 486.5,621.6 486.9,624.2 487.2,626.1 487.5,625.6 487.9,626.8 488.2,627.0 488.4,624.5 488.6,624.6 488.9,625.5 489.3,628.1 489.6,628.0 490.0,628.3 490.3,629.5 490.7,627.6 491.0,629.4 491.3,629.0 491.7,630.1 492.0,630.0 492.3,632.2 492.4,630.5 492.7,632.3 493.1,632.0 493.4,630.0 493.8,628.8 494.1,626.4 494.5,628.6 494.8,625.9 495.1,626.2 495.5,624.1 495.8,625.0 496.2,626.5 496.5,624.2 496.9,624.3 497.2,625.0 497.3,623.8 497.6,623.5 497.9,621.5 498.3,621.1 498.6,620.7 498.9,619.3 499.3,616.9 499.6,618.0 500.0,614.6 500.3,615.1 500.7,613.9 501.0,613.9 501.4,613.5 501.7,610.4 502.1,612.3 502.3,612.1 502.4,610.3 502.7,610.3 503.1,610.4 503.4,612.1 503.8,612.1 504.1,607.7 504.5,611.0 504.8,610.9 505.2,610.6 505.5,609.3 505.9,609.0 506.1,606.9 506.2,606.1 506.5,607.5 506.9,604.6 507.2,606.0 507.6,608.4 507.9,605.3 508.3,606.7 508.6,607.6 509.0,607.3 509.3,608.7 509.7,607.2 510.0,606.2 510.4,607.9 510.7,607.0 511.0,607.2 511.4,609.3 511.7,609.0 512.1,608.7 512.4,607.1 512.8,608.1 513.1,607.4 513.5,607.2 513.8,605.4 514.2,607.7 514.5,606.3 514.8,604.8 515.2,606.1 515.5,607.8 515.9,606.9 516.2,605.5 516.6,607.0 516.9,606.4 517.3,606.0 517.6,605.5 518.0,606.1 518.3,607.6 518.6,608.0 519.0,609.0 519.3,608.3 519.7,605.3 520.0,605.1 520.4,608.9 520.7,605.2 521.1,606.0 521.4,606.0 521.8,608.0 522.1,604.8 522.4,605.3 522.8,604.6 523.1,607.0 523.5,607.4 523.8,606.2 524.2,606.6 524.5,605.3 524.9,606.3 525.2,607.5 525.6,606.7 525.9,605.4 526.2,606.6 526.6,607.1 526.9,607.9 527.3,606.5 527.6,606.0 528.0,608.3 528.3,604.9 528.7,610.2 529.0,609.0 529.4,607.4 529.7,607.5 530.1,607.9 530.4,606.3 530.7,607.3 531.1,607.7 531.4,609.4 531.8,606.4 531.8,607.6 532.1,606.5 532.5,608.9 532.8,608.8 533.2,604.1 533.5,606.9 533.9,604.5 534.2,604.1 534.5,607.5 534.9,607.0 535.2,606.8 535.6,602.1 535.9,601.7 536.3,603.9 536.6,603.4 537.0,603.2 537.3,601.8 537.7,600.4 538.0,603.4 538.3,601.1 538.7,602.2 539.0,601.8 539.4,601.4 539.7,602.4 540.1,598.9 540.4,600.4 540.8,600.7 541.1,599.6 541.5,598.4 541.8,598.4 542.1,595.9 542.2,595.7 542.5,595.4 542.8,598.1 543.2,598.8 543.5,595.0 543.9,595.2 544.2,595.3 544.6,598.9 544.9,598.6 545.3,595.2 545.6,597.8 545.9,597.4 546.3,597.5 546.6,594.9 547.0,596.3 547.3,595.2 547.7,594.5 548.0,595.1 548.4,594.1 548.7,596.1 549.1,596.8 549.4,598.0 549.7,597.2 550.1,596.8 550.4,597.2 550.8,597.5 551.1,595.1 551.5,593.4 551.8,595.5 552.2,598.4 552.5,594.4 552.9,595.5 553.2,594.6 553.3,596.8 553.6,595.9 553.9,593.1 554.2,594.9 554.6,596.1 554.9,596.9 555.3,596.9 555.6,597.1 556.0,597.4 556.3,596.5 556.7,594.0 557.0,597.6 557.4,596.1 557.7,596.1 558.0,595.6 558.4,593.5 558.7,594.2 559.1,594.4 559.4,595.3 559.8,596.2 560.1,593.6 560.5,595.4 560.8,597.4 561.2,596.4 561.5,596.4 561.8,597.0 562.2,595.9 562.5,595.5 562.9,594.4 563.2,596.1 563.6,595.5 563.9,597.3 564.3,596.6 564.6,594.6 565.0,597.3 565.3,596.7 565.6,598.0 566.0,596.6 566.3,595.7 566.7,595.6 567.0,594.9 567.4,596.2 567.7,599.3 568.1,595.2 568.4,596.2 568.8,597.1 569.1,595.7 569.1,596.3 569.4,597.6 569.8,594.9 570.1,597.2 570.5,597.5 570.8,598.8 571.2,598.8 571.5,598.2 571.9,599.9 572.2,598.1 572.6,595.1 572.9,598.4 573.3,599.9 573.6,599.5 573.9,598.7 574.3,597.3 574.6,597.7 575.0,596.8 575.3,598.4 575.7,595.4 576.0,597.5 576.4,596.4 576.7,596.8 577.1,597.8 577.4,598.5 577.7,598.8 578.1,597.1 578.4,599.1 578.8,596.3 579.1,599.1 579.5,598.6 579.8,599.0 580.2,597.2 580.5,599.9 580.9,597.4 581.2,598.2 581.5,595.9 581.9,597.8 582.2,599.2 582.6,597.7 582.9,600.3 583.3,599.4 583.6,599.1 584.0,598.5 584.3,599.3 584.7,600.1 584.8,599.6 585.0,599.8 585.3,594.8 585.7,601.9 586.0,599.4 586.4,599.2 586.7,599.2 587.1,598.2 587.4,597.5 587.8,599.0 588.1,596.8 588.5,600.1 588.8,599.8 589.1,598.7 589.5,599.7 589.8,601.1 590.2,600.8 590.5,601.6 590.9,596.4 591.2,599.0 591.6,597.6 591.9,597.4 592.3,599.3 592.6,597.2 592.9,600.0 593.3,598.7 593.6,599.4 594.0,599.6 594.3,596.9 594.7,596.6 595.0,600.0 595.4,600.2 595.7,597.7 596.1,598.0 596.4,598.7 596.8,598.8 597.1,598.7 597.4,598.4 597.8,600.0 598.1,602.4 598.5,599.4 598.8,602.4 599.2,600.8 599.5,600.0 599.9,600.9 600.2,602.4 600.6,599.7 600.6,603.5 600.9,602.8 601.2,599.9 601.6,602.7 601.9,599.5 602.3,602.1 602.6,601.5 603.0,600.6 603.3,599.9 603.7,599.9 604.0,602.6 604.4,601.3 604.7,601.7 605.0,602.4 605.4,603.1 605.7,602.3 606.1,603.5 606.4,603.4 606.8,602.7 607.1,603.9 607.5,601.4 607.8,603.7 608.2,602.6 608.5,601.3 608.8,604.8 609.2,603.1 609.5,601.7 609.9,602.5 610.2,601.9 610.6,602.0 610.9,601.4 611.3,604.1 611.6,604.4 612.0,603.1 612.3,604.7 612.6,602.0 613.0,603.1 613.3,603.3 613.7,605.8 614.0,605.3 614.4,604.1 614.7,606.1 615.1,604.1 615.4,604.9 615.8,602.7 616.1,606.7 616.3,604.7 616.5,605.5 616.8,604.9 617.1,604.4 617.5,605.6 617.8,603.5 618.2,603.8 618.5,605.4 618.9,606.4 619.2,606.3 619.6,606.2 619.9,604.6 620.3,606.3 620.6,604.4 620.9,606.1 621.3,605.2 621.6,606.9 622.0,606.6 622.3,607.4 622.7,604.0 623.0,606.4 623.4,607.4 623.7,607.8 624.1,606.3 624.4,606.0 624.7,606.8 625.1,604.3 625.4,606.5 625.8,607.0 626.1,603.5 626.5,605.9 626.8,605.2 627.2,605.4 627.5,604.0 627.9,606.9 628.2,605.7 628.5,603.7 628.9,607.1 629.2,607.0 629.6,607.9 629.9,605.2 630.3,604.8 630.6,606.9 631.0,603.5 631.3,606.3 631.7,605.0 632.0,605.7 632.1,602.9 632.3,602.7 632.7,603.9 633.0,604.5 633.4,605.4 633.7,605.6 634.1,604.1 634.4,605.9 634.8,603.1 635.1,605.8 635.5,603.4 635.8,604.6 636.1,602.7 636.5,601.9 636.8,605.6 637.2,605.5 637.5,605.3 637.9,603.0 638.2,605.4 638.6,602.3 638.9,605.6 639.3,603.7 639.6,605.5 640.0,604.4 640.3,602.6 640.6,605.2 641.0,605.2 641.3,603.0 641.7,602.0 642.0,603.1 642.4,602.2 642.7,602.3 643.1,603.0 643.4,604.5 643.8,604.0 644.1,604.3 644.4,604.7 644.8,604.8 645.1,603.1 645.5,604.6 645.5,604.8 645.8,604.7 646.2,604.9" stroke="#20c87a"/>
</g>
<path d="M395.9,664.0v-4.5M395.9,476.4v4.5M415.1,664.0v-2.5M415.1,476.4v2.5M434.3,664.0v-4.5M434.3,476.4v4.5M453.5,664.0v-2.5M453.5,476.4v2.5M472.7,664.0v-4.5M472.7,476.4v4.5M491.9,664.0v-2.5M491.9,476.4v2.5M511.1,664.0v-4.5M511.1,476.4v4.5M530.3,664.0v-2.5M530.3,476.4v2.5M549.5,664.0v-4.5M549.5,476.4v4.5M568.7,664.0v-2.5M568.7,476.4v2.5M587.9,664.0v-4.5M587.9,476.4v4.5M607.1,664.0v-2.5M607.1,476.4v2.5M626.3,664.0v-4.5M626.3,476.4v4.5M645.5,664.0v-2.5M645.5,476.4v2.5M664.7,664.0v-4.5M664.7,476.4v4.5M395.9,664.0h4.5M664.7,664.0h-4.5M395.9,632.7h2.5M664.7,632.7h-2.5M395.9,601.5h4.5M664.7,601.5h-4.5M395.9,570.2h2.5M664.7,570.2h-2.5M395.9,538.9h4.5M664.7,538.9h-4.5M395.9,507.7h2.5M664.7,507.7h-2.5M395.9,476.4h4.5M664.7,476.4h-4.5" stroke="#222" stroke-width="1.2" fill="none"/>
<rect x="395.9" y="476.4" width="268.8" height="187.6" fill="none" stroke="#222" stroke-width="1.4"/>
<g font-family='"Liberation Sans", sans-serif' font-size="10.2" fill="#2a2a2a" stroke="#2a2a2a" stroke-width="0.05"><text x="373.9" y="481.7" textLength="16.2" lengthAdjust="spacingAndGlyphs">3.0</text><text x="373.9" y="544.2" textLength="16.2" lengthAdjust="spacingAndGlyphs">1.5</text><text x="373.9" y="606.8" textLength="16.2" lengthAdjust="spacingAndGlyphs">0.0</text><text x="369.4" y="669.3" textLength="20.7" lengthAdjust="spacingAndGlyphs">-1.5</text><text x="381.4" y="678.0" textLength="27.0" lengthAdjust="spacingAndGlyphs">-0.01</text><text x="423.1" y="678.0" textLength="22.5" lengthAdjust="spacingAndGlyphs">0.00</text><text x="461.5" y="678.0" textLength="22.5" lengthAdjust="spacingAndGlyphs">0.01</text><text x="499.9" y="678.0" textLength="22.5" lengthAdjust="spacingAndGlyphs">0.02</text><text x="538.3" y="678.0" textLength="22.5" lengthAdjust="spacingAndGlyphs">0.03</text><text x="576.7" y="678.0" textLength="22.5" lengthAdjust="spacingAndGlyphs">0.04</text><text x="615.1" y="678.0" textLength="22.5" lengthAdjust="spacingAndGlyphs">0.05</text><text x="653.5" y="678.0" textLength="22.5" lengthAdjust="spacingAndGlyphs">0.06</text></g>
<text x="447.2" y="472.7" font-family='"Liberation Sans", sans-serif' font-size="8.3" font-weight="bold" fill="#2a2a2a" stroke="#2a2a2a" stroke-width="0.12" textLength="124.7" lengthAdjust="spacingAndGlyphs">1.3 M 3 Rows Closed</text>
<text transform="translate(357.9,569.5) rotate(-90)" x="-50.1" y="0" font-family='"Liberation Sans", sans-serif' font-size="14.5" fill="#0a0a0a" stroke="#0a0a0a" stroke-width="0.5" textLength="100.3" lengthAdjust="spacingAndGlyphs">Pressure (Pa X 10^5)</text>
<text x="492.6" y="693.6" font-family='"Liberation Sans", sans-serif' font-size="10.8" fill="#111" stroke="#111" stroke-width="0.35" textLength="72.9" lengthAdjust="spacingAndGlyphs">Time (sec)</text>
<rect x="610.2" y="464.2" width="71.4" height="48.3" fill="#fff" stroke="#222" stroke-width="1.4"/>
<line x1="617.2" y1="472.5" x2="650.7" y2="472.5" stroke="#6aa8e0" stroke-width="1.3"/>
<text x="655.0" y="476.9" font-family='"Liberation Sans", sans-serif' font-size="9.6" fill="#222" stroke="#222" stroke-width="0.1" textLength="18.7" lengthAdjust="spacingAndGlyphs">Ch1</text>
<line x1="617.2" y1="483.3" x2="650.7" y2="483.3" stroke="#f0a050" stroke-width="1.3"/>
<text x="655.0" y="487.7" font-family='"Liberation Sans", sans-serif' font-size="9.6" fill="#222" stroke="#222" stroke-width="0.1" textLength="18.7" lengthAdjust="spacingAndGlyphs">Ch2</text>
<line x1="617.2" y1="493.8" x2="650.7" y2="493.8" stroke="#e06080" stroke-width="1.3"/>
<text x="655.0" y="498.2" font-family='"Liberation Sans", sans-serif' font-size="9.6" fill="#222" stroke="#222" stroke-width="0.1" textLength="18.7" lengthAdjust="spacingAndGlyphs">Ch3</text>
<line x1="617.2" y1="504.2" x2="650.7" y2="504.2" stroke="#50c8a0" stroke-width="1.3"/>
<text x="655.0" y="508.6" font-family='"Liberation Sans", sans-serif' font-size="9.6" fill="#222" stroke="#222" stroke-width="0.1" textLength="18.7" lengthAdjust="spacingAndGlyphs">Ch4</text>
<line x1="2.0" y1="4.5" x2="339.5" y2="4.5" stroke="#555" stroke-width="1.5"/>
<line x1="2.0" y1="4.5" x2="2.0" y2="233.7" stroke="#555" stroke-width="1.5"/>
<line x1="339.9" y1="0.5" x2="339.9" y2="233.5" stroke="#666" stroke-width="1.5"/>
<line x1="342.0" y1="5.5" x2="678.6" y2="5.5" stroke="#555" stroke-width="1.5"/>
<line x1="342.0" y1="5.5" x2="342.0" y2="233.4" stroke="#666" stroke-width="1.5"/>
<line x1="678.6" y1="1.5" x2="678.6" y2="236.0" stroke="#444" stroke-width="1.6"/>
<line x1="2.0" y1="236.9" x2="343.5" y2="236.9" stroke="#777" stroke-width="1.5"/>
<line x1="343.5" y1="236.0" x2="682.0" y2="236.0" stroke="#333" stroke-width="1.6"/>
<line x1="2.0" y1="236.9" x2="2.0" y2="462.3" stroke="#444" stroke-width="1.5"/>
<line x1="343.6" y1="236.0" x2="343.6" y2="462.0" stroke="#666" stroke-width="2.0"/>
<line x1="681.9" y1="234.4" x2="681.9" y2="462.0" stroke="#555" stroke-width="1.6"/>
<line x1="2.0" y1="462.4" x2="344.0" y2="462.4" stroke="#333" stroke-width="1.6"/>
<line x1="343.6" y1="461.4" x2="682.0" y2="461.4" stroke="#666" stroke-width="1.2"/>
<line x1="344.7" y1="464.3" x2="682.3" y2="464.3" stroke="#777" stroke-width="1.2"/>
<line x1="3.4" y1="463.3" x2="3.4" y2="703.4" stroke="#444" stroke-width="1.5"/>
<line x1="3.4" y1="703.4" x2="344.7" y2="703.4" stroke="#444" stroke-width="1.6"/>
<line x1="344.7" y1="462.4" x2="344.7" y2="703.6" stroke="#444" stroke-width="1.6"/>
<line x1="344.7" y1="699.6" x2="682.6" y2="699.6" stroke="#555" stroke-width="1.6"/>
<line x1="682.6" y1="462.4" x2="682.6" y2="699.6" stroke="#666" stroke-width="2.0"/>
</svg></body></html>
